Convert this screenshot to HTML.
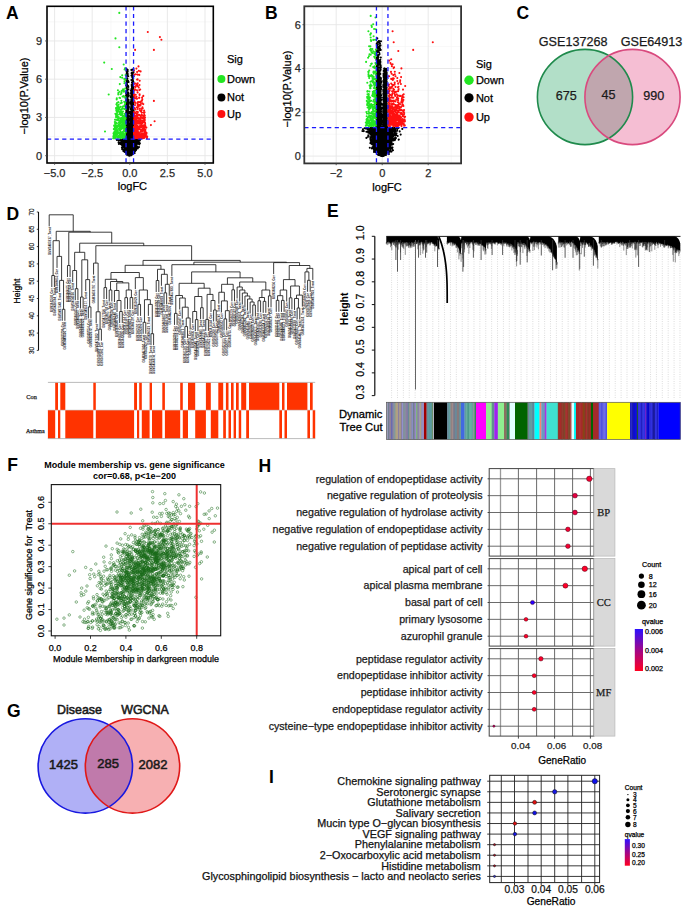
<!DOCTYPE html>
<html><head><meta charset="utf-8"><title>Figure</title>
<style>html,body{margin:0;padding:0;background:#fff;width:685px;height:908px;overflow:hidden}
svg{display:block;font-family:"Liberation Sans",sans-serif}</style></head>
<body><svg width="685" height="908" viewBox="0 0 685 908"><line x1="73.4" y1="6.3" x2="73.4" y2="163" stroke="#f3f3f3" stroke-width="0.6"/><line x1="111" y1="6.3" x2="111" y2="163" stroke="#f3f3f3" stroke-width="0.6"/><line x1="148.6" y1="6.3" x2="148.6" y2="163" stroke="#f3f3f3" stroke-width="0.6"/><line x1="186.2" y1="6.3" x2="186.2" y2="163" stroke="#f3f3f3" stroke-width="0.6"/><line x1="47" y1="136.57" x2="213.3" y2="136.57" stroke="#f3f3f3" stroke-width="0.6"/><line x1="47" y1="98.32" x2="213.3" y2="98.32" stroke="#f3f3f3" stroke-width="0.6"/><line x1="47" y1="60.07" x2="213.3" y2="60.07" stroke="#f3f3f3" stroke-width="0.6"/><line x1="47" y1="21.82" x2="213.3" y2="21.82" stroke="#f3f3f3" stroke-width="0.6"/><line x1="54.6" y1="6.3" x2="54.6" y2="163" stroke="#e6e6e6" stroke-width="0.9"/><line x1="92.2" y1="6.3" x2="92.2" y2="163" stroke="#e6e6e6" stroke-width="0.9"/><line x1="129.8" y1="6.3" x2="129.8" y2="163" stroke="#e6e6e6" stroke-width="0.9"/><line x1="167.4" y1="6.3" x2="167.4" y2="163" stroke="#e6e6e6" stroke-width="0.9"/><line x1="205" y1="6.3" x2="205" y2="163" stroke="#e6e6e6" stroke-width="0.9"/><line x1="47" y1="155.7" x2="213.3" y2="155.7" stroke="#e6e6e6" stroke-width="0.9"/><line x1="47" y1="117.45" x2="213.3" y2="117.45" stroke="#e6e6e6" stroke-width="0.9"/><line x1="47" y1="79.2" x2="213.3" y2="79.2" stroke="#e6e6e6" stroke-width="0.9"/><line x1="47" y1="40.95" x2="213.3" y2="40.95" stroke="#e6e6e6" stroke-width="0.9"/><path d="M129.7 151.5h0M128.4 142.9h0M128.9 147.4h0M129.8 146.4h0M131.7 139.9h0M130.9 152.9h0M129 140.5h0M130.5 144.2h0M129.5 155h0M128.4 151.9h0M127.9 142.4h0M132.5 149.1h0M130.2 152.8h0M128.2 144.7h0M126.8 154.1h0M127.8 141.2h0M133.9 143h0M138.8 139.8h0M124.8 139.3h0M127 141.9h0M129 153.9h0M129.3 149h0M131.1 153.7h0M127 140.4h0M137.6 141.9h0M132.7 148.4h0M133 151.7h0M129.2 153.9h0M129.2 155h0M133.5 143.2h0M129.2 142.7h0M131.6 148.4h0M132.5 141.7h0M134.5 141.7h0M129.4 144.1h0M130.9 142.7h0M134.3 139.8h0M125.5 148.3h0M128.9 146.8h0M135.2 144.3h0M123 142.7h0M127.6 151.7h0M131.8 141.9h0M132.8 140.8h0M126.5 144h0M132.1 142.3h0M125 148.8h0M127.7 145.1h0M123.5 143.8h0M131.4 150.8h0M127.6 141.2h0M127.1 153.3h0M129.2 149.4h0M127.4 143.1h0M123.9 139.5h0M132.5 143.9h0M130.3 144.3h0M135.1 140.3h0M130.3 147.5h0M122.3 140.1h0M124 142.9h0M118.9 144h0M131.2 147h0M130 140h0M130.4 141.3h0M127 148.3h0M131.7 140.3h0M129.4 150.4h0M130.1 147.4h0M131.8 140h0M132.2 145.6h0M126.8 145.8h0M129.5 146.1h0M130.1 154.3h0M132.4 145.4h0M131.3 154.1h0M129.2 150.5h0M130.3 141.2h0M124.3 139.3h0M118.6 140.2h0M130.2 148.4h0M128.4 149.2h0M129.3 143.5h0M130.9 150.3h0M129.9 154.1h0M130.4 140.3h0M127.9 141.6h0M127.9 139.6h0M128.5 149.5h0M131 149.4h0M132.7 143.6h0M126.5 140.7h0M128 149h0M129.4 145.1h0M136.9 143.4h0M134.2 144.7h0M134.4 140.4h0M130.1 148.5h0M131 152.2h0M128.4 150.6h0M130.2 142.2h0M131.4 152.2h0M132.4 144.3h0M129.3 150.7h0M127 150.5h0M123.5 151.3h0M128.8 148.1h0M132.4 154h0M125.9 147.5h0M127.9 154.9h0M131.4 149.8h0M129.5 149.4h0M125.1 144.8h0M134.5 150.2h0M126.3 148.9h0M132.2 148.6h0M132.4 148.5h0M128.1 145.5h0M129.8 155h0M136.3 142.1h0M132.5 146.3h0M128.8 151.6h0M132.5 149.7h0M129.7 152.8h0M135 148.7h0M130.4 153h0M133 142.4h0M137.5 148h0M128.5 149.1h0M127.8 143.7h0M127.7 142.3h0M131.7 151h0M131.2 153.7h0M121.7 140.8h0M130.1 154.6h0M127.4 143.6h0M127.6 152.6h0M131.8 150.4h0M130.2 143.7h0M128.3 153.3h0M131.2 153.8h0M131.7 146.8h0M128.5 147.7h0M130.3 149.7h0M136.2 140.4h0M128.8 144h0M132.1 147h0M131 155.1h0M130.6 146.7h0M131.1 143.9h0M127.8 144.4h0M132.3 147.8h0M127.9 144.2h0M131.7 151.7h0M127.7 149.8h0M129.3 144.3h0M131.2 140.5h0M129.4 147.4h0M135.1 145.6h0M129.9 146.6h0M132 142.9h0M137.2 146.8h0M130.2 152.7h0M129.3 139.6h0M131 143.2h0M132.3 149.4h0M130.4 144.7h0M128.9 144.1h0M128.7 152.9h0M126.9 146.6h0M130.8 150.6h0M126.5 152.1h0M121.5 142.5h0M125.9 145.1h0M130.8 151.9h0M129.9 152.3h0M134.2 143.2h0M123.6 139.9h0M131.1 144.3h0M130.6 154.5h0M129.6 148.6h0M132.6 147.2h0M131 149.3h0M127.2 147.8h0M136.5 140.7h0M128.9 146.9h0M130.1 151.9h0M130.8 150.9h0M128.3 144.7h0M125.3 144.7h0M129.5 144.5h0M129.5 146.8h0M130.5 145.9h0M134 141.7h0M128.2 148.2h0M129 154.8h0M132.6 148.3h0M130.7 150.5h0M132.8 143.1h0M134.3 139.6h0M134.9 145h0M128.6 155.5h0M128.5 155.4h0M129.6 152.4h0M130.7 148.5h0M136 147.8h0M126.8 142.2h0M136.2 143.3h0M135.2 139.9h0M134.1 143.2h0M128.5 140.2h0M130.3 154.9h0M126.7 149.7h0M127.7 146.8h0M127.9 139.9h0M125.1 141.4h0M131 152.4h0M122.1 142.3h0M125.6 141h0M129.4 151.9h0M131.7 147.1h0M127.5 141.5h0M130.1 151.1h0M128 141.9h0M128.5 154.2h0M130 144.7h0M130 152.8h0M125.3 139.8h0M129.8 154.7h0M129.6 141.6h0M128.7 150.4h0M123.3 141h0M124.7 149.7h0M122.3 146.2h0M128.2 147h0M131.6 146.1h0M129.4 152.4h0M134.2 139.1h0M133.1 143.8h0M124.6 142.3h0M129.3 153h0M126.4 148.4h0M127.7 149.1h0M124.1 139.4h0M124.9 146.8h0M129.2 151.3h0M129 150.1h0M125.9 145h0M128.6 145.4h0M130.6 147.8h0M126.7 142.3h0M136.3 141.8h0M134.1 139.2h0M129.6 145.9h0M130.1 147.9h0M126.8 148.1h0M127.4 146.2h0M133.8 144.7h0M132 150.4h0M129.3 142.7h0M131.7 148.3h0M125.1 146.6h0M131.8 139.3h0M129.3 150.5h0M128.8 141.8h0M130.7 147h0M126.5 143.1h0M129 142.3h0M124.1 146.4h0M130.5 141.6h0M131.9 151.9h0M129 145.1h0M126.4 140.7h0M127.4 139.7h0M131.1 143.3h0M131 139.9h0M124.7 144.5h0M129.3 143.7h0M128.6 154.1h0M124 141.8h0M128.8 154.9h0M126 143.8h0M134.7 140.8h0M129.6 147.4h0M126.6 146.1h0M127.4 140.6h0M130.8 144.6h0M124.9 147.7h0M130.6 154.5h0M131.2 144.5h0M127.3 152.1h0M129.1 151.7h0M129.3 149.5h0M129.5 154.4h0M129.2 155.5h0M135.6 145.2h0M125.9 140.9h0M126.6 141.5h0M129.6 154.8h0M130.4 154.6h0M127.1 150.8h0M131.1 148.8h0M136 142h0M128.5 149.7h0M129.9 152.4h0M125.4 143.4h0M129.6 146.3h0M138.7 142.6h0M128.1 144.6h0M125.5 139.2h0M127 147h0M131.6 143.6h0M123.9 143.3h0M125.8 143.5h0M130.7 140.2h0M131.3 154.1h0M133.2 146.4h0M130.6 151.1h0M134 146.7h0M131 154.3h0M131 140.8h0M133 145.6h0M131.7 148.5h0M129.1 143.8h0M129.2 146.7h0M132.2 141.4h0M130.6 143.4h0M131.3 141.4h0M136.4 141.8h0M130.7 153.6h0M132.9 148h0M125.4 146.9h0M130.5 153.7h0M126.6 145.4h0M132 144.8h0M128.7 145.8h0M129.1 144.1h0M126.2 139.8h0M123.6 139.9h0M127.7 139.6h0M124.9 146.1h0M130.1 155.5h0M129.6 146.4h0M131.2 150.9h0M131 143.2h0M130.9 150.2h0M129 142.1h0M135.4 142.5h0M129.3 154.5h0M124.6 140.1h0M133.4 143.3h0M131.7 142.9h0M130.1 153.9h0M130.7 150.8h0M128.2 144.8h0M129.6 141.8h0M132.8 148.6h0M131.7 140h0M129 145.8h0M129.8 152.8h0M130.2 142.9h0M127.2 151.8h0M132.3 141.9h0M127.7 147h0M131 142.5h0M129.5 146.1h0M125 147.6h0M127.2 143.6h0M131 151.6h0M129 153.4h0M128.9 144.8h0M127.7 148.8h0M132.5 144.5h0M132.8 142h0M128.5 145h0M133.7 149.1h0M125.9 141.7h0M128.6 139.7h0M128.6 152.5h0M132.4 141h0M130.3 144.3h0M132.1 141.2h0M129.1 146.2h0M133.6 140.1h0M132.5 144h0M129.2 149.9h0M129.3 145.5h0M129.8 154.4h0M132.5 146.3h0M129.1 148.9h0M129.4 151.9h0M125.7 139.3h0M136 140.5h0M139.3 144.4h0M129.5 142.6h0M132.6 148.7h0M123.4 145.7h0M129.9 152.6h0M130.9 142.9h0M131.7 149.5h0M127.6 147.1h0M125.3 144h0M125.7 142.7h0M129.4 147.6h0M127.2 141.6h0M126 149.8h0M129.1 148.2h0M121.6 141.4h0M127.8 141.6h0M128.1 148.6h0M133 143.5h0M131.7 150.8h0M129.9 150.7h0M130.5 142.4h0M126.7 151h0M132.4 146.4h0M128.7 147h0M133.3 142.7h0M132.4 149.2h0M130.5 150.5h0M130.5 147.4h0M132.3 148.2h0M127.8 152.2h0M136 141.4h0M126.1 145h0M129.9 152.7h0M131.3 143.6h0M127.6 147.2h0M132.2 152.5h0M131.1 139.2h0M129 150.3h0M122.3 146.4h0M128.4 150.5h0M128.9 145.1h0M131.4 139.2h0M127.8 145.8h0M130.3 148.9h0M126.9 145.6h0M128.4 139.9h0M131.9 147.6h0M128.6 152.7h0M127.2 143.5h0M129.1 152.4h0M126.3 147.7h0M130.6 154.2h0M132.6 147.8h0M131.6 143.7h0M132.9 140.7h0M131.4 142.1h0M130.7 141.9h0M127.4 148.8h0M129.8 147.4h0M131.1 144.1h0M126.1 148.8h0M132.4 150.5h0M124.6 146.7h0M131.7 147h0M133.9 144.9h0M129.7 152.8h0M129.5 152.6h0M131.3 143.9h0M131.7 147h0M130.5 141.3h0M136 144.6h0M129.8 151.5h0M131.5 145h0M130.9 142h0M127.8 141.9h0M132.8 150.4h0M131 139.8h0M131.1 147.5h0M127.3 144.5h0M128.7 146.3h0M129.5 140.2h0M128.5 148h0M130.1 142.3h0M125.7 142.6h0M125.8 141h0M130.5 153.7h0M129.7 153.4h0M126.9 144.6h0M127.8 148.7h0M135.8 143.1h0M127.2 140.2h0M123 140.3h0M130.6 144.2h0M127.9 153.2h0M125.5 139.7h0M124.8 145.3h0M127.4 145.7h0M129.8 145.7h0M134.7 139.4h0M128.2 154.2h0M134.5 149.3h0M130 146.4h0M131.8 147.9h0M129.2 153.7h0M127.9 148.2h0M129 153.7h0M127.8 147.3h0M128.6 152.3h0M138.2 143.3h0M129.3 151.1h0M125.3 147.7h0M129.8 149h0M126.7 148.2h0M128.4 148.1h0M129.4 150.6h0M130.1 153.6h0M135 140.4h0M131.9 147.9h0M120.9 144.2h0M131 145.9h0M123.2 139.8h0M127.3 145.3h0M129.3 139.3h0M129.6 154.9h0M132.3 140.3h0M133 140.9h0M124.4 148.1h0M134.2 140.9h0M133.6 144.5h0M132.3 144.3h0M130.8 149.5h0M131.9 151.8h0M127.2 141h0M133.8 147.6h0M130.7 142.3h0M137.8 142.2h0M130.4 152.4h0M129.7 145.8h0M129.3 153h0M131.1 140.7h0M134.5 140.1h0M128.5 152.5h0M136 143.1h0M133 142.2h0M130 147.3h0M133.9 142.9h0M130 152h0M131.6 142.4h0M131.2 151.8h0M128.4 144h0M131.5 139.4h0M130.9 149.2h0M128.9 154.9h0M131.8 144.7h0M129.6 149.5h0M129.6 146.4h0M128.5 144.1h0M132.2 151.6h0M127.4 147.4h0M129.3 150.3h0M133.5 149.5h0M130.8 153.3h0M130.8 148.9h0M125.8 147.3h0M123.9 144.7h0M128.6 148h0M128.9 140.5h0M135 142.5h0M127.4 151.5h0M130.9 148.6h0M135.9 144.4h0M127.2 145.4h0M120.5 143.4h0M130.7 139.3h0M125 149.4h0M125.2 139.6h0M134.4 141.5h0M122.6 144.8h0M134.8 147.2h0M128.1 142.2h0M128.5 143.8h0M128 148.9h0M128.9 153.4h0M132.7 147.6h0M131.2 149.1h0M129.3 154h0M128.9 147.7h0M130.2 154.7h0M135.8 142.2h0M128.4 140.3h0M130.9 152.7h0M125.6 148.2h0M134 144.9h0M125.4 150.3h0M134.8 141.6h0M131.2 145h0M127.5 147.1h0M128.8 144.4h0M127.1 141.8h0M133.2 149.2h0M132.5 142.5h0M133.7 139.9h0M128.4 146.9h0M125.8 146.4h0M131.9 153.7h0M132.8 150.1h0M124.4 141.7h0M129.2 148.2h0M129.4 140.9h0M131.1 150.8h0M132.2 148.6h0M129.2 150.7h0M128.6 142.2h0M124.6 139.5h0M132.7 142.1h0M130.2 144.5h0M134.4 143.1h0M129.9 151.4h0M131.7 152.5h0M124.5 140.4h0M129.7 153.8h0M126.9 153.4h0M133.4 141.3h0M122 142.2h0M132.8 142.5h0M137.7 141.7h0M128.8 141.6h0M125.8 148h0M130.5 147.1h0M130.3 149.8h0M128.9 144.3h0M124.2 144.2h0M127.6 145.7h0M135.6 140.8h0M126.6 152.6h0M128.1 147h0M130.6 152.4h0M128.7 148.8h0M129.2 153.3h0M131.4 148h0M128.3 141h0M130.7 149.9h0M129.2 147.7h0M131.3 146.5h0M127.8 140.2h0M127.6 141.4h0M131.7 153.6h0M131 154.9h0M130.2 151.7h0M134.9 147.9h0M128.6 153.6h0M130 154.2h0M126 147.3h0M134 139.5h0M129.9 151.4h0M129.7 154.9h0M131.6 153.1h0M124.4 145.1h0M131.8 140.7h0M123.7 141.4h0M129.2 149.5h0M136.1 140.4h0M126.5 151.9h0M124.9 144.7h0M127.7 145h0M129.1 145.2h0M130.3 143.1h0M128.5 139.3h0M126.1 146.4h0M133 140.8h0M129 150.4h0M129.2 151.8h0M135.4 147.1h0M128.7 141.6h0M124.1 149.9h0M132.2 141.5h0M130.6 154.2h0M139 147.1h0M125.3 139.5h0M132.3 151.7h0M131.7 147.9h0M130 150h0M129.5 148.9h0M126.8 147.3h0M124.6 139.7h0M129.2 143.8h0M133.7 141.9h0M130.5 141.1h0M127.2 147.8h0M133.4 143h0M124.7 143.3h0M130.9 153.7h0M136.3 148.3h0M130.4 152.1h0M128.2 146.8h0M133.3 140.6h0M128.6 151.8h0M129.4 149.8h0M132.5 148.7h0M124.7 141.4h0M129.2 145.2h0M132.5 145.4h0M133.5 139.1h0M129.6 150.6h0M130.7 142.9h0M128 146.3h0M129.7 149.6h0M128.8 145h0M127.2 149.1h0M131.8 145.8h0M127.3 148.4h0M130.6 154.1h0M130.7 152.1h0M128.6 152.2h0M131.6 139.7h0M130.7 146.5h0M133.6 145.5h0M127.2 147.9h0M136.7 141.5h0M130.1 149.9h0M128.2 151.8h0M128.1 151.4h0M124.3 146h0M127.4 149.7h0M128.2 150.8h0M130.5 151.6h0M132.1 139.3h0M129.8 144.3h0M124.5 140.4h0M127.9 144.5h0M131.1 152.2h0M134.1 139.6h0M129.7 145.2h0M129 149.1h0M133.2 152h0M134 142.1h0M132.4 141.9h0M129.9 155.6h0M128.7 152.2h0M128.3 142.4h0M127.2 142h0M123.7 144.6h0M129.6 151.8h0M126.1 148.9h0M126.2 142h0M130 151.2h0M124.7 147h0M129.7 147h0M127.5 141.7h0M127.3 140.4h0M133.9 144.1h0M131.5 148.2h0M129.6 146h0M137.6 143.7h0M127.8 145.2h0M130.6 154.7h0M126.7 145.9h0M133.4 141.9h0M135.6 144.4h0M127 141.9h0M133.2 141.1h0M126.8 139.8h0M131.1 151.9h0M130 145.5h0M132.8 145.8h0M129.3 143.1h0M127.1 148.7h0M131.4 149.9h0M127.4 139.5h0M129.9 142.4h0M131.5 148.6h0M128 139.7h0M129 145h0M120.3 140.5h0M127.3 144.3h0M124.8 147.6h0M131.3 152.3h0M132.9 144.8h0M132.9 144.9h0M128.4 153.5h0M130.6 154.6h0M128.1 146.8h0M133.4 147.6h0M139.9 143.2h0M137.5 140h0M127 148.6h0M131.2 142.2h0M131.7 148.3h0M136.1 140.3h0M132.1 152.9h0M129.9 146.6h0M129 154.2h0M133.6 146.4h0M134.1 144.3h0M132 144.7h0M128.6 150.9h0M131.2 140.9h0M128.7 139.4h0M133.6 148h0M126.5 140.6h0M126.3 149.4h0M125.9 147.8h0M128.6 149.5h0M133.4 144.7h0M133.7 144.7h0M133 143.2h0M131 143.9h0M135.2 139.3h0M130.7 154h0M128.4 141.8h0M132.6 151.9h0M131.5 152.6h0M126.8 146.3h0M130.3 145.6h0M130.5 145.2h0M129.9 155.3h0M128.5 151.4h0M135.6 144.9h0M132.4 141.5h0M124.4 147.2h0M125.9 145.9h0M129 143.4h0M128.7 153.1h0M123.5 142.8h0M135.9 141.2h0M128 149.1h0M128.9 153.8h0M129.5 152.2h0M130.8 154.5h0M132.4 147.9h0M129.5 152.2h0M130.1 148.5h0M132.5 140.4h0M136.8 140.9h0M132.7 139.8h0M130.4 150.3h0M130.1 153.8h0M134.1 148.8h0M129.9 147.3h0M128.5 146.3h0M120.5 139.5h0M133.3 149.3h0M130.4 148.8h0M129.8 150.6h0M124.5 144.7h0M133.8 140.1h0M127.1 152.2h0M131.4 148.1h0M127.9 147.9h0M122.6 143.5h0M135.3 143.2h0M130.7 150.7h0M131.2 148.5h0M131.6 145.8h0M131.9 141h0M132 141.2h0M131.8 151.1h0M128.8 139.2h0M128.9 148.6h0M129.9 155.4h0M129.6 149.7h0M133.9 143.7h0M133.6 140.2h0M131.3 153h0M136.2 143.4h0M125.1 145.2h0M126.3 150.9h0M125.7 140.4h0M128.8 153.8h0M137.4 142h0M125.5 147.6h0M134.4 140.8h0M131 148.7h0M130.4 142h0M128.2 150.2h0M128.4 149.4h0M129.8 148.6h0M131.1 150.1h0M131.4 145.5h0M125.7 143.9h0M128.8 141.2h0M130.8 147.9h0M129.5 139.3h0M130.9 148.8h0M131.1 149h0M129.4 145.1h0M131.7 147.2h0M130.6 146.5h0M125.1 139.2h0M135 143.3h0M129.6 152.2h0M126.3 145.6h0M130.9 149.6h0M131.1 148.8h0M129.9 155.4h0M132.6 143.3h0M130.3 146.9h0M126.2 141.8h0M129.9 143.7h0M126.2 143.4h0M128 153.5h0M127.6 148.8h0M126 145.2h0M130 152.2h0M125.4 139.3h0M124.5 142.4h0M127.6 141.7h0M133.9 140.6h0M135.1 150.5h0M128.6 140.3h0M124 144.1h0M130.8 140.2h0M129.1 141.7h0M131.3 151.6h0M129.2 143.9h0M129.8 150.1h0M130.4 147h0M129.6 153.5h0M126.4 145.8h0M130.4 141.4h0M128 150.3h0M135.2 141.2h0M130.2 147.1h0M128 144.8h0M128.9 151.3h0M127.5 146.9h0M124.2 142.5h0M130.4 155h0M128.8 152.6h0M128.6 144.4h0M126.2 140.1h0M127 145h0M129.4 151.4h0M130.5 140.9h0M127 139.3h0M129.8 154h0M124.6 150.4h0M131.6 139.2h0M128.7 145.1h0M130.3 147.4h0M136.9 142.6h0M129.1 154.9h0M132.1 143.3h0M125.2 141.8h0M132.4 143.8h0M131.1 154.6h0M132 140.8h0M131.6 152.6h0M133.8 141.8h0M132.3 142.1h0M128 154h0M126.2 151.5h0M134.2 144.8h0M131.5 144.3h0M133 150.7h0M133.2 152.2h0M126.6 143.7h0M124.3 143.2h0M131 140.4h0M132.2 147.9h0M133.2 143.7h0M130 142.3h0M130.2 140.8h0M128.5 139.4h0M123.1 146.2h0M126.1 151h0M124 141.2h0M124.5 140.9h0M134.2 142.5h0M125.1 145.6h0M131.7 142.4h0M127.3 145.5h0M138.4 141.4h0M136 145.3h0M132.4 146.1h0M133.4 142.8h0M126.9 142.5h0M130.5 149h0M127.9 143.5h0M130.9 155h0M131.4 147.5h0M128.1 154.6h0M124.3 147.3h0M125.8 148h0M129.3 152.6h0M128.7 140.3h0M128.4 152h0M123 149.8h0M128.2 145.9h0M129 147.2h0M130 145.6h0M129.3 152.5h0M130 152.5h0M125.5 149.9h0M133.7 140.5h0M132.1 141.2h0M130.1 152h0M129.9 148.4h0M129.7 152.6h0M126 147.1h0M131.4 140.6h0M134.1 141.6h0M134.9 145.4h0M129.1 143.9h0M128.2 150.2h0M134.2 142.2h0M130.8 151.5h0M126.6 139.6h0M130.3 143.3h0M123.8 146.8h0M124.5 139.5h0M128.8 146.1h0M131.7 143.6h0M131.6 145.5h0M127.6 139.9h0M131.9 145.3h0M130.6 150.8h0M130.9 154.1h0M126.5 141.2h0M126 152.6h0M130.1 151.3h0M134.7 151.5h0M126.5 142.9h0M130.1 141.4h0M123.8 144.6h0M129.9 140.1h0M129.9 145h0M128.6 147.9h0M123.5 139.1h0M130.9 142.3h0M126.1 150h0M130.4 149.9h0M128.6 147.6h0M128.1 150h0M128.7 143h0M128.8 146.9h0M134 147h0M132 139.7h0M127.6 140.2h0M126.2 147.2h0M131.3 144.1h0M128.9 152.4h0M122 142h0M132.3 147.9h0M128.8 144.2h0M124.5 145.5h0M135.2 151.1h0M128.1 145.1h0M126.5 145.1h0M129.5 142.7h0M130 149h0M131.1 146.5h0M133.3 152.4h0M130.6 154.7h0M134 142.1h0M134.8 147.2h0M128.6 154.2h0M133.6 151.7h0M131.5 141.2h0M126.8 147.9h0M127.6 146.5h0M134.7 139.2h0M130.3 150.5h0M126.9 147.2h0M132.1 141.5h0M126.6 144.4h0M131.3 139.6h0M126.7 154.6h0M129.7 140.1h0M132.3 148.8h0M125.7 146.3h0M134.7 143.5h0M133.1 144.1h0M129 155.4h0M124.7 143.7h0M132.3 141.9h0M132.3 141.2h0M129.9 148.4h0M134.2 147.7h0M133 144h0M127.2 139.3h0M129.1 149.6h0M127.8 146.2h0M126 151.6h0M127.9 141.5h0M126.8 143.5h0M128.7 147.9h0M127.3 139.2h0M128.5 144.9h0M130.8 144.6h0M134.3 142.9h0M133.6 143h0M128.5 154.3h0M135.7 146.7h0M126.6 143.5h0M127.4 145.5h0M127.9 139.8h0M122.9 141.6h0M132.8 147.6h0M128.3 153h0M131.2 149.5h0M127.5 148.7h0M133 139.6h0M131.9 143.3h0M131.3 149.2h0M134.7 144.8h0M128.4 151.8h0M132.8 148h0M134.6 149h0M127.6 149h0M130.7 145.3h0M129.2 140.9h0M130.8 154.5h0M128.3 150.3h0M136.5 139.7h0M129 153.9h0M134.5 142.6h0M126.2 143.2h0M134.3 141.3h0M128.6 143.7h0M132 152.1h0M131.6 144.8h0M125.5 143.2h0M127.7 149.7h0M128.8 152.9h0M127.9 148.6h0M134.9 141.7h0M132.1 149.1h0M131.9 154.5h0M128.4 143.1h0M131.4 148.6h0M130.2 154.6h0M131.7 155.1h0M127.4 144.4h0M126.2 142.6h0M124.9 142.7h0M125.6 142.3h0M133.1 152h0M126.9 140.2h0M123.9 144.2h0M129.8 153.8h0M127.3 149.8h0M139.1 141h0M124.9 144.2h0M129.9 148.4h0M131.6 153.7h0M131.4 153.3h0M126 149.4h0M133.1 146.4h0M132.2 149.8h0M133.6 145.2h0M130.7 144.8h0M134.1 147h0M128.1 153.3h0M128.3 153.5h0M129.7 155.4h0M126.6 144.8h0M129 147.4h0M125.9 145.7h0M130.7 147.7h0M134 145.9h0M134.7 141.7h0M132.9 139.7h0M128.6 147.1h0M131.2 141.3h0M128.9 152.7h0M130.8 150.7h0M132.5 150.1h0M131.4 145.8h0M126 147.9h0M128.2 142.6h0M125.7 142.4h0M130.8 153.6h0M125.3 149.8h0M127.7 154.3h0M129.6 141.7h0M135.3 142.8h0M130.1 154.9h0M134.4 140.9h0M131.4 144.4h0M130.7 139.9h0M129.1 144.3h0M128.7 152.7h0M134.5 140.2h0M134.8 140.8h0M127.3 142.6h0M130.4 143.7h0M127.8 146.1h0M126.4 140.8h0M128.4 148.1h0M131.3 154.9h0M129.3 152.9h0M129.5 151.3h0M131 150.3h0M129.5 152.8h0M125.5 145h0M125.4 143.3h0M129 154.9h0M125.9 150.5h0M128.5 154.4h0M129.3 139.3h0M130.7 151.6h0M137.7 143.6h0M131 148.5h0M132.9 144.7h0M130.5 145.2h0M127.4 141.2h0M131.6 142.7h0M126.7 140.6h0M129.8 143.4h0M127.2 148.4h0M133.2 142.9h0M131.2 153.3h0M129 142.1h0M130.9 148.1h0M132.8 141.6h0M123.9 147.7h0M130.9 147.8h0M129.1 140.4h0M125 148.5h0M127.9 146h0M132.5 147.8h0M130.7 140.9h0M128.4 148.3h0M128.8 152.8h0M127.9 142.6h0M136.2 144.8h0M130.1 153.7h0M127.7 142.2h0M132.2 151.5h0M128.8 139.1h0M136.2 145.7h0M134 147.6h0M128.6 142.8h0M132.3 141.4h0M133.3 140.7h0M129.6 141.4h0M132.5 149.1h0M125.5 149.2h0M126.7 147.9h0M132.6 139.1h0M130.7 153.9h0M131.3 141.2h0M127.7 144.9h0M131.7 141.6h0M126 150.8h0M131.6 140.2h0M125.9 140h0M129.6 152.7h0M126.3 143.8h0M131.2 146.2h0M136.8 141.1h0M131.2 154.2h0M130.2 139.8h0M132.8 146.9h0M134.2 140.7h0M130.9 140h0M134.2 149h0M131.3 141.1h0M129 150.8h0M132.5 142.7h0M124.5 143.2h0M132.8 139.6h0M129.8 144.7h0M127.4 149.7h0M127.6 147.6h0M129.7 155.4h0M122.6 141h0M132.5 140.1h0M129.8 142.5h0M130.6 153.7h0M123.3 145.6h0M131.9 150.1h0M129.9 151.1h0M130.5 150.3h0M128.2 150.4h0M129.6 148.7h0M127.9 141h0M127.3 142.9h0M132.9 150.7h0M128.8 147.5h0M131.4 151.6h0M131.8 148.3h0M129.6 155.2h0M129.5 148h0M129.3 152h0M133.2 141.5h0M128.8 142.9h0M127.6 151.2h0M130.7 144.6h0M131.5 146.3h0M129.3 145.4h0M132.7 140h0M134.1 140.6h0M132.6 144.8h0M128.8 150.8h0M131.1 144.4h0M131.5 146.9h0M130 146.7h0M128.4 143h0M127.1 143.5h0M130.8 147.2h0M132.2 146.5h0M132.1 143.4h0M126.9 146.3h0M131.3 153.2h0M130.8 151.2h0M129 149.2h0M125.5 146.8h0M130.3 146.3h0M133.5 143.5h0M132.6 152h0M131 150.3h0M127.2 144.4h0M132.5 145.5h0M124 146h0M131 149.4h0M128.9 151.4h0M129.1 145.1h0M131.3 153.3h0M129.2 142h0M130.7 149.6h0M129.2 153.4h0M122.9 139.1h0M131.3 145.9h0M129.1 142.6h0M124.9 141.7h0M126.2 151.6h0M131.9 152.1h0M131.7 139.9h0M128 145.1h0M131.8 149.1h0M128.3 141.1h0M133.1 143.2h0M131.9 154.2h0M130 147.2h0M132.4 149.4h0M129 141.6h0M131.4 143.7h0M130.2 147.2h0M133.2 149.7h0M130.2 151.7h0M132 148.1h0M133.6 143.3h0M136.1 150.1h0M127.8 144.3h0M130 154.1h0M131 142.9h0M131.3 143.5h0M128.8 147.2h0M129.9 152.2h0M129.1 153.2h0M131.6 151.3h0M125.9 140.2h0M134.2 139.4h0M134.5 147.5h0M131 143.8h0M130.4 148.2h0M127.1 146.1h0M130.6 152.9h0M128.4 152.9h0M128.7 154.8h0M139.9 140.5h0M133.6 145.2h0M131.7 149h0M127.5 141.7h0M128.9 147.5h0M133.5 148.3h0M128.1 141.8h0M131.6 151.4h0M127.4 154.2h0M130.1 148.7h0M133.7 149.8h0M130.7 151.9h0M124.6 148.9h0M127.5 148.6h0M134 149.5h0M129.7 153.1h0M129.6 153.2h0M127.9 141.7h0M127.3 146.2h0M131.1 140.8h0M131.4 153.8h0M129.2 147.5h0M126.1 150.6h0M131.6 148.3h0M130 147.8h0M130 153.4h0M129.1 145.9h0M132 143.6h0M129.7 142h0M127.8 151.3h0M129.7 148.3h0M133 143.7h0M130.2 153.8h0M126.5 144.8h0M130.9 154.3h0M131.7 153.4h0M126.7 150.8h0M126.7 147.4h0M133.9 148.3h0M126.9 144h0M126.8 149.4h0M133.4 141.4h0M130.6 153.7h0M126.9 146.3h0M134 145.1h0M126.2 141.6h0M134.3 141.4h0M133.7 139.8h0M130 154.8h0M124.8 141.8h0M129.3 152.1h0M132.6 151.6h0M129.7 139.3h0M131.4 147.1h0M128.5 149.2h0M128 152.5h0M124.1 149.5h0M125.9 148.3h0M122.9 145.4h0M128 145.9h0M129.8 144.6h0M130.8 150.9h0M130.6 144.6h0M131.1 144.1h0M129.5 144.2h0M128.8 154.6h0M125 144.2h0M127.9 145h0M126.6 140.3h0M128.5 154.3h0M127.1 148.6h0M125.5 145h0M131.7 140.2h0M131.9 145.5h0M130 140.1h0M128.1 139.7h0M129 144.6h0M130.7 154.8h0M129.3 152.2h0M133.7 143.2h0M129.7 148h0M126.8 144.3h0M130 140.6h0M127.8 141.3h0M131.8 152.9h0M128.2 145.9h0M129.8 143.8h0M123.9 139.4h0M130.1 154.4h0M128.8 153.5h0M133.1 145.2h0M131.5 145.8h0M132.4 146.2h0M130.3 152.9h0M129.9 155h0M131.2 142.6h0M133.2 151.6h0M131.4 144h0M123.7 141.7h0M124.2 140.9h0M123.3 144.9h0M129.9 154.3h0M127.8 140.8h0M122 141.9h0M129.2 141.1h0M126.4 146.8h0M131.2 146.1h0M129.4 150.1h0M129.8 147.4h0M129.7 145h0M128.3 141.5h0M122.8 143.2h0M125.6 146.6h0M128.2 147.1h0M127.2 149h0M129.1 139.4h0M129.2 153.9h0M129.8 146.3h0M129 146.1h0M131.2 143.9h0M131.7 153.9h0M128.8 146.2h0M129.4 154.8h0M131.6 143.3h0M123.5 144.5h0M124.2 146.5h0M131.8 139.5h0M131.7 146.8h0M126.4 139.8h0M127.4 152.4h0M130 155.2h0M130.9 154.4h0M127.9 148.7h0M127.7 151.1h0M130.9 150.4h0M129.7 143.6h0M122.8 140.6h0M128.8 145.1h0M129.1 155.1h0M130.5 153.5h0M131 147.3h0M132.1 148.5h0M135.5 139.6h0M129.1 153.7h0M127.1 150.8h0M123.1 141.5h0M130.9 152.7h0M133.7 139.7h0M126.3 149.6h0M128.2 153.6h0M125.8 140.9h0M128.5 149.4h0M128.7 149.5h0M127.3 150.9h0M129.4 150.4h0M132.3 141.9h0M135.5 144.4h0M134.3 145.8h0M130.7 153.9h0M128.3 143.3h0M128.3 152.2h0M133.4 144.9h0M129.7 145.2h0M131.3 143.9h0M128.9 147.5h0M131.9 152h0M121.1 140.3h0M131.4 146.3h0M128.2 150.5h0M135.1 139.8h0M132.4 148.2h0M130.3 142.2h0M129.5 152.3h0M128.7 145.5h0M128.4 144.4h0M127.9 149.2h0M130.9 150.8h0M129.7 152.8h0M130.8 141.8h0M131.6 141.2h0M128.4 145.3h0M128.4 152.6h0M128.2 150.6h0M128.2 142.8h0M130.8 154.8h0M124.8 145.4h0M126.1 145.6h0M130 146.6h0M128 142.3h0M124.9 144.3h0M131.9 142.7h0M131.4 147.1h0M126.3 141.3h0M127.1 143.8h0M127.7 152.7h0M127.9 145.2h0M130.3 146.9h0M127 141.5h0M130.3 153.7h0M127.2 140.7h0M128.2 153.9h0M129.6 139.5h0M130.2 143.5h0M119.7 142.9h0M129.1 142.6h0M132.3 149h0M128.2 141.6h0M129.2 145.6h0M126.7 151h0M129.9 143.9h0M128.9 144.6h0M127.1 145.9h0M133.3 140.6h0M126.8 146.6h0M133.6 151.1h0M129.1 151.4h0M125.9 141.6h0M123.8 139.9h0M130.7 148.2h0M129.5 154.4h0M127.7 152.4h0M124.9 143.8h0M130.7 143.6h0M127.7 149h0M129 146.7h0M130.9 152.2h0M129.7 153.4h0M127.7 146.8h0M135.2 140.4h0M134.5 146.8h0M131.3 144.7h0M134.7 141.7h0M130 145.9h0M138.2 143.2h0M130.3 149.4h0M130.1 151.5h0M129.5 155.7h0M130.5 149.8h0M130.5 150h0M129.6 146.8h0M129 142.3h0M132.6 148.4h0M133.6 140.2h0M132.8 143.9h0M126 148h0M127 147.3h0M133.5 140h0M126.2 148.2h0M136.7 141.9h0M127.6 141.2h0M122.9 140.4h0M128.5 152.8h0M133.4 146.3h0M130.8 144.8h0M129.4 141.5h0M132.1 151.3h0M125.2 145.6h0M132 142.8h0M132.9 146h0M131.4 145.6h0M130.7 140.7h0M129.9 140.6h0M123.6 139.9h0M129.5 152.3h0M126.8 151.4h0M132.7 151.3h0M131.2 149.2h0M129.2 153.2h0M126.9 147.3h0M128.5 141h0M137.1 139.3h0M131.6 147h0M131.8 153h0M131.3 144.5h0M132.9 144.5h0M132.6 147.2h0M125.7 149h0M128.5 145h0M129.1 150.6h0M126.8 150.9h0M132.9 140.7h0M126.1 144.1h0M129.1 155h0M127.6 144.2h0M128.7 151.8h0M130.4 140.1h0M126.4 141.8h0M135.3 141.8h0M127.9 147.3h0M130.3 154.5h0M131.1 151.7h0M127.9 141.7h0M129.2 152.5h0M129.5 154.9h0M130.7 140.2h0M129.5 139.3h0M128.8 153.2h0M131.5 150.3h0M130.4 150.2h0M130.5 150.5h0M128.4 142.7h0M129.7 147.8h0M124 147.5h0M131.6 150.3h0M133.4 151.3h0M122.2 143.7h0M125.9 145.1h0M128.3 141.9h0M135.1 139.9h0M132.1 146.2h0M127 147.4h0M132 141.7h0M130.1 151.9h0M128.9 146.7h0M128.3 139.4h0M127.4 152.7h0M127.4 147.3h0M130.3 152.6h0M129.8 147.4h0M131.8 152.1h0M127.3 141.9h0M133 142h0M127.1 139.7h0M129.8 155.1h0M135.1 147.2h0M129.7 150.9h0M132.2 149.6h0M129.7 145.1h0M131.5 150.9h0M126.8 144.5h0M130.4 152.9h0M129.6 152.2h0M134.3 141.7h0M132.5 147.4h0M129.4 146.5h0M126.3 149.4h0M129.9 144.1h0M130.9 152h0M130.1 154.1h0M128 146.9h0M133.2 144.3h0M129.5 143.8h0M128.8 150.1h0M136.7 145.8h0M129.8 141.8h0M128.6 149.1h0M124 146.5h0M135.1 141h0M131.1 141.8h0M127.8 139.9h0M124.5 144.8h0M131.5 140.1h0M132.8 145.3h0M126.3 143.3h0M129.7 149.7h0M133.6 145.3h0M126.2 141.7h0M124.4 140.5h0M132 146.5h0M129.5 140.7h0M135.8 145.1h0M130.6 150h0M129.9 139.8h0M131.1 147.6h0M121.6 142.1h0M130 154.4h0M129.9 151.9h0M132.2 140.7h0M130.5 139.2h0M131.6 146.7h0M133.4 140.9h0M134.2 151.2h0M125.5 139.3h0M131.4 154.6h0M127.7 149.4h0M125.3 147h0M127.3 144.8h0M128.8 154.7h0M129.3 146.4h0M125.3 141.5h0M132.5 141.6h0M127.1 144.8h0M129.3 140.9h0M132.4 147.2h0M128.9 142.5h0M131.2 144.6h0M127 150h0M130 147.2h0M130.9 141h0M132.9 145.7h0M128.9 144.6h0M133.6 140.3h0M129.1 150.7h0M130.4 149.2h0M131.3 154.2h0M126 143.5h0M131 144h0M132.3 151.9h0M134.6 144h0M125.4 148.6h0M133.6 143.3h0M130.8 155h0M130.4 153.9h0M130.4 144.7h0M130 145.8h0M132 151.3h0M127.4 142.6h0M118.6 142.4h0M133.4 143.2h0M132.5 139.6h0M128.5 142.9h0M134.8 144.9h0M124.9 141.5h0M128.7 154.7h0M136.5 142.4h0M130.1 145.7h0M131 144.6h0M130.2 142.4h0M130.6 139.9h0M125.7 139.6h0M127.2 149.8h0M128.1 141.3h0M130.9 145.6h0M132.5 147h0M129.7 141.6h0M121.9 147.7h0M129.2 148.2h0M132.9 149.8h0M133.1 145.3h0M129.1 150.4h0M132.1 150.9h0M130.1 139.9h0M128.1 149.4h0M131.5 141.8h0M130 148.9h0M130.9 144.5h0M126 141.3h0M130.1 146.1h0M132.6 139.5h0M129.5 154.8h0M127.5 153.1h0M127.3 143.6h0M129 147.2h0M126.4 148.2h0M125.2 141.8h0M127.8 141h0M129.3 152.3h0M126 142.7h0M129.3 139.1h0M130.3 145.7h0M130.7 139.6h0M127 143.4h0M127.5 145.7h0M129 147.6h0M129.3 154.2h0M134.6 148.7h0M130.3 154.3h0M126.2 146h0M132.3 140.4h0M132.6 140.3h0M130.6 150.7h0M132.8 146.8h0M133.4 145.3h0M131.8 146.8h0M124.5 141.2h0M130.5 153.6h0M128.6 145.5h0M125.6 142.2h0M139 143.5h0M125 144.7h0M134.1 146.2h0M131.3 143.2h0M125.8 147.9h0M126.4 144.7h0M131.5 152.1h0M128 151.7h0M130.1 149.5h0M130.2 155.3h0M136 145.1h0M133.3 148.6h0M128.3 153.2h0M131.1 140.1h0M128.4 142.1h0M127.8 147.1h0M131 141.1h0M129.3 152.2h0M123.1 144.4h0M127 143.8h0M132.3 148.4h0M133.1 141.8h0M128.5 148h0M131.3 150.9h0M126.5 145.8h0M134.2 143.6h0M130.6 148.2h0M134.3 144.7h0M130 152.2h0M127.9 150.5h0M129.3 154.4h0M132.1 142.8h0M131.8 149.3h0M132.7 152.2h0M136.7 144.2h0M125.2 144.3h0M138.4 139.6h0M127.1 145.1h0M130 153.3h0M129.4 150.5h0M128.6 150.7h0M129.7 151.2h0M135.7 142.1h0M139.9 139.5h0M130.9 140.6h0M131.3 150.9h0M131 141.1h0M129.5 153.2h0M128.4 139.2h0M131.2 152.7h0M132.2 145.6h0M130.2 144.5h0M127.9 145.2h0M130.1 149.5h0M134.3 142.7h0M127.4 142.2h0M128.6 151.7h0M129.4 149.3h0M127.4 145.8h0M128.3 141.6h0M136.9 139.9h0M131.2 146.5h0M127.9 144.3h0M129.4 152.9h0M128.6 139.4h0M125.6 149.1h0M129.9 148.9h0M132 139.7h0M133.2 140.4h0M125.8 152.4h0M134.7 149.1h0M127.1 149.9h0M133.1 148h0M129.9 144.5h0M128 149.1h0M136.1 144.6h0M128.9 153.7h0M131.3 141h0M125.9 148.7h0M133.4 142.1h0M129.4 141.5h0M131.5 147h0M131.6 147.8h0M127.6 141.8h0M128 148.8h0M132.2 145.3h0M133.2 142.7h0M127 139.4h0M130 140.5h0M127.9 144.5h0M126.3 145.8h0M127.9 152.6h0M129.4 146.6h0M132.2 144.1h0M131.4 151.2h0M134.5 147.1h0M127.9 145.1h0M132.1 153.3h0M128.8 145.7h0M132.3 149.9h0M126.4 153.6h0M126.6 139.1h0M133.8 144.4h0M127.8 152.4h0M130.3 150.4h0M128 143.7h0M136.2 148.3h0M132.1 152.6h0M130.5 154.1h0M129.3 142.5h0M129 142.5h0M133.8 148h0M130 153.1h0M135.7 145.7h0M133.3 139.8h0M125.4 142.3h0M127.1 150.6h0M130.6 149.5h0M130.2 153.8h0M122.1 145.3h0M129.1 152.3h0M130 142.1h0M128.7 151.5h0M127.8 145.2h0M129.9 150.9h0M131.8 144.4h0M131.2 146h0M138.8 141.8h0M129.6 150.4h0M128.7 147.2h0M126.5 148.4h0M132.5 145.3h0M132.3 148.6h0M133.1 146.2h0M126.8 150.7h0M131.8 147.9h0M123.5 141h0M135.1 145.7h0M131.4 150.6h0M123.8 141h0M128 141.4h0M135.9 141.3h0M127.1 142.9h0M130.6 144.1h0M127.2 146.6h0M126.2 149.5h0M127.7 141.3h0M127.9 140h0M130.3 143.5h0M130.5 139.6h0M134.3 140.1h0M133.5 147.6h0M124.8 151.9h0M128.4 148.4h0M131 145.8h0M129.2 143.4h0M133.9 153.1h0M129.6 146.8h0M132.9 153.4h0M133.5 151h0M129.4 149.1h0M132.2 139.3h0M131.2 149.4h0M128.6 145.7h0M130.9 148.2h0M129.7 144.4h0M125.8 150h0M133.5 141.2h0M127.8 148.1h0M134.3 143.6h0M129.7 153.6h0M132.2 141.8h0M127.5 149h0M133.2 141.3h0M128.3 140.8h0M133.7 150.8h0M126 143.7h0M130.5 154.9h0M124.8 148.7h0M131.1 142h0M129.1 153.6h0M130.7 153.4h0M129.2 150.9h0M129 144.8h0M130.9 153.7h0M129.7 155.2h0M129.9 141.5h0M130 151.2h0M130.3 146.8h0M131.3 145.5h0M127.6 151.3h0M132.4 146.1h0M124.7 142h0M129.7 143.6h0M133.1 146.7h0M129 153.1h0M134.4 147.1h0M128.3 143.1h0M129.5 142.5h0M133.9 142.9h0M128 150.5h0M127.5 152h0M131.4 150.7h0M128.8 153.8h0M126.9 145h0M127.3 153.8h0M125.1 144.2h0M130.2 139.5h0M128.9 139.9h0M130.2 152.1h0M127.6 143.2h0M130.5 141.6h0M127.5 147.6h0M130.4 141.5h0M125.8 147.1h0M131.9 140.5h0M131.2 148.1h0M123.4 146.2h0M127.3 152.6h0M128.6 139.8h0M132.7 143.4h0M125.6 151.2h0M125.3 140.1h0M127 144h0M137.1 146.7h0M130.4 146h0M128.9 151.5h0M127.5 150.9h0M129.6 146.8h0M129.7 154.4h0M128.3 151.1h0M127.7 143.4h0M125.4 147.5h0M128.7 150.1h0M126.1 148.1h0M131.2 140h0M134.6 139.3h0M127.6 140.5h0M121.9 141.9h0M127.7 141.8h0M130.3 150.4h0M132.8 143.5h0M123.3 139.5h0M132.7 142h0M125.7 149.6h0M129.5 141.1h0M132.8 140.9h0M127.8 149.4h0M123.1 140.3h0M131.4 150.7h0M130.6 154.2h0M135.8 145.5h0M129.4 150.6h0M129.9 146.1h0M135.5 143h0M123.9 143.4h0M130.9 149.3h0M127.1 147.7h0M132.8 140h0M132.3 153.4h0M135.4 146.2h0M129.9 145.8h0M134.4 145.2h0M128.3 140.2h0M133.2 141.9h0M127.3 144h0M129.5 147.5h0M127.1 141.6h0M129.1 148.3h0M128.1 146.6h0M129.3 142.3h0M130.5 150.9h0M132.7 146.6h0M128.6 148.7h0M131.8 142.5h0M130.4 154.2h0M132.9 145h0M125.1 142h0M129.7 147.4h0M130.1 149.1h0M127.9 140.9h0M129.4 153.7h0M130.6 153.1h0M122.5 139.8h0M131.1 151.5h0M128 153.4h0M129.8 152.6h0M127.7 145.7h0M127.6 150.5h0M128.2 148h0M130.6 154.4h0M127.4 142.9h0M125.8 144.5h0M138.8 142.9h0M135.2 144.7h0M127.1 150.6h0M133.7 141.1h0M124.5 140.5h0M128.2 152.6h0M126.5 145.2h0M134 149.5h0M130.2 154.1h0M132.2 151.8h0M132.2 146.8h0M130.2 142.5h0M131.1 153.4h0M129.7 141.7h0M129.9 141.6h0M131.5 140.4h0M131.7 150.2h0M128.8 145.5h0M127.3 151.6h0M130.4 148.4h0M126.7 140.8h0M128.4 141.5h0M128.7 150.6h0M127 146.1h0M129 148.7h0M129.7 139.6h0M127.4 151.4h0M133.4 144.8h0M130.5 140.4h0M126.9 142.9h0M128.7 154.3h0M130.7 151.4h0M128 143.2h0M133 141.4h0M131.2 148.3h0M122.2 149.2h0M127.3 145.9h0M126.1 146.4h0M130.2 143.5h0M126.7 148.2h0M124.4 141.5h0M133.3 141.3h0M130.3 140.1h0M128.5 150.6h0M130.5 149.8h0M128 153.5h0M130.3 140.6h0M130.6 149h0M129.3 151.1h0M122.9 141.7h0M131.5 146.2h0M127.3 144.1h0M129.8 146.9h0M132.8 144.5h0M131.3 145h0M133.5 143h0M127.5 145.6h0M130.1 151h0M131.1 139.4h0M129.8 151.6h0M128.2 143h0M128.5 150.1h0M129.8 155.4h0M125.9 151h0M129 150.5h0M132.9 148.8h0M128.4 153.5h0M127.9 148.3h0M131.5 146.1h0M135.6 139.4h0M130.1 151.7h0M130.7 148.8h0M128.7 155h0M131.4 153.3h0M128.1 150.4h0M129 146.1h0M124.9 139.5h0M124.3 144.4h0M131.2 140.1h0M133.3 144.6h0M129.3 143.9h0M128.5 143.1h0M132.9 147.8h0M138.4 139.6h0M127.6 149.9h0M129.3 150.3h0M133.5 144.3h0M131.4 145h0M124.6 139.5h0M131.6 148.2h0M130.5 148.3h0M128.1 149.3h0M130.6 145.6h0M128.6 153.7h0M135 142.5h0M132.6 149.6h0M128.3 154.6h0M126.4 150.2h0M133.8 141.1h0M129.5 146h0M127.7 140.6h0M130.3 149.8h0M128.8 153.5h0M131 151.8h0M124.9 147.2h0M128.5 151.3h0M136.1 144.5h0M127.1 152.1h0M127.8 150.5h0M134.6 140h0M131.1 143.2h0M125 145.8h0M128.4 149.3h0M133.5 144.6h0M130 147.8h0M116.9 139.9h0M132.7 144.9h0M130.7 150.6h0M130 150.5h0M131.9 154h0M129.4 139.3h0M132.8 146.8h0M131.2 155h0M133.5 146.7h0M121.1 140h0M136.4 139.3h0M130.3 150.3h0M129.7 149.6h0M128.3 154.6h0M129.4 142.4h0M129.3 145.9h0M128 149.2h0M130.4 154.9h0M129.1 140.5h0M130.1 144.4h0M128.6 146h0M132.6 153.5h0M126.2 141.2h0M138.8 142.2h0M125.6 149.8h0M130.6 141.7h0M129 141.4h0M131.1 150.5h0M131.1 149.1h0M129.5 155.1h0M134.7 153h0M131.1 143.8h0M129.4 142h0M129.1 145.9h0M129.9 149.9h0M133.4 142.1h0M126.1 150h0M136.9 140.6h0M129.4 153.2h0M129.4 146.9h0M134.1 142.1h0M138.1 142.3h0M129.7 154.6h0M131 151.5h0M123.9 142h0M134.2 148.6h0M130.5 141.3h0M127.7 144.5h0M129.6 149.9h0M132 144h0M128.2 147.3h0M129.6 139.2h0M129.9 148.2h0M134.5 140.2h0M132.8 142.3h0M127.3 148.4h0M130.4 141.6h0M124.3 139.8h0M134.2 141.5h0M125.8 148.5h0M127.3 147.9h0M128.5 152.2h0M129.7 151.8h0M128 149.3h0M128.1 148.8h0M127.2 149.4h0M134.5 140.9h0M131.8 147.5h0M125.1 139.4h0M133.5 141h0M129.6 155.1h0M128.7 142.9h0M125.6 146.2h0M130.6 142.8h0M133.2 146.1h0M126.7 146h0M125.5 145.4h0M130.6 149.5h0M132.1 148.1h0M131.1 151h0M130.3 151.1h0M133 151.1h0M129.4 139.1h0M133.7 146.8h0M130.9 140.2h0M130.6 154.2h0M137.3 142.1h0M132.5 140.7h0M130.6 146.9h0M131.9 145.3h0M137.7 148.4h0M129.9 144h0M134.2 141.7h0M127.3 149.4h0M133.5 147.8h0M130.9 139.6h0M128.2 141.4h0M127.6 145.5h0M132.1 141.9h0M132.1 145.1h0M132.9 145.7h0M131.6 144.7h0M129.9 155.2h0M130.5 153.6h0M128.3 143.2h0M130 146.1h0M127.6 153.4h0M132.5 144.6h0M127.1 145.3h0M126.3 147.6h0M128.9 153h0M133.7 147.4h0M128.7 151.7h0M130.4 141.3h0M131.8 144.1h0M130.3 144h0M132.9 140.3h0M125.8 147.6h0M130.8 153.7h0M129.2 153.2h0M134.8 149.7h0M131.9 147.5h0M132 142.3h0M131.9 151.2h0M132 146.4h0M130.9 143h0M127 143.9h0M131.3 141.3h0M133.5 144.5h0M127.8 151.1h0M123.4 147.5h0M128.8 152.6h0M129.1 148.6h0M129.4 155.6h0M120.7 140.7h0M127.3 150.5h0M126.3 141.2h0M130.4 152.3h0M131.8 140.7h0M128.8 145.2h0M131.4 141.2h0M130.1 146.6h0M129.4 154.6h0M134.8 144.1h0M123.7 150.7h0M132.5 150.4h0M128.3 145.3h0M130.6 142.1h0M124.8 150.9h0M126.4 149.1h0M128 149.9h0M136.5 142.3h0M130.8 144.6h0M131.7 153.4h0M124.8 144.3h0M129.8 147.1h0M126.2 139.8h0M128.9 144.1h0M128.9 140.3h0M124.7 145.4h0M129 139.8h0M132.6 151.5h0M133.5 144h0M128.2 145.4h0M132.2 150h0M126.8 146.6h0M131.8 152.2h0M128.9 147.2h0M129.2 144.1h0M127 128.5h0M126.6 104.6h0M130.4 127.8h0M132.4 138.3h0M126.2 137.4h0M132.7 101.1h0M126.4 132h0M131.9 115.8h0M127.6 121.7h0M131.8 133.5h0M128.1 111.8h0M128.2 119.9h0M127.7 132.1h0M133.2 126.2h0M133.1 134.4h0M127.1 133.5h0M132.3 121.8h0M131.9 136.4h0M132.2 116.9h0M127.8 137.5h0M132.2 136h0M127.3 128.5h0M126.7 136.6h0M133.1 136.9h0M128.4 113h0M128.2 76.3h0M127.1 134.2h0M127.8 136.8h0M127.3 134h0M127.1 94.6h0M131.6 132.1h0M127.7 106.3h0M132.2 89.9h0M133.1 125.8h0M130.9 119.1h0M131.1 123.2h0M127.9 101.9h0M132.9 117.5h0M127.8 108.3h0M126.8 134.9h0M128.1 110.5h0M130.9 122.7h0M131.9 107.2h0M132.6 124.7h0M127.7 128.9h0M133.4 123.3h0M126.1 136.4h0M133 113.5h0M128.6 116.5h0M131.9 95.5h0M131 126.3h0M130.7 120.8h0M126.6 135.3h0M126.6 83.1h0M126.9 132.3h0M126.1 118.7h0M126.3 133.7h0M131 125.7h0M133 89.6h0M128.3 113.5h0M130.6 133.4h0M127.2 95.3h0M127.9 128.6h0M126.4 126.5h0M130.4 135.5h0M130.8 128.5h0M130.5 128.8h0M127.3 85.3h0M127.7 127.7h0M133.5 72.6h0M132.5 103.2h0M130.7 134.4h0M132.1 126.3h0M133.1 121.8h0M133.1 96.7h0M126.8 88.8h0M131 97.3h0M129.2 119.5h0M132.2 130.5h0M128.8 136.6h0M126.1 132.7h0M131.8 130.8h0M127.8 136.3h0M132.7 119h0M132.5 135.1h0M126.5 122.1h0M128.1 129h0M132.9 92h0M127.2 102.6h0M126.8 109.2h0M128.7 132.1h0M126.2 129.5h0M126.5 115h0M131.7 137.6h0M126.9 128.3h0M132.8 135.5h0M126.9 129.7h0M127.2 118.7h0M133.4 120.6h0M127 135.6h0M128.4 116.2h0M130.6 130.4h0M133.4 92.1h0M128.2 134.6h0M133.3 125.7h0M130.7 127.4h0M127.7 137h0M133.4 102.9h0M128 96.5h0M126.4 92.3h0M126.6 115.2h0M130.7 126.6h0M132.5 110.2h0M127.5 99.7h0M133.1 139h0M132.3 76.9h0M126.7 129.4h0M126.8 138h0M132.3 110.8h0M126.7 135h0M131.8 131h0M128.1 119.3h0M132.3 137.7h0M131.2 135.3h0M133.5 130.7h0M132.8 129h0M133.4 111.3h0M128.8 128.4h0M133.3 133.3h0M132.7 100.5h0M128.7 119.9h0M132 135.4h0M133 104.4h0M131.1 135.1h0M126.2 100.2h0M129.3 139h0M133 134.7h0M132.9 113.9h0M131.7 90.1h0M133.3 133.1h0M133.2 134.5h0M132.9 77.8h0M126.1 137.5h0M128.9 134.4h0M132.9 135h0M132.3 113.6h0M127.8 136.5h0M128.5 107.7h0M133.4 137h0M131.7 84.9h0M127 126h0M132.1 128.6h0M131.8 85.3h0M132.6 129h0M127.7 115.8h0M126.4 93.8h0M126.7 133.6h0M132.2 129.4h0M132.3 122.1h0M133.1 130.5h0M127.4 138.8h0M133.4 131h0M131.9 86.7h0M133.3 135.4h0M133 117.5h0M133.5 116.3h0M128.5 129.7h0M130.3 138.5h0M127.2 134.2h0M126.3 125h0M133.2 131.2h0M127.2 113.4h0M132.6 120.9h0M133.3 130.1h0M127.8 136.7h0M131.9 138.8h0M126.7 132.7h0M128.9 106.9h0M126.9 137.2h0M126.5 119.6h0M127.6 138.5h0M132.4 130.1h0M127.1 114.1h0M132.2 134.8h0M126.9 135.5h0M133 124.3h0M126.6 133.1h0M130.9 121.3h0M132.1 115h0M127.9 74h0M127.8 111.4h0M126.8 97.6h0M126.8 129.6h0M126.1 123.8h0M130.4 126.4h0M128.6 94.8h0M133.4 92.6h0M133.5 130.2h0M127.5 129.4h0M133.4 88.1h0M128.2 121.6h0M129.4 136.2h0M126.6 95.3h0M130.4 120.8h0M126.4 121.8h0M132.6 122.6h0M133.4 94.7h0M132.8 124.3h0M132.2 132.4h0M132.1 125.3h0M130.9 128.2h0M127.9 132.1h0M127.2 126.2h0M127 128.5h0M132.4 138.9h0M133.6 76.2h0M128.4 120.1h0M132.9 82h0M128.3 136.4h0M128 126.7h0M132.5 137.2h0M131.5 131h0M126.7 128.6h0M127.9 123h0M132 130.8h0M130.7 111.3h0M130.2 128.6h0M133.4 111.8h0M130.9 122.7h0M132.2 138.7h0M133.4 123.8h0M126.9 117h0M131.4 137.9h0M128.5 128.5h0M127.6 136.7h0M126.4 136.1h0M128.9 133.7h0M126.6 123.9h0M126.3 96.9h0M127.9 137h0M132.4 109.6h0M132 72.5h0M126.9 134.3h0M133 131.7h0M127.3 132h0M129.2 138.7h0M128.3 112.5h0M127.5 128.7h0M126.4 75.7h0M131.6 115.6h0M130.1 138.2h0M131.1 102.3h0M132.4 130.3h0M132.1 104.8h0M129.1 131.8h0M133.5 69.1h0M126.8 134.1h0M126.8 131.3h0M128 80.9h0M131.4 115.2h0M127.5 123.9h0M127.3 139h0M128.6 93.2h0M133.5 137.7h0M128 115.3h0M127.3 122.8h0M126.7 135.3h0M133.1 116.9h0M126.3 108h0M128.2 125.8h0M126.7 132.6h0M128.9 126.1h0M133.1 115.9h0M127.9 89.8h0M131.6 126.6h0M126.4 127.6h0M128.5 118.3h0M131.6 107.1h0M132.8 116.5h0M126.1 108.2h0M132.4 104h0M132.9 130.2h0M133 131.1h0M132.8 138h0M130.9 103.3h0M130.7 138.4h0M126.8 136.4h0M127 123h0M131.8 124.6h0M126.1 123.7h0M132.8 126.4h0M128.2 126.3h0M132 132.4h0M128.5 96.4h0M132 136.9h0M133.4 108.9h0M128.6 133.2h0M128.5 125.1h0M133.1 131.2h0M126.2 116.8h0M133.2 129.3h0M132.3 119.1h0M132.6 106.1h0M133.3 136.7h0M131.2 114h0M131.8 108.5h0M127.9 131.6h0M126.8 119.7h0M128.1 104h0M127.2 135.4h0M126.9 139.1h0M126.5 120.5h0M132.2 134.5h0M131.1 134.6h0M132.6 76h0M128 111.2h0M127 137.8h0M126.3 133h0M132.2 138.1h0M131.5 134.7h0M126.6 135.9h0M130.7 115h0M132 108.4h0M126.2 139h0M128.6 82h0M133.5 131.9h0M132.9 134.9h0M133.4 133.7h0M133.3 119.6h0M133.5 133.2h0M127.2 130.7h0M126.2 123.9h0M133 109.6h0M132.4 129.8h0M128.3 125.1h0M128 109.6h0M129.4 131.2h0M126.6 130h0M127.9 124.8h0M132.7 137.1h0M128.3 128.8h0M127.5 130h0M127.1 106.6h0M127.9 132.3h0M129.1 113.3h0M128.7 115.6h0M131.7 124.4h0M127.2 132.5h0M132.9 105.6h0M129 130.4h0M126.4 101.7h0M133.4 118.5h0M133 95.1h0M133.4 117.8h0M126.2 135.6h0M126.3 130.2h0M132.8 91.9h0M133.4 133.1h0M131.3 136.2h0M127.5 108.4h0M127.6 125.5h0M127 124h0M133.2 129.2h0M127.5 122.6h0M126.6 122.3h0M126.1 117.3h0M127.6 135.3h0M127.8 127.8h0M128 133h0M133.5 114.5h0M126.2 112.1h0M130.7 138.9h0M131.5 128.3h0M132.7 112.9h0M126.3 128.8h0M131.3 127.9h0M132.3 135.9h0M127.4 81.5h0M131.8 112.8h0M133.5 102.4h0M127.2 129.3h0M126.7 133.7h0M131.1 113.7h0M130.8 133.5h0M126.5 129h0M126.6 136.8h0M127 133.2h0M128.3 124.5h0M131.9 114.6h0M127.5 132.5h0M133.4 138h0M127.3 135.6h0M131.4 135.8h0M126.1 125.9h0M126.1 130.5h0M132.1 119.5h0M128.6 116h0M132.1 130.9h0M128.3 118.8h0M128.3 127.7h0M127.8 129h0M126.1 98.4h0M127.9 105.6h0M127.1 84.2h0M128.5 106h0M132.4 109.8h0M126.2 100.3h0M131.2 112.2h0M128.3 137.3h0M128 132.8h0M132.6 119.8h0M127.5 122.7h0M131.3 129.3h0M131 133h0M130.5 125h0M127 124.8h0M133.3 136.6h0M132.6 138.4h0M127.6 114.6h0M131.7 122.8h0M133.1 102.6h0M126.1 136.4h0M129 126.2h0M129.2 136.3h0M129.3 131.5h0M127.2 133.1h0M132.7 125.4h0M126.8 130.7h0M131.5 75.6h0M132.8 92.6h0M127.4 120h0M131.4 138.7h0M127.3 127.1h0M127 137.9h0M132.5 115.5h0M133.2 121.8h0M133.3 133.8h0M132 106.6h0M132.1 135.7h0M128.4 131.8h0M126.8 120.2h0M126.1 97.9h0M127.4 136.8h0M128.1 137.6h0M131.1 104.9h0M128.1 130h0M128.8 129.3h0M132.1 119.6h0M131.4 135.6h0M128.5 121.1h0M130.8 90.5h0M131.1 131.1h0M127.3 123.5h0M126.5 99.4h0M133.6 125h0M128.6 130.1h0M132.8 133.7h0M130.9 139h0M132.5 137h0M131.1 138.8h0M126.2 114.8h0M127.3 133.2h0M132 127.3h0M127 126.2h0M132.7 138h0M132 137.3h0M133.2 128h0M127.1 135.5h0M131.4 118.9h0M128 137h0M132.2 126.2h0M126.7 117.2h0M126.9 133.8h0M133.1 135.3h0M130.8 131.2h0M126.2 127.2h0M128.5 131h0M128.3 131.6h0M132.5 115.8h0M127.2 125h0M130.9 124.5h0M130.2 135.2h0M128.7 133.9h0M133 114.3h0M131.2 118.3h0M132.8 127.4h0M126.9 79.6h0M129 134.4h0M126.4 133.1h0M132.5 138.2h0M131.6 99.6h0M131.9 119.9h0M130.6 122.7h0M132.5 138.8h0M127.6 133.2h0M126.7 131.7h0M132.8 109.6h0M127.1 136.8h0M126.2 137.2h0M128.9 118.7h0M132.6 132.5h0M130.4 133.4h0M132.4 121.5h0M129 120.8h0M132.1 111.1h0M132.6 112h0M132.7 116h0M133.3 129.5h0M131.2 109.5h0M133.4 126.6h0M127.4 131.5h0M131.8 128.4h0M132.8 138.2h0M132.2 90.8h0M133.4 82.6h0M130.7 137.8h0M132.4 108.8h0M128.9 128.1h0M128.1 120.6h0M126.5 135.6h0M127.3 126.5h0M130.5 124.4h0M132.3 136.4h0M131.6 123.1h0M127 94.3h0M133.1 96.9h0M126.4 128.5h0M133.2 98.9h0M128 85.8h0M127.5 135.8h0M131.6 126.8h0M131.7 116.3h0M132.2 122h0M132.6 126.1h0M128 133.2h0M127.7 103.4h0M127.3 130.6h0M126.2 138.6h0M126.7 128.9h0M133.5 127.8h0M127.9 134.1h0M126.2 134.3h0M126.8 138.2h0M127.7 115.1h0M128.1 106.1h0M127.6 112.7h0M132.2 110.6h0M126.7 95.2h0M126.1 123.9h0M128.3 116.5h0M127.2 138h0M126.2 137.8h0M126.9 137.6h0M132.7 131.6h0M128.2 111.4h0M126.8 136.5h0M131 135.4h0M130.3 129.3h0M126.7 132.4h0M130.3 130.5h0M127.8 133.8h0M126.7 132.2h0M132.2 135h0M127.8 126.5h0M132.1 86.3h0M131.7 108.1h0M128.5 116.9h0M133.2 86.4h0M127.8 125.9h0M133.1 81.1h0M126.3 137h0M127.7 123.1h0M128.6 134h0M131.4 119.4h0M133.2 96.4h0M132.1 132.8h0M131.1 120.5h0M132.6 138.3h0M129.4 136.8h0M132 126.8h0M127.1 137.1h0M131.3 117.5h0M133.1 99.6h0M129 128.5h0M131.4 115.7h0M128.3 135.4h0M127.8 120h0M133.4 127h0M133.4 95.9h0M128.1 108.6h0M132.6 132.4h0M132.1 129.9h0M132.2 84.2h0M132 126.3h0M126.5 101.9h0M126.1 138.6h0M132.9 111.3h0M126.4 130.1h0M130.6 127.3h0M127.1 126.1h0M128.8 136.4h0M133.5 82.6h0M131.4 112.9h0M133.2 132.4h0M126.9 134.8h0M126.5 124.1h0M132.1 114.1h0M133.3 129.6h0M131.5 114.8h0M127.8 107.5h0M131.1 126.6h0M131.8 135.5h0M133.4 138h0M127 122.3h0M127 126.9h0M126.3 125.5h0M131.1 137.6h0M128 92.4h0M132.7 134.9h0M132.7 128.9h0M131.8 126.8h0M126.1 138.1h0M133.1 129.5h0M129 120.7h0M127.3 113.9h0M132.6 118.2h0M131.7 130.1h0M131 128.4h0M133.3 119h0M130.6 130.9h0M131.4 137.3h0M128.7 137.6h0M132 114.4h0M126.4 111.7h0M132.2 105.4h0M127.3 134.5h0M130.8 125.2h0M126.7 119.6h0M132.7 108h0M133.5 137.5h0M128.9 131.8h0M127.2 126.3h0M132.1 91.7h0M133 97.6h0M131 126.6h0M130.7 129.7h0M131.7 103h0M128 117.1h0M130.8 97.4h0M131.4 135h0M126.5 104.7h0M126.3 133.4h0M127.1 90.2h0M127 130.1h0M128.5 126.3h0M131.2 138h0M132.7 132.5h0M133.3 132.7h0M132.6 137.6h0M132.1 95.9h0M133.4 137.8h0M126.3 128.8h0M128.6 116.5h0M133.2 137h0M131.3 129h0M126.8 127.3h0M130.5 123.9h0M132.5 137.4h0M127.6 124.8h0M127.1 137h0M132.7 137.4h0M128 99.4h0M133 122.7h0M126.6 114.3h0M127.1 128.9h0M129.2 136.5h0M126.1 113.2h0M128.9 138.7h0M126.3 129.2h0M127.3 108.8h0M131.8 137.9h0M133 108.2h0M127.9 127.4h0M128.3 137.7h0M132.6 127.1h0M131.5 122.9h0M126 128.6h0M132.7 84.5h0M127.7 135.8h0M126.1 95.4h0M131.6 114.8h0M126.9 80.4h0M127.6 124.1h0M128.1 127h0M133.1 129h0M131.5 134.1h0M132 133.1h0M129.3 132.1h0M128.7 131.8h0M132.2 98.2h0M126.4 135.5h0M127.8 123.6h0M133.5 135.6h0M132.5 113.2h0M127.5 134.4h0M131.3 138.6h0M131.6 114.3h0M133.6 110.8h0M127 134.6h0M133.2 137.4h0M132.9 131h0M133.5 138.5h0M131.3 106.2h0M128.3 131.8h0M126.2 136.7h0M128.6 102.1h0M131.8 132.5h0M128.5 133.2h0M126.7 119.9h0M126.8 134.4h0M132.2 115.2h0M130.9 129.6h0M128.5 101.1h0M132.3 128.5h0M131.9 121.9h0M127.9 125.1h0M131.6 127h0M133.2 122.5h0M132.9 100.5h0M127.4 104.5h0M132.2 125.8h0M127.7 138.4h0M130.6 136.6h0M127.5 97.3h0M131.7 130.5h0M131.7 108.5h0M131.1 128.6h0M126.1 132.2h0M131.5 134.6h0M126.9 132.2h0M128.4 89.2h0M127.2 78.4h0M130.7 134.5h0M126.2 128.3h0M128.4 131.4h0M132.4 100.8h0M130.9 133.6h0M129 131.7h0M129.2 136.2h0M126.7 135.7h0M128.1 130.6h0M130.8 123h0M132.3 136.6h0M130.5 117.2h0M126.6 108.8h0M127.5 132.7h0M126.2 136.6h0M126 136.2h0M131.6 95.8h0M127 131.9h0M127.7 71.8h0M131.7 130.8h0M130.7 138.4h0M132.6 138h0M127 103.6h0M130.7 120.4h0M131.8 117.5h0M132.6 137.1h0M131.5 133.4h0M127 125.9h0M133.4 125.5h0M127.5 123.7h0M127.2 133.1h0M132.9 129.6h0M132.7 95.4h0M126.4 109.4h0M132.7 99h0M133 121.1h0M132.2 129.9h0M132.1 135.1h0M127.2 115.3h0M126.8 94.2h0M133.5 133.9h0M132 103h0M130.8 134.4h0M128.8 126h0M127 134.8h0M132.7 134h0M126.8 72.8h0M132.2 98.1h0M126.5 128.5h0M126.9 86.3h0M126.5 124.8h0M133.3 132.1h0M132.4 103.6h0M131.6 116.3h0M131.4 124.6h0M127 138.2h0M127.5 136.7h0M127.8 113.4h0M132.5 135.7h0M132.8 91.4h0M128.1 137h0M127.5 131.7h0M130.8 137.4h0M131.6 109.5h0M127.2 134h0M131.2 122.4h0M128.4 134.9h0M132.6 137.8h0M127.1 128.9h0M127.1 121.2h0M127.5 121h0M132.7 127h0M131.4 108.1h0M129.1 138.7h0M127.3 115.4h0M133.1 114.5h0M126.3 115.2h0M127 124.8h0M126.5 133.7h0M127.2 136.2h0M133.2 69.4h0M127.7 139.1h0M132.7 132.8h0M126.3 124.1h0M127.6 119.1h0M127.6 124.1h0M126.9 136.8h0M126.7 136.4h0M126.7 135.5h0M128.4 134.5h0M126.7 120.9h0M129 119.4h0M133 116.3h0M128.9 95.7h0M128.3 112.1h0M127.2 138.9h0M131.3 139.1h0M128.2 122.7h0M132.5 127.4h0M127.3 133h0M126.3 134.1h0M128 128.1h0M130.7 137.9h0M132.9 131.1h0M126.2 137.6h0M132.6 98.8h0M126.5 133.1h0M132.7 122.5h0M128.3 123.3h0M128 133.4h0M127.1 136h0M128.1 134.9h0M133.5 138.5h0M131.9 132h0M127.8 119h0M132.7 123.7h0M132.7 132.4h0M132.9 125.6h0M133.1 121.1h0M126.4 133.3h0M126.7 109.1h0M126.3 104.6h0M127.3 126.3h0M132.1 122.9h0M126.3 124.3h0M128.3 116.6h0M131.7 135.3h0M127.8 130.5h0M126.2 136.9h0M133.1 120.3h0M131.8 132.7h0M130.6 118.4h0M126.5 131.4h0M130.6 113.7h0M133.4 115.2h0M133.1 128h0M127.8 134.7h0M130.8 114.5h0M133.2 111h0M132.4 77.5h0M127.5 123.8h0M133.2 134.8h0M126.5 99.3h0M132.7 138.8h0M132.4 136.5h0M132.8 87.4h0M126.9 107.5h0M131.6 132h0M126.3 92.2h0M126.7 90.8h0M127.9 107.1h0M128.2 128.3h0M126.1 118h0M130.6 139.1h0M127.3 132.7h0M131 137.2h0M127.4 115.5h0M132.1 113.1h0M127.6 138.6h0M131.4 112.7h0M126.3 110.2h0M128.8 111.8h0M132.7 124.3h0M132.1 112.6h0M132.5 120h0M132.5 98.8h0M129.2 129h0M128 108.7h0M127.9 135.1h0M126.7 134.7h0M129.2 134.3h0M130.5 124.9h0M126.7 138.2h0M127.5 121.3h0M128.7 137.7h0M133.6 118.5h0M126.4 139h0M126.7 115.7h0M127.7 108.9h0M131.6 124.3h0M132.8 136.7h0M126.3 103.3h0M132.6 108h0M132.1 131.5h0M127.6 130.2h0M131.7 126.1h0M133.3 138.6h0M127.1 137.5h0M133.4 128.9h0M132.4 115.6h0M126.8 126.4h0M133.1 129.5h0M128.8 134h0M132.5 128.7h0M133 129.7h0M129.2 135.1h0M126.7 132.2h0M132.7 120.3h0M132.5 99.1h0M127.9 120.8h0M131.1 119.2h0M132.5 114.3h0M128.3 106.3h0M131.9 134.5h0M128.3 102.1h0M132.9 136.2h0M130.6 118.2h0M129.2 130.3h0M131 124.2h0M132.7 108.2h0M132.9 110.1h0M127.5 136.1h0M127.3 105.5h0M131.8 135.3h0M131.4 89.1h0M126.6 126.8h0M128.1 123.6h0M133.4 127.9h0M132.1 121.5h0M133.1 126.3h0M126.6 137.2h0M126.1 117.5h0M132.7 98h0M126.9 88.9h0M126.4 103.5h0M133 101.6h0M129 131.3h0M131.6 126.7h0M131.5 89.9h0M131.1 133.2h0M133.4 136h0M132.3 133.5h0M131.6 131.7h0M126.3 80h0M129.4 136.7h0M130.2 138.3h0M131.7 129.9h0M127.4 130.8h0M126.1 134.3h0M131.1 128.7h0M128.5 109.3h0M126.8 93.5h0M127 112.1h0M133.4 115.2h0M127.8 122.3h0M130.7 119.9h0M127.3 138.2h0M133.1 130.1h0M128 86.4h0M126.6 98h0M127 136.7h0M128.9 130.2h0M130.7 134.3h0M132 135.8h0M132.8 112.8h0M126.2 131.9h0M132.8 136h0M128.3 126.1h0M126.2 105.7h0M127.6 132.9h0M131.3 126.6h0M127.8 70h0M132 113.5h0M128.6 104.8h0M131.8 119.7h0M127.1 133h0M132.1 138.5h0M132.4 118.5h0M133.4 133.1h0M126.7 69.1h0M126.2 135.1h0M132 131h0M131.5 134.8h0M128.3 134.7h0M132.7 114.1h0M128 118.1h0M126.8 127.5h0M128.6 136.4h0M132.4 119.3h0M126.5 134.4h0M132.9 131.4h0M131.7 102.3h0M132.3 98.9h0M126.2 137.5h0M132.8 138.3h0M130.6 112.7h0M131.3 132.9h0M127.2 99.1h0M127.1 94.1h0M126.7 106.7h0M127.4 123.7h0M130.8 130.9h0M133.2 100.1h0M127.3 119.3h0M127.8 102.8h0M126.6 134h0M130.9 112.4h0M126.6 110.3h0M126.8 135.8h0M129.4 131.6h0M130.5 133h0M132.4 123.3h0M127.9 139h0M131.7 95.5h0M132.7 132.6h0M128.2 115.8h0M128.2 100.9h0M131.2 136.5h0M133.2 111h0M127.2 101.6h0M133.5 132h0M128.3 136.9h0M128.6 128h0M128.7 139.1h0M131 129.3h0M127.3 136.8h0M131 137.4h0M127.3 127.1h0M132.1 128.6h0M127.4 118.7h0M128.4 128.8h0M131.2 137h0M132.4 100.5h0M132.2 137.4h0M128.8 134.5h0M130.4 136.4h0M133.1 123.5h0M127.4 136.2h0M131.6 75.6h0M131.6 122.3h0M128.5 133.5h0M132.5 134.1h0M126.8 129h0M127.1 106.4h0M126.7 138.8h0M126.5 138.3h0M127.6 137.1h0M131.9 133.5h0M126.2 132.6h0M132.1 82.4h0M133.1 133h0M130.5 137.8h0M132.6 132.4h0M131.1 101.6h0M132.9 105.3h0M133.4 125.9h0M127 85.7h0M128.9 116.1h0M131.9 131.4h0M132.9 119.2h0M132.4 84.8h0M126.5 121.3h0M126.1 106.6h0M133.5 72.5h0M132.8 125.8h0M126.6 122.4h0M127.2 125h0M131.1 138.4h0M126.7 96.5h0M126.8 134.3h0M132.3 95.8h0M133.5 98.8h0M132.2 132h0M132 131.2h0M127.9 135.8h0M128.1 134h0M127.5 93.4h0M131.6 119.7h0M131.4 133.4h0M130.2 129.7h0M128 137.9h0M133 120.6h0M127 72.7h0M130.5 114.1h0M132.8 137.7h0M128.9 112.9h0M130.8 108.4h0M133.4 112.3h0M126.9 132.5h0M133.4 135.7h0M126.6 121.7h0M131.1 129.2h0M128 119.5h0M132.7 107.8h0M132.3 124.6h0M133.3 119.6h0M127.6 132.3h0M127.5 133.8h0M126.9 136.8h0M132.1 82.4h0M133.5 134.4h0M132.2 90.9h0M133.1 131.4h0M131.4 125.6h0M132.8 119.9h0M126.8 132.1h0M132 137.5h0M133.2 122h0M133.3 127.3h0M126.9 112.5h0M126.2 131.2h0M127.7 130.5h0M132.6 137.4h0M127.3 115.7h0M127.7 75.8h0M126.4 120.9h0M128.8 129.7h0M126.5 119.2h0M127.8 131.7h0M127.5 109.4h0M133.1 126h0M133.4 137.4h0M133.5 130h0M132.8 139h0M126.2 129.1h0M126.5 86.6h0M131.8 103.4h0M131.4 130.9h0M132.6 121.8h0M133 129.4h0M127.5 138h0M127.8 137.8h0M126.2 85.5h0M133.3 82.9h0M126.9 108.9h0M129 138.4h0M128.4 105.7h0M126.2 122.3h0M128.7 133.2h0M127.4 108.1h0M133.4 135.8h0M126.4 131.1h0M127.1 135.4h0M128.8 134.5h0M126.6 137.8h0M131.7 128.5h0M132 82.4h0M130.7 116.6h0M132.8 69.6h0M133.4 111.8h0M127.2 81.9h0M132 105.6h0M127.2 127.8h0M132 137h0M126.1 85.2h0M131.5 120.9h0M127.1 131.8h0M133.2 137.8h0M131.8 123.8h0M130.9 119.6h0M126.7 125.7h0M131.6 114.8h0M133.2 111h0M126.4 133.1h0M131.4 133.3h0M127.9 111.1h0M128.5 138.3h0M126.2 133h0M127.3 121.5h0M131.4 134.2h0M126.3 121.6h0M127.4 133h0M132.8 130.9h0M131.4 132.9h0M132 113.7h0M133.4 131.7h0M128.2 134.3h0M127 108.6h0M126.2 104.9h0M132.3 137.9h0M132.3 110.3h0M128.7 131.7h0M127.8 120.9h0M133.1 107.1h0M131.9 135.8h0M128.5 121.9h0M133.3 81.5h0M131.5 136.1h0M128 132.2h0M127.1 124.5h0M133 137.8h0M132.7 117.8h0M133 124.1h0M133 128.7h0M132.7 105.4h0M132.6 136.4h0M132.2 134.5h0M129.1 129h0M132.5 133.1h0M132.2 122.1h0M127.2 115.5h0M131.6 127.1h0M127.8 119.7h0M132.4 129.5h0M133 137.5h0M127.4 125.7h0M133.1 133.2h0M132.9 138.1h0M133.4 126.2h0M131.7 97.7h0M132.3 93.9h0M128.1 132.8h0M128.2 137.7h0M126.8 135.5h0M132.5 85.4h0M126.8 111.1h0M126.8 121.5h0M127.3 127.6h0M127.6 137.4h0M131.8 126.9h0M127.4 133.5h0M133 124.6h0M132.1 115.5h0M132.4 133.5h0M130.9 109.2h0M133.4 137h0M127.6 81.8h0M126.2 136h0M126.7 118.8h0M130.7 131.7h0M130.3 139h0M130.8 134h0M127.1 132.1h0M132.8 98.8h0M130.9 118.5h0M132.8 79.9h0M127.6 134.1h0M131.9 91.8h0M130.3 129.3h0M126.2 110.2h0M131.8 120.7h0M133 116.3h0M133.4 84.2h0M126.5 71h0M128 136.2h0M127.7 136.8h0M132.5 127.6h0M126.1 124.2h0M127 112.6h0M130.8 139h0M128 121.8h0M133.5 111h0M132.1 135.4h0M132.9 124.6h0M127.7 133.4h0M128.4 137h0M131.7 138.6h0M131.6 137.8h0M132.3 138.1h0M131.2 95.1h0M127.4 125.4h0M133.3 110.8h0M131.5 117.6h0M128 133.3h0M127.8 96.7h0M128.8 120h0M130.7 137.7h0M126.3 123.7h0M133.3 126.3h0M133.2 126.6h0M131.8 122.1h0M131.1 100.1h0M131.1 118.4h0M126.6 73.9h0M131.1 129.1h0M132.4 111.6h0M127.1 133.4h0M126.8 119.9h0M127.4 138.5h0M126.2 134.1h0M127.8 110h0M126.7 114.9h0M127.1 123.3h0M131.6 132.5h0M127.4 78.9h0M132.8 137.1h0M126.7 81.8h0M128.8 102.8h0M127.1 136.8h0M127.4 137.6h0M133.3 135h0M127.7 122.1h0M130.7 113.2h0M126.3 135.4h0M131.1 130.6h0M129.2 124.4h0M126.7 119h0M132.7 136.8h0M131.3 134.5h0M132.7 107.9h0M126.9 118.3h0M126.3 103.6h0M126.9 138h0M131 125.9h0M127.9 138.3h0M131.9 136.8h0M132.9 131.3h0M132.7 126.8h0M132.1 94.1h0M132.8 128.3h0M126.5 111.5h0M127.4 112.7h0M127.8 116.9h0M132.6 118.5h0M132.7 136.1h0M127.6 136.7h0M131.3 133h0M131 93.3h0M130.5 123.5h0M131.8 128.4h0M126.4 131.8h0M127 101.5h0M126.2 98h0M132.7 135.8h0M132.9 137.7h0M132.2 122.1h0M128.7 116h0M126.8 71.1h0M127 104.9h0M128.5 128.9h0M132.8 118.2h0M131.8 135.8h0M132.1 134.5h0M132.4 123.6h0M131.8 130.3h0M127.9 131.8h0M126.1 138.7h0M132.5 128.1h0M132.7 138.2h0M126.7 129.4h0M130.5 131.8h0M131.5 130.7h0M128 123.3h0M133.2 137.7h0M128.7 119.6h0M131.9 95.1h0M131.9 124.2h0M133.3 83.9h0M132.6 102.1h0M133.5 134.9h0M126.6 120.1h0M131.3 128.4h0M132.7 127h0M127 128.6h0M132.3 111.7h0M133 124.4h0M127.7 128.2h0M130.8 132.2h0M132.5 120.7h0M127.2 94.5h0M126.4 132.2h0M132.8 135.9h0M126.3 107.1h0M131.6 136.3h0M126.4 136.3h0M126.7 111.4h0M126.6 86.1h0M128 89.7h0M126.8 127.7h0M133.5 113.7h0M126.4 135.6h0M131.4 117.2h0M133.5 70.7h0M132.5 132.1h0M128 120.7h0M126.3 105.8h0M132.2 121.7h0M131.9 127h0M131.3 91.2h0M131.4 80h0M131.2 133.7h0M126 108.9h0M128.3 129.3h0M130.9 119.6h0M126.3 116.8h0M126.8 137.3h0M126.1 129.1h0M126.9 129.6h0M132.3 107.1h0M131.2 106.8h0M128.4 95.6h0M131.7 72.9h0M132.4 73.9h0M126.7 125.2h0M132.3 77.6h0M132.8 123.8h0M131.7 111.7h0M128.5 135h0M131.8 85.8h0M129.4 134.7h0M127.7 129.7h0M133.2 101.7h0M126.5 129.3h0M131.9 134.7h0M129.1 125h0M132.8 105.6h0M131.9 134.9h0M126.1 113.1h0M132.9 136.4h0M133.1 120.1h0M133 75.5h0M127.2 138.9h0M127.3 119.7h0M130.7 102.1h0M133.1 114.5h0M127.5 105h0M127.7 135.4h0M126.5 124.9h0M130.4 136.6h0M126.3 125.6h0M133.4 127.3h0M133.1 128.2h0M133 104.9h0M126.4 114.8h0M127.2 114.3h0M126.2 131.2h0M126.6 107.2h0M128.2 127.6h0M130.5 136.2h0M131.2 92.3h0M132.8 130.9h0M126.2 139.1h0M128 138.9h0M131.4 119.4h0M131.7 125.9h0M126.5 82.8h0M131 137.6h0M131.6 134.1h0M131.3 123.6h0M127.3 127.1h0M128.6 138.4h0M132.5 137.9h0M128.7 100h0M126.1 131.6h0M128.5 137.5h0M128.9 126.4h0M127.6 101h0M131.9 132.7h0M127 116.7h0M131.6 112.8h0M128.7 139h0M130.9 118.9h0M128.2 102.9h0M127.3 136.3h0M133 87.9h0M128.4 130.3h0M128.7 136.1h0M132.1 117.7h0M127.4 138.1h0M133.1 123.2h0M131.3 129.6h0M127.8 123.4h0M132.9 78.6h0M127.8 113.4h0M131 125.1h0M128.7 111.5h0M131.7 134.7h0M128.3 126.5h0M127.4 128.2h0M126.7 133.4h0M127 127h0M127.1 113.5h0M126.1 137.7h0M126.8 117.9h0M128.2 119.6h0M130.3 133.6h0M127.1 125.4h0M126.6 135h0M132.8 127.1h0M126.3 110h0M126.4 116.1h0M131.4 69.9h0M132.6 116.9h0M126.2 122.6h0M131 96.4h0M126.3 102h0M127.5 138.9h0M132.4 131.9h0M127.4 111.1h0M132.5 135.3h0M132.1 138.4h0M127.3 120.7h0M132.8 75.8h0M131.8 133.5h0M132.8 131.3h0M126.1 98.8h0M132.3 135.8h0M131.7 138.4h0M126.1 139h0M133.3 110.2h0M133.3 126.6h0M126.1 136.1h0M130.9 125.5h0M132.8 136.3h0M130.9 126.5h0M133.3 138.9h0M127.1 128.6h0M133.1 113.7h0M127.8 124.9h0M133.4 126.5h0M131.2 127.6h0M128.8 136.9h0M127 108.6h0M126.9 133.2h0M131.3 136.1h0M127.4 112.8h0M130.5 133.9h0M131.5 100.2h0M132.9 128.1h0M131.5 138.7h0M126.3 116.3h0M128.8 107.6h0M131.8 94.4h0M132.4 104.6h0M127.8 114.6h0M132 138.9h0M131.2 124.2h0M128.7 126.6h0M132.1 121.8h0M130.3 134.8h0M133.4 121.8h0M132.6 139.1h0M126.5 126.2h0M127.7 82.2h0M129.1 119.1h0M131.6 73.2h0M126.5 88.2h0M130.7 119.8h0M126.6 106.7h0M131 137.3h0M127 130.1h0M126.8 132.6h0M132.7 119.9h0M126.6 111.3h0M132.6 95.2h0M126.2 80h0M127.6 128.7h0M127.1 117h0M132.3 103.2h0M132.4 127.2h0M129 123.2h0M128.1 127.1h0M128.5 124.2h0M126.8 136.9h0M127.9 137.4h0M127.5 134.6h0M126.5 133.3h0M127 137.8h0M127.4 99.3h0M132.2 134.4h0M131.7 101.1h0M131.6 106h0M133.5 116.7h0M128.2 128.4h0M127.7 133.3h0M126.8 136.9h0M133 94.4h0M126.1 131.7h0M132.7 136.6h0M127.4 138.1h0M132.2 128.9h0M133.2 121.1h0M128.1 136.2h0M128.6 125.7h0M132.8 103h0M129 135.1h0M128.2 132.5h0M131.4 134.3h0M131.3 134.4h0M130.3 126.7h0M131.6 101.4h0M127.9 125.4h0M131.5 104.6h0M128 135.8h0M132.7 112.7h0M133.3 138.5h0M127.1 116.9h0M127.2 130.6h0M128.1 137.5h0M126.4 130.2h0M131.2 134.1h0M127.6 112.6h0M128.3 86.9h0M131.6 138.7h0M127.2 113.4h0M126.3 132.6h0M126.4 122.8h0M131.6 131.1h0M127.4 138.4h0M131.3 118.2h0M126.3 138.8h0M131.1 135.7h0M126.1 93.5h0M126.1 130.5h0M132.2 136.1h0M131.8 129.3h0M132.9 97.7h0M132.9 109.9h0M126.7 103.6h0M128.8 136.6h0M130.6 103.5h0M131.9 89.2h0M131.6 136h0M128.3 126.1h0M126.2 137.3h0M129.1 124.5h0M131.7 97.5h0M132 87.7h0M129.2 135.5h0" stroke="#000" stroke-width="2.1" stroke-linecap="round" fill="none"/><path d="M125.1 136.3h0M123.7 64.5h0M125.6 97.3h0M121.7 114.6h0M118.3 109.8h0M122.2 126.7h0M116.8 98.3h0M116.3 132.2h0M123.8 117.7h0M118 110.2h0M114 132.9h0M125.2 102.8h0M119.8 113.8h0M124.1 126.4h0M123 111.6h0M119.7 135.8h0M116.9 123.2h0M117.7 131.9h0M117.8 107.6h0M116.6 104.7h0M124 131.6h0M123.1 126.9h0M124.7 123.7h0M116.3 110.5h0M117.8 137.8h0M116.8 114.5h0M115.2 131.8h0M114.8 134.4h0M125.3 138.2h0M113.8 138.2h0M121.9 119.9h0M122.3 132.7h0M125.6 118.8h0M124.4 136.2h0M120.7 132.4h0M117.2 105.3h0M121.9 136.2h0M117.8 126h0M124.9 129.1h0M125.2 130.2h0M123.7 137.7h0M116.5 104.4h0M120 112.8h0M120.8 134.9h0M117.2 106.9h0M113.5 133.3h0M117.6 136.6h0M116 136.8h0M116.9 120h0M118.1 125.2h0M124.4 108.6h0M124 120.1h0M121.2 135.3h0M117.9 126.1h0M113.4 136.5h0M124.5 127.4h0M119.3 127h0M116.4 115.1h0M116.7 108.6h0M118.8 117.7h0M125 130.4h0M117.7 133.6h0M124.5 137h0M122.3 114.5h0M116.8 127.6h0M120.4 137h0M116.1 108.8h0M116.2 129.8h0M123.8 135.8h0M125.5 109.2h0M116.8 135.8h0M122.8 132.2h0M124.7 135.9h0M120.2 134.4h0M122.7 127.6h0M124.1 135.5h0M124.7 102.2h0M125.4 115.6h0M124.8 131.2h0M117.1 127.4h0M115.2 124.1h0M118.4 102.3h0M113.6 138h0M125 68.2h0M116.4 104.3h0M124 128h0M118 107h0M121.5 120.7h0M117.6 126.2h0M123.2 128.2h0M114.7 138h0M115.5 128.3h0M122.6 113.8h0M115.7 122.7h0M123.8 115.9h0M121.4 136.2h0M125.1 103.2h0M118 111.3h0M118.6 120.6h0M114 137.1h0M113.8 134.2h0M119.6 109.3h0M124.3 137.6h0M117 103.1h0M122.1 113.8h0M117.9 90.2h0M115.1 123.8h0M121.8 132.3h0M123.9 130.4h0M125.6 132.3h0M120.7 94.2h0M114.8 134.7h0M122.6 96.5h0M124.9 122.9h0M122.2 108.5h0M124.2 101.8h0M119.8 84.1h0M119.9 123.2h0M123.7 90.1h0M119.4 114.3h0M116.6 127.5h0M118.4 118.9h0M115.9 127.2h0M120.8 128.4h0M117.8 136.9h0M116.8 132.3h0M118.7 104.8h0M116 125.3h0M123.9 137.2h0M119.2 111.8h0M121.7 118h0M121.9 135.2h0M118.8 133.2h0M123.9 96.7h0M121.9 118.4h0M124.6 69.5h0M121.4 100.8h0M123.2 106.3h0M123.1 115.8h0M123.2 137.3h0M125.6 131h0M124.4 137.9h0M123.5 90.9h0M121.5 118h0M114.7 138.2h0M122.1 125.7h0M124.3 136.5h0M119.7 134.7h0M119.5 97.8h0M124.3 136.7h0M121.5 137.7h0M114.7 133.2h0M115.9 114.8h0M118.4 110.6h0M121.7 90.9h0M123.5 126.7h0M125.6 123.9h0M125.3 117.2h0M121.5 133.3h0M116.7 99.4h0M121.5 114.1h0M124.4 83.2h0M121.4 137.3h0M124.6 124.2h0M117.4 131.8h0M117.1 113.1h0M122.5 126.8h0M125.1 131.1h0M117.1 116.4h0M114.4 126.6h0M118.2 109.2h0M121.4 136.4h0M125 134h0M123.8 96h0M123.8 137.7h0M124 127h0M123.4 134.3h0M115.6 127.4h0M123.9 135.3h0M123.3 116.2h0M119.9 123h0M122.5 126.8h0M125.2 79.3h0M115.1 119.7h0M123.4 123.5h0M115 129.8h0M116.7 111.5h0M120.2 120.3h0M119.2 125h0M122.7 108.5h0M116.3 136.4h0M118.2 102.2h0M125 136.7h0M125.4 124.2h0M121.5 129h0M119.2 107.6h0M123.1 89.4h0M120.1 121.3h0M124.4 106h0M125.4 118h0M120.5 106.8h0M122.7 134.5h0M115 132.1h0M118.6 124.9h0M116.4 135.3h0M124.8 136.9h0M124.2 126.2h0M117.6 106.9h0M117.4 134.1h0M116.2 119.8h0M117.3 120h0M121 135.4h0M120.5 118.4h0M119.1 136.3h0M115.9 130.9h0M115.5 136.8h0M124.5 135.7h0M125.1 135h0M122.8 115.8h0M113.2 138.3h0M116 133.8h0M123.7 135.8h0M118.2 117.2h0M123.4 90.5h0M125.6 114.8h0M122 111.5h0M117.8 120.2h0M119.8 125.8h0M124.8 137.4h0M125.7 132.5h0M114.3 137.9h0M124.6 135.8h0M118.9 120.7h0M125.6 75h0M123.4 135.9h0M117.4 130.4h0M119.9 132.6h0M124.1 122.7h0M122.4 132.1h0M120.6 136.1h0M124.6 129.3h0M123.1 131.6h0M113.8 138.1h0M116.1 117.3h0M124.8 125.6h0M122.6 117.9h0M123.1 122.4h0M124.8 136.6h0M114.8 122h0M115 137.8h0M121.8 102.7h0M120.3 77.1h0M114.5 131.6h0M122.6 136.1h0M117.4 132.1h0M124.4 124.4h0M123 125.1h0M118.6 117.1h0M116.1 116.2h0M115 127.6h0M121.5 137.6h0M120 128.7h0M120.1 98h0M115.7 122.3h0M115.1 133.8h0M119.5 123.1h0M125.5 117.7h0M123.9 123h0M117.8 117.9h0M119.5 91.8h0M118.2 137.8h0M123.5 119.4h0M120.5 103.2h0M118.7 135.8h0M125.1 122.3h0M124.3 123.4h0M119.7 121.9h0M118.9 128.8h0M121.5 92.9h0M123.2 124.8h0M116.8 133.4h0M123.8 133.9h0M124.1 127.1h0M119.8 112.5h0M116 108h0M120.8 126.3h0M123.6 135.2h0M122 133.9h0M125.3 138.1h0M121.7 113.2h0M124.8 114.7h0M120.7 110h0M125.3 131.7h0M125.4 101.7h0M125 135.7h0M117.6 115h0M120.4 121.1h0M119 111.6h0M122.9 126.4h0M116.3 116h0M118.9 111.7h0M117.2 131.9h0M116.1 127h0M125.3 127.3h0M125.2 88.5h0M125.5 98.4h0M124.7 134.6h0M118.9 122.9h0M118.3 93h0M124.8 113.8h0M116.7 134.1h0M116.9 129.1h0M121.4 124.5h0M120.7 138.2h0M116.9 131.2h0M123.1 136.7h0M118.3 94.4h0M124.3 78.9h0M120.9 111.9h0M120.4 130.9h0M122.6 123.9h0M117.1 131.8h0M121 115.3h0M121 133.4h0M121 122h0M125.2 127.9h0M119.7 107.5h0M124.5 81.2h0M114.3 132.4h0M117.9 131.8h0M123.3 132h0M122 136.7h0M124.6 134.6h0M122.2 77.7h0M125 117.7h0M121.9 120.9h0M120.9 126.5h0M116 135.5h0M123.6 136.7h0M114.9 136.7h0M124.8 114.6h0M124.5 91.4h0M125.2 121.1h0M115 128.3h0M123.7 91.6h0M125.3 130.8h0M123.7 121h0M122.9 116.8h0M125.4 137.1h0M113.9 133.9h0M122.3 126.9h0M119.5 130.3h0M125.6 121.8h0M120.4 132.2h0M123.3 138.1h0M121 124.1h0M118.1 125.6h0M121.7 109.2h0M120 137.7h0M114.7 137h0M122.6 106.7h0M122.1 121.9h0M125.5 126.7h0M113.8 129.1h0M121.7 132.2h0M115.7 137.7h0M115.4 113.8h0M125.6 79.4h0M114.3 135.9h0M113.5 136.3h0M122.5 108.1h0M122.2 75.3h0M118.5 137.3h0M122.6 117.1h0M117.2 133.7h0M117.9 106.2h0M114.1 125.6h0M116.2 117.1h0M124.4 108.9h0M113.7 135.3h0M124 137.2h0M125.6 131.2h0M116.7 135.3h0M119 126.3h0M123.5 117.4h0M115 119.7h0M124.8 104.7h0M125 134.3h0M125.1 114h0M121.7 134h0M115.1 135.9h0M122.1 133.9h0M118.4 110h0M119.3 12.9h0M115.5 38.4h0M119.3 47.3h0M104.2 62.6h0M111.8 69h0M108.7 94.5h0M105 131.5h0" stroke="#22e622" stroke-width="2.1" stroke-linecap="round" fill="none"/><path d="M138.5 136.4h0M142.6 128.7h0M144.4 136.1h0M134.2 112.7h0M134.1 134.7h0M137.8 127h0M137.6 79.4h0M145.3 131.4h0M144 130.3h0M134.9 115.7h0M137 98.8h0M140.7 117.8h0M145.4 130.1h0M140 136.6h0M140.8 101.6h0M144.4 134.2h0M134.7 97.3h0M139 102h0M144.9 120h0M146.5 133.8h0M135.3 135.3h0M138.3 120.5h0M142.7 108.2h0M139.1 97.9h0M135.1 115.9h0M137.2 84.3h0M137.5 74.6h0M142.4 138.1h0M145 125.8h0M134.3 74.8h0M144.6 112.2h0M137.4 130.6h0M135.1 128h0M136.5 127.3h0M137.1 72h0M138.9 129.1h0M135.9 131.5h0M142.4 136.4h0M137.2 128.7h0M135.5 125.1h0M136.2 123.8h0M135.8 122.6h0M145 129.7h0M136.7 126.7h0M135.7 132.4h0M134 126.9h0M136.8 114.9h0M138.6 123h0M141.7 112.6h0M146 136h0M137.7 111.8h0M137.7 83.3h0M137.9 134.7h0M141 115.5h0M135.3 109.3h0M136.5 120.5h0M140.6 104.9h0M140 126.6h0M144.1 110.5h0M139.3 136.6h0M137.6 92.4h0M141.4 124.9h0M135.9 126.3h0M134 133.3h0M140.7 131.5h0M137 128.2h0M140 115.4h0M136.5 96.7h0M137.7 117.9h0M135.5 135.3h0M138.5 66.4h0M135.5 137.8h0M141.6 138.1h0M136.4 68.6h0M134.4 126.9h0M134.9 131.9h0M134.6 127.8h0M143.6 121.3h0M133.9 94.1h0M140.1 122.9h0M147.2 136.6h0M136.2 119.6h0M134.1 134.8h0M136.9 120h0M141.8 123h0M142.8 134.4h0M142.1 115.5h0M139.6 94.9h0M143.5 122.2h0M141.9 136h0M142 131.6h0M138.9 105.7h0M136.7 135.1h0M136.9 138h0M137 129.6h0M141.4 130.7h0M136.7 137h0M134 131.1h0M137 116.2h0M137.2 116.6h0M142.7 122.3h0M135.4 102.6h0M138 102.1h0M142.2 135.2h0M135 105.1h0M139.3 74.9h0M137.5 107h0M134.4 90.5h0M134.5 128.9h0M134.9 98.4h0M137.1 121.8h0M135.2 132.5h0M142.7 135.1h0M138.3 128.4h0M145.6 135.2h0M140.8 116.9h0M135.8 130.2h0M135.6 123h0M144.2 113h0M142.7 122h0M134 83.8h0M135.8 124.5h0M134.4 124.1h0M142.9 138h0M134.1 134.8h0M139.4 133.3h0M140 127.4h0M144.7 127.8h0M142.4 107.2h0M139.2 122h0M139.9 129.2h0M139.9 108.5h0M142.8 120.5h0M144.5 126.6h0M141.6 117.7h0M137.5 135h0M142.8 135.6h0M139.3 90.1h0M143.4 117h0M135 86.7h0M144.2 126.8h0M139 123.8h0M138 137.8h0M143.9 128.5h0M135.1 132.7h0M134 123.6h0M144.3 119.3h0M134.9 123.6h0M139.3 97.5h0M139.6 133.1h0M136.2 85.6h0M141 135.3h0M134.1 134.5h0M137.8 115.5h0M134.2 129.8h0M134.6 121.9h0M138.9 104.9h0M139.3 138.3h0M137.4 103.4h0M141.4 134h0M136.5 122.9h0M134.3 113.8h0M139.4 118.8h0M143.6 127.7h0M137.1 130h0M143.5 112.6h0M145.9 135.2h0M144.8 127.1h0M142.3 136.4h0M134.9 133.1h0M141.9 123h0M134.8 135.4h0M134.2 114h0M139.4 129h0M144.5 135h0M140.3 120h0M143.8 125.2h0M134.5 120.6h0M144.4 136.1h0M141 126.5h0M138 104.5h0M139.6 134.2h0M142.8 126h0M137.2 137.9h0M137.3 134.1h0M139.5 121.3h0M144.4 129h0M145.1 129.9h0M135.7 94.8h0M137.8 109h0M135.3 113h0M137.6 131.3h0M142.4 103.4h0M134.2 108.4h0M134 133.7h0M143 129.6h0M135.5 87.1h0M140.7 102.8h0M135.2 102.9h0M141.2 131.6h0M142 108.5h0M140.9 137.7h0M142.1 122.1h0M144.9 135h0M135.3 89.6h0M140.6 134.1h0M137 129.2h0M134.3 135.4h0M138.4 136.7h0M134.5 90.5h0M139.9 135.4h0M142.3 123.2h0M137.3 138.3h0M139 127.7h0M140.6 118.6h0M134.5 108.1h0M140.1 126.7h0M135.4 132.6h0M146.9 138.2h0M134 95.5h0M144.2 137.9h0M139.7 80.8h0M142.1 130.8h0M137.7 135.2h0M135.7 138.1h0M144.4 137.6h0M140.8 125.7h0M134.2 127h0M135.4 137.2h0M138.7 132.2h0M145.3 125.9h0M137.6 132.9h0M135.4 134.1h0M134.4 101h0M134.8 136.8h0M138.9 122.1h0M142.1 97.6h0M143.3 133.6h0M136.4 129.4h0M147 137.2h0M136.9 135.1h0M139.6 118.7h0M136.9 120.1h0M137.1 79.6h0M136.9 126.6h0M134.7 133.6h0M137.6 134.2h0M140.6 136.7h0M137.7 105.3h0M141.8 125.1h0M139.9 105.8h0M134.8 127.9h0M139.6 94.4h0M139.9 121.5h0M136.2 136.4h0M137.6 125.9h0M134 127.1h0M135.4 127.2h0M140.9 120.4h0M134.3 112.9h0M137 122.4h0M136.9 129.9h0M135.6 118.8h0M134.4 116h0M134 129.8h0M141.6 123.7h0M135.2 125.5h0M135.6 74.2h0M134.3 133.6h0M135.3 133.3h0M135.6 122.1h0M134 127.5h0M137.1 117.7h0M136.2 130.5h0M137.1 123.4h0M144.1 130.8h0M140.6 71.4h0M138.7 87.4h0M134 129.9h0M134.3 136.3h0M134 132.5h0M136.4 111.8h0M144.6 132.6h0M135.5 124.4h0M143.8 133.4h0M134.4 97h0M144.5 121.9h0M137.1 137.8h0M138.6 138.3h0M146.1 134.2h0M142 123.7h0M138.9 114.7h0M134.6 138.1h0M134.3 130.1h0M134.1 135.4h0M142.9 118.3h0M140.2 89.5h0M136.4 124.9h0M136.8 98.7h0M143.5 118.2h0M139.5 85h0M136.9 128.7h0M145.4 132.2h0M146 136.7h0M144.8 115.8h0M140.8 120.1h0M146.4 136.6h0M134.2 116.2h0M143.5 136.6h0M138.2 120.4h0M134.8 120.9h0M137.3 133.7h0M144.2 130.6h0M139.9 126h0M141.6 127.3h0M134.1 119.5h0M141.7 129.7h0M134.4 130.4h0M146.3 136.1h0M142.3 99.4h0M134.3 123.1h0M145 117.7h0M137.6 135.7h0M138.3 135.7h0M142 100.7h0M144.5 129.3h0M134.7 138.3h0M138.6 138h0M142.5 125.8h0M137.9 133.8h0M139.8 129h0M134 137.5h0M133.9 131.6h0M134.5 89.6h0M133.9 70.6h0M134.1 112h0M143.7 115.8h0M134.4 126.3h0M134.6 102.1h0M144.2 120.7h0M141 131.7h0M145 136.5h0M135.6 133.8h0M134.2 129h0M139.8 123.8h0M144.7 134h0M137.8 112.6h0M142.9 130.9h0M144.7 132.9h0M135.5 132.2h0M145 122.7h0M136.1 117.6h0M137.9 136.8h0M137.5 85.9h0M143.3 95.9h0M137.1 131.9h0M135.1 135.7h0M143.3 128.4h0M144.5 130.9h0M135.5 138.1h0M144.7 134.3h0M136.8 107.2h0M146.4 127.6h0M134.3 118.8h0M145.2 124h0M134.7 118.8h0M134.5 127.5h0M144.2 128h0M133.9 116.8h0M138 126.8h0M137.9 137.9h0M138.3 120.6h0M144.3 127.6h0M146 135.7h0M141.7 138.2h0M135.1 116.7h0M136.5 128.1h0M134.5 118.2h0M145.1 126.9h0M141.3 122h0M136.5 133.5h0M142.3 133.9h0M134.3 101.4h0M134.6 113.1h0M135.5 83.5h0M145.8 133.8h0M138.8 132.8h0M145.6 132.1h0M135.2 126.2h0M146.6 136.9h0M136.7 114.1h0M138 127.3h0M137.8 138.3h0M143.2 138.1h0M143.3 104.1h0M145.8 132.4h0M142.7 135.3h0M137 90.2h0M142.8 121.6h0M138 106.9h0M134.4 133h0M144.3 114.8h0M134.8 134.7h0M145.4 129.7h0M136.6 137.8h0M144.2 118.9h0M141 131.1h0M138.3 117.9h0M141.7 110.1h0M137.2 131.9h0M137.6 128.9h0M135.5 130.9h0M137.9 131h0M141.1 125.7h0M139.2 127h0M136.9 84.3h0M140.7 117.8h0M138.5 136.2h0M141.8 114.7h0M139.9 110.4h0M146.5 132.7h0M139.4 136.6h0M135.5 109.4h0M136.9 137.3h0M137.3 138h0M144.5 126.3h0M137 126.9h0M143.8 121.6h0M140.3 123.2h0M135.7 124.4h0M141 111.6h0M142.8 135.6h0M135.5 132.3h0M138.8 70.8h0M147.8 32h0M159.9 37.1h0M161.4 39.7h0M153.9 49.9h0M135.1 49.9h0M153.9 100.9h0M154.6 121.3h0M150.9 125.1h0" stroke="#ff1010" stroke-width="2.1" stroke-linecap="round" fill="none"/><line x1="126.04" y1="6.3" x2="126.04" y2="163" stroke="#1a1aff" stroke-width="1.3" stroke-dasharray="4.2 3.4"/><line x1="133.56" y1="6.3" x2="133.56" y2="163" stroke="#1a1aff" stroke-width="1.3" stroke-dasharray="4.2 3.4"/><line x1="47" y1="139.11" x2="213.3" y2="139.11" stroke="#1a1aff" stroke-width="1.3" stroke-dasharray="4.2 3.4"/><rect x="47" y="6.3" width="166.3" height="156.7" fill="none" stroke="#000" stroke-width="1.6"/><line x1="54.6" y1="163" x2="54.6" y2="164.8" stroke="#444" stroke-width="0.9"/><text x="54.6" y="176.6" font-family="Liberation Sans" font-size="11" text-anchor="middle" font-weight="normal" fill="#2a2a2a" stroke="#2a2a2a" stroke-width="0.25">−5.0</text><line x1="92.2" y1="163" x2="92.2" y2="164.8" stroke="#444" stroke-width="0.9"/><text x="92.2" y="176.6" font-family="Liberation Sans" font-size="11" text-anchor="middle" font-weight="normal" fill="#2a2a2a" stroke="#2a2a2a" stroke-width="0.25">−2.5</text><line x1="129.8" y1="163" x2="129.8" y2="164.8" stroke="#444" stroke-width="0.9"/><text x="129.8" y="176.6" font-family="Liberation Sans" font-size="11" text-anchor="middle" font-weight="normal" fill="#2a2a2a" stroke="#2a2a2a" stroke-width="0.25">0.0</text><line x1="167.4" y1="163" x2="167.4" y2="164.8" stroke="#444" stroke-width="0.9"/><text x="167.4" y="176.6" font-family="Liberation Sans" font-size="11" text-anchor="middle" font-weight="normal" fill="#2a2a2a" stroke="#2a2a2a" stroke-width="0.25">2.5</text><line x1="205" y1="163" x2="205" y2="164.8" stroke="#444" stroke-width="0.9"/><text x="205" y="176.6" font-family="Liberation Sans" font-size="11" text-anchor="middle" font-weight="normal" fill="#2a2a2a" stroke="#2a2a2a" stroke-width="0.25">5.0</text><line x1="45.2" y1="155.7" x2="47" y2="155.7" stroke="#444" stroke-width="0.9"/><text x="42" y="159.6" font-family="Liberation Sans" font-size="11" text-anchor="end" font-weight="normal" fill="#2a2a2a" stroke="#2a2a2a" stroke-width="0.25">0</text><line x1="45.2" y1="117.45" x2="47" y2="117.45" stroke="#444" stroke-width="0.9"/><text x="42" y="121.35" font-family="Liberation Sans" font-size="11" text-anchor="end" font-weight="normal" fill="#2a2a2a" stroke="#2a2a2a" stroke-width="0.25">3</text><line x1="45.2" y1="79.2" x2="47" y2="79.2" stroke="#444" stroke-width="0.9"/><text x="42" y="83.1" font-family="Liberation Sans" font-size="11" text-anchor="end" font-weight="normal" fill="#2a2a2a" stroke="#2a2a2a" stroke-width="0.25">6</text><line x1="45.2" y1="40.95" x2="47" y2="40.95" stroke="#444" stroke-width="0.9"/><text x="42" y="44.85" font-family="Liberation Sans" font-size="11" text-anchor="end" font-weight="normal" fill="#2a2a2a" stroke="#2a2a2a" stroke-width="0.25">9</text><text x="132.4" y="190" font-family="Liberation Sans" font-size="11" text-anchor="middle" font-weight="normal" fill="#000" stroke="#000" stroke-width="0.25">logFC</text><text x="27.8" y="96" font-family="Liberation Sans" font-size="11" text-anchor="middle" font-weight="normal" fill="#000" transform="rotate(-90 27.8 96)" stroke="#000" stroke-width="0.25">−log10(P.Value)</text><text x="227" y="63.2" font-family="Liberation Sans" font-size="11" text-anchor="start" font-weight="normal" fill="#000" stroke="#000" stroke-width="0.25">Sig</text><circle cx="221.4" cy="78.9" r="4" fill="#22e622" stroke="none" stroke-width="0"/><text x="227" y="82.8" font-family="Liberation Sans" font-size="11" text-anchor="start" font-weight="normal" fill="#000" stroke="#000" stroke-width="0.25">Down</text><circle cx="221.4" cy="97.5" r="4" fill="#000" stroke="none" stroke-width="0"/><text x="227" y="101.3" font-family="Liberation Sans" font-size="11" text-anchor="start" font-weight="normal" fill="#000" stroke="#000" stroke-width="0.25">Not</text><circle cx="221.4" cy="114" r="4" fill="#ff1010" stroke="none" stroke-width="0"/><text x="227" y="117.8" font-family="Liberation Sans" font-size="11" text-anchor="start" font-weight="normal" fill="#000" stroke="#000" stroke-width="0.25">Up</text><text x="6" y="19.2" font-family="Liberation Sans" font-size="17.5" text-anchor="start" font-weight="bold" fill="#000">A</text><line x1="313.2" y1="6.3" x2="313.2" y2="163.4" stroke="#f3f3f3" stroke-width="0.6"/><line x1="359.2" y1="6.3" x2="359.2" y2="163.4" stroke="#f3f3f3" stroke-width="0.6"/><line x1="405.2" y1="6.3" x2="405.2" y2="163.4" stroke="#f3f3f3" stroke-width="0.6"/><line x1="451.2" y1="6.3" x2="451.2" y2="163.4" stroke="#f3f3f3" stroke-width="0.6"/><line x1="304.3" y1="134.2" x2="461.1" y2="134.2" stroke="#f3f3f3" stroke-width="0.6"/><line x1="304.3" y1="90.4" x2="461.1" y2="90.4" stroke="#f3f3f3" stroke-width="0.6"/><line x1="304.3" y1="46.6" x2="461.1" y2="46.6" stroke="#f3f3f3" stroke-width="0.6"/><line x1="336.2" y1="6.3" x2="336.2" y2="163.4" stroke="#e6e6e6" stroke-width="0.9"/><line x1="382.2" y1="6.3" x2="382.2" y2="163.4" stroke="#e6e6e6" stroke-width="0.9"/><line x1="428.2" y1="6.3" x2="428.2" y2="163.4" stroke="#e6e6e6" stroke-width="0.9"/><line x1="304.3" y1="156.1" x2="461.1" y2="156.1" stroke="#e6e6e6" stroke-width="0.9"/><line x1="304.3" y1="112.3" x2="461.1" y2="112.3" stroke="#e6e6e6" stroke-width="0.9"/><line x1="304.3" y1="68.5" x2="461.1" y2="68.5" stroke="#e6e6e6" stroke-width="0.9"/><line x1="304.3" y1="24.7" x2="461.1" y2="24.7" stroke="#e6e6e6" stroke-width="0.9"/><path d="M381.3 151.4h0M390.5 133.4h0M382.8 128h0M391.5 151.6h0M390.8 144.8h0M382.2 131.6h0M381.4 141.6h0M380.2 129.4h0M385.2 146.4h0M382 154h0M386.9 136.2h0M382.6 149.2h0M386.3 138h0M388.1 139.4h0M373.1 146.7h0M381.4 139.1h0M384.4 142h0M384.9 143.4h0M380.3 136.8h0M374.2 142.4h0M378.4 134.9h0M369.8 133.5h0M379.8 140.8h0M389.8 140.4h0M368.3 135.4h0M382.9 155.8h0M382.9 150.7h0M392.6 134h0M380.1 128.5h0M382.8 143.6h0M388.8 136.3h0M381.9 149.2h0M389.6 143.6h0M380.9 138.9h0M377.7 149h0M377.1 143.8h0M377.3 148h0M369.6 132.3h0M366.4 131.8h0M391.1 132.2h0M388.5 129.9h0M385.9 128.8h0M381.3 153.1h0M385.4 139.2h0M377.9 131.8h0M384.7 134.8h0M385.4 151.7h0M379.7 140.4h0M386.5 136.2h0M385.5 132.6h0M380.5 155.2h0M375.7 152.3h0M388.2 137.6h0M384.5 128.8h0M384.6 149.3h0M378.1 149.2h0M377.3 146.1h0M383.8 132.1h0M382.4 130.5h0M379.2 131.8h0M377.4 128.1h0M379 130.1h0M380.6 129.4h0M374.4 133.5h0M385.1 130.8h0M376.4 131.6h0M386.7 137.4h0M380.6 152.9h0M381.3 155.1h0M381.6 148.6h0M386.2 154.1h0M383.4 140.4h0M385.4 149.1h0M371.5 128.8h0M391.8 127.8h0M380.8 130.3h0M377.1 136h0M379 149.6h0M381 129.4h0M379.2 140.6h0M392.5 147.5h0M389.5 143.4h0M379.9 133.1h0M380.2 142.3h0M376.1 141.7h0M379.1 139.8h0M385.7 144.5h0M382.2 141.6h0M390.3 135h0M383.8 152h0M383 132.9h0M384.7 144.2h0M387.5 134.5h0M386.8 148.7h0M381.6 128.1h0M385.2 136.3h0M385.4 153.1h0M384.8 147.3h0M384.6 143.6h0M377.6 150.7h0M368 129.7h0M377 150.2h0M384.8 134.2h0M386.9 145.5h0M383.7 132h0M380.7 136.6h0M392.2 144.1h0M383.2 145h0M387.7 130.7h0M381.1 131h0M377.9 150.4h0M388.3 132.7h0M387.2 137.5h0M381.9 152.3h0M381.3 137.2h0M381.8 132.7h0M383.4 137.1h0M386.2 142.8h0M377.4 127.9h0M388.6 142.1h0M386.6 130.1h0M380.4 135.2h0M381.8 143h0M383.7 148.2h0M380.2 143.9h0M384.4 128.4h0M389.1 137.8h0M378 138h0M382.3 150.7h0M379.2 149.7h0M381.4 146.4h0M382.1 127.6h0M384.3 152.7h0M368.4 129.8h0M373.3 131.2h0M391.8 131h0M384.5 130.3h0M384.3 150.5h0M387.7 143.9h0M362.4 131h0M377.5 145.7h0M390.9 132.3h0M378.5 147h0M382 146.5h0M386.4 128.9h0M380.5 138h0M379.9 153.2h0M384.4 142.6h0M395.4 128.6h0M381.1 133h0M382.7 150h0M377 144.3h0M382.3 133h0M379.4 131.9h0M386.2 133.1h0M379.2 138.6h0M385.2 148.2h0M385.7 133.9h0M377 128.3h0M379.4 148.6h0M373.4 137.6h0M376.3 139.5h0M382.2 144.6h0M381.5 144.5h0M389.1 139.8h0M387.9 144.4h0M381.9 139.3h0M383.2 133.6h0M382.3 130.9h0M395.5 133.6h0M377.3 140.5h0M388 129.1h0M380.2 137.5h0M372.8 129.7h0M369.3 131.6h0M381.1 141.7h0M379.8 128h0M384.5 142.5h0M381.9 136.9h0M374.9 137.2h0M383.8 134.9h0M377.4 129.2h0M380.9 129.3h0M384 143.2h0M382.8 139.6h0M384.5 142.4h0M380.3 141.8h0M379.5 141.8h0M376.3 146.3h0M384 136.8h0M379.7 128.9h0M374.8 135.1h0M378.5 141.5h0M377.3 146.7h0M377.7 130.4h0M391.6 133.9h0M370.6 138.1h0M384.5 138.9h0M385.8 127.9h0M383.9 149.5h0M378.5 138.5h0M381.1 141.2h0M384.3 151.5h0M378.7 134.2h0M381.4 133.9h0M383 145.2h0M370.1 128.4h0M387.4 139.4h0M389 144.6h0M385.3 138.2h0M383.6 131.3h0M376.5 127.8h0M390.5 148.6h0M381.8 142.8h0M364.6 128.3h0M370.4 129.6h0M381.8 154.5h0M370.3 139.1h0M379.6 153.1h0M373.7 128.5h0M386.4 129.3h0M383 130.4h0M383.4 141.7h0M378.1 143.2h0M386 155h0M386.1 134.6h0M397.2 129.1h0M378.3 146h0M375.8 145.5h0M382.5 153.6h0M378.3 141.9h0M387.9 130.4h0M386.6 133.8h0M383.1 151.5h0M381 147.6h0M379.2 141.4h0M375.9 129.4h0M381.5 144.6h0M382.1 155.3h0M380 138.3h0M378.8 145.3h0M380.8 134.8h0M382.2 141.3h0M377.3 146.6h0M383.5 144.1h0M380.5 144.4h0M375.3 128.5h0M380.5 133.8h0M384.7 133.2h0M383.8 143.7h0M375.4 139.7h0M386.1 130.2h0M381.3 133.9h0M388.1 138.1h0M386.6 147.1h0M376.5 128.4h0M387.2 148.5h0M381 146.1h0M388.5 139.1h0M382.4 148.1h0M378 154.6h0M382.6 144.1h0M378.9 132.3h0M383.5 137.4h0M387.4 131.8h0M392.4 128.6h0M383.3 135.4h0M380 145.2h0M376.8 131.1h0M384.7 135.1h0M385.6 134h0M384 140.8h0M379.8 148.8h0M378.3 152.4h0M377.7 133.7h0M374.9 131.2h0M380.2 135.7h0M372.2 130.6h0M382.2 155.9h0M382.8 147.5h0M381.3 131.7h0M378.3 136.8h0M383.6 145.4h0M384.7 148.1h0M382.6 148.5h0M379.6 147.3h0M382.9 137.5h0M382.6 149.8h0M373.9 142.9h0M375.9 140.6h0M378.2 139.6h0M387 142.6h0M384 141.4h0M377.3 141.1h0M378.9 129.3h0M384.8 145.5h0M380.9 132.1h0M382.4 135.5h0M385.5 141.2h0M387.1 129.2h0M380.8 133.9h0M384.3 142.7h0M383.7 152.2h0M399.7 131.4h0M380.6 141.4h0M379.6 152.7h0M379.8 143.8h0M383.2 127.8h0M386.7 137.7h0M380.4 149h0M380.6 143.2h0M383.2 137.8h0M378.7 134.8h0M376.5 137.3h0M380.6 136.4h0M375.1 127.6h0M379.4 143.2h0M385.2 139.5h0M390.3 138.1h0M386.3 131.8h0M383.2 133.9h0M382.9 143.1h0M372.1 131.1h0M382.7 147.8h0M378.6 132.5h0M383.2 136.5h0M385.4 152.9h0M371.5 135h0M382.5 148.3h0M378.9 131.3h0M388.2 131.8h0M371.6 133.5h0M388.6 130.2h0M382.1 143.3h0M386.3 146.3h0M376.6 129.9h0M378.3 139.3h0M384.4 138.4h0M375.8 140.2h0M380.6 135.6h0M389.6 134.5h0M385.9 139.6h0M388.1 130.6h0M383.1 140.8h0M381.2 133.9h0M383.8 152.8h0M373.8 135.7h0M381.5 151.9h0M385.3 144.6h0M382.5 155.8h0M386.7 131.4h0M385.8 149.3h0M384.3 152.4h0M388.4 141.9h0M381.4 142.6h0M390.1 130.8h0M377.8 146.9h0M385.8 141.3h0M387.8 130.2h0M381.3 136.2h0M387.4 144h0M383.2 146.1h0M382 139.1h0M383.3 128.8h0M395.7 131.2h0M381.9 151.9h0M378.2 138.2h0M384.2 152.5h0M381.1 153.7h0M378.6 131.6h0M372.6 139.6h0M383.8 143.9h0M378.3 137.3h0M385 140.2h0M389.2 135.2h0M375.3 148.8h0M376.6 135.9h0M381.9 138.1h0M373.1 128.2h0M383.2 143.5h0M381.4 135.6h0M388 138.8h0M370.3 131.5h0M379.7 132.2h0M380.3 145.1h0M378.6 134.5h0M377.2 150.4h0M380.7 137.5h0M378.4 149h0M374.9 136.2h0M383.2 133h0M379.7 131.4h0M389.7 131.9h0M380.9 137.4h0M384.8 147.3h0M373.8 137.3h0M376.8 131.7h0M385.5 141.2h0M373.4 132.2h0M380.8 128.9h0M382.8 139.8h0M373.6 143.8h0M386.9 144.7h0M385.1 140.9h0M373.2 148.2h0M379.2 140.2h0M379.3 145.6h0M383.7 153.2h0M377.4 133.9h0M385.2 147.7h0M381.3 136.6h0M383.7 137.6h0M381.2 144.9h0M390.1 141.7h0M374.3 134.9h0M382.9 140.7h0M382.6 128.5h0M390.1 134.8h0M385.4 148.8h0M381.4 147.3h0M385.1 128h0M386.2 141.8h0M385.4 150.7h0M377.9 140.5h0M385.6 131.7h0M379.1 130.5h0M378.6 133.4h0M380.3 151.9h0M382 152.5h0M392.1 132.6h0M385.5 144.3h0M380.3 127.7h0M383.1 150.3h0M384.2 155.4h0M377.4 135.8h0M374 128.2h0M383.1 133h0M381.5 154.7h0M392.5 129.9h0M384.6 154.5h0M375.1 151.1h0M385.2 131.3h0M378.1 144.3h0M380.9 138.5h0M387.4 128.5h0M379.7 148.1h0M375.7 129.9h0M382.4 132.1h0M382.8 129.9h0M371.9 128.6h0M381.1 130.5h0M381.8 136.3h0M385.2 136.8h0M373.3 128h0M385.3 148.7h0M380.5 148.2h0M384 149.3h0M380.1 149.4h0M386.3 150.8h0M385.8 132.7h0M372.2 140.2h0M377.4 137.4h0M382.2 147.1h0M370.4 129.3h0M386.4 143.8h0M376.5 151.8h0M379.2 154h0M386.5 151.3h0M386.8 144.2h0M386.2 138.4h0M380.5 146.2h0M385.1 132.7h0M371.9 148.4h0M382.5 136.8h0M392.3 134.8h0M383.8 150.9h0M380.4 140.6h0M392 128.2h0M385.7 137.7h0M380.6 140.5h0M387.2 137.4h0M383.7 146.6h0M370.7 130.2h0M387 142.8h0M382.6 128h0M385.2 142.5h0M398.4 128.1h0M381.6 155.3h0M381.5 147.3h0M381 147.4h0M381.1 149.5h0M379 149.3h0M376.7 132.3h0M380.9 135h0M389.5 132h0M386.7 129.9h0M372.6 133.6h0M386.5 145.5h0M382.9 151.9h0M387.8 144.2h0M385.5 149.5h0M379 146.4h0M378.1 152.5h0M375.9 134h0M384.5 137.2h0M382.1 130.8h0M380.5 149.3h0M377.8 151.6h0M377.8 132.6h0M388.2 129.5h0M385.2 137.3h0M374.9 134.5h0M373.6 133.5h0M378.1 154h0M381.8 140.6h0M381.8 131.4h0M383 154.1h0M377.8 136.9h0M379.3 140.3h0M385 146.7h0M383.8 138.2h0M378.1 128.9h0M387.4 131.5h0M381.2 130.9h0M375.4 136.3h0M385.7 144.8h0M381.4 151.8h0M385.6 127.8h0M382.4 155.2h0M385.8 153h0M388.1 134.7h0M388.2 134h0M378.9 134.4h0M390.5 128.5h0M379.9 139h0M372.6 134h0M381.9 131.8h0M382.1 136.7h0M377.2 136.4h0M387.5 131.3h0M384.5 132.3h0M385.4 134.5h0M380.1 137.3h0M385.1 134.7h0M379.5 131.9h0M383.7 143.4h0M378.8 129h0M384.4 139h0M382.6 131.5h0M385.9 150.4h0M382.8 146.2h0M380.2 133.9h0M384.4 140h0M375.8 137.9h0M383 149.6h0M386.4 136h0M379 141.8h0M382.9 143.8h0M385.7 135.4h0M388.7 152.5h0M380.1 143.2h0M384.3 146.1h0M383.1 145h0M392.6 130.5h0M383.2 151.4h0M379 136.1h0M385.7 146.6h0M380.4 154.1h0M377 128.5h0M384.1 127.7h0M387.5 140.2h0M382.7 145.1h0M391.3 141.1h0M387.2 133.4h0M386.3 143.1h0M380.3 129.5h0M390.9 140.6h0M383.9 152.1h0M386.7 130.8h0M391.6 136.6h0M382.6 148.2h0M388.7 136h0M377.3 147.9h0M385.9 132.5h0M381.6 153.8h0M380.4 141.1h0M382.3 130.2h0M381.8 153.3h0M378.2 141.6h0M379.6 139.1h0M385.3 142.7h0M376.2 145.5h0M384 128.2h0M379.9 145.8h0M372.4 144.5h0M385.6 148.2h0M373.8 129.4h0M377 134h0M379.5 130.6h0M380.1 128.4h0M371 140.4h0M393.3 131.1h0M382.9 140.3h0M387 151.3h0M382.7 138.3h0M387.7 141.3h0M380.4 153.9h0M389.2 143.2h0M373.8 141.9h0M378.3 144.1h0M387.1 139.5h0M381.4 140.4h0M382.6 137.2h0M382.7 133.6h0M375.4 135.7h0M383.6 149.1h0M382.8 152.3h0M377.9 136h0M381.7 153.3h0M388.5 137.6h0M381.7 151.5h0M374.8 138.6h0M378.4 137.8h0M393 131.5h0M383.9 134.6h0M383.8 132.1h0M387.5 149.2h0M383.4 132.3h0M381.5 129.1h0M382.1 133.3h0M380.4 144.5h0M382.9 142.3h0M380.1 135.4h0M379.5 148.7h0M386 129.8h0M388.6 138.1h0M387.7 128.1h0M379.1 151h0M380.8 135.7h0M385.2 127.8h0M389 134.4h0M389.7 127.8h0M382 146.1h0M376.7 131h0M385.9 144.5h0M389.8 134.1h0M385.2 148.5h0M383.9 148.9h0M381.4 128.4h0M384.1 128.5h0M384.2 128.8h0M379 128.4h0M380.7 131.2h0M376.8 137h0M378.4 141.9h0M381.8 155.2h0M390 143.7h0M371.6 128.5h0M384.9 150.8h0M380.1 131.2h0M380.2 149.9h0M383.8 128.7h0M379.4 145h0M394.4 138.3h0M376.8 146.4h0M377.4 135.8h0M386.8 140.5h0M395.3 134.7h0M397.1 128.1h0M391.5 135.8h0M374.4 137.4h0M379.5 137.7h0M385.4 145.4h0M384.1 131.7h0M384.1 132h0M377.5 149.5h0M382.3 150.4h0M378 134h0M382.4 139.5h0M379 151.7h0M389.2 133.2h0M383.6 135.2h0M381.9 148.6h0M380.3 152.7h0M370.3 130.9h0M383.2 132.4h0M388.3 146.4h0M393 150.3h0M376.6 131.7h0M385.3 140.3h0M383 143.6h0M385.1 128.7h0M378.4 132.4h0M388.2 130.7h0M384.7 142.9h0M386.5 138.3h0M388.4 147.8h0M389.7 134.2h0M383.3 151.8h0M372.7 130.6h0M383.2 145.8h0M380.1 141.2h0M380 149h0M379.8 154.4h0M370.7 134h0M378.5 130.3h0M370.4 128.3h0M379.9 136.1h0M380.6 141h0M384.3 149.3h0M382.7 154.6h0M385.4 136.6h0M391.4 128.7h0M385.3 148.3h0M387 144.2h0M383.9 144.4h0M377.3 139.7h0M376.8 136.8h0M382.5 129.2h0M383 154h0M384.7 144.5h0M383 148.7h0M383.4 131.1h0M387.2 130.8h0M386.5 134.5h0M384.3 132.5h0M383.9 140.9h0M381.8 144.9h0M380.3 141.7h0M377.4 136.5h0M389.6 147.1h0M376 141.5h0M370.4 132.7h0M383.2 133.4h0M375.8 137.3h0M381.1 127.9h0M387.2 147.7h0M371.2 129h0M383.7 143.8h0M378.2 128.6h0M385.8 139.8h0M383.7 144.4h0M372.3 130.7h0M384.5 152.9h0M386.4 134.8h0M373.7 146.9h0M382.7 154.3h0M379.6 149.4h0M375.3 143.9h0M385.4 139.2h0M379.9 140.8h0M388.1 144.3h0M385.1 127.9h0M376.4 135.6h0M386.1 142.4h0M386.3 139.1h0M387.2 143.2h0M374.3 132.2h0M386.6 130.8h0M388.2 135.7h0M385.7 154.6h0M381.8 143.8h0M387 145.4h0M378.2 154.9h0M376.6 132.8h0M385.3 145.3h0M384.1 147.7h0M381.7 141.3h0M378.8 129.1h0M378.7 138.4h0M383.4 148.5h0M378.8 142.6h0M378 133.9h0M376.1 129.8h0M381.1 136.6h0M379 150.4h0M379.5 151.8h0M382.8 146.4h0M381.8 151.6h0M378.6 148h0M376.2 143.4h0M381.2 149.1h0M381.6 148.6h0M384.7 139.7h0M386.1 132.7h0M388.2 129.8h0M384.2 137.8h0M376.6 139.7h0M386.8 131.1h0M380.3 155h0M378.9 141.5h0M380.6 131.3h0M387.2 131.2h0M376.2 129.6h0M389.9 136.6h0M377.2 141.2h0M375.5 136.8h0M387.7 134.7h0M373.9 138.4h0M386.3 132.9h0M392.1 148.6h0M379.5 155.1h0M377.5 131.8h0M382.8 130.7h0M383.6 133.7h0M385.1 138.5h0M377 131.9h0M373.1 142.3h0M382.2 143.1h0M385.8 138.4h0M376.9 141.7h0M377.7 128.6h0M396.5 133.2h0M379.3 130.9h0M381.3 141.9h0M373.2 139.6h0M383.8 131.1h0M389.4 147.7h0M382.7 129h0M388.9 132.7h0M386.2 129.7h0M371.4 128.4h0M389.6 146.1h0M387.9 133.5h0M393.3 135.8h0M388.7 135.7h0M380.5 150.7h0M377.1 129.1h0M384.1 139.4h0M382.5 150.4h0M383.8 147.1h0M381 133.5h0M381.7 149.2h0M387 130.3h0M382.5 130.7h0M384.4 144.6h0M380.6 138.2h0M367.6 131.8h0M378.4 141.2h0M377.4 139.1h0M385.2 145.7h0M389.3 129h0M374.6 132.9h0M381.4 145.8h0M377.3 129.9h0M383.6 138.6h0M384.8 132.5h0M384.7 129.4h0M379.4 139h0M383.4 134.8h0M378.7 138.2h0M377.7 133.7h0M377.4 146h0M373.5 132.6h0M381.7 147.1h0M382.5 137.2h0M374.6 138.5h0M375.8 137.6h0M379.9 152.1h0M376 148.8h0M380 138h0M381.6 149.3h0M387.1 143h0M385.2 138.9h0M384.3 152.8h0M382.8 152.5h0M382.4 142.5h0M381.3 150.2h0M392.9 128.8h0M376.2 143h0M378.1 142.8h0M378.3 142.2h0M377.9 147.4h0M376.2 128.1h0M386.9 130.1h0M381 153.2h0M380.3 136.9h0M383.9 148.2h0M382.8 131.9h0M382.3 148.2h0M381.6 148.6h0M381.2 152.7h0M381.7 135.9h0M377.8 138.2h0M383.3 151h0M370.9 141.8h0M372.5 128h0M380.3 154.5h0M382.5 151.4h0M384.9 139.9h0M386.3 148.3h0M391.9 133.2h0M385.6 132.9h0M391.6 140.2h0M379.8 131.7h0M378.2 132.1h0M379.8 129.9h0M383 131.1h0M368.1 128.2h0M378.4 142.4h0M381.2 136h0M381.2 127.8h0M372.4 138.5h0M382.6 152.9h0M382.6 151.9h0M380.4 132.2h0M384.9 128.6h0M381.1 138.9h0M373.7 140.1h0M378.4 137h0M384.6 147.4h0M383.9 133.1h0M382.3 139.2h0M380.1 137.6h0M384.1 133.1h0M385.1 150.9h0M380.1 150.8h0M381.7 150.1h0M381.6 149.9h0M386.1 139.5h0M383.4 131.3h0M373.6 136.7h0M381.2 140.7h0M378.9 149.9h0M376.6 143.3h0M379.7 127.7h0M378 134.1h0M379.4 127.8h0M386.4 138.3h0M384 142.7h0M376.9 136.4h0M380.6 153.4h0M385.6 145.7h0M377.9 138.2h0M376.8 132.3h0M378.5 136.7h0M379.5 144.7h0M388.1 144.4h0M385.7 132.7h0M378.3 141.4h0M386.3 151h0M387.3 150.4h0M391.1 139.6h0M381 147h0M377.4 137.1h0M388.8 138.9h0M380.7 144.4h0M362.9 129.2h0M390.3 130.2h0M379.2 129.8h0M384 149.8h0M388.5 146.9h0M388.1 135.4h0M384.2 155.3h0M389.1 129.1h0M380.2 148.4h0M382.7 136.1h0M378.5 135.1h0M381.2 141.4h0M387.1 152.3h0M381.8 153.2h0M379.7 129h0M384.5 143h0M388.4 133.8h0M384.1 134.9h0M380.9 140.6h0M384.7 128.9h0M380.1 150.1h0M394.8 140.3h0M393.2 144h0M374.4 130h0M381.2 137.2h0M379 149.9h0M385.3 129.8h0M379.2 151.3h0M378.6 136.9h0M372.3 141h0M372 135.9h0M377.3 144.9h0M379.2 148.7h0M380.1 135.6h0M383.4 131.4h0M384.1 130.8h0M382.1 139.5h0M387.6 137.6h0M379.4 137h0M390 138.5h0M380.9 151.6h0M382.3 135.4h0M379 128.7h0M382.5 146.4h0M380.1 154.2h0M378.6 142.4h0M381.6 129.9h0M377.8 141.5h0M383.5 128.2h0M378.9 147.5h0M381.9 148.3h0M379.5 149.1h0M381.1 139.4h0M385.3 137h0M380.2 151.4h0M384.6 136.8h0M383.9 155.5h0M383.9 151.5h0M382.4 141.9h0M375.1 132h0M380.4 147.1h0M379.8 149.9h0M384.6 136.1h0M384.3 139.5h0M375.3 142.2h0M386.2 138.9h0M377.2 139.4h0M376 145.7h0M384.2 131.5h0M384.5 144h0M377.1 130.3h0M390.5 133.3h0M377.6 149.7h0M390.2 127.8h0M388.3 136.6h0M381.8 138.4h0M382 145.2h0M379.6 153.8h0M384.9 129.2h0M384.9 150h0M379.9 135.7h0M379.1 140.7h0M387.7 148.3h0M384.6 128h0M384.7 144.4h0M381.6 138.4h0M384.7 146.3h0M394.4 132h0M383.3 150.1h0M374.2 139.9h0M379.5 147.6h0M384.7 130.2h0M389.1 144.6h0M390.5 135.4h0M389.1 128.4h0M380.8 131.2h0M380.9 152.9h0M378.1 151.8h0M381.7 152.1h0M381.6 135.5h0M381.6 153.2h0M382 140.6h0M391.3 138.1h0M375.6 131h0M375.3 133.1h0M381.5 148.9h0M377.9 141.3h0M384.5 143.8h0M380.6 140.8h0M384.4 143.6h0M384.6 133.9h0M381.3 128.3h0M376.1 131.5h0M386.1 128.1h0M379.1 146.5h0M386.1 141.2h0M384.2 152.2h0M382.5 145.1h0M384.9 136.7h0M375.1 145.1h0M380.9 149h0M386.9 144.3h0M396 138h0M386.9 142.6h0M381.1 129.2h0M386.2 129.7h0M374.7 132.4h0M387.4 143.1h0M381.8 133.8h0M386.1 133.3h0M388.8 147.8h0M383 155.5h0M376 142.1h0M384.5 135h0M379 150h0M378.5 129.7h0M387.1 140.9h0M380.6 148.7h0M376.6 144.1h0M379.9 138.4h0M378.5 153.7h0M386.6 138.5h0M383.4 133.6h0M386.1 151.3h0M378.3 133.5h0M382.2 152.4h0M379.8 139.9h0M379.3 149h0M374.7 132h0M384.1 145h0M383.9 145.4h0M381 130.6h0M379.9 150.4h0M386.5 143.2h0M377.5 131h0M383.3 142.9h0M381.9 148.1h0M390.9 139.2h0M385.8 148.4h0M384.2 143.3h0M378.8 133.3h0M380.2 131.3h0M381.9 129.6h0M387.4 150.2h0M376.9 129h0M381.9 137.4h0M381.9 146.2h0M389.1 129.9h0M380.6 137.2h0M379 139.1h0M384.9 144.7h0M372.3 129.4h0M389.9 135.5h0M382.5 132.8h0M392.3 135.6h0M386.4 145.7h0M381.9 129.3h0M380.4 154.1h0M378.2 143.1h0M381.2 143.7h0M374.8 145.6h0M386.4 133.2h0M383.9 140.2h0M376.6 143.2h0M384.4 140.6h0M383.4 137.5h0M380.7 139.6h0M385.7 137.8h0M383.3 149h0M388.7 147.1h0M380.2 148h0M384.5 129.1h0M380.5 153.8h0M391.6 130.4h0M374.8 136.2h0M382 146.8h0M382.2 132.1h0M378.6 139.7h0M374.9 140.9h0M387.5 148.2h0M376.4 137.1h0M386.6 127.8h0M384.1 148.7h0M378.1 138.1h0M378.7 143h0M372.8 136.9h0M375.3 142h0M387.1 127.9h0M381.3 127.7h0M385.4 135.7h0M385.6 146.2h0M372.4 147.4h0M388.9 132.7h0M375.6 143.8h0M387.5 146.2h0M383.2 132.2h0M374.4 145.3h0M381.6 135.1h0M395.1 135h0M380.4 151.3h0M387.7 135.1h0M388 127.8h0M385.1 153.6h0M380.8 153.3h0M393.5 138.8h0M384.8 147.1h0M380.7 142h0M382.9 128.2h0M375.3 135.3h0M385.6 134.2h0M386.5 131.3h0M383.9 152.2h0M377.6 137.6h0M389.3 133.7h0M390.1 147.3h0M386.6 130.5h0M387 129h0M377.8 141.2h0M370.7 142.4h0M388.6 138.3h0M388.9 147.6h0M388.9 133.3h0M380.7 145.2h0M392.3 131.1h0M385.2 143.9h0M378.2 128.2h0M383.5 131.6h0M384.8 139.4h0M387.5 128.3h0M389.3 129.4h0M384.2 152.1h0M385.9 131.8h0M390.2 132.2h0M384.4 136.1h0M382.1 138.7h0M381.8 150.4h0M379.9 139.6h0M382.7 137.2h0M377.5 128.4h0M383 132.8h0M393.6 130h0M384.5 150.8h0M386.7 141.7h0M375.9 138.8h0M375.7 138.1h0M383 142.5h0M387.4 146.2h0M376.8 130.1h0M382.9 130.3h0M389.9 144.6h0M386.4 132.9h0M385 133.5h0M384.5 147.2h0M376.3 137.2h0M382.1 140.2h0M369.9 132.2h0M376.7 139.1h0M385.2 137h0M384 144.1h0M385.6 144.9h0M379.7 129.6h0M383 142.7h0M389.9 128.5h0M382.8 136.9h0M386.3 142.5h0M388.9 130.7h0M378.9 137.8h0M386.3 143.2h0M382 143.9h0M381.8 151h0M373.1 132.2h0M378.6 128.1h0M378 127.7h0M380.3 137h0M386.3 144.1h0M378.2 130.2h0M378.3 141.9h0M379.8 142.8h0M379.1 147.7h0M383 137.8h0M387.8 151.6h0M377.7 136.4h0M385 138.9h0M381.1 128.2h0M387.6 145h0M380.4 148.2h0M369.8 147.8h0M388.8 139.7h0M380.6 129.2h0M389.6 128.5h0M382 135.7h0M382.7 150.3h0M378.3 134.3h0M396.3 135h0M379.7 134.7h0M381.8 133.8h0M377 143h0M378.7 139h0M381.2 131.9h0M382.3 138h0M388.5 132.8h0M381.4 151.4h0M383.1 129.4h0M382.8 138.3h0M384.4 136.1h0M387.1 148h0M385.9 135.9h0M384.2 134.1h0M386 135.2h0M391.5 137.9h0M380 131.1h0M380.7 133.3h0M379.8 135.9h0M383.4 136.9h0M387.1 133.5h0M379.6 130.7h0M380.4 153.9h0M380.8 135.6h0M380.3 132.2h0M379.8 141.9h0M377.2 145.1h0M390 145.3h0M385.2 145.3h0M382.9 137.4h0M376.4 127.7h0M386.7 143.2h0M377.7 139.4h0M387.4 144.8h0M383.7 134.6h0M384.4 145.6h0M383 147h0M393.9 135h0M382.2 149h0M386.2 145.8h0M380.1 141.5h0M379.4 142.8h0M384.1 143.3h0M387.9 137.3h0M373.1 136.1h0M383.4 148.9h0M380.1 140.6h0M381.7 148.6h0M377.7 130.8h0M388.6 146.7h0M386.2 137.8h0M384.5 145h0M370.8 129.7h0M377 140.6h0M371.6 127.6h0M384.1 144.8h0M382.7 143.3h0M382.3 130.6h0M382.1 143.1h0M384.9 139.5h0M388.1 139.6h0M381.3 144h0M388.9 145.5h0M387.7 141.3h0M377.2 135.9h0M390.2 140.1h0M378.5 144.8h0M377.2 129.6h0M394.8 132.7h0M381 143.8h0M383.4 155.4h0M388 128h0M382.2 150.1h0M386 146.9h0M382.1 150.7h0M379.1 137.6h0M389.1 139.9h0M394 128.9h0M384.3 134.5h0M385.8 129.7h0M374.2 146.4h0M387.4 142.9h0M378.3 137.6h0M374.2 134.1h0M377.1 146.7h0M385.7 138.5h0M375.5 138.4h0M379.6 142.5h0M383.9 139.5h0M383.8 135h0M378.7 131.4h0M379.2 128.6h0M382.2 146.6h0M384.3 131.6h0M376.5 135h0M380.3 139.9h0M383.8 135.7h0M380.8 141.6h0M386.2 147.2h0M378.4 142.6h0M382.5 130.4h0M387.3 135h0M372.3 127.9h0M391.3 136.1h0M377.2 132.7h0M378.5 134.2h0M371.3 131.1h0M379.6 150.9h0M372 129h0M371.7 128.6h0M379.8 128.5h0M387.4 135.9h0M372.9 134.5h0M381 130.5h0M387.7 132.6h0M392.9 128.1h0M383.5 138.8h0M376.9 141.6h0M375 136.9h0M387.6 134.6h0M386.2 136.8h0M390.1 138.3h0M387.3 130.8h0M380.8 145.2h0M383 154.4h0M385.7 131.8h0M380 142.3h0M383.9 142.4h0M383.6 152.2h0M386.1 128.7h0M375.4 128.8h0M386.2 130.8h0M382.1 134.2h0M382.5 145.3h0M384.4 143.2h0M383.8 140.2h0M375.2 137h0M376.5 148.2h0M378.7 129.7h0M388.4 147h0M388.9 136.1h0M384.8 141.8h0M379.9 144.5h0M380.3 137.7h0M381.4 140.5h0M371.7 127.8h0M376.9 136.8h0M379.4 142.2h0M374 129.6h0M383.5 148.8h0M380.1 147.3h0M383.8 149.2h0M380.2 128.8h0M386 129h0M381.4 152h0M372.4 139h0M394.6 128h0M392.2 132.7h0M381.2 132.5h0M378.3 149.9h0M374.8 128.7h0M380.9 130.6h0M380.1 146.8h0M382.7 138.1h0M382.5 153.3h0M379.2 145.4h0M387.6 131.3h0M388.1 135.7h0M387.5 136.7h0M383.2 147.4h0M389.7 133.4h0M382.8 153.9h0M374.6 131.7h0M382.6 142.1h0M380.8 127.9h0M376.7 143.4h0M375.5 136.6h0M388.3 141.2h0M381.5 155.7h0M384.7 130.2h0M384.3 144h0M372.3 132.1h0M388.7 131.5h0M386.8 138.8h0M383.3 136.2h0M387.7 138.3h0M390.6 133.3h0M372.5 128.1h0M380.1 137.3h0M384.7 129.9h0M386.3 141h0M381.9 144.6h0M380.3 138.5h0M394.1 128h0M390.4 139.4h0M384 154.6h0M374.9 133.7h0M394.3 128.6h0M381.1 131.8h0M386.7 132.6h0M386.3 148.8h0M376 128.7h0M385.3 136.5h0M382.6 148.6h0M381 133.1h0M379.9 138.2h0M379.3 150.2h0M383 146h0M379.2 132.2h0M377.4 138.1h0M384.8 129.5h0M382.7 136.3h0M376.9 139.6h0M379.8 130.3h0M383.5 135.1h0M385.6 152.4h0M382.1 147.2h0M377 135.1h0M380.8 129.9h0M377.5 133.5h0M379.2 142.2h0M382.4 133.6h0M383.3 155.6h0M383.6 154.7h0M379.6 147.9h0M389 136.7h0M384.4 154.4h0M379.4 147.7h0M378.3 142.2h0M380.9 132h0M380.5 138.9h0M380.1 132.2h0M383.5 137.7h0M388.5 135h0M381.5 150h0M388.7 137.1h0M378.1 137.9h0M389.4 132.2h0M380.2 144h0M386.7 149.1h0M375.1 129.2h0M384.8 138.6h0M381.1 133h0M376 139.8h0M386.2 138.6h0M380.7 141.1h0M381.4 146h0M380 131.7h0M391.5 130h0M385.4 148.3h0M384.4 151.8h0M381 130.3h0M390 138.7h0M378.6 136.5h0M382 140.3h0M372.5 130.4h0M383.5 129.5h0M384 140.4h0M377.6 147.7h0M376.7 135.6h0M384.8 143.4h0M385.4 136.5h0M379.2 133.2h0M387.9 147.7h0M391 141.8h0M373.2 134.9h0M372.4 141.3h0M380.6 136.8h0M379.7 131.4h0M376.6 146h0M386.5 127.7h0M386.2 128h0M380.6 129.4h0M377.6 146.7h0M380.3 146h0M366.4 137.9h0M382.7 146.9h0M381.4 137.7h0M385 134.2h0M384.1 145.9h0M391.6 129.3h0M379.5 151.3h0M390.7 141.9h0M381.1 142.9h0M384.4 135.4h0M382.6 153.9h0M391.3 142.2h0M382.8 140.2h0M395.2 129.8h0M380.3 143.1h0M384.9 148.7h0M383.5 149.4h0M381 131.7h0M376.4 133.1h0M379 142.1h0M382.8 134.6h0M376.4 141.9h0M376.6 132.6h0M384 143.6h0M382.4 131.6h0M388.2 131.2h0M389 146.5h0M379.7 153.8h0M380.2 137.8h0M383 154.8h0M375.6 135.1h0M385.6 143.1h0M383.1 142.6h0M380.9 146.4h0M377.8 132.3h0M383.9 132.8h0M380.1 148.8h0M383.4 136.6h0M390.4 140h0M383.1 133.1h0M385.5 152.8h0M380.9 137.3h0M382.2 132.3h0M377.7 132.8h0M386.1 140.7h0M385.3 131.4h0M382.9 146.7h0M385.4 147.4h0M377.4 131.9h0M376.4 140.7h0M383.7 138.4h0M380.5 131.3h0M383.6 143.7h0M380.3 145.5h0M383 146.6h0M381.2 155.3h0M383 140.1h0M386.6 143h0M374.7 150.1h0M382.2 132.4h0M381.2 136.4h0M391.4 137.7h0M387.7 129.2h0M387.4 128.8h0M384.6 141.8h0M385.4 141.5h0M370.7 132.7h0M377.3 146h0M387.1 128.9h0M374.5 131.4h0M381.6 139.7h0M384.6 132.2h0M389.8 146.4h0M381.4 145.2h0M381.4 131h0M383.6 138.7h0M385.4 154.5h0M376.4 148.1h0M382.3 128.1h0M380 155h0M380.5 143.9h0M389.9 130.5h0M375.3 131.3h0M380.9 131.5h0M381.3 129.2h0M381.7 130.8h0M378.2 136h0M379.5 138.6h0M385.4 129.1h0M378.9 145.2h0M393.2 136.4h0M376.3 149.1h0M382.2 130.4h0M383.9 141h0M384.4 131.9h0M391.9 135.4h0M383.1 153.7h0M385 149.9h0M382 134.8h0M388.3 139.9h0M379.9 142.1h0M384.3 137.8h0M395.3 137.4h0M379.7 133.8h0M378.1 137.5h0M379.6 137h0M378 140.1h0M379 153h0M380.3 137.2h0M383.6 133.9h0M384.3 138.8h0M374.3 138h0M382 129.4h0M384.7 142h0M382.6 136.5h0M379 150.4h0M385.5 144.6h0M386 139.1h0M379.4 128.3h0M377.6 136.3h0M378.8 139.9h0M383.6 133.5h0M379.3 148.1h0M379 133.5h0M382.1 153.1h0M383.1 145.8h0M375.1 143.1h0M382.1 132.5h0M386.6 132.7h0M383.6 133.4h0M381.6 148.2h0M374.6 143.6h0M389.3 141.2h0M381.5 137.5h0M380.7 130.9h0M381.9 138h0M384.3 134.4h0M381.5 148.6h0M379.1 128.6h0M383.5 150.3h0M377.8 151.8h0M385.2 128.2h0M380.6 149.8h0M384.4 154.6h0M374 133.1h0M384.3 142.3h0M382.9 148.5h0M376.6 137.6h0M381.5 146.8h0M374.2 148.2h0M379.2 154h0M385.7 133h0M388.1 145.9h0M375 134.1h0M384.3 142.6h0M392.1 131.4h0M379 132.6h0M384.5 151.2h0M381.1 155.6h0M374.8 144.8h0M375.8 148.2h0M380.7 153.5h0M374.4 130.9h0M382.6 143h0M382.4 136.7h0M376.9 133.1h0M385.7 148.1h0M382.3 133.8h0M384.4 139.9h0M373.7 131.6h0M382.6 137.8h0M382.8 155.3h0M384.9 143.9h0M378.8 153.4h0M392.8 129.8h0M381.8 135.9h0M381.1 142.1h0M384.1 138.3h0M387 140.6h0M387.3 139.8h0M383.4 143h0M381.8 135h0M378.7 140.7h0M388.4 129.9h0M379.6 131.9h0M391.3 144.7h0M386.2 143.9h0M398.7 139.7h0M379.1 131.8h0M380.9 147.8h0M381.3 135.7h0M385.4 129.6h0M375.4 139h0M378.2 132.8h0M376.7 145.5h0M382.9 151.8h0M386.4 129.8h0M386.2 127.7h0M381.2 130.7h0M380.5 140.7h0M380.1 128.6h0M372.6 129.5h0M369.5 130.5h0M380.7 130.3h0M381.4 153.9h0M385.8 131.9h0M384.5 154.5h0M384 131.7h0M392.5 130.6h0M385.6 139.2h0M387 127.9h0M377.9 147.6h0M378.5 142.6h0M391.6 134.7h0M384.1 135.1h0M379.3 144.5h0M370.7 140.5h0M383.3 144.9h0M387.1 148.1h0M384.8 147.2h0M384.1 136.1h0M378.3 143.9h0M380.2 142.2h0M392.1 139.8h0M379.6 143.7h0M387.3 135.1h0M381.5 152.1h0M378 150.1h0M383.4 140.7h0M385.8 149h0M377.4 128.2h0M382.7 142h0M381.3 148.7h0M386.9 138.6h0M378.6 130.9h0M382.5 151.5h0M386.1 147.7h0M389.3 142.2h0M387.5 143.5h0M385 138.5h0M378.5 134.2h0M382.1 155.7h0M388.6 131.7h0M377 133h0M385.8 134.7h0M378.1 140.7h0M383.5 131.1h0M382.6 149.7h0M387.3 150.7h0M378.6 131.6h0M384.5 130.9h0M378.1 137.3h0M387.9 148h0M381.7 148h0M389.7 129.7h0M378.7 132.3h0M379 130.4h0M379.9 146.7h0M377.7 146.6h0M390.1 128.4h0M375 137.1h0M383.2 144.7h0M385.4 141.8h0M382.7 150.9h0M371.2 129.2h0M379.3 144.2h0M373.7 142.3h0M373.8 130.7h0M391.6 142.7h0M385.5 148.6h0M378.6 142.9h0M382.3 139.5h0M387.6 139.1h0M382.8 153.8h0M379.2 147.6h0M389.2 147.5h0M386.8 147.2h0M372.1 136.8h0M368.4 132.7h0M380.1 133.6h0M381.9 143.1h0M386.4 133.4h0M375.3 131.4h0M380.6 148.2h0M382 130.1h0M383.7 128h0M373.7 139.2h0M380.4 136.9h0M379.8 141.3h0M390.2 142h0M388.7 128.2h0M383.5 155.9h0M382.4 127.9h0M374.4 148h0M380.6 128.3h0M387.7 131.8h0M380.8 127.7h0M379 138.8h0M380.3 145.8h0M378.5 128.5h0M380.8 131.5h0M375.3 130.8h0M374.3 144.6h0M383.3 129h0M387.8 138.3h0M378.6 145.7h0M381.4 145.1h0M388 132.4h0M389.8 142.5h0M380.8 129.4h0M389.6 143.5h0M378.7 134.1h0M383.3 132.1h0M391.8 132.7h0M381.2 139.9h0M387.1 150h0M383.1 131.5h0M375.3 133.2h0M384.4 135.5h0M382.4 144.9h0M384.9 138.5h0M387.7 139.9h0M381.9 129.4h0M383.2 140.5h0M376.8 137.1h0M373.6 145.7h0M387.5 131h0M381.5 131.3h0M386.5 138.6h0M379 137.3h0M383.6 132.4h0M379.8 127.9h0M378.8 153.9h0M376.1 130.7h0M376.9 130h0M383.1 138.5h0M383.1 130.9h0M370.6 134.7h0M379.6 151.6h0M373.6 129.3h0M374.6 134h0M386 130.6h0M379.1 146h0M387.8 128.7h0M383 152.4h0M376.8 142.2h0M379.4 136.7h0M394.2 138.6h0M385.5 133.1h0M380.1 153.6h0M392 132h0M379.1 148.6h0M385.8 128.4h0M383.7 154.2h0M381.8 139.3h0M383.6 145.9h0M383.5 136.1h0M380.5 129.7h0M381.1 135.9h0M383.8 130.1h0M385.9 143.3h0M382.3 138.5h0M382.1 131.7h0M388.3 145.9h0M384 153.1h0M376 138.4h0M392.6 138.8h0M374 151.9h0M380.1 146.1h0M375.5 141.5h0M383.5 128h0M384.3 141.9h0M370.2 137h0M380 130.6h0M377.2 132.3h0M389 141h0M387.3 142.1h0M387.4 131.5h0M387.2 137h0M378.8 135.7h0M375.5 128.3h0M379.8 130.9h0M382.6 155.8h0M376 134.1h0M382.4 145.2h0M379.3 132.2h0M375.2 127.8h0M376 133.7h0M378.7 132h0M380.8 145.3h0M376.4 145.3h0M382.4 151.5h0M380.9 128.3h0M382.5 133.6h0M386.1 147.5h0M369.7 133.2h0M378.5 128.3h0M378 146.3h0M385.2 140.5h0M381.6 128.6h0M386.4 140.1h0M380.5 133.9h0M380.1 129.9h0M382 143.9h0M387.3 146.8h0M388 150h0M377.4 131.7h0M390.7 140.1h0M381.5 139.4h0M394.3 129.6h0M389 135.5h0M378.9 136.6h0M385 147.2h0M383.7 139.5h0M380.5 136.7h0M378.4 134.8h0M382.9 129.8h0M383.2 152.9h0M380.7 140.1h0M383.1 155.3h0M384.2 129.1h0M384.2 148h0M380.2 133.5h0M381.1 154h0M383.5 146.4h0M385 134.4h0M385.5 136.1h0M380 138.2h0M381.1 151.7h0M375.6 147.7h0M385.7 150.1h0M382.1 145.9h0M383.7 140.2h0M389.7 135.5h0M377.5 133.6h0M382.7 148.2h0M382.6 152.5h0M381.7 147.9h0M383.9 154.2h0M378.3 137.8h0M375.5 137.5h0M388.6 132h0M376.6 138.7h0M376.7 128h0M386.2 132h0M397.7 136h0M382.7 154h0M378.5 134.5h0M390.8 129.9h0M385.8 137h0M385.1 141.1h0M381.8 129h0M373.7 130h0M383.3 151.3h0M380.5 129.4h0M377.6 131.4h0M379.7 146.7h0M386.4 132.1h0M376.8 133.6h0M376.4 142.1h0M382.7 136.7h0M386.5 140.7h0M384.7 141.3h0M377.2 138.7h0M385.9 129.7h0M382.3 140.1h0M384.9 138.2h0M380.9 153.7h0M385.6 147.6h0M379.6 135.9h0M385.5 143.6h0M384.5 133h0M377.9 130h0M381.7 134.8h0M392.6 129.3h0M374 141.4h0M383.5 148.1h0M378.4 129.5h0M383 142h0M381.4 144.9h0M374.5 132.4h0M387.7 138.3h0M380.7 141.9h0M379.9 136.8h0M380.7 132.2h0M379.9 152.3h0M384.3 138.5h0M394.8 134.4h0M382.7 146.4h0M382.9 147.2h0M382.5 139.7h0M386.6 142.2h0M379.7 131.7h0M381.4 134.7h0M382.2 140.9h0M382.7 149.8h0M381.2 132.1h0M370.8 133.7h0M387.7 133.8h0M384.1 133.1h0M384.5 154.1h0M386.2 131.2h0M379.7 152.6h0M383.7 145.1h0M371.3 131.3h0M383.9 147.1h0M380.9 139.1h0M377.1 130.5h0M385.3 141.9h0M382.3 142.1h0M374.4 144.5h0M373.8 128.4h0M383 154.7h0M381.6 155.6h0M380.6 140.1h0M382.8 143.3h0M392.3 144.4h0M383.5 132.6h0M384.7 150.5h0M377.4 130.2h0M380.4 143.2h0M383.4 146.4h0M389.1 147.2h0M378.4 149h0M382.2 139.3h0M386.2 138.9h0M371.2 133.2h0M393.4 130.8h0M381.1 148.9h0M381.5 148.1h0M383 128.7h0M374.5 133.2h0M384.3 153.9h0M378.3 144.6h0M388.5 142.3h0M383.4 143.4h0M384.5 148.1h0M383.5 138.5h0M379.4 148.7h0M383 149.3h0M382.9 148.9h0M383.3 155.1h0M375.3 129h0M380.1 134.4h0M377.3 138.2h0M390.4 146.2h0M381.9 155.4h0M392.5 140.4h0M386.8 135.7h0M382.2 133.2h0M385.9 129.1h0M374.1 129.5h0M390.6 132.4h0M378.6 136.5h0M380.2 143.9h0M383.1 150.5h0M389.4 147h0M375.6 135.4h0M377.8 149.9h0M382.7 145.5h0M384.9 145.4h0M379.9 131.6h0M378.3 148.4h0M383.6 154.5h0M384.5 151.9h0M388.1 137.8h0M382.4 149.3h0M389.8 136.7h0M375.9 131.3h0M378.6 150.3h0M384.3 142.9h0M387.1 144.9h0M386.3 144.6h0M384.2 140.9h0M381.8 155.9h0M382.8 139.8h0M381.4 144h0M378.2 138.4h0M377.3 138.4h0M377.3 131.4h0M390.5 150h0M387.2 147.6h0M388.9 154.1h0M383 148.3h0M381.7 155.5h0M382.3 140.7h0M383.8 132.4h0M388.4 136.1h0M376.5 148.9h0M382.4 131.2h0M388.5 141.5h0M385.4 140.1h0M371.4 129h0M383.5 130.5h0M386.4 134.6h0M388.2 139.1h0M390.1 128.6h0M377.5 142.4h0M381.6 144.7h0M381.5 143.9h0M381 128.5h0M377.6 147.1h0M383.3 140.5h0M379.3 154.9h0M389.8 138.7h0M379.7 131h0M383.1 143.4h0M390.3 131.4h0M384.8 131.7h0M377.5 140.9h0M380.6 153.7h0M378.7 137.3h0M384.5 142.3h0M380.1 148.1h0M377.4 132.9h0M385.3 134h0M383.4 134.1h0M382.7 129h0M378.7 139.9h0M380.7 143.1h0M380.9 135h0M383.4 138.1h0M381.4 148.3h0M387.8 142.1h0M380.9 127.9h0M383.6 145h0M381.6 129.1h0M385.8 140.6h0M379.9 132.1h0M379.9 151.3h0M380.7 148.3h0M377.3 132.7h0M379.1 129h0M379.7 137.4h0M383.5 134.6h0M391.5 129.7h0M378.1 148h0M381.6 128h0M389.6 127.9h0M384.7 136.9h0M382.9 128.5h0M390 139.4h0M380.7 133.9h0M378.8 151.1h0M382.2 141h0M387.2 133.2h0M380.3 150.8h0M384.5 148.7h0M375.4 133.1h0M383.5 138.4h0M384.2 145.8h0M367.7 128.2h0M384.3 141.6h0M376.8 130.7h0M384.8 131.3h0M381.3 149.1h0M385 149.1h0M387.2 138h0M383.5 133.9h0M381.6 141h0M382.4 132.3h0M383.5 155.6h0M384.6 132.3h0M383.6 128.5h0M382.5 153.3h0M383.7 130.6h0M385.8 136.5h0M375.4 133.3h0M388.1 144.5h0M382.9 132.2h0M385.4 142h0M384.4 130.6h0M378.9 151.3h0M377.9 139.5h0M384.1 147.1h0M379 140.1h0M380.5 145.3h0M376.7 131.6h0M385 135.8h0M385.6 127.8h0M380 153.3h0M384.8 145.8h0M378.3 151.3h0M383.7 132.5h0M380.1 143.2h0M376.7 147.5h0M379.8 146.6h0M382.1 155h0M384.6 136.4h0M381.4 128.4h0M379.9 155.2h0M384.2 151.5h0M373.3 133.2h0M378.8 139.3h0M377.6 148.2h0M389.8 128.7h0M379.4 135.9h0M368.1 136.7h0M380.2 135.8h0M384.4 135.9h0M377.2 133.9h0M380.2 129.6h0M385.6 152.5h0M391.8 135.4h0M387.9 128.8h0M385.5 138.6h0M381.9 133.9h0M380.3 140.6h0M384.7 132.5h0M381 133.8h0M382.3 133.1h0M386 138.4h0M384.8 154.8h0M385.2 140.2h0M379.8 148.2h0M384.1 144.2h0M386 147.7h0M374.8 140.6h0M385.3 131h0M384.7 134.9h0M379 145.9h0M383.2 138h0M382.8 139.9h0M381 129.1h0M384.9 149.3h0M384.8 138.3h0M382.7 131.5h0M386.1 136.2h0M388.3 129.2h0M376.7 133.6h0M375.5 134.7h0M386.9 129.7h0M376.5 135.7h0M378.9 133.3h0M379.3 154.3h0M383.1 129.3h0M394.3 133.5h0M377 139h0M387.6 151.8h0M375.8 138.4h0M385.7 128.7h0M371.7 141.8h0M381.9 130h0M385.5 147.2h0M379.7 140h0M389.4 129.3h0M382.8 131.6h0M375.6 130.2h0M402.3 128.9h0M376.1 145.1h0M386.6 129.6h0M376.4 132.7h0M382.5 153.6h0M380.5 150h0M381.7 147.7h0M387.6 141.4h0M373.5 129h0M380.8 140.2h0M384.4 138.9h0M383.9 146.8h0M380.4 140.1h0M374.1 129.2h0M375.5 143.3h0M383.1 148.7h0M389.5 143.1h0M380.8 140.5h0M376.1 131.9h0M386.4 141.8h0M385.5 150.7h0M383.5 143.2h0M380.5 133.9h0M387.8 144.2h0M381.5 149.2h0M385 134.6h0M379.9 139h0M387.7 130.8h0M379.3 129.4h0M386.2 143.8h0M385.2 140.4h0M387.1 145.2h0M385.7 139.4h0M378.7 130.3h0M382.3 142.6h0M385.2 141.2h0M384.4 153.3h0M379.8 133.5h0M386.4 129h0M382.5 132.7h0M383.8 138.1h0M382.5 151h0M375.6 146.7h0M378.3 137.2h0M380.8 136.1h0M383.2 150.9h0M377.9 131.5h0M378.2 143.3h0M378.4 146.1h0M385.5 130.2h0M383.3 137.4h0M383 129.4h0M376.7 135.9h0M386.1 142.8h0M381.1 138.6h0M371.6 139.9h0M375.6 139.2h0M379.8 133.7h0M380.1 146.1h0M379 137.6h0M379.3 153.7h0M386.8 144h0M379.6 134.8h0M384.1 135h0M379.6 154.6h0M373 143.7h0M380.3 130.7h0M380.1 141.9h0M383 156h0M374.9 147.3h0M375.4 144.6h0M371.3 137.1h0M388.6 149.2h0M385.2 127.6h0M381.8 138.6h0M385.7 129.8h0M379.2 133.3h0M381.5 143.9h0M386.6 150.6h0M378.9 137.5h0M385.2 137.4h0M385.3 132.5h0M373.6 133.1h0M377.6 138.1h0M384.3 147.4h0M383.5 134.8h0M381 133.5h0M378.8 135.5h0M384.4 139h0M381.4 145.7h0M385 134.4h0M382.2 155.7h0M384.6 134.6h0M383.5 153.6h0M370.4 143.2h0M380.1 146.3h0M383.5 153h0M382.7 138.1h0M384.6 144.3h0M386.1 143.6h0M375.5 137.7h0M374.9 137.5h0M377.8 131.5h0M380 129.7h0M384.5 143.7h0M380 139.6h0M377.7 130.9h0M389.4 141.2h0M390.1 142h0M382.5 148.3h0M380.2 141h0M381.2 151.8h0M381.4 129.2h0M373.5 146.6h0M382.3 139.4h0M381.7 144.7h0M383.9 140.9h0M380.7 153h0M383.1 152.4h0M386.4 140.6h0M371.4 134.4h0M382 149.3h0M380.4 141.1h0M383 152h0M375.8 130.6h0M383.7 144.2h0M388.5 130.3h0M379.8 136.4h0M380 149.4h0M376.5 147.2h0M384.6 129.6h0M385.1 128.8h0M379.7 142h0M385.9 145.4h0M377 130.5h0M380.4 144.7h0M376.2 133.4h0M384.2 148.4h0M379.5 140.2h0M381.9 150.7h0M384.6 131.1h0M390.3 134.1h0M381.6 132.8h0M377.6 145.8h0M383.8 139.2h0M388.4 137.1h0M377.2 128.5h0M390.1 143.4h0M387.4 135.3h0M385.6 128.3h0M381.3 134.3h0M388 132.6h0M383 150.7h0M376.5 138.8h0M384.2 135.4h0M379.8 140.9h0M384.5 132.3h0M380.8 144.1h0M379 142.8h0M381.4 143.9h0M383.8 147.5h0M385.7 151.4h0M373.6 130.3h0M387 138.6h0M387.3 129.1h0M380 141.9h0M373.4 131.7h0M372.6 139.4h0M373.3 137.3h0M381.8 151h0M384.4 152h0M384 129.9h0M382.4 136.3h0M383.6 135.7h0M375 129h0M385 135.3h0M383.2 143.5h0M391.4 128.9h0M376.7 133.3h0M384.6 127.9h0M383.8 147.4h0M383.6 146.1h0M381.3 151.3h0M380.5 129h0M379.7 151.8h0M379.2 131.9h0M390.1 151.5h0M384.6 143.3h0M384.3 143.8h0M389 129.5h0M382.4 156.1h0M385.9 143.4h0M376.6 138.8h0M378.4 134.9h0M379.8 141h0M392 130.9h0M380.9 128.4h0M388.8 128.7h0M379.3 138.1h0M383.1 129.6h0M386.1 133.9h0M384.6 135.3h0M380.2 134h0M373.9 149.9h0M377.9 139.8h0M381 149.1h0M389.9 146.8h0M380.6 144.5h0M390.2 131.4h0M389.6 132.2h0M380.9 143h0M386.7 135.7h0M392.2 130.2h0M368.4 129.4h0M376.5 130h0M380.4 139.8h0M379.7 141.1h0M385.7 137.8h0M382.2 132.4h0M382.8 140.9h0M388.5 139.9h0M382.8 146.3h0M380.2 128.1h0M383.1 152.7h0M383.8 153.8h0M375.4 128.4h0M388.5 150.4h0M381.9 133.5h0M387.3 141.9h0M382.6 127.6h0M386.5 138.7h0M388.3 137.4h0M384.9 139h0M388.1 131.9h0M381.5 135.7h0M379.2 141h0M384.6 153.3h0M385.7 137.5h0M389.2 133.6h0M377.2 138.1h0M383.3 152.9h0M391.1 138.7h0M381.4 143.4h0M384.1 137.7h0M381.1 150.6h0M379.5 130.2h0M382.1 144.5h0M387 138.8h0M376.8 146h0M377.7 133.9h0M382.2 142.4h0M381 132.4h0M385.7 149.5h0M383.4 133.7h0M370.4 129h0M376.5 149.3h0M383.5 146.2h0M387.3 132.3h0M380.9 147.1h0M381.4 138.6h0M387.3 147.9h0M371.8 129.3h0M380.7 129.9h0M382.6 132.3h0M385.8 138.5h0M381.1 142.2h0M379.5 131.4h0M388.8 136.7h0M376.1 134h0M373.6 133.5h0M378.2 134.3h0M388.1 145.7h0M382.5 140.8h0M384.4 134.1h0M380.8 144.2h0M385.8 146.3h0M375.6 136.2h0M382.7 154.6h0M380.5 129.5h0M386 151.1h0M392.2 137.8h0M379 144.5h0M388.2 142.5h0M385.5 146.2h0M384.9 141.2h0M387 148.6h0M381.1 142.7h0M382.8 129h0M378.6 132.8h0M380.7 131.1h0M386.3 150.6h0M383.4 152.4h0M397.2 130.8h0M382.8 130.5h0M380.1 127.9h0M384.9 138.6h0M383.3 131.7h0M390.5 127.8h0M384.2 128.7h0M381 137.3h0M375.8 147.5h0M375.7 130.4h0M378.1 129.9h0M379.3 153.8h0M380.6 153.6h0M380 130.3h0M379.8 127.8h0M381.6 146.1h0M389.2 134.3h0M375.9 142.4h0M385 142.3h0M380.3 143.1h0M385.5 151.8h0M387.7 144h0M377.7 130h0M382.4 142.9h0M382.9 134.4h0M387.6 130.6h0M380.7 135.6h0M395.1 139.4h0M384.3 151.9h0M383.3 134.5h0M386.8 150.4h0M381.9 130.6h0M391.5 143.7h0M380.7 145.1h0M380.8 152.4h0M386.2 139.4h0M385.6 136.5h0M377.4 130.5h0M379.5 149.5h0M390 144h0M388.8 141.9h0M386.2 128.9h0M384 143.8h0M391.2 147.6h0M382.6 141.8h0M378.7 148.6h0M379.1 144.2h0M382.7 152.7h0M380.6 132.7h0M387.1 137.7h0M379.2 144.9h0M383.5 144.9h0M384.1 143.8h0M380.6 129.4h0M381 136.8h0M379.2 129.9h0M381.1 137h0M384.9 135.1h0M385.3 147.6h0M394.7 129.1h0M388.3 145.7h0M376.8 132.3h0M384.5 141.7h0M388.6 138.8h0M381 143.3h0M382.8 148.4h0M378.1 128.4h0M378.1 128.2h0M379.8 134.5h0M379.3 147.5h0M378.3 145.1h0M380.2 142.8h0M379.4 131.9h0M383.2 144.4h0M382 141.7h0M385.9 138.1h0M382 146.3h0M379.3 140.5h0M380.9 130.5h0M386.5 153.5h0M381 130.2h0M374.4 137.8h0M387.4 137.4h0M383.4 146.2h0M389.2 128.2h0M381.1 133.6h0M384 134.5h0M381.4 150.6h0M380.7 143.4h0M378.6 130.7h0M380 130.6h0M384 138.1h0M381.8 135h0M385.8 136.2h0M383.1 142.2h0M380.4 139.7h0M376.8 129.3h0M381.3 137.3h0M381.6 151.1h0M382.2 143h0M389.1 144.3h0M395.3 134h0M391.2 134h0M386.1 149.7h0M385.1 152.3h0M379 153.3h0M385.9 134.6h0M385 136.7h0M388.1 138.5h0M379.3 130.6h0M381.3 137.7h0M390.6 131.6h0M383.2 131.7h0M387.7 128.9h0M376.4 129.2h0M379 133.7h0M380.7 141.1h0M381.4 151.7h0M382 153.8h0M380 138.5h0M378.2 143.9h0M382.2 128h0M379 144.8h0M388.5 128h0M382.3 146.4h0M386.3 147.6h0M384.7 139.9h0M378 135h0M385.4 139.6h0M386.2 147.9h0M380.9 141.3h0M393.4 131.5h0M382.2 128.3h0M384.2 140.8h0M388.4 137h0M385.8 128.2h0M381.2 135.5h0M388.4 139.5h0M380 141.7h0M378.4 128.3h0M385.7 144h0M377 135.8h0M377.4 141.1h0M380.8 151.3h0M382.5 152.5h0M372.8 138.8h0M382.7 134h0M386.8 143.6h0M385 128.5h0M377.9 147h0M379 136.7h0M389.2 138.3h0M382.2 141.2h0M386.7 136.2h0M374.3 137.6h0M380.7 143.1h0M363.8 131.1h0M377.2 134.3h0M385.7 128.9h0M379.6 130.9h0M381.3 145.6h0M381.8 148.8h0M381.7 143.5h0M380 136.9h0M381.4 132.1h0M386.3 132h0M378.7 135.5h0M379.6 146.3h0M379.3 143.2h0M379.2 145.9h0M378.5 135.1h0M379.9 129.4h0M380.4 141.1h0M380.4 130.5h0M382.9 144.1h0M381.3 154.3h0M379.8 151.5h0M387.8 132.6h0M388.7 136.5h0M376.8 135.2h0M384.5 141.5h0M381.3 146.9h0M379.9 140.4h0M385.1 143.8h0M382.8 146h0M390.7 140.4h0M377.2 129.9h0M384.5 128.2h0M383.6 134.6h0M390 128.1h0M390.1 141.9h0M371.6 143.3h0M382.8 138.1h0M383 146.8h0M391.9 132.2h0M377.7 148.5h0M385.7 136.5h0M382.7 142.9h0M386.8 128.7h0M379.7 134.7h0M377.2 135.3h0M381.2 139.7h0M379.1 139.5h0M382.9 138.9h0M381.2 129.9h0M387.9 138h0M394.5 129.9h0M390.8 137.3h0M384.3 144.8h0M389.7 137.4h0M380.4 149.7h0M389.1 135.3h0M376.9 140.3h0M382.9 139.7h0M381.9 146.9h0M385.7 147h0M375.1 131h0M386.3 135.7h0M380.8 147.1h0M390.8 131.5h0M381.1 150.8h0M371 129.9h0M382.5 150.4h0M374.9 137.4h0M384.4 138.7h0M377.6 132.7h0M381 134.5h0M385.9 141.5h0M381.4 144.6h0M383.2 129.1h0M366.2 128.7h0M387.8 140.1h0M385.1 131.3h0M384.3 141h0M393 140.6h0M392.2 133.5h0M374.2 131.7h0M378.7 146.6h0M384.4 140.1h0M379 150.5h0M384.1 134.7h0M389.1 128.2h0M375.6 142.3h0M380.6 136.8h0M382.5 140.3h0M382.7 155.2h0M385.5 147.3h0M384.6 136.1h0M384.9 128.3h0M385.6 134.3h0M382.4 142.1h0M379.5 134.2h0M374.3 130.2h0M388.6 150.7h0M382.5 140.1h0M384.6 132.6h0M377.3 128.9h0M377.1 132.7h0M384.6 153.6h0M378.6 131.3h0M392.1 147.5h0M400.7 134.6h0M385.3 132.3h0M369.8 132.1h0M373.1 141.8h0M386.8 128.8h0M382.5 152.7h0M391.8 135.1h0M382.1 146.3h0M385.6 133.7h0M383.9 150.8h0M381.7 154.5h0M379.4 142.3h0M376.4 135.6h0M387.6 130.4h0M382.6 133.7h0M384.9 128.9h0M374.8 140.8h0M380.2 149.1h0M384.8 127.9h0M377 143.6h0M384.7 154.9h0M376.5 142.8h0M377.3 133h0M380.6 149h0M382.4 139.5h0M378.1 132.3h0M380.7 137.2h0M380.5 128h0M391.8 136.4h0M387.6 142.5h0M379.9 130h0M385.8 137.7h0M385 136h0M388.5 129.2h0M395.5 133.2h0M383.2 135.8h0M383.5 137.7h0M381.2 133.8h0M386.4 142.8h0M382.5 130.9h0M379.9 152.7h0M387.9 133.7h0M380.2 135h0M382.7 146.1h0M379.4 142.5h0M382.9 130.1h0M386.1 135.9h0M385.8 149.2h0M379.3 138.6h0M383.5 143.4h0M398.8 139.5h0M385.5 139.4h0M382.7 130.2h0M377.6 137.6h0M384.2 130.1h0M385.8 138h0M379.6 144.7h0M373 131.1h0M386.9 143.5h0M380.3 144.7h0M379.4 142.3h0M374.5 144.5h0M377.1 131.1h0M383.3 137.6h0M376.9 145.2h0M386 133.3h0M382 151h0M378.7 148h0M384.2 152.5h0M381.7 137.4h0M386.7 138.4h0M382.7 155.7h0M379.7 128h0M378.2 128.8h0M375.9 134.2h0M381.3 145.4h0M385.4 145.5h0M380 147.6h0M388.1 129.2h0M381.2 129h0M383.1 152h0M373.7 128h0M384.5 139.1h0M383.4 129.4h0M380.7 154.4h0M377.8 141.4h0M392.1 133h0M371.9 140.4h0M387.2 139h0M379.4 140.7h0M379.9 134.2h0M375.6 147.1h0M391.3 133.3h0M392.1 137h0M385.1 148.1h0M391.2 132.4h0M378.6 137.7h0M380.5 150.3h0M381.1 156h0M382.4 137.6h0M376.9 127.9h0M378.8 129.4h0M383.1 140.6h0M384.1 143.1h0M380.6 142.2h0M379.4 144.9h0M385.3 134.2h0M375 143.7h0M392.3 129.9h0M385 146.4h0M374 149.3h0M391.3 128.8h0M381.8 135.2h0M377.1 147h0M386 134.9h0M381.2 138h0M380.5 148.8h0M384.5 143.6h0M380.7 149.1h0M387.9 144.3h0M375 128.1h0M385.1 138.8h0M382.7 133.7h0M379.6 142.8h0M386.1 148.8h0M382.4 144.4h0M371.8 143.9h0M385.7 132.1h0M381.5 129h0M380.1 131.3h0M377.3 136.2h0M384.7 145.9h0M387.7 147.9h0M385.9 148.8h0M382.5 150.7h0M385.8 132.3h0M382.5 132.7h0M382.3 150.8h0M383.4 129.2h0M378.1 140.7h0M376.3 129.3h0M385.7 128.4h0M384.7 134.8h0M378.5 137.9h0M377 129.7h0M376.1 133.1h0M381.1 148.6h0M380.9 144.5h0M380.4 152.9h0M381.4 128.6h0M384.8 141.1h0M383 144.2h0M381.3 145.8h0M368.8 128.8h0M379.4 138.3h0M374.1 132.3h0M384.9 129.4h0M384.7 137h0M380.8 153.9h0M381.2 142.4h0M382 143.6h0M373.5 129.5h0M383.9 150.7h0M384 92.8h0M380.8 79.6h0M377.9 116.4h0M385.2 124.1h0M385.7 125.9h0M378.3 126.5h0M378.4 81.5h0M384.3 126.8h0M379.8 100.4h0M376.9 126h0M379.8 77.4h0M378 124.2h0M376.7 119.6h0M376.7 124.3h0M379.6 116.3h0M384.4 119.5h0M386.6 109.1h0M385.2 118.5h0M385.9 107.9h0M377.3 104.8h0M384.3 104.5h0M379.8 114.9h0M377.1 125.3h0M377 97.9h0M384.5 68.9h0M385.9 112.3h0M384.8 110h0M386.5 93.5h0M379.7 122.7h0M383.2 127h0M385.2 80.3h0M386.6 119.8h0M383.4 93.8h0M384.5 124.7h0M380 98.8h0M380.8 108.9h0M386.3 116h0M377.5 110h0M386.2 77.6h0M385.3 90h0M376.8 97.6h0M377.9 120h0M379.1 108.4h0M384.9 97h0M376.9 120.5h0M380.6 121.7h0M386.4 110.3h0M386.3 124.2h0M386.3 120.9h0M376.5 100.2h0M383.1 120.9h0M377.3 66.9h0M378.4 121.1h0M383.2 110.2h0M386 122.8h0M384 81.4h0M380.6 117.6h0M380.7 122.3h0M377.9 74.9h0M377.5 117.3h0M385 123.4h0M377 104.6h0M378.9 96.7h0M379 64.3h0M384.8 101.6h0M378 47.2h0M380.2 61.6h0M380 124.7h0M379.5 116.6h0M376.9 109.7h0M376.5 113h0M377.3 87.1h0M377.8 126.7h0M385.6 125.8h0M385.9 119.8h0M379.6 109.9h0M377.7 77.9h0M386.6 111.3h0M381 115.9h0M380.2 113.7h0M386 125.8h0M377.6 113.3h0M384.9 125.3h0M379.4 121.1h0M377.3 100.3h0M379 79.4h0M385.9 126.8h0M383.8 126.6h0M385.3 123.8h0M381.2 114.5h0M379.4 77.1h0M381.1 82.7h0M384.9 125.9h0M385.7 123.8h0M386.4 74.6h0M384.5 94.6h0M386.2 81.9h0M380.8 89.9h0M385.5 125.2h0M383.4 89.8h0M378.6 112.9h0M377.9 125h0M376.7 109.5h0M377.9 126.9h0M386.3 93.7h0M385.8 100.4h0M378.2 64.1h0M385.6 121.7h0M386.6 124.6h0M384.2 105.9h0M384 91.4h0M383.9 102.6h0M380.2 62.2h0M380.1 82.6h0M385.1 106.9h0M380.1 99.4h0M377.4 113.8h0M378 100.6h0M386 103.6h0M380.7 118h0M386.5 87.2h0M379.5 120.8h0M384.7 90.6h0M379.9 105.1h0M385 95.2h0M377.2 124.8h0M376.5 123.3h0M386.1 108.3h0M384.3 102h0M376.8 103.9h0M386.6 117.2h0M384.7 104.5h0M385.2 78.5h0M380.6 124.5h0M384.9 103.8h0M378.8 91.9h0M379.2 106.1h0M378.5 62.6h0M377 100.2h0M385.8 116.1h0M378.2 114.8h0M377.8 114.3h0M384.6 68.6h0M386.4 98h0M377.6 111.7h0M385.5 124.1h0M386.5 116.9h0M378.2 108.7h0M379.7 114.3h0M380.6 69.5h0M386.4 93.8h0M380.7 115.8h0M386.5 103.3h0M377.3 118.3h0M386.7 118.8h0M386.4 109.7h0M380 92.5h0M386 108.3h0M379.7 121h0M386.6 100.1h0M385.1 94h0M379.2 117.8h0M386.1 86.7h0M379.3 72.8h0M379.7 86.7h0M377.6 56.4h0M385.1 120.2h0M386.2 76.4h0M376.9 126.8h0M378.4 126.9h0M385 75.5h0M385 119.9h0M377.7 107.4h0M386.4 83.1h0M380.1 124.7h0M384.9 114.5h0M378.8 125.6h0M378.2 95.8h0M386.7 123.6h0M386.2 105.8h0M379.5 101.8h0M384.3 123.9h0M378.1 100.6h0M376.8 90.9h0M383.8 123.6h0M378.9 100.7h0M377.4 120.7h0M379.5 108.3h0M385.1 93h0M385.7 125.8h0M386.6 75.2h0M385.9 110h0M377.1 91.8h0M379.3 119h0M385.4 106.6h0M386.1 114.8h0M378.4 86.9h0M385.3 110h0M385.5 104.3h0M379.9 96.7h0M381.3 116.9h0M385.6 88.6h0M378.5 111.8h0M384.4 81.3h0M378.2 70h0M385.3 107.5h0M378.2 48.8h0M386.2 119.5h0M385.3 102.4h0M383.5 90.2h0M379.7 78.4h0M383.3 86.9h0M377.7 77.4h0M385.3 122.8h0M378.9 102.6h0M378 113.1h0M377 124.4h0M386.2 123.2h0M385.9 79.4h0M378.1 116.7h0M386.6 103.9h0M383.6 110.4h0M385.7 120.2h0M377.3 84.6h0M384.5 126.8h0M384.2 102.8h0M379.3 105.4h0M377.2 114.6h0M378.2 114.9h0M377.2 92.5h0M386.5 124h0M385.3 126.7h0M376.5 97.6h0M379.5 116.6h0M383.1 122.6h0M379 94.7h0M377.3 125.7h0M377.1 89.5h0M379.7 113.4h0M379.3 112.7h0M384.7 122.5h0M385.3 102.9h0M376.7 95.5h0M384.6 119.1h0M386 101.2h0M384.8 125.7h0M380 88.2h0M376.9 90.3h0M378 119.9h0M384.7 122.8h0M386.2 97.7h0M378.4 123.9h0M385.9 72.5h0M380.8 78.5h0M377.9 120.7h0M378.2 106.8h0M378.7 88.5h0M377.9 126.7h0M383.9 117.5h0M378.2 123.4h0M385.5 97.4h0M378.6 47.1h0M380.8 105.5h0M386.4 121.8h0M384.9 111.8h0M384.1 115.1h0M377.9 125.2h0M386.5 124.1h0M383.9 113.3h0M380.6 124h0M384.3 92.5h0M377.7 106.2h0M383.9 125.8h0M383.7 118.8h0M379.1 74.3h0M386.6 116.9h0M377.6 117.6h0M378.2 93.2h0M383.7 101.2h0M379.4 112.8h0M381.5 121.1h0M384.5 103.6h0M386.5 74.1h0M383.6 91.5h0M384.7 125.8h0M384.2 108.7h0M386.4 127.2h0M376.9 118.9h0M385.7 93.4h0M384.7 112.6h0M383.8 119.7h0M377.5 119.8h0M385.2 95.5h0M381.1 111.6h0M385.8 88.2h0M379.5 114.8h0M377.4 76h0M378.2 120.4h0M377.3 120.7h0M386.3 102.2h0M384.3 119.1h0M385.1 72.8h0M384 108.2h0M385 119.1h0M385.3 74h0M380.6 92.5h0M378.1 118.2h0M384 122.6h0M376.5 80.7h0M384.1 95.3h0M377.1 121.8h0M384.3 116.6h0M385.7 117h0M386 95.9h0M384.7 125.4h0M377.6 125.8h0M386.5 119.8h0M384.9 93.3h0M386 123.4h0M380.7 117.1h0M377.3 101.8h0M379.5 124.3h0M378.4 105.5h0M386.5 116h0M379.9 117.7h0M386.7 116.9h0M383.2 122.3h0M378.3 123.2h0M377.3 126h0M379.6 121.8h0M376.7 114.1h0M377.4 118.2h0M376.8 65.9h0M386.3 122.5h0M379.1 95.2h0M377.6 118.3h0M377.6 101.3h0M377.5 110.6h0M381 124.9h0M385 74h0M383.5 119.1h0M379.4 104.8h0M384.7 126.1h0M378.5 118.9h0M386.3 122.5h0M386.8 98.7h0M385 123.3h0M378.1 82.4h0M379 118.1h0M376.5 121.9h0M378.2 126.5h0M378 109.3h0M379.2 127.5h0M385.8 101.7h0M384 100.5h0M378.4 117.8h0M379.2 52.6h0M386.2 124h0M376.9 110.7h0M384.6 113.5h0M384.8 110.4h0M377.3 67.6h0M386 94.8h0M385 79.7h0M379.4 108.1h0M377.7 125.3h0M385 126.9h0M380 122.7h0M384.6 126.4h0M386 125.1h0M386.7 123.9h0M377.5 117.5h0M386.5 120.6h0M380.3 95.8h0M379.4 115.7h0M377.5 78.5h0M378.7 126.7h0M385.5 94.5h0M379.6 115.7h0M384.2 116.6h0M384.1 117.3h0M386.2 122.2h0M385.9 116.3h0M386.1 121.6h0M381.3 99.9h0M385.8 122.8h0M378.9 93.6h0M383.7 126.9h0M377.9 55.6h0M378.4 57.3h0M386.7 87.9h0M377.4 108.1h0M379.5 95.1h0M385.1 115.1h0M378.3 118.3h0M386.6 119.9h0M385.3 104h0M384.3 111.1h0M386.7 126.6h0M378.4 115h0M385.1 82.3h0M379.4 62.2h0M378.8 94.4h0M379.2 110.7h0M377.1 117.3h0M386 105.5h0M385.7 118.3h0M378.9 127.5h0M385.8 106.1h0M385.5 76.3h0M385.5 106.4h0M384.4 118.7h0M384.8 127.1h0M381 114.7h0M384.1 120.4h0M385.6 90.3h0M384.4 86h0M384.4 108.3h0M379 61.2h0M385.6 127.2h0M377.3 57.7h0M380.8 109.8h0M386.4 101.7h0M386.5 127.3h0M376.6 122.3h0M385.1 100.9h0M386.6 74.1h0M377.5 98.4h0M377.2 111.1h0M386.3 127.5h0M376.8 89.2h0M377.3 124.3h0M380.3 62.9h0M385.8 110.2h0M386.8 101.5h0M379.3 125h0M384.9 88h0M385.1 105.7h0M386.6 108.5h0M384.5 117.5h0M379.7 83.4h0M380.9 113.6h0M385.2 121.5h0M376.7 102.6h0M386.2 105.5h0M377.6 75.3h0M386.7 112h0M386.8 124.4h0M376.6 123.4h0M383.1 117h0M378.6 126.8h0M386.1 119.4h0M379.5 85.2h0M383.6 114h0M386.8 120.5h0M378.5 109.6h0M385.5 127h0M377.7 94.6h0M385 122.3h0M380.1 104.6h0M386.2 91.1h0M378.5 120.2h0M386.7 99.9h0M379 119.1h0M385 85.9h0M384.7 79.4h0M378.6 55.4h0M383 126h0M379.3 102.7h0M376.7 125.1h0M380.4 116.7h0M377.9 75.2h0M383.4 105.8h0M383.2 122.9h0M379.4 101.6h0M379.5 127.5h0M378.1 97.3h0M377.9 108.6h0M377.4 115.1h0M385.8 100.3h0M376.9 127.2h0M376.7 121.8h0M380.1 101.8h0M378.2 127h0M380.9 78.4h0M384.7 125.4h0M376.5 54h0M384.3 96.9h0M385.2 112h0M377.2 64.2h0M385.5 125.9h0M385.4 119.5h0M378.8 122h0M377.9 71.6h0M379 125.5h0M381 120.8h0M386.6 125.4h0M378.2 125.4h0M379.7 101.9h0M379.8 120.6h0M380.3 124h0M383.8 113.1h0M377.6 117.5h0M377.3 104.3h0M385.2 127h0M384.4 113.4h0M379.2 101.3h0M385.8 89.7h0M378.7 117.4h0M383.8 126.8h0M377 101.6h0M384 127.4h0M376.6 126.8h0M379.4 97.8h0M379.7 119.6h0M380.6 95.6h0M376.7 116.4h0M386.7 127.5h0M377.7 69h0M377.6 125h0M386 102.8h0M376.9 106.9h0M386.3 83.8h0M385.1 106.1h0M386 109.1h0M380 117h0M379.4 77h0M386.2 120.2h0M380.4 120.1h0M376.9 57.9h0M383.7 95.5h0M385.5 124.9h0M385.9 107.4h0M380.1 111.9h0M384.7 124.4h0M383.5 124.5h0M385 77.4h0M376.7 123h0M386.7 121.7h0M377 122.8h0M383.8 127.2h0M381 126.6h0M377.3 115.8h0M377.1 102.7h0M386.3 121.3h0M378.9 76.5h0M377.2 110.3h0M380.8 115.1h0M380.9 126.3h0M379 121.2h0M386.2 102.7h0M386.6 119.5h0M384.2 117.9h0M377 76h0M386.3 85.3h0M378.9 113h0M377.6 101.2h0M385.8 105.7h0M385.3 111.2h0M384.5 109.5h0M378.4 55.2h0M380.9 100.4h0M385.9 122.9h0M386.4 125.2h0M386.8 112.2h0M386.5 106.3h0M378.1 120.2h0M379.4 106h0M386.4 98.8h0M379.1 127.3h0M385 80.8h0M385.3 125.5h0M384 93.1h0M385.5 97.9h0M385.6 78h0M378.6 109h0M377.6 98.3h0M377.9 111.4h0M385.4 78.2h0M378.6 108h0M376.7 125.9h0M386.4 84.8h0M377.7 107.2h0M386.7 91.1h0M383.7 123.7h0M380.1 123.4h0M385.4 83.1h0M377.2 98.2h0M385.1 109.6h0M385.5 122h0M376.8 92.8h0M384.2 119.2h0M380.5 125.4h0M386 111.8h0M383.9 111.3h0M385.2 88.5h0M376.5 125.3h0M376.5 123.3h0M384.2 127.2h0M377.5 79.5h0M384.1 73.2h0M379.5 106.3h0M384.4 98h0M380.6 126.2h0M380.2 96.1h0M386.5 122.8h0M386.7 81.8h0M379.9 78.5h0M383.6 124h0M384.8 109.3h0M379.6 99.3h0M386.2 126.8h0M377.5 93.2h0M384.2 108.3h0M384.3 100h0M378.9 93.3h0M381 121h0M377.4 110.9h0M386 118.1h0M384.6 69.6h0M377.2 70.7h0M379.5 113.4h0M377.8 113h0M380.6 90.2h0M378.7 113.3h0M384.4 109.3h0M378.8 85.6h0M378.1 97.9h0M377.8 107.8h0M386 83h0M377.4 123.4h0M386.5 110.5h0M380.1 126.3h0M386.8 93.2h0M377.8 123.9h0M383.2 124.5h0M377 75.4h0M377.9 106.2h0M383.3 115.8h0M383.3 85.2h0M376.9 115.7h0M378 58.9h0M381.2 119.7h0M385.6 75.3h0M384.6 125.2h0M386.3 113.3h0M379.5 74.6h0M386 99.8h0M380.2 127h0M376.8 121.1h0M378.1 106.9h0M379.5 100.1h0M386.2 93.2h0M383.4 91.2h0M385.4 121.6h0M384.3 89.1h0M377.7 63.1h0M378.4 119.6h0M379 122.9h0M386.1 122.2h0M377.2 83.4h0M385.4 80.3h0M384.8 95.7h0M379.5 114.6h0M386.3 124.5h0M386 125.5h0M386.8 117.5h0M383.4 119.3h0M386.1 116.1h0M377 124.9h0M378.3 92.5h0M385.6 115.6h0M383.2 81h0M386.6 97.9h0M377.3 118.5h0M376.9 65.9h0M378.3 126.4h0M383.5 111.2h0M380.3 127.6h0M385.5 91.8h0M386.5 93.4h0M383.8 119.3h0M386.7 121.5h0M381.1 95.3h0M384.1 99.4h0M376.5 124.3h0M383.1 123.6h0M377.8 118h0M386.5 117.4h0M378.1 88.9h0M383.4 110.5h0M385.1 119.4h0M380.9 127.4h0M377.2 119.8h0M384.5 72h0M384.4 114.1h0M386 125.4h0M384.6 118.3h0M378.1 50.7h0M384.6 88.4h0M376.9 118.3h0M378.9 93.6h0M383.1 114.9h0M379.2 118h0M378.1 119.9h0M385.9 83.5h0M378.3 118h0M385.6 116.2h0M385.1 113.1h0M386.2 74.2h0M376.9 119.8h0M385.1 111h0M377.5 113.4h0M384.8 118.8h0M386 123.4h0M386.3 115.3h0M384 125.9h0M384.8 94.8h0M386.1 110.9h0M384.2 100.8h0M379.7 97.2h0M385.4 74.1h0M384.5 116.8h0M379.2 111.9h0M377.6 97.5h0M377.5 89.7h0M386.5 122h0M384.7 85.9h0M385.4 125.5h0M379 99.3h0M383.7 114.2h0M383.9 77.7h0M376.5 59.9h0M378.4 112.2h0M385.3 125.2h0M380.8 122.7h0M380.2 122.4h0M385.4 123.4h0M383.6 121.2h0M383.8 115.4h0M384.6 98.1h0M385.8 70h0M376.7 121.1h0M379.3 119.5h0M386.2 104.8h0M378.3 81.1h0M378.1 89.7h0M378.6 125.9h0M380.1 70h0M377.6 95.8h0M380.3 126.7h0M380.5 68.8h0M378.2 108.5h0M385.3 108.3h0M384.3 105.2h0M379.1 90.6h0M386.1 125.6h0M379.6 117.6h0M386.7 122.4h0M384.3 122.9h0M377.4 95.9h0M377.6 92.1h0M385.8 103.5h0M377 123.7h0M384.5 119.8h0M379.2 125h0M384.1 98.9h0M376.9 73.4h0M386.7 82.1h0M384.4 113.8h0M379.1 99.4h0M383.9 117h0M376.6 67.8h0M385.4 114.7h0M386.3 80.5h0M386.6 106h0M386.3 117.1h0M386.1 74.6h0M378.7 110.6h0M386.3 114.6h0M386.6 84.4h0M386.4 120h0M377.7 121.4h0M386.6 117.4h0M379.1 99.4h0M384.4 124.6h0M379.2 126.1h0M384.9 100.6h0M377.9 126.1h0M377.3 112.9h0M378.5 80.5h0M379 108.6h0M385.8 106.8h0M377.5 66.7h0M386.2 94.9h0M381.2 114.2h0M377 107.8h0M383.7 103.1h0M380.6 108.8h0M385.4 121h0M379.5 88.6h0M376.6 118.9h0M384.8 113.7h0M383.6 127.4h0M383.1 108.6h0M385.4 99.6h0M379.4 82.5h0M386.4 87.3h0M385.1 117h0M376.9 120.7h0M378.1 117.8h0M378.6 114.4h0M377.4 121h0M384.5 93.2h0M379 125.7h0M383.6 101.1h0M378 85.1h0M380.6 101.7h0M386.6 120.8h0M381.1 124.4h0M386 126.9h0M384.6 116.5h0M377 88.2h0M380.2 109.2h0M376.7 116.1h0M376.6 103h0M383.1 116.5h0M384.5 107.6h0M385.9 104.3h0M378.1 114.4h0M380.2 124.2h0M384.1 89h0M385.3 119.1h0M379.2 67.2h0M383.7 77.2h0M379.4 108.3h0M378.9 118.3h0M377.5 123.5h0M384.6 114.8h0M376.8 90h0M384.5 115.7h0M379.6 97.7h0M386.6 111h0M384.5 108.9h0M380.4 70.6h0M377.9 125.3h0M384.5 82.8h0M378.5 109.7h0M385.3 114.4h0M379.8 83.9h0M384.5 117.7h0M385.2 111.7h0M378.2 92.6h0M384.7 78h0M385.8 114.7h0M377.5 61.1h0M384.7 120.1h0M385.9 119.8h0M386.5 120h0M377.8 127.1h0M385.1 85.5h0M385.8 85.7h0M385.1 111.8h0M385.9 86.7h0M386.2 124.2h0M386 74.2h0M385.6 98.7h0M386.6 127.3h0M378 99.6h0M378.6 112.7h0M385.9 113.5h0M384.1 118.7h0M386.6 113h0M379.6 117.4h0M379.1 106.3h0M386.6 109h0M377.2 114.2h0M379.7 60.4h0M376.7 124h0M386.2 112.5h0M386.7 112.1h0M383.2 105.8h0M386.5 127.1h0M385.7 108h0M380 67.4h0M379.4 119.7h0M376.9 79.6h0M385.5 104.7h0M386 120.9h0M386.3 92h0M384.9 91.7h0M376.6 112.7h0M376.9 127.6h0M383.7 104.7h0M378.7 86h0M384.7 97.3h0M376.6 96.2h0M376.7 43.7h0M381.4 124.4h0M377.9 87.6h0M380.2 96.6h0M386.3 95.4h0M385 104.5h0M379.7 126.6h0M379.9 123.1h0M377.6 61.4h0M384.3 112.7h0M386 124.4h0M385.6 122.4h0M385.3 109h0M380.4 125.1h0M386.5 104.9h0M381.1 114.2h0M384 73.7h0M384.6 119.7h0M377.3 38.4h0M380.2 104.9h0M378.8 103.5h0M385.7 71.3h0M377.2 126.7h0M378.6 85.1h0M376.5 82.2h0M379.3 108.4h0M377.4 113.7h0M377.7 99.1h0M383.2 123.5h0M376.7 59.1h0M379 124.4h0M383.7 123.2h0M385.1 118.9h0M383.8 118h0M380.4 79.7h0M386.7 125.1h0M379.1 116.4h0M379.4 114.6h0M385.3 118.7h0M386.5 97h0M377.9 119.6h0M386.1 104.1h0M377.5 96.6h0M385.7 119h0M383.3 124.6h0M384.6 123.1h0M383.6 121.8h0M384.1 97.1h0M386.7 72.9h0M385.3 91h0M377.1 105.8h0M380.7 125.1h0M380.1 87.1h0M378.2 60.5h0M385.7 98h0M378.4 106.9h0M377.6 122.8h0M384 116.6h0M385.8 127h0M377.9 97.9h0M378.6 94.8h0M376.8 103.9h0M385.1 124.8h0M380.4 122.2h0M379.2 123.6h0M376.9 124.9h0M379.7 119.2h0M378.7 122.2h0M383.2 124.5h0M386.4 96.8h0M385.5 107.5h0M386.6 97.5h0M385.7 122.3h0M385.5 92h0M386.2 112.4h0M378.8 41.1h0M378.2 86.1h0M380.8 57.5h0M380.7 112.8h0M383.4 126h0M380 43.5h0M384 89.9h0M377.3 73.9h0M377.3 120.9h0M377.6 92.3h0M386 126.9h0M378.1 101.3h0M380.4 98.5h0M377.4 125.6h0M377.7 116.4h0M380.7 126.6h0M386.1 120.3h0M379.3 103.8h0M376.6 124.6h0M385.3 78.6h0M379.2 126.4h0M380.1 117.1h0M383.8 89.2h0M385.6 119.2h0M384 102.5h0M378.6 103h0M386.3 97.4h0M386 107.8h0M378.7 120.3h0M385.7 115.3h0M385.4 98.2h0M380.1 103.9h0M380.1 122.1h0M386.2 121h0M380.2 117.8h0M377.6 125.5h0M379.2 88.4h0M383 114.5h0M385.5 103.5h0M378.6 89.6h0M376.5 114h0M376.8 121.2h0M377.6 89.3h0M381 113.7h0M383.6 125.7h0M379.7 89.1h0M384.5 88.8h0M379.4 81.7h0M376.6 126.6h0M385 110.4h0M386.5 125.6h0M381.5 121.5h0M383.6 118.5h0M379.8 115.6h0M384 123.1h0M386.6 91h0M376.5 74h0M380 96.1h0M377.2 113.8h0M386.5 105.6h0M377.5 125.7h0M386.6 83.2h0M377.7 113h0M376.5 108.6h0M376.7 64.5h0M379.8 45.2h0M385.2 127.4h0M384.6 102.5h0M385.2 109.6h0M383.7 110.8h0M384.4 126.4h0M377.7 100.7h0M386.4 108.2h0M386.7 106.6h0M380 94.9h0M380.6 122.5h0M386.7 123.3h0M380.9 99.3h0M377.2 86.7h0M380.8 99.2h0M386.2 111.3h0M377.4 115.4h0M385.8 124.4h0M379.7 111.8h0M384.2 92.1h0M378 75.9h0M377.4 94.2h0M386.4 97h0M386.5 92.4h0M384.1 98.9h0M384 97.9h0M377.1 126.1h0M384.7 123.7h0M386.7 105.9h0M376.5 126.2h0M378.5 102.4h0M377.3 93.2h0M378 92.1h0M384 120.3h0M377.4 95.3h0M381 119.4h0M380.5 89.5h0M386.4 125.6h0M385.3 125.6h0M383.5 117.3h0M386.6 87.7h0M384.2 83.5h0M385.7 106.6h0M377.2 123.7h0M385.5 124.5h0M386.5 120.1h0M384.7 82.1h0M378.1 73.2h0M380.8 104.2h0M385.8 120.5h0M384.2 100.2h0M380.3 125.4h0M376.6 119.3h0M379.2 121.1h0M384.7 125.1h0M377.1 126.9h0M386.5 80.9h0M385.6 105.7h0M383.4 114.4h0M377.1 77h0M385.9 123.5h0M386.4 81.4h0M378.7 104.5h0M380.7 112.6h0M380.4 121.6h0M378.6 122h0M378.1 82.1h0M386.1 108.4h0M379.4 122.2h0M385 126.2h0M385.4 100h0M384.9 112.1h0M384 79h0M386.6 108.6h0M385.9 117.9h0M377 125.2h0M383.6 82.3h0M386 117.5h0M384.9 86.1h0M377.6 102.8h0M378.8 117.9h0M385.5 125.6h0M386.5 118.6h0M386.6 124h0M384.4 120.5h0M386.1 124.9h0M385.9 114h0M385 122.3h0M376.7 111.9h0M386.1 95.4h0M380.8 105.9h0M380.6 93.8h0M386.7 126.8h0M385.9 107.9h0M385.6 81.6h0M384 100.4h0M386.4 71.8h0M378.8 108.8h0M384.3 114.3h0M384.2 115.3h0M385 125h0M378.5 110h0M377 102.2h0M384 120.8h0M380.6 69.3h0M384.5 84.1h0M386.1 121.1h0M377.3 93.9h0M385.7 116.6h0M376.9 123.9h0M377.3 111.2h0M376.6 101h0M385.1 101.7h0M377.7 126h0M384.8 127h0M376.5 64h0M386.2 114.2h0M379.9 114.4h0M376.5 102.3h0M384.3 76.6h0M386.5 119.1h0M385.9 124.9h0M386.5 121.2h0M377 120.9h0M377.2 111.7h0M377.9 89.9h0M385.6 94.7h0M378.9 61.8h0M385.6 95.9h0M380.4 107h0M384.6 81.9h0M377.1 103.2h0M378.9 123.9h0M377.9 121.1h0M384.9 124.7h0M377.8 108.1h0M385.1 124.4h0M383.9 114.1h0M377.1 94.9h0M383.7 119.8h0M377.6 60.2h0M386.6 111.5h0M379.5 105.7h0M385.4 82.5h0M384.6 111.1h0M379.6 72.5h0M379.9 123.7h0M377.8 114.5h0M384.9 77.3h0M378.8 71.9h0M377.6 111.5h0M377 121.9h0M386.5 112.1h0M380 111.5h0M386.1 122.6h0M386 81.6h0M380 94.9h0M386.3 80.7h0M379.7 91h0M380.2 117.3h0M383.3 99.6h0M386.5 115.8h0M385.5 111.3h0M386.6 125.3h0M381.2 86.7h0M377.9 58.7h0M381 41.3h0M379.3 106.2h0M377.9 89h0M383.2 104.4h0M380.7 120.6h0M385.8 126.6h0M377.2 119.4h0M379.1 114.5h0M377.4 111.5h0M378.7 84.1h0M378.9 125.6h0M378.3 67.7h0M377 111.8h0M376.5 84h0M384 99.4h0M386.1 113.1h0M385.8 79.1h0M385.5 119.5h0M381.1 100h0M376.7 50.4h0M380.2 123.1h0M378 100.2h0M376.7 124.5h0M380.3 73.9h0M383.6 121.3h0M381.3 118.2h0M385.9 122.8h0M376.8 81.7h0M377.1 124.2h0M384.6 123.3h0M379.8 117.6h0M385.7 116.9h0M377.2 105.3h0M380 118.5h0M377.4 121.7h0M386.6 123.5h0M377.2 51.2h0M380.4 115h0M385.8 106.7h0M383.8 125.2h0M376.5 126.8h0M386.5 70.4h0M383.7 110h0M379.4 107.2h0M386.7 127.3h0M378.9 119.3h0M380.1 116.9h0M386.7 107.3h0M380.5 101.6h0M383.2 114.7h0M377.2 85.6h0M384.7 93.7h0M384 125.7h0M385.3 104.6h0M381.5 127.3h0M384.4 93.9h0M386.4 123.9h0M386.5 95.9h0M384.8 124h0M384.1 124.9h0M386.6 79.4h0M383.8 103.5h0M376.6 79.6h0M384.1 119.2h0M386.7 98.4h0M378.9 123.3h0M384.2 98.1h0M385.5 127.5h0M377.6 94.6h0M378.5 120.1h0M385.5 101.2h0M386.7 125.9h0M380.7 110h0M383.9 104.4h0M377.5 121.7h0M379.3 125.3h0M385.7 113h0M380.2 122.3h0M383.1 117.7h0M377.7 101.1h0M385.9 110.8h0M380.3 99.7h0M377.7 120.9h0M386.4 108.9h0M380.7 121.9h0M377.7 126.5h0M379.6 110.6h0M377 120h0M384.6 125.3h0M379.9 119.9h0M379.8 101.2h0M378.1 119.3h0M384.6 123.9h0M385.4 103.8h0M376.8 110.7h0M380.5 100.9h0M383.2 115.7h0M376.6 122.1h0M377.3 98.9h0M385.4 119h0M380.1 125.1h0M378.5 110.4h0M377.4 127.1h0M377.2 123.3h0M384.5 122.9h0M381.4 107.8h0M385.7 106.8h0M377.9 126.4h0M377.2 120.8h0M378.1 122.5h0M383.4 115.8h0M386.6 126.9h0M377.5 117h0M377.2 119.7h0M377.7 89.5h0M386.7 114.8h0M379.6 126h0M379.8 98.3h0M383.4 94.2h0M385.1 122.1h0M386.6 116.8h0M380.3 111.8h0M385.2 120.6h0M379.5 114.2h0M377.7 42.3h0M377.5 73.3h0M380.2 118.2h0M386.7 103.5h0M383.5 74h0M379.4 114.1h0M384 126.2h0M385.7 127.3h0M384.7 126h0M377.9 126.4h0M384.3 113h0M385.8 108.5h0M385.5 122.4h0M378.8 110.1h0M385.2 98.7h0M385.1 109.2h0M380.1 122.4h0M385.5 120.5h0M377.1 122.6h0M384.7 97.6h0M380.1 126.9h0M386.6 118.6h0M384.8 99.3h0M379.5 80.7h0M379.1 102h0M377 63h0M378.6 51.6h0M377.3 42.4h0M385.4 100.3h0M379.3 124.1h0M384.3 126.6h0M384.1 123.4h0M386 103.4h0M378.6 124.6h0M376.9 120.8h0M384.2 122.4h0M377 80.9h0M386.3 89h0M378.3 122.3h0M386.6 123.1h0M378.2 107.9h0M384.3 122.4h0M378.6 108.9h0M380 124.9h0M385.3 115.4h0M378.2 89.4h0M379 81.3h0M384.8 118.2h0M377.6 120.7h0M380.1 122.3h0M385.3 113.9h0M386.1 99.6h0M386.8 118.2h0M386.6 94.9h0M379.1 117.9h0M378.5 77.7h0M380.3 59.8h0M385.6 118.5h0M377.6 97.3h0M377 101.7h0M378.4 123.6h0M378.1 98.9h0M378.5 123.9h0M386.2 82.2h0M377.1 113.4h0M377.6 99.9h0M385 109.7h0M385.9 84.3h0M377.3 125.7h0M377 83.6h0M383.5 105.9h0M379.6 89.9h0M377 51.7h0M377.7 98.2h0M384 79.6h0M376.6 96.5h0M384.4 118.1h0M384.6 112.8h0M377.9 74.5h0M385.4 126.8h0M377.3 120.3h0M379.6 97.5h0M378.1 87.2h0M384.9 105.9h0M380 48.3h0M378.4 78.5h0M378.3 80.4h0M378.1 111.6h0M386.6 124.3h0M386.2 117.1h0M380.5 45.4h0M377.7 123.7h0M378 125.9h0M384.9 122.1h0M384.2 117.4h0M386.6 116h0M379.9 127h0M377.4 112h0M385.2 107.1h0M380.4 111.7h0M385.7 121.9h0M377.2 124.2h0M378.4 89.8h0M386.4 121.3h0M383.4 125.5h0M384.6 92.2h0M385 121.4h0M377.3 123.6h0M379.5 113.6h0M377.6 117.1h0M383.5 76h0M380.9 125.5h0M377.2 85h0M377.5 112h0M379 81.2h0M384.9 112h0M385.3 125.4h0M383 122.5h0M377.5 108.1h0M376.5 125.1h0M386.7 119.2h0M378 107.6h0M385.9 116.1h0M379.9 110.3h0M384.2 68.5h0M386.6 107.3h0M378.5 103.4h0M376.7 106h0M378.4 118.2h0M384.9 80.5h0M385.3 127.5h0M386.2 93.9h0M385.7 108.6h0M385.5 107.9h0M381.1 115.2h0M383.7 119.9h0M386.4 114.1h0M384.4 118h0M386.3 124.3h0M386.7 124.9h0M386.7 122.3h0M386.1 68.8h0M378.8 107h0M383.7 98.2h0M377.8 114.5h0M386.1 87.5h0M385.4 97.1h0M377.3 106.8h0M378.1 126.6h0M384.8 118.4h0M381.4 104h0M384.2 91.2h0M379 103h0M385.3 115.5h0M379.2 121.8h0M384.7 126.6h0M378.7 123h0M376.6 112.4h0M385.7 98.6h0M385.8 102.2h0M384.1 85h0M377.4 59.6h0M380.2 90.9h0M380.3 85.3h0M380.3 124.5h0M383.6 112.5h0M383.9 126.1h0M376.7 57.5h0M377.6 97.2h0M381.1 122.7h0M383.5 103.3h0M386.3 112.6h0M385.3 99.8h0M380.6 82.9h0M385.8 109.9h0M377.7 113.6h0M386.4 126.9h0M378.4 123.7h0M384.6 123.7h0M386.5 111.4h0M378.1 114.2h0M379.7 90.8h0M384.9 116h0M378.3 104.7h0M376.6 81.8h0M384.8 119h0M377.2 97h0M379.3 109.3h0M386.6 88h0M377.9 88.2h0M378.1 42.1h0M385.5 84.4h0M377.7 102.9h0M386 125.4h0M376.9 105.2h0M385.6 92.5h0M380.8 114.9h0M384.7 104.7h0M383.7 105.4h0M379.4 124.7h0M384.5 115.7h0M378.4 65.2h0M384.9 80.1h0M376.7 117.4h0M383.8 91.2h0M383.2 112.4h0M382.9 126.5h0M385.5 95.8h0M377.2 47.7h0M384.8 118.9h0M377.6 115.8h0M377 114.4h0M384.7 108.6h0M380 110.6h0M384 122.3h0M378.9 75.1h0M386 77.5h0M377.8 89.3h0M383.4 81h0M386 120.5h0M376.9 117.3h0M384.3 116.3h0M378 103.4h0M384 103.3h0M377.9 81.6h0M377.6 123.3h0M385.5 127.2h0M385.8 108.1h0M376.8 45.1h0M385.4 123.6h0M380.2 86.9h0M383.1 118h0M384.6 104.7h0M384.7 120.6h0M376.7 105.9h0M386.7 110.4h0M378.7 48.4h0M385 127h0M381.1 81.7h0M384.2 81.1h0M385.7 127.3h0M386.6 121.9h0M379.5 77.3h0M379.3 127.1h0M376.9 96.1h0M385.9 100.7h0M377.8 115.9h0M385.4 124.6h0M377.5 111.1h0M376.7 76.8h0M377 95.8h0M377.3 112.2h0M380.5 62.1h0M384.1 122.5h0M386.2 105h0M380.5 95h0M377.7 119h0M378.5 119h0M386.3 124.3h0M384.7 126.2h0M379.3 93.5h0M384.4 116.7h0M383.6 116.6h0M385.8 118.4h0M386 69.5h0M386.4 79.8h0M377.3 115.6h0M384.1 118.5h0M386.4 123.5h0M380.6 78.8h0M384.7 80.3h0M386.6 118.6h0M384.7 103.9h0M383.1 97.5h0M385.5 94.4h0M378.3 105.2h0M377.6 126.8h0M385.7 71.9h0M385.2 107.1h0M381.3 108.6h0M376.8 96.8h0M384 78.8h0M384.5 121.2h0M383.6 94.2h0M379.2 109.7h0M385.1 99.4h0M385.5 111.7h0M380.7 65.8h0M383.9 124.2h0M383.9 123.6h0M381.2 121.9h0M380.6 83.7h0M377.5 106.6h0M385.9 89.1h0M377.7 110.7h0M377.9 58.2h0M379.9 119.3h0M385.6 98.2h0M377.3 118.8h0M384.3 124.6h0M385 114.8h0M384.6 88.4h0M386.5 72.9h0M379 118.3h0M380.2 115.4h0M377.3 79.6h0M378.9 122.9h0M385.1 126.9h0M380.2 63.3h0M381 97.3h0M386.1 122.8h0M383.3 121.8h0M384.7 121.8h0M385.4 81.3h0M377.3 112.4h0M378.4 87.4h0M385.6 113.6h0M377.9 116.1h0M377.8 93.8h0M385.8 121.5h0M377.8 110.3h0M377.1 82.1h0M384.4 123.4h0M377.4 90h0M378.8 106.9h0M385.9 117.7h0M385.3 97.5h0M378.2 117.2h0M378.5 99.4h0M379.6 119.5h0M384.4 98.7h0M376.7 78.5h0M378.1 100.5h0M379.6 54h0M384.9 86.8h0M383.4 105h0M386.7 125.8h0M386.6 110.7h0M378 99.5h0M379.1 116.1h0M383.6 75.6h0M386 125.7h0M383.3 122.2h0M377 115h0M386 121.9h0M379.4 124.8h0M377.1 95.3h0M385.4 78.2h0M376.8 93.2h0M379.2 97.1h0M381.2 125.1h0M378.9 89.3h0M377.1 105.4h0M384.9 83h0M378.4 102.7h0M383.7 118.3h0M376.9 106.2h0M376.6 125.5h0M386.4 124h0M384.9 112.9h0M378 120.9h0M378.3 110.7h0M377.7 125.2h0M379.4 71.9h0M385.2 106.5h0M376.9 120h0M376.5 118.3h0M380.9 88.4h0M384.6 108.3h0M384.9 117.1h0M383.7 106.4h0M377.7 68h0M379.7 100.9h0M383.7 71h0M377.5 125.8h0M379 126.4h0M376.8 102.8h0M378.3 120.7h0M379.4 113.4h0M378.8 123.2h0M384.9 112.6h0M385.8 119.7h0M380.7 94.4h0M376.8 76h0M378.8 120.2h0M376.8 89.1h0M377.5 94.9h0M384.6 101.9h0M377.3 123.9h0M385.6 127.4h0M379 84h0M386 74.7h0M379 103.1h0M386.3 125.7h0M385.2 105.7h0M376.9 84.3h0M379.9 112.4h0M378.1 96.4h0M384.7 127.2h0M379.3 81.1h0M385.2 122.7h0M385.4 123.7h0M386 119.8h0M377.4 73.1h0M381.3 116.2h0M378.4 107.3h0M385.3 112.1h0M378.6 92.9h0M376.9 101.9h0M377.7 126.9h0M380.9 67.3h0M380.4 81.5h0M377.7 106.1h0M378.2 106.9h0M377.2 116.5h0M378.5 73.6h0M379.2 100.4h0M383.9 124.7h0M379.6 99.9h0M377.2 124.6h0M386.2 119.5h0M383.7 115h0M380.8 114.7h0M385.8 88.9h0M384.3 88.8h0M386.7 91.7h0M384.5 116.4h0M378.1 107.5h0M380.1 120.8h0M384.8 73h0M385.5 110h0M383.9 118.9h0M376.9 105.2h0M383.7 81.3h0M385.9 88.1h0M379.7 64.6h0M379.6 127.5h0M378.4 117.2h0M377.4 112.1h0M386.2 125.3h0M385.6 100.3h0M384.6 125.7h0M386.3 116.4h0M385.8 93.1h0M380.2 118.8h0M386.2 116.6h0M379 123.2h0M379 87.5h0M376.9 127.5h0M384.6 96.4h0M384.5 110.9h0M379.7 91h0M386 104.9h0M377.1 121.6h0M377.1 115.8h0M384.8 106.5h0M386.2 112.1h0M383.5 104.7h0M378 122.8h0M377.1 121.6h0M386.5 118.2h0M378.8 114.7h0M383.4 98.6h0M378.8 90.7h0M383.5 117.3h0M385.6 119.8h0M378.3 93.2h0M385.5 120.3h0M384.2 116.8h0M383.1 105.1h0M378.2 112.1h0M378.1 114.6h0M386.1 99.5h0M379 67.8h0M386.1 101.7h0M377 123h0M386.7 125.5h0M379.9 95.4h0M378 55.8h0M378.1 70.4h0M377.8 85.2h0M385.5 127.4h0M377.9 119.2h0M384.5 108.4h0M386.5 120.9h0M386.3 119.9h0M386.3 72.7h0M378.4 120.6h0M383.3 117.3h0M378.9 121.7h0M378.6 109.2h0M378.5 119.8h0M377.8 124h0M386.6 118h0M383.8 100.4h0M378.8 90.3h0M383.5 107.7h0M383.5 110.8h0M384.7 106.6h0M376.6 119h0M379.7 74.6h0M386 71.6h0M386.7 112.5h0M383.6 121h0M385.4 84.9h0M384.3 97.3h0M383.3 90.2h0M379 122.4h0M384.4 118h0M386.8 108.1h0M378.3 100.7h0M384.5 113.6h0M385.8 90.3h0M381.1 111.4h0M376.6 99.3h0M380.4 64.7h0M385.9 96.3h0M376.5 111.8h0M379.9 126.8h0M384.7 122.6h0M385.2 121.9h0M384.5 75h0M378.4 94.3h0M386.5 93.2h0M386 82.5h0M386.7 109h0M385.7 114.8h0M378.6 123.9h0M378.1 121.5h0M379 98.8h0M384.2 110.1h0M386.6 99.7h0M380.2 115.9h0M384 104.7h0M386.2 122.6h0M383.7 73.6h0M379.3 86.6h0M385.7 113.7h0M385.4 102.7h0M379.4 122.3h0M377.3 113.9h0M386.5 109.5h0M385.7 87.4h0M377.1 108h0M380.8 98.5h0M385.5 113.6h0M384.3 109.2h0M385.1 103.9h0M379.9 100.4h0M376.7 124.4h0M385.1 93.1h0M378.4 124.2h0M377.4 103.7h0M385.7 119.6h0M380.3 125.4h0M378.3 106.7h0M379.3 111.5h0M380.1 113.2h0M386.6 89.5h0M381.1 127h0M376.7 93.7h0M379.1 81.6h0M378.7 123.3h0M383.8 110.5h0M386.5 113.3h0M377.9 117.6h0M376.8 107.5h0M377.3 118.5h0M377.7 74.6h0M379.4 82.7h0M384.9 82h0M376.9 127h0M385.5 123.9h0M384.6 125.2h0M378.4 127.1h0M384.9 82.6h0M379.5 97.4h0M386.2 117.1h0M379 124.3h0M385.1 126.6h0M386.6 106.3h0M386.2 114.5h0M384.9 106.5h0M385.7 81.2h0M384.5 124.3h0M377.3 79.3h0M386.8 99.3h0M383.6 108.4h0M379.8 90.6h0M376.9 121.6h0M379.7 125.7h0M380.3 117.6h0M377.8 119.2h0M378 75.9h0M377.2 123.2h0M383.8 98.2h0M383.8 123.6h0M379.7 118.8h0M380.8 117.3h0M377.6 118h0M377.5 80.9h0M380.7 84.7h0M379.8 82h0M377.5 115.7h0M377.1 109.1h0M380.1 127h0M376.6 113.5h0M385.7 126.3h0M378.6 115.9h0M384.4 118.8h0M383.6 118.8h0M385.2 90.7h0M377 113.7h0M376.7 127.2h0M386.7 105h0M376.9 116h0M379.9 121.2h0M386.3 100.5h0M383.2 111.5h0M386.4 127.1h0M376.8 124.4h0M385.5 92.3h0M376.8 114.6h0M381.4 119.7h0M384.7 91.4h0M378.8 83.6h0M380.1 97h0M385.3 121.5h0M378.9 42.4h0M385.2 121.7h0M379.3 127.4h0M378.7 63.3h0M380.8 127.2h0M384.6 86.2h0M380.5 115.9h0M379.8 114.3h0M380.7 49.9h0M384.4 100.1h0M379.4 88.5h0M376.8 87.4h0M377.6 113.8h0M381.2 89.1h0M376.6 122.5h0M376.9 79.1h0M381.2 95.3h0M384 99.1h0M386.1 97.1h0M380.5 97.8h0M380 98.3h0M386.5 83.7h0M378.9 117h0M385.8 97.8h0M384.9 94.8h0M377.4 115.4h0M378.9 120h0M384.6 123.7h0M379.6 123.4h0M379.6 116.9h0M385.5 120.6h0M376.9 123h0M378.2 107.4h0M386.8 118.9h0M383.5 112.4h0M377.9 96.8h0M380 83h0M384.8 86.7h0M377.2 52.3h0M380.6 82.1h0M386.6 111.7h0M378.3 122.7h0M377.9 124.7h0M385.1 106.5h0M386.8 117.6h0M376.5 101.4h0M386.2 125.6h0M379.4 107.2h0M378.1 98.5h0M386.1 92.6h0M377.8 98h0M385.7 109.6h0M384.9 126.6h0M376.8 85.3h0M379 108.9h0M380.8 120.4h0M380.1 115.1h0M377.2 82.3h0M385.1 109.9h0M376.7 122.3h0M383.2 111.8h0M385.3 116.9h0M377.2 92.7h0M377.6 105.6h0M385.1 83.9h0M384.2 98.9h0M377.4 107.6h0M383 121.9h0M384 114.2h0M383.7 86.7h0M379.5 98.6h0M385.9 97.4h0M376.9 59.9h0M379.3 100.3h0M378.3 46.9h0M377.6 59.5h0M384.6 112.1h0M384.1 108.7h0M385.6 92.4h0M377.9 44.2h0M384.5 97.9h0M380.2 123.9h0M386 110.7h0M386.1 117.1h0M384.8 121.8h0M379.9 115.9h0M378.6 119.4h0M377.2 124.9h0M386 113.5h0M376.9 94.9h0M379.6 41.4h0M383.4 123.9h0M379.9 49.9h0M386.4 98.1h0M385.9 103.5h0M378.3 123.7h0M386.4 116.5h0M384.9 91.5h0M376.9 77.4h0M376.5 117h0M379.1 124.5h0M377.8 120.7h0M376.8 110h0M380.9 78.1h0M384.7 125h0M377.7 124.1h0M376.9 55.1h0M383.9 90.8h0M379.7 106.4h0M386.2 100.8h0M385.3 104.2h0M385.8 109.5h0M378.9 116.8h0M385.6 114h0M379.8 124.5h0M380.2 97h0M383.4 111.9h0M384 79.3h0M378.4 108.2h0M379.9 108h0M385.1 102.4h0M381.2 113.4h0M378.8 119h0M377.4 116.7h0M379 79.4h0M378.9 89.9h0M378.4 104.2h0M376.5 115.6h0M386.2 88.6h0M378 123.8h0M377.6 105.5h0M381.3 118h0M377.6 121.4h0M377.5 123.8h0M376.8 118.8h0M379.9 121.9h0M386.4 118.4h0M376.7 112.6h0M385.5 121.9h0M378.3 120.3h0M383.4 93.2h0M376.8 85.1h0M386.7 77.2h0M385 92.1h0M377.7 117.1h0M379.6 104.6h0M384.4 103.2h0M386.6 104.8h0M384.2 123.6h0M378.1 105.2h0M383.5 118h0M376.6 100h0M380 115h0M386.3 127.6h0M377.7 117.3h0M385.3 84.7h0M384 118.1h0M384.8 112.8h0M378.5 90.4h0M380.9 81.1h0M383.9 111.8h0M386.3 112.7h0M380.6 126.5h0M385.5 82.3h0M379.4 76.3h0M384.4 116.6h0M386.4 121.7h0M376.6 106.8h0M384.8 99.8h0M378 86.9h0M377.1 107.6h0M384.5 126.8h0M384 127.2h0M384.3 81.9h0M386.6 102.4h0M383.6 120.7h0M379 93h0M384.7 120h0M376.5 102h0M386.1 125.6h0M386.2 123.5h0M386.2 108.2h0M380 111h0M386.1 105.2h0M384.7 124.8h0M380.4 101.5h0M379.3 108.2h0M380 125.9h0M379 127h0M378.1 125h0M384.8 88.3h0M377.6 124.4h0M380.3 111.2h0M380.3 105.3h0M379.2 91.4h0M381.4 117.2h0M377.4 64h0M377.3 89.9h0M377.8 83.1h0M385.7 111.9h0M377.5 125.1h0M379.8 106.4h0M377.3 122.7h0M385.9 108.9h0M376.7 81.1h0M378.4 126.1h0M384.6 122h0M379 73.1h0M385.5 103h0M379.7 91.2h0M376.9 125.9h0M376.8 116.1h0M384.2 110.4h0M380.6 120.9h0M380.6 112.5h0M377.9 101h0M386.2 106.4h0M377.1 127.6h0M379.4 76.8h0M384 117.1h0M381 103.2h0M376.6 100.5h0M378.8 48.2h0M380.7 91.2h0M381.4 115.6h0M377.9 122.6h0M386.3 78.4h0M378.4 125.9h0M383.4 110.7h0M379.8 61.5h0M384.1 104.8h0M377.9 124.6h0M383.7 127.3h0M383.5 107.1h0M381.1 109.7h0M380.4 99.8h0M384.2 125.4h0M384.1 78.4h0M377.4 86.8h0M377.4 45.5h0M377.5 122.3h0M380 116.2h0M386.7 115.7h0M378.4 121.6h0M376.7 119.5h0M377.1 125.3h0M379 125.7h0M384.9 120h0M378.2 100.7h0M384 82.9h0M379.3 121.8h0M385.7 81.4h0M378.2 125h0M378.5 119.3h0M376.6 66.8h0M384.7 119.2h0M384.9 101.4h0M386.3 124.9h0M385.6 126.4h0M379.6 46.4h0M384.1 69h0M380.7 122.6h0M378.2 118.8h0M383 107.5h0M380.7 115.7h0M384.3 116h0M377.8 114.7h0M386.8 126h0M380.5 95.2h0M378.8 95.2h0M386.4 118.7h0M385.5 118.9h0M385.2 125.7h0M379.8 124.2h0M385.4 93.8h0M376.7 69.2h0M377.4 111.8h0M377.8 122.9h0M384.5 115.4h0M378.9 106.7h0M378.2 83.6h0M386.8 111.3h0M383.5 120.2h0M385.7 76.5h0M386.1 93.4h0M377 82.8h0M383.3 108.7h0M384.2 95.6h0M385.7 125.4h0M377.1 104.9h0M378.1 116.8h0M376.5 116.3h0M376.9 69.4h0M380.4 105.7h0M386.4 122.2h0M380.1 109h0M383.5 123.4h0M376.9 120.1h0M386.5 110.5h0M383.8 113.8h0M383.9 115.1h0M384.6 125.9h0M377.5 105.4h0M385.1 100.4h0M376.7 68.8h0M383.7 106.2h0M383.8 125.4h0M377.5 124.2h0M385.6 82h0M386.6 103.6h0M378.1 77.9h0M378.2 124h0M384.3 118.7h0M385.5 103.2h0M383.2 104h0M386.6 122.2h0M378.5 64.9h0M378 99h0M386.3 107.5h0M384.6 107.5h0M383.3 108.6h0M384.7 115.5h0M386.4 116.5h0M377.7 122.1h0M380 121.4h0M378.7 126.4h0M385.8 118.1h0M386 116h0M377.9 121.1h0M385 102.4h0M379 115.8h0M379.7 96.5h0M385.3 122.3h0M380.6 113.6h0M377 110.4h0M381.1 122.4h0M378.1 97.2h0M376.9 118h0M379.4 88.8h0M379.5 127.2h0M380.4 113.3h0M385 90h0M386.4 106.4h0M380.7 127.3h0M384.3 105.9h0M377.3 120.3h0M380.2 84.4h0M376.9 104.7h0M380.5 116.8h0M386.8 115.1h0M380 115.4h0M378.8 82.6h0M385.1 112.9h0M378.1 120.6h0M385.5 124.8h0M385.2 126.9h0M379 125.6h0M379.5 123.8h0M378.1 126.4h0M380.5 101.7h0M385.2 81.9h0M385.9 124.8h0M383.9 117.7h0M386.8 77.1h0M386.2 126.7h0M378.7 123h0M377 89.1h0M383.6 91.7h0M376.6 99.2h0M378.9 114.4h0M384 100.4h0M384 93.9h0M378.7 117.9h0M385.1 109.3h0M378.4 70.4h0M379.8 126.5h0M380.8 95.4h0M377.6 114.5h0M385.1 125.1h0M379.1 126.5h0M386.3 114.4h0M378 94.6h0M383.8 122.6h0M379.2 88.1h0M385.4 112h0M386.4 121.2h0M377.7 88.5h0M385.4 92.6h0M386.7 103.6h0M379 79.3h0M386.3 98.2h0M379.7 127h0M385.7 105h0M377.1 114h0M378.1 100.6h0M384.6 117.5h0M386.8 126.4h0M385 120.4h0M386.6 120.8h0M385.7 127.3h0M386.3 82.2h0M386.4 105.3h0M386 122.5h0M379.8 111.1h0M385.3 117h0M376.5 59.6h0M386.5 118.3h0M385.9 121.5h0M377.2 67.2h0M379.4 104.2h0M384.8 116.9h0M377.3 97.8h0M386 113.7h0M379.4 124.2h0M386.4 121.7h0M384.1 92.9h0M385.4 100.5h0M384.9 89h0M384.2 122.3h0M377.1 115.4h0M376.8 123h0M377.8 79.4h0M378 114.4h0M377 81.1h0M377.5 124.7h0M386.7 74.9h0M383.5 84.4h0M377 115.2h0M385.1 112.2h0M380.4 114.8h0M377.7 122h0M386.1 125.8h0M386.7 118.7h0M386.5 116.9h0" stroke="#000" stroke-width="2.1" stroke-linecap="round" fill="none"/><path d="M367.6 102.1h0M371.5 120.2h0M369.5 105.6h0M369.4 91.5h0M366.6 123.6h0M374.1 122.5h0M368.5 117.2h0M374.5 117h0M375.8 74.8h0M374.7 116.4h0M368.9 56.3h0M368.8 102.9h0M368.7 94.1h0M373.8 124.3h0M375.3 97.3h0M371.3 126.2h0M374.1 29h0M373.3 118.1h0M372.8 114.1h0M372.3 77h0M374.2 67.2h0M370.1 105.2h0M370.4 65.7h0M369.5 99.3h0M374.9 117.1h0M375.4 108.6h0M369.4 76.2h0M375 72.3h0M375.8 54.9h0M374.4 104.4h0M375.1 39.7h0M368.4 105.6h0M373.6 71.5h0M370.1 49.8h0M368.6 102.7h0M368.1 57.7h0M373.7 100h0M370.4 108.2h0M375.2 123.1h0M371.1 106h0M375.4 63h0M370.2 87.1h0M368.9 116.7h0M368.7 125.9h0M370.6 115.7h0M367.5 120.2h0M371.7 121.6h0M372.9 114h0M369.9 101.4h0M375.5 88.7h0M372.6 78.8h0M375.8 29.3h0M373.8 73.6h0M374.9 104.9h0M375.9 125.6h0M367 113.6h0M368 98.5h0M375.1 118.1h0M368.6 103.3h0M372.6 117.3h0M374.1 111.4h0M371.1 75.8h0M372.8 91.9h0M368.5 74.6h0M370.5 122.9h0M370.7 37.5h0M366.8 122.2h0M368.1 98.6h0M375 123.1h0M371.1 115.5h0M374.4 92.4h0M369.5 54.2h0M375.8 85h0M369 105.9h0M369.1 46.3h0M375.9 108.1h0M373.4 120h0M373.8 88h0M374.5 68h0M374.5 96.3h0M368.5 107.7h0M368.5 95.1h0M371.1 104h0M372.7 122.2h0M373.3 39.9h0M373.6 81.5h0M375.5 83.6h0M375.6 123h0M369.1 109.4h0M365.8 125.8h0M367.6 120h0M367.2 120.2h0M375 78.8h0M373.4 107h0M373.6 116.5h0M370 97.5h0M367.5 94.2h0M368.8 96.1h0M375.1 102.6h0M370.9 113.2h0M375.7 96.9h0M371.5 124.9h0M370.7 48.8h0M370.4 107.7h0M372 122.2h0M368.8 94.5h0M369.2 78.1h0M369.9 105.7h0M371.1 51h0M373.3 113.4h0M367.7 98.5h0M367.4 103.5h0M375.1 121.3h0M368.5 122h0M373.4 72.3h0M368 103.1h0M375.6 124.4h0M369.6 107.5h0M370.6 84.4h0M372.8 82.2h0M375.4 103.2h0M373.3 79.6h0M369.5 121.7h0M372.6 124.4h0M369 113.3h0M367.4 123.3h0M375.3 84.8h0M375.5 79.8h0M370.1 124.3h0M372.8 108.7h0M369.3 124h0M367.6 91.1h0M372.8 125.7h0M372.1 105.9h0M374.4 99.2h0M372.7 123.6h0M374.5 66.4h0M367.3 91.6h0M373.9 96.6h0M375 79.3h0M371.4 115.9h0M375.7 125.5h0M373.3 111.3h0M374.9 88h0M368.4 98.3h0M373.2 123.5h0M369 103.8h0M366.8 119.1h0M375.6 103.1h0M367.9 117.9h0M372.9 117.1h0M369.4 120.6h0M367.2 97.7h0M370.7 123.9h0M370.7 119.9h0M372.4 75.9h0M375.9 72.8h0M375.7 55.8h0M371.1 106.6h0M365.8 122.5h0M366.8 100.9h0M374.2 56.7h0M374.8 94.2h0M373.8 84.4h0M372.2 95.4h0M368.5 99.6h0M372.6 107.8h0M368.8 122.8h0M369.2 115.4h0M371.4 124.3h0M369.2 70.6h0M374.9 103.4h0M368.6 94.3h0M374.9 124.6h0M369.4 112.5h0M374 108.8h0M373.4 91.9h0M372.4 49h0M369.3 100.6h0M372.6 105.8h0M370.2 75.9h0M375.1 93h0M367.2 96.7h0M367.2 119.5h0M374 91h0M375.1 90.8h0M374.1 111.1h0M369.8 117.2h0M374.6 105h0M372.7 121h0M370.7 54.7h0M367.3 82.8h0M372.3 80.6h0M373.7 76.8h0M375.5 17.5h0M375.9 64.2h0M372.4 119.2h0M373.2 111.1h0M374 101.8h0M374.3 106.7h0M371.4 125.8h0M370.3 116.5h0M374.4 84.7h0M367.6 107.5h0M366.7 116.3h0M374.5 114.1h0M371.7 85.7h0M366.9 119.4h0M375.5 111.8h0M374.4 86h0M374.1 78.6h0M367.5 125.3h0M367.7 122.9h0M366.7 121.6h0M371.2 63.9h0M374 122.1h0M368.5 76.1h0M366.4 124.4h0M370.5 88.2h0M372.9 109.9h0M368.5 111.2h0M370.3 34.8h0M370.9 33.4h0M374.8 68.1h0M366.4 112h0M368.1 120h0M373.6 124.2h0M370 123.5h0M369.2 98h0M373.3 51.3h0M375.8 71.6h0M371.6 52.6h0M370.8 118.1h0M370.1 88.2h0M372.5 95.9h0M374.2 90.8h0M375.8 110.5h0M366.8 123.3h0M370.4 81.8h0M368.5 72.8h0M375.9 49.6h0M370.6 116h0M375.6 54h0M368.8 113.4h0M375.1 58.1h0M374 92.1h0M372.7 121.4h0M373.4 117.9h0M375.1 95.8h0M375.9 118.4h0M371.5 75h0M370.6 34h0M371.2 100.8h0M373.3 101.5h0M371.4 50.5h0M367.9 97h0M369.6 85.5h0M370.7 106h0M375.4 107.8h0M371.9 105h0M369.4 126h0M372.7 121.3h0M373.9 84.3h0M370.4 105.8h0M369.3 116.3h0M374.7 87.1h0M369.9 117.3h0M371.5 81.3h0M373 116.5h0M371.8 63.6h0M373.2 24.3h0M375.5 84.6h0M375.4 71.2h0M367.1 104.9h0M372.3 118.1h0M374 107h0M370.4 46.2h0M372.3 125.6h0M371.7 125.9h0M374.4 121h0M373.6 36.3h0M372.6 116.7h0M374.3 116.6h0M372.6 52.9h0M372.9 104.7h0M372.8 93.8h0M375.2 82.7h0M369.3 108.7h0M375.8 113.9h0M375.9 79.3h0M371 123.1h0M371 124.7h0M373.6 83.3h0M374.1 94.5h0M375.8 114h0M375.7 98.1h0M375.2 52h0M370.2 119.1h0M371.8 112h0M366.5 119.7h0M375.8 124.1h0M368.3 71.8h0M373.5 115.4h0M374.5 53.2h0M375.5 94.5h0M373.2 67.1h0M372.9 107.5h0M372.4 113.3h0M370.8 40h0M374.4 115.2h0M371.1 40.9h0M371.5 25.5h0M374.7 54.2h0M375.6 96.5h0M370.1 85.9h0M374.4 114.7h0M373.6 126h0M375.5 99.2h0M371.1 119.2h0M375.1 101.6h0M370.7 15.9h0M366.1 61.9h0M371.8 26.9h0M368.4 31.3h0" stroke="#22e622" stroke-width="2.1" stroke-linecap="round" fill="none"/><path d="M393.2 112.2h0M394 124.3h0M402.9 115.1h0M403 89.6h0M393.9 107.7h0M388.5 109.8h0M403.3 121.3h0M388.6 124.9h0M400.8 122.7h0M403 110.6h0M394.7 84.1h0M389.7 113.9h0M398 95.6h0M398.4 125.8h0M392.1 124.5h0M396.3 118.8h0M389.8 124.7h0M396.4 118.2h0M391 104h0M396 126.3h0M394.3 124.3h0M401.2 110.2h0M390 97.8h0M402.7 121.9h0M401.2 102.3h0M390.3 111.8h0M404.4 119.7h0M398.2 83.3h0M391.1 101.7h0M390.9 116.3h0M388.6 111.7h0M389.2 96.8h0M395.4 105h0M390.9 88.5h0M388.6 117.4h0M389.8 119.9h0M401.2 114.2h0M396.4 122.8h0M389.1 123.5h0M400.2 95.8h0M396.3 91.7h0M395.4 125.5h0M400.6 96h0M399 115.2h0M394.9 95h0M394.5 107.4h0M397.5 113.1h0M398.2 98.4h0M391.2 122.6h0M398.5 105.9h0M402.4 97.2h0M391.3 124h0M392.6 118.8h0M401.5 106.3h0M394.5 122.4h0M389.1 109.9h0M389.8 112.6h0M388.9 125.1h0M394.5 116.6h0M399.4 123h0M392.2 114.2h0M391.3 108.5h0M388.9 118.9h0M396.5 118.5h0M394.7 82.6h0M397.9 122.8h0M395.4 101.4h0M388.9 99.5h0M390.1 119.5h0M404 114.3h0M403.7 121.4h0M394 101.2h0M404.8 125.4h0M391 97.6h0M394.5 114.8h0M393.3 75.1h0M393.4 101.8h0M394.1 67.3h0M396.8 123.5h0M401.4 68.4h0M397.1 106.3h0M397.6 107h0M398.7 106.6h0M400.8 110.1h0M389.8 101.2h0M400.3 119.9h0M394.1 89.6h0M394.5 109.7h0M396.7 99.5h0M397.8 102.2h0M400.2 80.2h0M397.9 124.6h0M392.8 118.1h0M400.1 81.9h0M393.7 118.7h0M393.1 123.7h0M391.1 122.1h0M400.8 121h0M393 103.9h0M393.4 97.7h0M388.9 119.4h0M395.9 122.1h0M396.2 109.2h0M392.4 93.6h0M399.5 124.5h0M398 116.9h0M393.9 84.9h0M401.1 125h0M391.2 78.9h0M390 115.2h0M388.9 124.6h0M395.5 122.9h0M390.3 120.4h0M389.3 97h0M394 120.8h0M394.5 93.6h0M395.3 125.9h0M393.6 68.1h0M404.6 121.6h0M388.7 125.8h0M392.9 108h0M394.1 104.2h0M405 121.1h0M391.7 121.8h0M389.1 124.7h0M395.5 86.9h0M403 105h0M401.9 98.3h0M402 113.9h0M401.4 121h0M393.5 124.9h0M391.5 124.5h0M391.7 108h0M388.5 122h0M398.7 89.1h0M389.8 125.6h0M395.4 114.5h0M403.4 106h0M388.5 106.9h0M400.8 118.3h0M392.5 122.8h0M395.7 105.8h0M389 109.2h0M398.5 124.5h0M392.4 110.7h0M392.2 109.1h0M388.9 123.6h0M391.4 106.4h0M400.5 117h0M389.6 115.1h0M394.9 123.4h0M392.3 86.7h0M397 97.4h0M391.5 117.4h0M390.3 124.2h0M397.9 126.2h0M397.8 120.5h0M397.7 108.4h0M402.7 119h0M392.8 117.1h0M402.8 116.2h0M398.8 112.1h0M391.9 107.1h0M388.6 107.1h0M397 120.8h0M392.4 106h0M392.2 117.8h0M390.2 124.9h0M392.3 118.2h0M401.1 77.1h0M390.5 122.9h0M390.4 118.6h0M395.2 118.2h0M389.1 120.2h0M392.5 110h0M398.9 125.3h0M388.9 99.1h0M402.4 102.5h0M389.9 122.9h0M390 110h0M395.7 123.6h0M396.2 99.8h0M393.1 108.3h0M389.2 124.3h0M398.5 105h0M390.3 124.6h0M388.7 121.4h0M394 100.9h0M391.2 83.6h0M392.9 121.6h0M396.5 99.3h0M390 114h0M391.7 121.8h0M392.1 91.3h0M399.9 109.9h0M394.8 74.3h0M389.2 110.2h0M389 104.8h0M403.7 94.3h0M391.3 111h0M389.1 98.6h0M395.2 96h0M394 121.1h0M399.1 103.7h0M391.9 95.2h0M398.2 119.6h0M392.2 120.2h0M396.2 116.4h0M389.2 88h0M389.6 108.1h0M398.1 104.7h0M398 87.2h0M400.9 107.5h0M389.7 90.6h0M399.5 95.9h0M396.9 124.4h0M394.8 71.8h0M390.7 119.2h0M398.4 90h0M389.8 123.3h0M396.7 125.7h0M393.9 119.8h0M393.9 100.5h0M390.2 121.3h0M398.1 91.3h0M404.6 119.6h0M397.2 114.4h0M389 84.5h0M397.9 122.7h0M403.4 99.9h0M390.4 120.6h0M392.6 64.3h0M397.3 124.2h0M395 123.5h0M392.5 121.9h0M390.2 87.4h0M397.3 115h0M402.6 104.5h0M391.9 124.3h0M389.6 111.6h0M388.8 114.8h0M396.9 119.5h0M399.4 117.3h0M401.6 101.4h0M391.6 73.8h0M388.8 100.1h0M401.1 112.9h0M395.9 107.7h0M396.1 124.7h0M389.7 94.5h0M396.2 118.2h0M392.8 125h0M398.1 116.6h0M403.8 111h0M396.2 105.3h0M393.8 122.5h0M399.7 117.6h0M395.5 76.2h0M391 116.6h0M397.9 124.8h0M397 116.3h0M401.2 120.3h0M395.8 125.1h0M396.7 94.4h0M404.2 116.5h0M392.5 112.9h0M392.6 110.8h0M393.5 117.9h0M404.1 125.7h0M390.7 113.4h0M389 112.5h0M390.8 107.3h0M400.4 113.1h0M392.4 119.4h0M391.4 100.6h0M389 95.9h0M393.3 120h0M395.6 112.3h0M399.4 117.3h0M399 121.5h0M402.4 96.1h0M388.6 93.3h0M390.2 94.9h0M389.7 114.1h0M391.2 107.4h0M388.7 109.4h0M401.5 126.1h0M389.3 123.1h0M396.4 124.3h0M391.3 122h0M393.1 113.2h0M398.1 100.3h0M393 78.2h0M389.5 117.4h0M392.3 115.3h0M396.1 120.9h0M388.7 102.3h0M394.5 107.7h0M388.6 106.7h0M403.1 112h0M399.4 106.9h0M394.5 111.2h0M398.6 102.6h0M390 126h0M399.6 119.5h0M392.8 79.9h0M388.6 111.3h0M390.2 122.5h0M400.9 84h0M389.3 126.3h0M402.8 95h0M401.1 117.2h0M399.4 108.6h0M391.5 117.2h0M392.5 100.9h0M392.4 84.9h0M400.9 110.3h0M389 110.4h0M393.4 126.2h0M403.2 114.8h0M400.6 121.1h0M390.5 116.8h0M395.7 121.4h0M398 124.8h0M390.6 111.5h0M397.2 117.7h0M396.8 113.3h0M401.6 125.3h0M404.9 121.2h0M389.3 108h0M391.5 112.8h0M394.9 117h0M393.2 115.4h0M388.9 107h0M392.6 122.9h0M401.8 99.9h0M393.2 125.1h0M390.2 116.1h0M400.1 110.1h0M396.9 119.1h0M395.5 122.4h0M402.3 101.2h0M395.7 91.9h0M392.2 94.5h0M395.5 125.1h0M391.2 87.4h0M390.3 97.8h0M388.8 122.1h0M396.9 124.8h0M393.3 113.5h0M401.1 120.3h0M398.9 121.7h0M389.8 124.3h0M396.6 106.2h0M389.2 124.2h0M397.3 78h0M392.6 107.6h0M390.1 100.1h0M397.8 112.2h0M398.2 83.8h0M390.4 121.9h0M399.9 118.6h0M393.6 122h0M388.6 122.9h0M396.2 123.8h0M390.5 124.2h0M394.2 125h0M392.8 91.7h0M399.4 73h0M400.4 104h0M396.2 120.3h0M390 87.5h0M397.3 81h0M388.6 89.4h0M389.3 60.6h0M402.2 123.7h0M390.2 109.4h0M389.1 103.6h0M398.8 110.5h0M394.6 124.6h0M396.1 117.9h0M388.6 85.9h0M394.3 116.5h0M393.3 126.3h0M393.2 124.4h0M392.2 122.3h0M390.4 63h0M397.6 110.9h0M400.4 121.6h0M403.5 114.5h0M393.9 121h0M397.7 126.2h0M394.9 116.4h0M403.7 123.7h0M394.2 116.9h0M388.5 121.7h0M398.5 86.7h0M397.2 120.2h0M395.9 107.5h0M391.8 122.4h0M390.5 121.7h0M400.8 120.6h0M404.5 117.2h0M389.3 113.7h0M391.3 64.3h0M400 124.4h0M395.7 120h0M392.3 97.6h0M400.4 124.1h0M390.5 120.6h0M394.5 119.6h0M389.3 121h0M394 114.8h0M391.6 124.8h0M395.8 110.7h0M394.1 113.8h0M401.5 110h0M389.1 76.3h0M397.7 106.9h0M391.2 59.3h0M393.2 88.7h0M394.4 122.7h0M394.7 92.1h0M402.1 119.6h0M397.3 107.4h0M396.1 117h0M390.4 120.2h0M394.1 117.7h0M391.8 97h0M388.8 122.7h0M393.7 108.8h0M403.4 124h0M405.1 116.8h0M389.7 108.6h0M393.8 122.7h0M402.8 101.2h0M393.6 90.2h0M396.7 119.9h0M399 118.6h0M392.2 110.9h0M399.3 119.5h0M395 125h0M401.2 121.9h0M395.9 122.6h0M404.2 113.1h0M395.8 112.2h0M392.8 121.4h0M399.2 121.9h0M397.9 98.2h0M388.5 92.8h0M396.8 108.2h0M401.7 113.9h0M390.2 124.1h0M391 71.9h0M388.6 122.3h0M399.6 115.6h0M404 121.5h0M403.6 97.2h0M393.8 78.6h0M390.2 116.9h0M389 91.7h0M395.1 125.8h0M389.4 101.5h0M389.9 105.7h0M394 120.8h0M394 114.1h0M403.1 121.1h0M388.8 116.5h0M401.6 123.1h0M392 104.3h0M391.9 66.2h0M388.9 110.9h0M432.8 42.2h0M413.2 49.9h0M398.3 51h0M392.6 31.3h0M393.7 42.2h0M405.2 86h0M404.1 110.1h0" stroke="#ff1010" stroke-width="2.1" stroke-linecap="round" fill="none"/><line x1="376.45" y1="6.3" x2="376.45" y2="163.4" stroke="#1a1aff" stroke-width="1.3" stroke-dasharray="4.2 3.4"/><line x1="387.95" y1="6.3" x2="387.95" y2="163.4" stroke="#1a1aff" stroke-width="1.3" stroke-dasharray="4.2 3.4"/><line x1="304.3" y1="127.61" x2="461.1" y2="127.61" stroke="#1a1aff" stroke-width="1.3" stroke-dasharray="4.2 3.4"/><rect x="304.3" y="6.3" width="156.8" height="157.1" fill="none" stroke="#333" stroke-width="1.8"/><line x1="336.2" y1="163.4" x2="336.2" y2="165.2" stroke="#444" stroke-width="0.9"/><text x="336.2" y="177.2" font-family="Liberation Sans" font-size="11" text-anchor="middle" font-weight="normal" fill="#2a2a2a" stroke="#2a2a2a" stroke-width="0.25">−2</text><line x1="382.2" y1="163.4" x2="382.2" y2="165.2" stroke="#444" stroke-width="0.9"/><text x="382.2" y="177.2" font-family="Liberation Sans" font-size="11" text-anchor="middle" font-weight="normal" fill="#2a2a2a" stroke="#2a2a2a" stroke-width="0.25">0</text><line x1="428.2" y1="163.4" x2="428.2" y2="165.2" stroke="#444" stroke-width="0.9"/><text x="428.2" y="177.2" font-family="Liberation Sans" font-size="11" text-anchor="middle" font-weight="normal" fill="#2a2a2a" stroke="#2a2a2a" stroke-width="0.25">2</text><line x1="302.5" y1="156.1" x2="304.3" y2="156.1" stroke="#444" stroke-width="0.9"/><text x="300.8" y="160" font-family="Liberation Sans" font-size="11" text-anchor="end" font-weight="normal" fill="#2a2a2a" stroke="#2a2a2a" stroke-width="0.25">0</text><line x1="302.5" y1="112.3" x2="304.3" y2="112.3" stroke="#444" stroke-width="0.9"/><text x="300.8" y="116.2" font-family="Liberation Sans" font-size="11" text-anchor="end" font-weight="normal" fill="#2a2a2a" stroke="#2a2a2a" stroke-width="0.25">2</text><line x1="302.5" y1="68.5" x2="304.3" y2="68.5" stroke="#444" stroke-width="0.9"/><text x="300.8" y="72.4" font-family="Liberation Sans" font-size="11" text-anchor="end" font-weight="normal" fill="#2a2a2a" stroke="#2a2a2a" stroke-width="0.25">4</text><line x1="302.5" y1="24.7" x2="304.3" y2="24.7" stroke="#444" stroke-width="0.9"/><text x="300.8" y="28.6" font-family="Liberation Sans" font-size="11" text-anchor="end" font-weight="normal" fill="#2a2a2a" stroke="#2a2a2a" stroke-width="0.25">6</text><text x="387" y="190.5" font-family="Liberation Sans" font-size="11" text-anchor="middle" font-weight="normal" fill="#000" stroke="#000" stroke-width="0.25">logFC</text><text x="290.6" y="89" font-family="Liberation Sans" font-size="11" text-anchor="middle" font-weight="normal" fill="#000" transform="rotate(-90 290.6 89)" stroke="#000" stroke-width="0.25">−log10(P.Value)</text><text x="475.9" y="67.8" font-family="Liberation Sans" font-size="11" text-anchor="start" font-weight="normal" fill="#000" stroke="#000" stroke-width="0.25">Sig</text><circle cx="469" cy="80.2" r="4.7" fill="#22e622" stroke="none" stroke-width="0"/><text x="475.9" y="84" font-family="Liberation Sans" font-size="11" text-anchor="start" font-weight="normal" fill="#000" stroke="#000" stroke-width="0.25">Down</text><circle cx="469" cy="97.8" r="4.6" fill="#000" stroke="none" stroke-width="0"/><text x="475.9" y="102" font-family="Liberation Sans" font-size="11" text-anchor="start" font-weight="normal" fill="#000" stroke="#000" stroke-width="0.25">Not</text><circle cx="469" cy="117.1" r="4.7" fill="#ff1010" stroke="none" stroke-width="0"/><text x="475.9" y="121" font-family="Liberation Sans" font-size="11" text-anchor="start" font-weight="normal" fill="#000" stroke="#000" stroke-width="0.25">Up</text><text x="265" y="19.2" font-family="Liberation Sans" font-size="17.5" text-anchor="start" font-weight="bold" fill="#000">B</text><defs><clipPath id="cp585"><circle cx="585" cy="97" r="47.6"/></clipPath></defs><circle cx="585" cy="97" r="47.6" fill="#b2dfc8" stroke="none" stroke-width="0"/><circle cx="632.5" cy="97" r="47.6" fill="#f5bed3" stroke="none" stroke-width="0"/><circle cx="632.5" cy="97" r="47.6" fill="#c0a6ae" clip-path="url(#cp585)"/><circle cx="585" cy="97" r="47.6" fill="none" stroke="#1f8a4c" stroke-width="1.6"/><circle cx="632.5" cy="97" r="47.6" fill="none" stroke="#d94a7e" stroke-width="1.6"/><text x="573.1" y="45.5" font-family="Liberation Sans" font-size="12.6" text-anchor="middle" font-weight="normal" fill="#1a1a1a" stroke="#1a1a1a" stroke-width="0.25">GSE137268</text><text x="651.5" y="45.5" font-family="Liberation Sans" font-size="12.6" text-anchor="middle" font-weight="normal" fill="#1a1a1a" stroke="#1a1a1a" stroke-width="0.25">GSE64913</text><text x="566.2" y="99.5" font-family="Liberation Sans" font-size="12.6" text-anchor="middle" font-weight="normal" fill="#1a1a1a" stroke="#1a1a1a" stroke-width="0.25">675</text><text x="608.4" y="99" font-family="Liberation Sans" font-size="12.6" text-anchor="middle" font-weight="normal" fill="#1a1a1a" stroke="#1a1a1a" stroke-width="0.25">45</text><text x="653.8" y="99.5" font-family="Liberation Sans" font-size="12.6" text-anchor="middle" font-weight="normal" fill="#1a1a1a" stroke="#1a1a1a" stroke-width="0.25">990</text><text x="516.4" y="19.2" font-family="Liberation Sans" font-size="17.5" text-anchor="start" font-weight="bold" fill="#000">C</text><defs><clipPath id="cp85"><circle cx="85.3" cy="765.9" r="47.2"/></clipPath></defs><circle cx="85.3" cy="765.9" r="47.2" fill="#b0b0f6" stroke="none" stroke-width="0"/><circle cx="132.5" cy="765.9" r="47.2" fill="#f7b0b2" stroke="none" stroke-width="0"/><circle cx="132.5" cy="765.9" r="47.2" fill="#c07aab" clip-path="url(#cp85)"/><circle cx="85.3" cy="765.9" r="47.2" fill="none" stroke="#1818e0" stroke-width="1.6"/><circle cx="132.5" cy="765.9" r="47.2" fill="none" stroke="#e01818" stroke-width="1.6"/><text x="79.5" y="713.6" font-family="Liberation Sans" font-size="12.4" text-anchor="middle" font-weight="normal" fill="#1a1a1a" stroke="#1a1a1a" stroke-width="0.55">Disease</text><text x="145" y="713.6" font-family="Liberation Sans" font-size="12.4" text-anchor="middle" font-weight="normal" fill="#1a1a1a" stroke="#1a1a1a" stroke-width="0.55">WGCNA</text><text x="63.5" y="769.2" font-family="Liberation Sans" font-size="13" text-anchor="middle" font-weight="normal" fill="#1a1a1a" stroke="#1a1a1a" stroke-width="0.55">1425</text><text x="108.2" y="768.3" font-family="Liberation Sans" font-size="13" text-anchor="middle" font-weight="normal" fill="#1a1a1a" stroke="#1a1a1a" stroke-width="0.55">285</text><text x="153" y="769.2" font-family="Liberation Sans" font-size="13" text-anchor="middle" font-weight="normal" fill="#1a1a1a" stroke="#1a1a1a" stroke-width="0.55">2082</text><text x="7" y="716.9" font-family="Liberation Sans" font-size="17.5" text-anchor="start" font-weight="bold" fill="#000">G</text><text x="7.3" y="471.4" font-family="Liberation Sans" font-size="17.5" text-anchor="start" font-weight="bold" fill="#000">F</text><text x="134.5" y="467.6" font-family="Liberation Sans" font-size="9" text-anchor="middle" font-weight="bold" fill="#000">Module membership vs. gene significance</text><text x="134.5" y="479.2" font-family="Liberation Sans" font-size="9" text-anchor="middle" font-weight="bold" fill="#000">cor=0.68, p&lt;1e−200</text><defs><marker id="rk1" markerUnits="userSpaceOnUse" markerWidth="8" markerHeight="8" refX="4" refY="4" overflow="visible"><circle cx="4" cy="4" r="1.25" fill="none" stroke="#1a6a1a" stroke-width="0.5"/></marker></defs><path d="M154.5 548M135.4 616.2M203.8 529.2M137.4 587.7M146.3 571.7M182.8 562.1M121.1 592.8M128.9 556.4M148.2 568.3M135.4 604.9M114 592.6M138.5 564M134.7 613.8M158.6 573.9M102.3 614.1M126.2 570.4M172.1 559.9M189.6 544.3M106.2 591.1M159.6 548.4M119.3 598.9M122.4 545.2M122 577.5M133.1 561.4M168.3 559.8M161.3 567.1M145.1 596.1M134.6 625.9M143.7 547.1M141 576.2M163.3 580.9M127.9 590.5M143.4 556.7M141.1 572.3M142.3 550.1M149.8 600.9M148.5 570M176.7 554.2M141.4 545.2M182.3 534.1M136 564.2M131.8 554.2M146.1 557.7M152.4 598.9M150.3 538.2M175.6 536M171.8 555M155.9 554.9M135.3 543.9M141.1 557.5M178.6 549.1M149.1 556.4M111.1 613.1M126.5 575M129.3 583.7M172.2 543.7M140.9 613.3M199.6 563.5M159.9 503.6M146.7 575.8M132.8 583.5M167.7 544M137.6 582.4M123.2 580.3M157.7 599.9M143.9 572.7M173.1 551.8M141.8 612.5M163.2 540.1M97.1 624.7M181.7 561.3M188.7 531.5M133 588.4M114.7 621.8M109 606.7M165.2 564.3M138.6 584.5M128.8 559M137.6 569.1M195.4 552M152.2 512.2M162.1 561M162.9 591.3M168.8 566.1M169.9 580.7M126 604.7M138.3 578.4M124.7 608.7M126 563.4M171.9 547.7M131.2 592.2M141.6 583.3M126.4 587.6M128.9 584.9M163.1 575.7M132.6 565.9M131.7 619.2M155.8 560.4M156 557.2M163.2 553M147.8 549.9M100.1 622.3M159.2 547.3M155.9 605.7M168.8 575.5M122.6 616.1M206.1 514M113.1 617.7M161.6 542.1M144.7 572.8M131.5 595.2M163.8 588.4M136.6 585.7M85.7 567.4M114.7 619.5M154.9 578.6M199.1 524.2M106.9 593.7M143.2 568.3M179.5 558.7M158.6 565.3M134.3 605.5M108.4 580.1M99.5 621.6M125.1 601.3M134.5 565.8M87.9 621.4M101.6 585.5M151.1 581.2M133.5 598.8M124.9 596.6M133.5 591.2M123.5 599.5M166.6 551.3M184.2 540.3M195 539.8M161.2 549.1M162.1 552.3M179.9 530.3M186.7 548.1M179.9 555.7M173.6 553.2M127.9 547.8M104 571.2M165.3 553M141.3 592.7M142.2 560.3M121.6 559.6M111.4 558.6M178.3 534.1M155.1 589.7M117.2 614.9M153.3 579M151.2 543.8M156.5 573.8M198.9 521.9M142.7 605.6M111.9 579.6M144.5 562.6M127.6 600.6M157.2 568.9M148.8 580.1M152.2 563M129.5 592.8M153.9 583.8M131 588.8M156.4 578.9M136.1 572M115.9 602.4M156 582.1M126.1 603.6M179.4 558.8M154.6 568.1M155.2 569.1M146.1 594.8M142.1 585.3M84.5 619.2M173.9 536.8M123.4 562.9M167.3 554M127.8 558.8M140.1 542.3M138 566.6M117.9 552.1M139.3 608M155.4 559.3M133.3 586.1M112.3 605.3M129.4 602.6M149.8 588.4M172 548.2M164.3 575.3M150.7 569.6M118.9 610.5M166.1 509.5M144.2 569.5M137.7 599.1M166.2 592.4M158.9 615.8M156 585.6M115.1 578.8M128.5 599.1M101.4 616.8M148.4 550.4M144.3 580.7M166.7 554.6M148.9 576M134.5 569M195.9 536.6M118.1 609.5M110.5 610.1M128.5 563.4M156.6 550.7M134.9 567.6M132.7 546.8M115.8 606.5M180.1 529.4M128.2 623M116.8 587.5M140.6 586.8M123.6 589.4M137.8 589.1M176.7 511.3M132.5 580.7M142.4 551.5M134.5 590.7M138.8 571.9M163.9 563.9M156.8 579.4M135.1 583.3M120.5 577.1M140.3 542.7M164.2 555.4M143.2 599M140.4 550.4M98.8 614.2M168.2 540.3M106.6 622M111.8 593.7M134.3 570.9M144.5 570.7M144.7 551.1M124.7 604.1M135.8 551.3M128.6 611M98.8 571.3M137.3 552.7M126.4 572M154 596.6M140 562.4M167.5 567M160.9 571.4M165.9 554.9M173.5 514.8M160.8 566.3M139.5 609.4M177.1 571.4M120.6 579.7M142.7 588.6M164.9 565.8M136.5 541.6M161.3 564.2M123.7 593.7M130.2 610.9M157.1 593.1M161.2 583.5M173.3 548.5M141.9 540.6M151 584M159.1 560.2M155.2 554M111.3 626.6M129.5 591.3M179.4 568.8M112.8 594.4M159.2 580.2M133.1 597.6M168.5 599M124.3 590.5M144.8 570.1M93.4 596.8M142.6 578.7M170.2 521.3M106.4 628.8M173 565.7M125.9 617.2M142.3 562M170.3 549.5M121.9 564.9M130.3 561.6M111.9 621.9M119 604.9M171.9 560.2M131 595.3M165.8 589.3M139.2 604.6M152.2 523.3M131.1 547.6M154.2 568.3M207.7 525.3M159.8 616.3M156.1 597.9M131.8 614.1M168.7 566.3M177.3 546.3M101.4 579.3M109.4 619.6M195.7 543.1M154.2 598.7M146.8 580.6M157.6 599.4M170.8 534.2M163.4 553.4M138.1 583M194.7 550.6M143.9 571.4M121.9 592.9M129.8 606.7M140.3 593.7M134.2 568.3M138.9 590.6M151.4 603.7M124.3 552.3M167.1 550.9M157.6 585.9M126.7 598.1M128.1 572.6M171.9 539.6M137.5 572.4M130.5 580M189.6 528.5M134.4 571.6M160.6 581.6M142.5 621.5M144.9 572.5M120.1 582.3M123.1 560.2M174.8 566.3M115.4 605.8M150.5 597.4M114 617M137.6 558.3M142.7 520.8M103.2 600M171.7 541.3M139 554M173.7 566.9M120.4 582.8M166.2 527.9M201.4 561.8M149 544.9M127.6 550.9M155.5 534.6M147.1 547.7M138.4 590.1M140.6 556.9M129.3 630.1M154.1 591M134 570.8M122.4 585.4M163.8 553.5M139.5 574.2M209.2 518.6M137.4 602.5M125.8 556.5M130 583.3M152.8 577.4M126.3 582.3M112.3 603.8M184.2 536M112.9 615.4M181.1 564.8M147.1 611.7M117.3 619.5M184.9 557.7M138.6 592.5M118.6 553M145.2 565.9M175.5 556.6M160.5 544M164.1 530.9M187.1 530.2M148.9 593.5M152.9 581.4M138 560.5M107.6 627.8M140 595.3M183.7 576.7M100.7 618.4M176.9 575.3M150.1 582.1M121 583.7M145.2 608.4M129.4 574.8M163.2 568.4M171.6 528.3M121.4 580M159.3 555.7M156.9 560.9M131.9 581.9M160.6 569.4M134.6 581.5M129.3 573.2M113 591.7M153.2 552.4M133 581.4M129.7 568.7M115.1 577.2M109.8 605.3M124 603.7M161.7 534.4M123.4 593.4M179.4 538M153.7 568.4M147.5 593M113.8 618.4M192 537.5M107.9 613.4M156.8 577.6M185.6 550.7M138.7 541.1M126.7 567.4M143.1 554.1M166.3 553M177.3 587.2M158.6 546.8M117.1 543.1M126.9 572.4M148.6 542.4M112 623.6M137.6 570.6M199.1 524.7M117.4 571.4M172.4 555.5M120.5 578.6M135.2 610.6M141.9 591M106.3 608.7M141 567.3M175.7 538.9M161.4 589.3M160.9 552.5M123.7 548.9M140 572M148.6 537.7M160.4 534.5M176.9 524.6M118.8 584.4M185.7 564.9M136.5 589.5M137.4 557.6M113.7 562.8M141.9 574.6M137.9 550M113 624.1M136.4 584.9M146.6 558.1M133.4 570.7M162.9 566M118.2 609.4M165.7 568.8M139 576.1M152.8 544.1M97.9 614.7M146.8 588.2M142.1 568.5M166.8 513.4M114.4 604.2M177.4 575.4M116.8 589.7M176.2 537.9M157.9 563.5M124.9 570.5M197.4 526.7M114 588.8M139.3 543.9M148.7 535.8M156.5 535.7M149.2 550.7M163.4 557.8M155 557.9M144.4 566.5M120.6 596M135 567.7M166 567.6M114.7 577.2M146.4 567.6M92.8 605.8M126.4 587.1M103.4 625.6M174.4 553.6M98.4 628.8M137.7 563.5M161.7 558.2M158.7 549.3M162.8 537.1M169.9 513.4M155.3 589.4M164.3 554.1M142.3 572.6M143 560.8M100 573.9M147.8 571.7M175 514.5M125.1 564.5M114.6 628.2M145.9 603.7M171.7 560.7M173.5 546.3M106.4 584.2M154.8 536.4M127.3 553.7M150.5 542.8M87.7 621.9M166.4 539.5M133.8 576.9M148.7 568M139.1 565M118 604.3M156.6 546.3M131.7 580.2M126.5 605.7M159.9 560.1M141.5 586.7M126.3 587.6M166.9 522.3M129 572.9M142.8 545.2M161.8 546.9M167 594.2M173.3 512.6M184.7 540.3M144.7 578.2M123.8 610.6M184.4 535.3M178.1 587.1M136.2 551.7M161 575.9M134.2 574.7M105 607M169.3 565.6M152.2 568.2M146.6 533.2M185.5 560.4M179.1 554.1M127.7 555M116.1 613.4M96.6 619.1M143.8 589.9M134 599M152.6 550.5M143.9 556.4M127.3 586.1M133.6 584.3M105 629.2M174 585.5M130.4 601.5M158.8 558.9M127.3 560.3M145.4 550.6M159.2 605.7M136.8 580.3M123.4 576.2M201.2 551.9M138.7 563.6M157.7 599.5M141.6 590.3M124.4 606.4M176.2 538.9M153.3 551.8M152 594.7M87.2 607.8M150.7 553.2M164.4 558.1M150.6 577.8M139.9 607.7M173.2 557.7M149.7 580.3M158 529.5M169.3 564.4M168.4 560.3M111 618.1M151.9 549.7M124.7 606.4M93.8 574.1M150.7 576.1M100.5 583.3M132 556.3M81.4 595.5M118.3 597.3M132 572.5M143.4 569.5M130.2 598.1M120.7 623.3M121.3 617.6M181.6 562.1M131.9 571.8M141.2 591.7M190.3 534.4M100.4 598.8M92.3 621M118.3 583.3M133.8 582.9M115.2 602.8M142.5 574.8M141.4 574.3M105.2 628.9M147.6 547.8M108 620.2M160.9 553.2M149 552.7M197.8 503.7M163.9 543.9M138.4 549.3M152 551M147.1 592.7M125.1 533.7M107.4 583.9M170.7 595.7M181.1 556.2M131.9 557.6M137 592.1M131.4 580M168.5 588.1M173.4 544.4M121.8 551.5M135 535.9M130.2 527.4M148.8 568.5M162.5 544.7M170 577.6M136.6 574.3M119.1 570.4M156.8 568.2M158.2 562.9M134.8 606.2M147.7 558.2M152.4 553.5M165.3 587.9M145.3 549.4M155.6 561.9M148 582.3M119.6 560M161 555.1M146 525M169.7 568.3M114.2 598.5M126.2 587M151.7 616.9M101.1 578.3M140.3 578.7M132.5 591.3M133.3 572.8M137.3 572.5M88.4 617.3M144.6 593.7M145.4 562.7M169.6 551.8M179.4 537.4M152.4 568.1M166.5 601.7M84.3 622.3M157.2 584.2M171 600M165.2 573.6M149.5 551.1M134.8 613.4M134.6 605.7M144.2 566.3M154.2 619.3M157.8 552.8M141.3 565.8M112.5 625.7M188.8 529.8M122.2 600.5M178.9 494.8M168.7 577.7M148.3 598.6M167.7 548.4M154.6 541.8M123 601.3M146.5 567.2M113 565.8M127.5 576.9M122.1 568.9M147.5 603.8M169.9 560.8M127.6 567.4M155 588.3M90.8 622.5M117 601.5M156.9 517.4M167.3 557.2M167 558.4M170.1 538.7M103 627.3M130.7 608.5M139.7 540.8M149.4 557.3M135.2 567.8M120.6 580.2M154.2 568.1M156.8 574.1M146.9 552.4M128.6 575M144.7 571.3M145.7 579M150.2 571.1M159 538.1M142.9 569.8M107.8 612M136.8 544.2M152.8 602M132.7 557.1M149 595.5M126.6 556.2M176.9 523.3M153.6 579.3M147.1 560M162.4 534.6M162.5 587M145.8 607.5M168.4 527.4M159.8 580.5M148.9 576.7M143.7 550.1M116.1 618.9M148.4 570.1M148 550.7M122.9 611.2M177.3 544.4M143.5 569M117 593.7M133.2 592M142.6 570.8M142.7 579.2M124.3 570.4M144.5 589.2M107.5 569.7M133 585.9M154.4 531.4M126.9 551.7M159.6 572.8M163.4 540M128.9 574.8M84.1 610.2M165.4 539.3M177 544.6M104.2 625.8M148.8 582M151.7 564.9M103.6 576.2M130.3 601.2M174.7 531.7M149.3 538.6M144.3 600.4M172.6 576M129.4 562.3M99.4 600.1M177.5 592M124.7 549.4M144 563.6M173 589.4M151.2 586.2M148.5 569.3M129.3 588.5M158.8 550.1M198.9 536.9M130.2 586.4M116.9 603.6M152.1 575.9M126.5 580.8M147.7 585.2M145.2 555.3M156.9 562.8M149.6 613M152.5 556.4M176.2 534.8M120.7 538.9M146 562M152.8 576.5M114.6 624.9M121.4 598.1M136.6 566.8M131.5 561.6M172.5 572.6M148.1 597.7M217.5 508.1M135.6 610.3M137.1 606M200.8 523.2M131 577.8M199.3 530.8M128.5 627.3M179.7 553.5M184.4 552.7M156.3 557.8M128.9 607.6M141.6 578.2M164.4 563.6M152.9 617.2M168.7 605.9M127.2 571M165.8 547.1M177 535.1M163.2 564.9M162.8 545.6M124.4 596.8M112.1 597M88.5 628.1M156.8 605.5M195.5 567.3M142.9 574.1M83.7 594.6M150.1 577.7M140.2 571.8M136.1 592M189 576.2M176.1 555.3M182.5 542.4M125.8 591.4M154.5 575.5M118.2 586.4M173.9 548.2M117.8 580.9M176.8 542.7M151.8 565.4M151.3 568.1M109.8 606.6M163.1 584.4M100.3 588.5M114.6 605.5M122.2 570.6M196.8 529M148.1 568.5M128.5 603.3M158.4 599.5M204.4 493M141.5 601.1M119.1 597.8M117.7 597.6M144 582.5M187 555.2M141.8 595.1M139.3 567.4M120.7 585.4M116.9 594.8M171.1 551.2M153.8 580M155.5 558.7M111 610.3M159.1 535.9M153.2 538.5M182.8 536.3M171.5 573.2M139.2 597.8M153.3 561.3M153 535.8M142.6 585.3M123.3 584.5M167.3 531.1M201.1 553.2M142.6 552.9M185.8 510.2M136.9 580.1M136.4 597.7M144.2 597.4M137.5 563.9M169.1 560.8M173.8 523.6M81.1 592.8M165.2 540.7M154.7 558.1M188.3 535.8M122.7 576.9M148.1 529.1M175.2 570.1M167.2 530.9M183 551.6M125.5 571.7M128.2 613.3M159.6 533M110.8 613.9M156 569.4M168.2 585.1M153.5 569.5M111.4 612.2M130.5 582.4M136.9 544.4M155.2 558.9M150.9 604.6M133.9 625.8M102.8 606.2M99.2 626.7M119.3 575.4M118.6 598.3M128.5 576M117.3 560.8M140.2 554.9M128.8 587.2M148.7 584.5M143.7 542.1M158.5 557.9M119.8 576.9M121.6 585.5M116.1 566.4M145.9 568.2M161.8 564.3M172.3 526.7M147.8 567.4M140.2 553.1M162.1 535.4M142.5 582M118.9 565.8M162.1 541M133.2 549.3M107 599M139 566.5M123.1 579.3M142.6 546.4M125.8 614.8M135.6 588.7M128.5 580.7M140.6 564.8M157.8 542.1M149.6 549.3M143.6 601.3M168.9 556.2M109.9 562.8M147.7 612.7M172.6 533.9M157.5 576.3M171.5 556.6M120.6 578.4M172 519.7M126.2 575.5M171.6 514.9M149.9 548.5M164.9 548M124.3 553.3M138.3 541.3M98 597.7M152.6 610.4M162.2 532.8M153.1 614.5M172.1 587.5M159.4 579.2M147.7 587.2M158.3 529.7M131.1 552M167.6 535.7M151.6 553.4M153.1 601.6M141.5 604.7M130.6 573.2M121.4 572.6M138.1 577.2M162.7 575.8M101.3 598.9M148.1 565.6M150.9 581.4M142 574.3M155.6 546M142.7 552.6M148.9 618.1M150.4 571.9M122.1 577.6M176.3 528.4M152 591.2M174.3 582.3M151 596.1M173.2 569.7M148.4 591.9M175.6 552.4M180 528.7M145.9 585.1M109.5 619.9M139.7 540.1M160.2 580.8M150.9 583.4M133.5 580.9M129.1 582.2M117.1 580.9M136.1 610.2M162.6 563.4M163.4 575.6M162.8 590.7M142.2 534.3M151.5 567.4M146.4 559.7M157 560.5M153.5 578.4M161.4 566.7M143.1 527M144.2 569.7M180.2 542.7M177.4 537.6M93.9 613.8M154 569.6M153.8 594.5M165.5 526M92.4 614.1M103 594.2M133.5 563.9M146.3 581.2M115.7 613.5M171 551.8M168.4 555.8M159.2 544.2M163.6 589.3M114.8 627.2M139.5 579.7M86 622.5M166.9 557.9M171 581.7M152.7 580.9M118.5 550.4M143.8 573.5M166.4 574.2M112.9 589.3M148.5 560.6M160.5 593.2M124.4 587.9M129.4 568.5M172.2 585.5M161.8 606.2M178 548.7M150 550.3M119.8 544.3M142.3 547.9M128.4 536.4M137.4 589.2M155.5 555.2M180.5 575.2M147.7 570.2M189.6 506.3M112 596.4M139.5 581.4M144.9 552.7M92.5 620.8M104.7 595.9M136.1 563.8M147.1 598.3M154.9 534.1M146.3 543.7M137 569.2M111 589.1M145.5 570.5M183.6 545.4M155.3 562.2M127.6 545M147.8 546.3M154.9 547.1M175.1 577.3M131.2 559.4M156.8 553M158.2 604.1M137.2 618.2M142.2 575.4M134.3 585.7M146.2 590.1M151.1 531.9M115 595.1M141.1 557.1M181.8 568.3M144.4 557.6M99.1 582.5M180.1 565.8M139 544.6M148.8 572.7M157.7 551.1M135 563.7M119.8 613.7M126.9 553.4M151.2 615.5M144.4 555.7M137.7 585.2M196.9 543.9M150.9 595.4M168.3 557.3M148.2 529.1M135.2 573.1M138.7 618.9M148 588.8M188.9 563.9M171.2 592.1M140.1 576.6M131.3 598.5M163.6 562.8M189.5 517.7M131 559.5M184.3 580M153.3 582.9M145.8 562.2M139.5 537.6M129.1 560.2M134.2 557.7M175.9 525.2M111.3 554.9M135 573.7M144.5 557.7M117.6 597.6M133.6 605.2M110.8 611.9M160.6 548.7M161 586.7M111.5 597.4M179.5 569.8M120.4 595.3M98.3 574.6M101.5 611.5M155.8 598M87 586M141.9 573.3M150.1 560.1M168.3 580.8M136 549.4M172.6 579M134.1 603.3M166.5 532.5M120.1 613.5M151.4 590.3M136.3 565.2M148.4 597.6M198.1 521.2M144 537.1M145.3 562.6M147.3 549.6M152.3 570.8M90.1 578.6M162.3 554.7M110.9 624.2M94.7 576.7M146.6 557.2M113.7 565.1M149.7 611.8M171.1 566.7M144.4 547.6M119.2 613.9M146.4 597.7M194.1 556.4M145.5 558.1M187.4 540.5M179.9 545.1M114.7 608.8M166 561.7M111.4 584.9M157.8 568.7M157.8 555.4M139.4 570.5M105 610.6M134.9 594.7M135.7 589.3M155.5 534.6M142.1 556.4M156.4 551.8M136 603.6M104 621M142.8 574.4M178.2 563.3M122.5 621.3M118.3 614.8M96 620.9M189.4 537.9M117.4 588.5M169.8 577.8M147.6 559.4M140.4 615.7M145.5 565.2M189.6 536.8M185.8 545.8M156.4 581.5M133.1 588.9M179.8 547.1M160.9 556.3M146.6 578.9M156.5 576.7M125.1 622.4M162.1 558.2M137.2 552.4M138.1 552M115.3 580.5M146.3 556.7M154.3 554.1M107.5 578.2M151.7 556.7M154.8 580.5M176.1 540.7M171.9 526.7M129.3 614.7M174.1 557.1M156.5 553.5M138.6 565.6M124.9 576.8M166.1 558.5M164.3 566M132.5 558.1M151.9 558.4M133.8 568.9M124.8 606.7M121.3 569.9M159.3 544.8M151.6 593.7M153.1 584.5M149.6 578.7M145.4 579.8M166.6 542.6M103.7 557.2M163.8 535.5M115.8 613.9M138.9 584.3M146.7 586.3M144.3 585M154.9 579.7M122 596.5M184.9 554.6M170.5 554.2M156.6 566M161.4 516.4M134.1 578.5M100.8 576.6M106 546.1M155.4 588.3M181.8 546.2M154.2 545.5M120.5 627.6M130.2 598.2M104.4 600.4M140.7 610.8M152.9 553.2M173.2 501.6M112.2 597.1M169.8 527.6M149 585.9M141.5 561.7M144.3 547.3M152.6 551.3M188.7 529.6M180 551.2M163.8 546.5M125.4 625.4M138 589.2M165.6 548.8M152.8 560.3M124.3 559.6M188.7 550.9M156.8 538.5M135.1 567.6M143.9 588.7M118.9 610.1M114.8 579.7M152.1 596M138.1 579.1M166.5 555.6M215.3 515.8M155.6 569.4M144.2 547M148.3 591.8M155.2 523.5M180.5 513.6M149.1 540M165.8 576.5M119.4 583.7M121.7 566.5M140.2 565.2M167.7 554.5M122.5 594.6M176.8 570.2M122.5 598.4M149.8 543.3M144.3 554.9M184.2 551M122.1 621.2M124.1 604M138.7 589.8M163.4 576M115.3 566.5M126 577.5M114.2 596M187.6 536.9M156 557.3M161.4 548.2M92.6 627.1M151.1 528.7M139.7 612.6M169.3 561.4M105.9 582.9M180.5 567.3M162.9 599M161.6 585.9M117 602.5M195.3 536M153.7 517.1M155.2 546.6M148.3 545.5M140.5 562.7M151.8 578.3M151.9 550M174.7 529.3M161.3 565.1M130.1 566.8M152.6 542.6M171.8 605.5M132.1 600.3M145.7 575M175.5 604.1M158.7 559.9M135.4 551.1M162.5 569.7M171.5 584.9M165 566M152.3 531.5M194.1 545.6M113.8 603.9M156 561M163.4 541.5M125.2 601.9M128.6 587.9M129.8 565.6M150.5 558.4M144.5 542.1M159.9 576.5M177.3 517.4M131.7 534.9M149.1 531.8M156.6 564.6M97.4 585.8M140.5 528.3M103.4 624.8M125.3 589M121.3 600.4M171.2 538.3M129.2 578.1M128 577.8M162.2 549.1M140.2 558.7M110 589.4M170.7 565.4M167.8 530.5M135.5 540.3M102.8 601.9M126.1 590.4M120.4 556.5M182.4 551.8M125.3 561.6M162 567.8M173.6 557.2M150.6 569.2M151.1 570.6M174.6 563.5M162.7 604.1M105.2 566.3M168.6 512.9M88.6 601.7M126.2 614.8M162.6 528.7M97 594.6M168.3 516.3M196.6 535.1M137.3 571.3M97.4 600.9M182.9 566.9M118.5 597.8M110.7 614.2M113.7 600.1M128.1 602.9M124.6 596.4M188.6 516.2M117.8 585.7M99.2 616.8M101.5 589M129.5 557.1M182 556.5M106.2 621.3M135.6 615.8M158.6 552.5M133 574.2M134 625.6M131 558.7M149.3 530.1M122.2 570.7M176.4 504.2M96.6 610.3M164.2 589.4M167.2 544.1M141.9 583M133.3 577.8M171.6 557.5M117.2 615.4M135.4 600.1M119.5 603.2M147.8 568.8M118.7 574M125.3 558.8M157.9 553.6M140.8 568.9M147.5 575.1M181.3 566.5M92.6 612.4M127.5 583M142.2 588.4M176.6 567.1M115.1 583.4M138.8 577.4M155.1 531.4M115.1 602.3M130.8 602M142 587.7M128.8 546.6M156.3 559.4M164.1 581M132.1 569.4M158.7 583.7M153.5 578.5M142.4 579.8M124.2 577.4M182.6 570.7M115.3 570.1M148.7 577.7M163.4 575.6M80 617M126.1 567.8M95.8 564M137.5 607.4M158.1 563.3M125.3 597.7M144.1 555.1M160.3 535.6M124.5 587.2M135.5 550.7M116.8 588.3M155.3 530.1M135.9 591.1M178.8 510.8M173.2 608.5M110 629M147.6 557M148.3 546M147 599.4M152.2 578.1M137.6 571.3M166.8 571M159.4 537.7M153.4 588.7M129.4 555.1M171.6 519.5M108.7 591.6M168.4 575.2M158.4 567.6M122.5 607.6M154.4 586.2M201.6 578.9M144.4 534.6M128.6 596M148.2 582.8M158.1 585.4M187.2 546.1M139 578.9M167.7 613.3M148.8 543.8M174.1 549.6M154.1 564.2M119.1 622.8M162 564.6M171.6 563.4M138.9 544.5M92.2 628.3M121 586M144.5 583.1M160.9 572.2M131 589.8M168.6 589.6M130.9 578M109.9 583M154.5 554.7M126.9 575.3M176.1 556.7M170.6 543M133.7 583.2M128.2 580.9M149 548.4M171.7 542.1M146.9 563.8M140.4 605.4M170.2 605.4M160.1 564.1M127.1 582.1M127.5 584.5M89.5 609.3M137.5 596.6M134.1 617.6M155.1 552.9M126.5 574.6M132.8 568.3M133.6 549.2M130.3 546.2M135.7 564.5M128.6 555.2M172.1 538.7M139.2 593.7M152.6 573.9M151.7 591.6M117.1 605.2M93.4 606.5M114.2 598.1M133.7 578.8M142.4 605.4M108.4 621.7M157.9 560.4M133.8 562.2M162.2 513.3M119.1 627.8M155.4 553.5M153.3 570.9M197.6 526M144.1 549.1M149.5 589.9M184.8 562.8M106 594.4M93.6 598.7M150 550.8M135.2 589M154.4 554.2M102.1 601.6M122.8 552M139.7 546.6M135.8 562.4M132.9 585.2M166.1 605.4M122.1 555.5M128 610.9M127.4 607.2M155.3 553.6M114.3 564.4M113.9 598.5M115.5 602.9M98.7 618.1M133.8 572.6M122.9 582.6M87.7 603.2M125 622.8M139.6 551.5M177.5 569.9M136 589.3M172 545.9M143.4 556.3M171.4 557M108.6 629.5M104.8 585.6M133 580.6M130.8 577.7M139.4 582.1M149.8 560.3M109.9 575.4M144 567.2M125 578.4M187.5 556M134.4 577.4M127.8 603M182.9 586.7M100.1 607M180.6 560.1M148.8 589.8M129.4 610.4M129.9 579.5M140.8 588.3M148 551.2M122.1 626.7M149.5 547.1M158.2 573.2M140.7 569.7M178.2 555.6M117.5 591.7M143.5 551.5M164.8 544.1M152 581.9M177.6 541.2M164.7 569.1M114.2 627.7M176.4 555.6M127.2 572.2M169.4 517.1M142.9 537.3M169.7 571.1M82.9 621.7M160.1 598.5M138.3 588.2M180.2 578.7M181.4 506.3M176.6 549.7M139.2 551.8M144.2 555.1M122.1 581M141.4 555.4M145.8 532.2M156.4 533M177.4 508.3M121.8 597.1M148 571.9M159.1 558.4M139.6 551.5M101.7 620.1M131.9 571.2M128.2 580.7M114.4 598.5M147.7 564.8M133 587.8M136.2 577.3M145.3 576.2M140.2 595.4M155.3 530.5M155.3 591.1M147.7 556.8M152.2 564.6M160.3 534.8M133.7 565M167.9 552.7M174.8 518.5M139.2 577.3M175.8 558.3M156.7 555.4M154.7 559.5M186.8 550.4M110.9 567.9M163.4 503.4M126.5 569.3M147.4 592.4M88.7 626.3M163 566.9M171.5 551.4M116.9 610.9M180.9 532.7M127.3 597.4M137.9 567.3M113.6 595.4M151.5 542.5M130.7 599M135 537.7M141.3 584.1M112.4 588.4M151.5 571.1M131.4 586.1M171.6 570.1M136.5 582.5M150.2 552.2M148.4 583.3M167.6 548.4M173 539.5M139 577.4M113.3 625.3M136.2 601.3M127.4 562.8M152.9 554M129.8 577M145.1 555.4M142 585.9M143.5 545.7M113.4 575.7M163.7 567.2M125.1 580.5M97 612M118.1 592.9M128 558.2M126.6 587.7M146.2 597.6M123.2 552.1M142.4 561.6M159.7 513.6M116.3 592.6M121.9 604M173.8 555.3M150 534.2M160.6 523.4M135.4 550M139 554.3M136.4 561.1M120.1 562.5M166.6 565.5M111.5 586.5M123.5 586.3M111.5 571.4M184.8 504.7M118.2 594.5M168.3 616.4M107.1 607.2M189.8 562.4M201.5 541.3M139.3 552.7M177.6 562.2M109.1 624.6M129.8 563.7M172 537.5M143 529.2M129.1 576.7M142.6 584.3M126.9 554.4M124 600.1M163.7 561.9M94.2 605.1M126.4 609.5M140.8 509.2M163.1 593.1M144.7 604.2M130.2 561M85.8 591.1M211.7 508.5M121.9 583.4M157.6 522M109.9 613.1M163.3 530.8M106.5 569.6M126.5 573.7M143 582.4M110.8 587M160.5 580.6M142.3 561.7M169.5 548.9M163.1 568.9M131.9 582.3M113 605.6M133.3 542.6M168.1 531.3M102.4 619.6M168.3 562.7M103.5 580.5M155.8 562.1M154.1 549M120.3 593.2M106.9 610.7M141.3 555.3M154.6 594M110.7 623.5M152.8 502.8M148.2 574M110.9 569.2M95.9 604.2M141.6 551.7M133.4 579.6M106.1 607.9M120 575.3M194.6 541.3M157.8 556M155 578.8M122.7 568.5M141.9 607.3M169.5 569.5M119.2 612.6M127.2 587.7M132.6 558.8M129.2 567.1M155.8 568.9M123.2 573.3M146.1 580.2M149 588.3M149.1 586.9M147.7 600.6M107.7 614.7M110 577.1M97.8 621.2M146.7 558M156.3 556.2M154.6 547.1M180.6 555M136.6 601.9M169.8 555.3M147.4 589.6M164.4 540.8M125.4 579.9M141 575.3M122.7 589.1M115.7 608.8M89.7 574.7M167.6 582.7M152.1 581.2M214.3 542M145.1 584.4M153.3 550.2M118.3 568.6M171.1 545.5M127.7 598.3M195.9 597.3M204.2 514.3M95.9 608.2M126.4 578.4M111.4 582.6M123.6 563.4M112.6 593.4M153.1 547.1M176.1 573.1M147 553.5M178.7 562.1M156.3 558.2M171.4 552.3M182.3 538.8M123.9 551.8M186.4 529.1M122.8 591.9M120.8 600.6M165.4 583.6M122.1 579.9M118 613.2M164 540.7M137.3 571.2M129.7 592.2M125 573.6M120.6 602.3M149.4 578.2M139.7 572.2M127.8 588.2M196 506.6M159.9 546.4M112.3 609.9M151.3 532.2M126.5 578.4M130.6 565.8M191 533.5M176 520.1M151 552.2M171.3 526M107.5 595M161.6 563.3M163.4 543M125.8 608.9M102 621.8M158.3 566.9M150.7 564M141.4 556M145.2 555.4M146.1 570.5M166.2 523.4M180.3 527.8M132.3 562.4M175.7 506.4M132.2 577.2M125.6 559.7M137 605.6M159.2 589.5M155.7 553.8M142.5 577.4M117.3 587.7M167.2 551.6M135 587M142.1 589.6M122.7 581.7M186.5 561.6M132.5 588.9M109 597.7M162.9 575.9M141.9 587.9M164.1 540.3M163.5 536.4M99.4 598.2M136.4 577.1M200.6 491.9M155.5 582.2M155.6 553M168.3 523.3M174.2 552.2M144.2 525.5M165.4 500.5M162.5 570.5M149.5 563M143.4 568.7M162.6 592.8M152.8 497.5M120.4 563M111.3 621M142.4 628.1M141.4 602.7M178.7 536.4M143 548M142.5 567.1M133.3 579.2M148.4 559.3M153 570.8M170.5 585.6M130.9 619.3M156.2 560M166 572.1M100.7 618.2M150.4 553.6M120.5 598.6M129.6 579.8M136.4 608M135.2 589.2M121.4 567.2M147.2 563.5M156.4 558M135.9 576.4M115.9 585.4M131.7 560.2M183.5 568.3M157.5 558.3M130.1 579.9M116.2 585.5M148.7 534.1M148.1 588M197.3 555.3M104.1 561.9M153.5 585M168 553.5M169.8 570.7M108.2 612.6M154.3 542.2M145.8 574.7M151.6 550.7M153.6 576.6M125.7 544.5M155.5 562.1M121.5 575.7M105.8 614.2M128.3 593.8M148.3 526.6M184 535.7M132.9 583.5M179.4 521.5M121.8 592.4M126.9 566.9M106.5 612.7M140.5 572.2M141.3 564.4M162.3 569.6M132.2 594.9M145.9 534.5M111.3 568.5M135.8 608M183.8 498.7M115.9 593.6M142.1 579.1M163.1 583.9M157.7 548.8M136.4 555.5M128.7 584.5M110.6 582.7M173 584.3M101.2 599.1M132.4 590.8M111.5 602.4M126.3 572.8M108 579.6M137.9 574.9M159.8 534.7M125 576.7M138.7 542.5M143.5 570.2M129.8 552.5M183 568.3M117 576M126.6 590.5M162.9 573M145.3 621.8M137.2 621.6M169.9 530.3M88.1 628.4M149.4 548.7M173.4 526.3M110.7 603.9M212.1 532.2M151.7 572.1M152.6 556.5M156 573.9M145.5 562.3M198.3 554.1M112.3 548.7M120.9 577M157.2 589.7M158.3 554.8M116.8 579.4M170.4 548.3M113.4 627.8M127.1 589.3M130.8 567.4M145.5 537M138.1 562.5M150.2 528M159.2 578.4M161 555.1M118.6 577M128.3 539.3M178.1 563.1M159 578.3M161.1 555.2M114.2 587.8M152.9 583M200.6 535.8M92.5 606.1M150.8 611.4M146.5 585.4M91.1 569.7M174.5 533.8M148.6 588.2M124 564.6M156.8 596.9M137 590.4M167.1 556.6M187 563.7M136.2 567.6M158.7 572.5M187.8 531.1M111 620.3M144.1 586.4M117.2 549.3M162.4 581M115.4 624.2M151.9 562.8M130.9 596.1M150.3 553.9M131.7 569.4M88.6 608.6M100.1 605.4M172.7 547M173.9 575.8M133.9 577.1M149.3 544M114.7 590.7M117.6 581.6M101.6 582.4M133.5 610.4M185.3 537.9M111.8 622.1M164.2 551.3M155 585.4M157.2 561.8M100.4 630.4M113.1 589.9M168.4 529.4M97.4 600.8M138.4 565.5M133.3 591.6M139.3 618.3M163 528M129.2 554.5M167.6 551.1M56.9 619.2M64 618.1M64 625M69.3 614.9M72.8 551.6M76.3 602M81.7 588.1M69.3 575.2M74.6 570.9M117 512M131.2 513M207.3 557M214.4 530.2M209.1 510.9M152.5 491.6M164.8 493.7" fill="none" stroke="none" marker-start="url(#rk1)" marker-mid="url(#rk1)" marker-end="url(#rk1)"/><line x1="196.7" y1="484.6" x2="196.7" y2="635.8" stroke="#ee3030" stroke-width="2"/><line x1="51.3" y1="523.75" x2="220.7" y2="523.75" stroke="#ee3030" stroke-width="2"/><rect x="51.3" y="484.6" width="169.4" height="151.2" fill="none" stroke="#111" stroke-width="1.1"/><line x1="55.1" y1="635.8" x2="55.1" y2="638.8" stroke="#111" stroke-width="0.8"/><text x="55.1" y="650.6" font-family="Liberation Sans" font-size="9" text-anchor="middle" font-weight="normal" fill="#000" stroke="#000" stroke-width="0.25">0.0</text><line x1="90.5" y1="635.8" x2="90.5" y2="638.8" stroke="#111" stroke-width="0.8"/><text x="90.5" y="650.6" font-family="Liberation Sans" font-size="9" text-anchor="middle" font-weight="normal" fill="#000" stroke="#000" stroke-width="0.25">0.2</text><line x1="125.9" y1="635.8" x2="125.9" y2="638.8" stroke="#111" stroke-width="0.8"/><text x="125.9" y="650.6" font-family="Liberation Sans" font-size="9" text-anchor="middle" font-weight="normal" fill="#000" stroke="#000" stroke-width="0.25">0.4</text><line x1="161.3" y1="635.8" x2="161.3" y2="638.8" stroke="#111" stroke-width="0.8"/><text x="161.3" y="650.6" font-family="Liberation Sans" font-size="9" text-anchor="middle" font-weight="normal" fill="#000" stroke="#000" stroke-width="0.25">0.6</text><line x1="196.7" y1="635.8" x2="196.7" y2="638.8" stroke="#111" stroke-width="0.8"/><text x="196.7" y="650.6" font-family="Liberation Sans" font-size="9" text-anchor="middle" font-weight="normal" fill="#000" stroke="#000" stroke-width="0.25">0.8</text><line x1="48.3" y1="631" x2="51.3" y2="631" stroke="#111" stroke-width="0.8"/><text x="43.6" y="631" font-family="Liberation Sans" font-size="9" text-anchor="middle" font-weight="normal" fill="#000" transform="rotate(-90 43.6 631)" stroke="#000" stroke-width="0.25">0.0</text><line x1="48.3" y1="609.55" x2="51.3" y2="609.55" stroke="#111" stroke-width="0.8"/><text x="43.6" y="609.55" font-family="Liberation Sans" font-size="9" text-anchor="middle" font-weight="normal" fill="#000" transform="rotate(-90 43.6 609.55)" stroke="#000" stroke-width="0.25">0.1</text><line x1="48.3" y1="588.1" x2="51.3" y2="588.1" stroke="#111" stroke-width="0.8"/><text x="43.6" y="588.1" font-family="Liberation Sans" font-size="9" text-anchor="middle" font-weight="normal" fill="#000" transform="rotate(-90 43.6 588.1)" stroke="#000" stroke-width="0.25">0.2</text><line x1="48.3" y1="566.65" x2="51.3" y2="566.65" stroke="#111" stroke-width="0.8"/><text x="43.6" y="566.65" font-family="Liberation Sans" font-size="9" text-anchor="middle" font-weight="normal" fill="#000" transform="rotate(-90 43.6 566.65)" stroke="#000" stroke-width="0.25">0.3</text><line x1="48.3" y1="545.2" x2="51.3" y2="545.2" stroke="#111" stroke-width="0.8"/><text x="43.6" y="545.2" font-family="Liberation Sans" font-size="9" text-anchor="middle" font-weight="normal" fill="#000" transform="rotate(-90 43.6 545.2)" stroke="#000" stroke-width="0.25">0.4</text><line x1="48.3" y1="523.75" x2="51.3" y2="523.75" stroke="#111" stroke-width="0.8"/><text x="43.6" y="523.75" font-family="Liberation Sans" font-size="9" text-anchor="middle" font-weight="normal" fill="#000" transform="rotate(-90 43.6 523.75)" stroke="#000" stroke-width="0.25">0.5</text><line x1="48.3" y1="502.3" x2="51.3" y2="502.3" stroke="#111" stroke-width="0.8"/><text x="43.6" y="502.3" font-family="Liberation Sans" font-size="9" text-anchor="middle" font-weight="normal" fill="#000" transform="rotate(-90 43.6 502.3)" stroke="#000" stroke-width="0.25">0.6</text><text x="136" y="662.2" font-family="Liberation Sans" font-size="9" text-anchor="middle" font-weight="normal" fill="#000" stroke="#000" stroke-width="0.25">Module Membership in darkgreen module</text><text x="31.5" y="565" font-family="Liberation Sans" font-size="9" text-anchor="middle" font-weight="normal" fill="#000" transform="rotate(-90 31.5 565)" stroke="#000" stroke-width="0.25">Gene significance for  Treat</text><text x="258.5" y="472.3" font-family="Liberation Sans" font-size="17.5" text-anchor="start" font-weight="bold" fill="#000">H</text><rect x="489.2" y="468.6" width="104.8" height="87.5" fill="#fff" stroke="none" stroke-width="1"/><line x1="500.5" y1="468.6" x2="500.5" y2="556.1" stroke="#9a9a9a" stroke-width="1.3"/><line x1="518.4" y1="468.6" x2="518.4" y2="556.1" stroke="#5a5a5a" stroke-width="0.9"/><line x1="536.6" y1="468.6" x2="536.6" y2="556.1" stroke="#5a5a5a" stroke-width="0.9"/><line x1="554.6" y1="468.6" x2="554.6" y2="556.1" stroke="#5a5a5a" stroke-width="0.9"/><line x1="572.6" y1="468.6" x2="572.6" y2="556.1" stroke="#5a5a5a" stroke-width="0.9"/><line x1="590.4" y1="468.6" x2="590.4" y2="556.1" stroke="#5a5a5a" stroke-width="0.9"/><line x1="489.2" y1="478.8" x2="594" y2="478.8" stroke="#5a5a5a" stroke-width="0.9"/><line x1="487.6" y1="478.8" x2="489.2" y2="478.8" stroke="#333" stroke-width="0.9"/><line x1="489.2" y1="495.65" x2="594" y2="495.65" stroke="#5a5a5a" stroke-width="0.9"/><line x1="487.6" y1="495.65" x2="489.2" y2="495.65" stroke="#333" stroke-width="0.9"/><line x1="489.2" y1="512.5" x2="594" y2="512.5" stroke="#5a5a5a" stroke-width="0.9"/><line x1="487.6" y1="512.5" x2="489.2" y2="512.5" stroke="#333" stroke-width="0.9"/><line x1="489.2" y1="529.35" x2="594" y2="529.35" stroke="#5a5a5a" stroke-width="0.9"/><line x1="487.6" y1="529.35" x2="489.2" y2="529.35" stroke="#333" stroke-width="0.9"/><line x1="489.2" y1="546.2" x2="594" y2="546.2" stroke="#5a5a5a" stroke-width="0.9"/><line x1="487.6" y1="546.2" x2="489.2" y2="546.2" stroke="#333" stroke-width="0.9"/><rect x="489.2" y="468.6" width="104.8" height="87.5" fill="none" stroke="#444" stroke-width="1"/><rect x="594" y="468.6" width="20.9" height="87.5" fill="#d9d9d9" stroke="#bdbdbd" stroke-width="0.8"/><text x="603.65" y="516.35" font-family="Liberation Serif" font-size="10.5" text-anchor="middle" font-weight="normal" fill="#1a1a1a" stroke="#1a1a1a" stroke-width="0.25">BP</text><text x="482.5" y="482.6" font-family="Liberation Sans" font-size="10.65" text-anchor="end" font-weight="normal" fill="#1a1a1a" stroke="#1a1a1a" stroke-width="0.25">regulation of endopeptidase activity</text><text x="482.5" y="499.45" font-family="Liberation Sans" font-size="10.65" text-anchor="end" font-weight="normal" fill="#1a1a1a" stroke="#1a1a1a" stroke-width="0.25">negative regulation of proteolysis</text><text x="482.5" y="516.3" font-family="Liberation Sans" font-size="10.65" text-anchor="end" font-weight="normal" fill="#1a1a1a" stroke="#1a1a1a" stroke-width="0.25">negative regulation of hydrolase activity</text><text x="482.5" y="533.15" font-family="Liberation Sans" font-size="10.65" text-anchor="end" font-weight="normal" fill="#1a1a1a" stroke="#1a1a1a" stroke-width="0.25">negative regulation of endopeptidase activity</text><text x="482.5" y="550" font-family="Liberation Sans" font-size="10.65" text-anchor="end" font-weight="normal" fill="#1a1a1a" stroke="#1a1a1a" stroke-width="0.25">negative regulation of peptidase activity</text><circle cx="589.3" cy="478.8" r="2.7" fill="#f40032" stroke="#3a0010" stroke-width="0.45"/><circle cx="575" cy="495.65" r="2.4" fill="#e50041" stroke="#3a0010" stroke-width="0.45"/><circle cx="575" cy="512.5" r="2.4" fill="#e50041" stroke="#3a0010" stroke-width="0.45"/><circle cx="567.9" cy="529.35" r="2.3" fill="#f40032" stroke="#3a0010" stroke-width="0.45"/><circle cx="567.9" cy="546.2" r="2.3" fill="#f40032" stroke="#3a0010" stroke-width="0.45"/><rect x="489.2" y="558.6" width="104.8" height="87.5" fill="#fff" stroke="none" stroke-width="1"/><line x1="500.5" y1="558.6" x2="500.5" y2="646.1" stroke="#9a9a9a" stroke-width="1.3"/><line x1="518.4" y1="558.6" x2="518.4" y2="646.1" stroke="#5a5a5a" stroke-width="0.9"/><line x1="536.6" y1="558.6" x2="536.6" y2="646.1" stroke="#5a5a5a" stroke-width="0.9"/><line x1="554.6" y1="558.6" x2="554.6" y2="646.1" stroke="#5a5a5a" stroke-width="0.9"/><line x1="572.6" y1="558.6" x2="572.6" y2="646.1" stroke="#5a5a5a" stroke-width="0.9"/><line x1="590.4" y1="558.6" x2="590.4" y2="646.1" stroke="#5a5a5a" stroke-width="0.9"/><line x1="489.2" y1="568.8" x2="594" y2="568.8" stroke="#5a5a5a" stroke-width="0.9"/><line x1="487.6" y1="568.8" x2="489.2" y2="568.8" stroke="#333" stroke-width="0.9"/><line x1="489.2" y1="585.65" x2="594" y2="585.65" stroke="#5a5a5a" stroke-width="0.9"/><line x1="487.6" y1="585.65" x2="489.2" y2="585.65" stroke="#333" stroke-width="0.9"/><line x1="489.2" y1="602.5" x2="594" y2="602.5" stroke="#5a5a5a" stroke-width="0.9"/><line x1="487.6" y1="602.5" x2="489.2" y2="602.5" stroke="#333" stroke-width="0.9"/><line x1="489.2" y1="619.35" x2="594" y2="619.35" stroke="#5a5a5a" stroke-width="0.9"/><line x1="487.6" y1="619.35" x2="489.2" y2="619.35" stroke="#333" stroke-width="0.9"/><line x1="489.2" y1="636.2" x2="594" y2="636.2" stroke="#5a5a5a" stroke-width="0.9"/><line x1="487.6" y1="636.2" x2="489.2" y2="636.2" stroke="#333" stroke-width="0.9"/><rect x="489.2" y="558.6" width="104.8" height="87.5" fill="none" stroke="#444" stroke-width="1"/><rect x="594" y="558.6" width="20.9" height="87.5" fill="#d9d9d9" stroke="#bdbdbd" stroke-width="0.8"/><text x="603.65" y="606.35" font-family="Liberation Serif" font-size="10.5" text-anchor="middle" font-weight="normal" fill="#1a1a1a" stroke="#1a1a1a" stroke-width="0.25">CC</text><text x="482.5" y="572.6" font-family="Liberation Sans" font-size="10.65" text-anchor="end" font-weight="normal" fill="#1a1a1a" stroke="#1a1a1a" stroke-width="0.25">apical part of cell</text><text x="482.5" y="589.45" font-family="Liberation Sans" font-size="10.65" text-anchor="end" font-weight="normal" fill="#1a1a1a" stroke="#1a1a1a" stroke-width="0.25">apical plasma membrane</text><text x="482.5" y="606.3" font-family="Liberation Sans" font-size="10.65" text-anchor="end" font-weight="normal" fill="#1a1a1a" stroke="#1a1a1a" stroke-width="0.25">basal part of cell</text><text x="482.5" y="623.15" font-family="Liberation Sans" font-size="10.65" text-anchor="end" font-weight="normal" fill="#1a1a1a" stroke="#1a1a1a" stroke-width="0.25">primary lysosome</text><text x="482.5" y="640" font-family="Liberation Sans" font-size="10.65" text-anchor="end" font-weight="normal" fill="#1a1a1a" stroke="#1a1a1a" stroke-width="0.25">azurophil granule</text><circle cx="584.8" cy="568.8" r="2.7" fill="#ff0028" stroke="#3a0010" stroke-width="0.45"/><circle cx="565.4" cy="585.65" r="2.5" fill="#ff0028" stroke="#3a0010" stroke-width="0.45"/><circle cx="532.5" cy="602.5" r="2.1" fill="#2800ff" stroke="#3a0010" stroke-width="0.45"/><circle cx="526" cy="619.35" r="1.9" fill="#ff0028" stroke="#3a0010" stroke-width="0.45"/><circle cx="526" cy="636.2" r="1.9" fill="#ff0028" stroke="#3a0010" stroke-width="0.45"/><rect x="489.2" y="648.6" width="104.8" height="87.5" fill="#fff" stroke="none" stroke-width="1"/><line x1="500.5" y1="648.6" x2="500.5" y2="736.1" stroke="#9a9a9a" stroke-width="1.3"/><line x1="518.4" y1="648.6" x2="518.4" y2="736.1" stroke="#5a5a5a" stroke-width="0.9"/><line x1="536.6" y1="648.6" x2="536.6" y2="736.1" stroke="#5a5a5a" stroke-width="0.9"/><line x1="554.6" y1="648.6" x2="554.6" y2="736.1" stroke="#5a5a5a" stroke-width="0.9"/><line x1="572.6" y1="648.6" x2="572.6" y2="736.1" stroke="#5a5a5a" stroke-width="0.9"/><line x1="590.4" y1="648.6" x2="590.4" y2="736.1" stroke="#5a5a5a" stroke-width="0.9"/><line x1="489.2" y1="658.8" x2="594" y2="658.8" stroke="#5a5a5a" stroke-width="0.9"/><line x1="487.6" y1="658.8" x2="489.2" y2="658.8" stroke="#333" stroke-width="0.9"/><line x1="489.2" y1="675.65" x2="594" y2="675.65" stroke="#5a5a5a" stroke-width="0.9"/><line x1="487.6" y1="675.65" x2="489.2" y2="675.65" stroke="#333" stroke-width="0.9"/><line x1="489.2" y1="692.5" x2="594" y2="692.5" stroke="#5a5a5a" stroke-width="0.9"/><line x1="487.6" y1="692.5" x2="489.2" y2="692.5" stroke="#333" stroke-width="0.9"/><line x1="489.2" y1="709.35" x2="594" y2="709.35" stroke="#5a5a5a" stroke-width="0.9"/><line x1="487.6" y1="709.35" x2="489.2" y2="709.35" stroke="#333" stroke-width="0.9"/><line x1="489.2" y1="726.2" x2="594" y2="726.2" stroke="#5a5a5a" stroke-width="0.9"/><line x1="487.6" y1="726.2" x2="489.2" y2="726.2" stroke="#333" stroke-width="0.9"/><rect x="489.2" y="648.6" width="104.8" height="87.5" fill="none" stroke="#444" stroke-width="1"/><rect x="594" y="648.6" width="20.9" height="87.5" fill="#d9d9d9" stroke="#bdbdbd" stroke-width="0.8"/><text x="603.65" y="696.35" font-family="Liberation Serif" font-size="10.5" text-anchor="middle" font-weight="normal" fill="#1a1a1a" stroke="#1a1a1a" stroke-width="0.25">MF</text><text x="482.5" y="662.6" font-family="Liberation Sans" font-size="10.65" text-anchor="end" font-weight="normal" fill="#1a1a1a" stroke="#1a1a1a" stroke-width="0.25">peptidase regulator activity</text><text x="482.5" y="679.45" font-family="Liberation Sans" font-size="10.65" text-anchor="end" font-weight="normal" fill="#1a1a1a" stroke="#1a1a1a" stroke-width="0.25">endopeptidase inhibitor activity</text><text x="482.5" y="696.3" font-family="Liberation Sans" font-size="10.65" text-anchor="end" font-weight="normal" fill="#1a1a1a" stroke="#1a1a1a" stroke-width="0.25">peptidase inhibitor activity</text><text x="482.5" y="713.15" font-family="Liberation Sans" font-size="10.65" text-anchor="end" font-weight="normal" fill="#1a1a1a" stroke="#1a1a1a" stroke-width="0.25">endopeptidase regulator activity</text><text x="482.5" y="730" font-family="Liberation Sans" font-size="10.65" text-anchor="end" font-weight="normal" fill="#1a1a1a" stroke="#1a1a1a" stroke-width="0.25">cysteine−type endopeptidase inhibitor activity</text><circle cx="540.9" cy="658.8" r="2.2" fill="#fa002c" stroke="#3a0010" stroke-width="0.45"/><circle cx="534.2" cy="675.65" r="2" fill="#ff0028" stroke="#3a0010" stroke-width="0.45"/><circle cx="534.2" cy="692.5" r="2" fill="#ff0028" stroke="#3a0010" stroke-width="0.45"/><circle cx="534.2" cy="709.35" r="2" fill="#ff0028" stroke="#3a0010" stroke-width="0.45"/><circle cx="493.9" cy="726.2" r="1.1" fill="#be0068" stroke="#3a0010" stroke-width="0.45"/><text x="520.6" y="748.8" font-family="Liberation Sans" font-size="9.8" text-anchor="middle" font-weight="normal" fill="#222" stroke="#222" stroke-width="0.25">0.04</text><text x="556.6" y="748.8" font-family="Liberation Sans" font-size="9.8" text-anchor="middle" font-weight="normal" fill="#222" stroke="#222" stroke-width="0.25">0.06</text><text x="592.6" y="748.8" font-family="Liberation Sans" font-size="9.8" text-anchor="middle" font-weight="normal" fill="#222" stroke="#222" stroke-width="0.25">0.08</text><line x1="518.4" y1="736.1" x2="518.4" y2="738.6" stroke="#333" stroke-width="0.9"/><line x1="554.6" y1="736.1" x2="554.6" y2="738.6" stroke="#333" stroke-width="0.9"/><line x1="590.4" y1="736.1" x2="590.4" y2="738.6" stroke="#333" stroke-width="0.9"/><text x="562.2" y="763.6" font-family="Liberation Sans" font-size="10" text-anchor="middle" font-weight="normal" fill="#000" stroke="#000" stroke-width="0.25">GeneRatio</text><text x="642.1" y="567.4" font-family="Liberation Sans" font-size="7.2" text-anchor="start" font-weight="normal" fill="#000" stroke="#000" stroke-width="0.25">Count</text><circle cx="641.4" cy="576.1" r="2.6" fill="#000" stroke="none" stroke-width="0"/><text x="648.7" y="578.7" font-family="Liberation Sans" font-size="7.2" text-anchor="start" font-weight="normal" fill="#000" stroke="#000" stroke-width="0.25">8</text><circle cx="641.4" cy="584.7" r="3.3" fill="#000" stroke="none" stroke-width="0"/><text x="648.7" y="587.3" font-family="Liberation Sans" font-size="7.2" text-anchor="start" font-weight="normal" fill="#000" stroke="#000" stroke-width="0.25">12</text><circle cx="641.4" cy="594.2" r="3.9" fill="#000" stroke="none" stroke-width="0"/><text x="648.7" y="596.8" font-family="Liberation Sans" font-size="7.2" text-anchor="start" font-weight="normal" fill="#000" stroke="#000" stroke-width="0.25">16</text><circle cx="641.4" cy="605.2" r="4.4" fill="#000" stroke="none" stroke-width="0"/><text x="648.7" y="607.8" font-family="Liberation Sans" font-size="7.2" text-anchor="start" font-weight="normal" fill="#000" stroke="#000" stroke-width="0.25">20</text><text x="642.1" y="624.2" font-family="Liberation Sans" font-size="7.2" text-anchor="start" font-weight="normal" fill="#000" stroke="#000" stroke-width="0.25">qvalue</text><defs><linearGradient id="gq" x1="0" y1="0" x2="0" y2="1"><stop offset="0" stop-color="#2a10ff"/><stop offset="0.5" stop-color="#a0068a"/><stop offset="1" stop-color="#ff0020"/></linearGradient></defs><rect x="634.8" y="629" width="8.2" height="42" fill="url(#gq)" stroke="none" stroke-width="1"/><text x="645.1" y="633.9" font-family="Liberation Sans" font-size="7.2" text-anchor="start" font-weight="normal" fill="#000" stroke="#000" stroke-width="0.25">0.006</text><text x="645.1" y="652.7" font-family="Liberation Sans" font-size="7.2" text-anchor="start" font-weight="normal" fill="#000" stroke="#000" stroke-width="0.25">0.004</text><text x="645.1" y="670.5" font-family="Liberation Sans" font-size="7.2" text-anchor="start" font-weight="normal" fill="#000" stroke="#000" stroke-width="0.25">0.002</text><text x="268.9" y="782.6" font-family="Liberation Sans" font-size="17.5" text-anchor="start" font-weight="bold" fill="#000">I</text><line x1="501.3" y1="775.3" x2="501.3" y2="882.6" stroke="#222" stroke-width="0.9"/><line x1="514.5" y1="775.3" x2="514.5" y2="882.6" stroke="#222" stroke-width="0.9"/><line x1="528" y1="775.3" x2="528" y2="882.6" stroke="#222" stroke-width="0.9"/><line x1="541.2" y1="775.3" x2="541.2" y2="882.6" stroke="#222" stroke-width="0.9"/><line x1="554.7" y1="775.3" x2="554.7" y2="882.6" stroke="#222" stroke-width="0.9"/><line x1="567.9" y1="775.3" x2="567.9" y2="882.6" stroke="#222" stroke-width="0.9"/><line x1="581.6" y1="775.3" x2="581.6" y2="882.6" stroke="#222" stroke-width="0.9"/><line x1="594.8" y1="775.3" x2="594.8" y2="882.6" stroke="#222" stroke-width="0.9"/><line x1="489.7" y1="781.2" x2="599.6" y2="781.2" stroke="#222" stroke-width="0.9"/><line x1="487.2" y1="781.2" x2="489.7" y2="781.2" stroke="#222" stroke-width="0.9"/><line x1="489.7" y1="791.78" x2="599.6" y2="791.78" stroke="#222" stroke-width="0.9"/><line x1="487.2" y1="791.78" x2="489.7" y2="791.78" stroke="#222" stroke-width="0.9"/><line x1="489.7" y1="802.36" x2="599.6" y2="802.36" stroke="#222" stroke-width="0.9"/><line x1="487.2" y1="802.36" x2="489.7" y2="802.36" stroke="#222" stroke-width="0.9"/><line x1="489.7" y1="812.94" x2="599.6" y2="812.94" stroke="#222" stroke-width="0.9"/><line x1="487.2" y1="812.94" x2="489.7" y2="812.94" stroke="#222" stroke-width="0.9"/><line x1="489.7" y1="823.52" x2="599.6" y2="823.52" stroke="#222" stroke-width="0.9"/><line x1="487.2" y1="823.52" x2="489.7" y2="823.52" stroke="#222" stroke-width="0.9"/><line x1="489.7" y1="834.1" x2="599.6" y2="834.1" stroke="#222" stroke-width="0.9"/><line x1="487.2" y1="834.1" x2="489.7" y2="834.1" stroke="#222" stroke-width="0.9"/><line x1="489.7" y1="844.68" x2="599.6" y2="844.68" stroke="#222" stroke-width="0.9"/><line x1="487.2" y1="844.68" x2="489.7" y2="844.68" stroke="#222" stroke-width="0.9"/><line x1="489.7" y1="855.26" x2="599.6" y2="855.26" stroke="#222" stroke-width="0.9"/><line x1="487.2" y1="855.26" x2="489.7" y2="855.26" stroke="#222" stroke-width="0.9"/><line x1="489.7" y1="865.84" x2="599.6" y2="865.84" stroke="#222" stroke-width="0.9"/><line x1="487.2" y1="865.84" x2="489.7" y2="865.84" stroke="#222" stroke-width="0.9"/><line x1="489.7" y1="876.42" x2="599.6" y2="876.42" stroke="#222" stroke-width="0.9"/><line x1="487.2" y1="876.42" x2="489.7" y2="876.42" stroke="#222" stroke-width="0.9"/><rect x="489.7" y="775.3" width="109.9" height="107.3" fill="none" stroke="#222" stroke-width="1"/><text x="480.8" y="785" font-family="Liberation Sans" font-size="10.8" text-anchor="end" font-weight="normal" fill="#111" stroke="#111" stroke-width="0.25">Chemokine signaling pathway</text><text x="480.8" y="795.58" font-family="Liberation Sans" font-size="10.8" text-anchor="end" font-weight="normal" fill="#111" stroke="#111" stroke-width="0.25">Serotonergic synapse</text><text x="480.8" y="806.16" font-family="Liberation Sans" font-size="10.8" text-anchor="end" font-weight="normal" fill="#111" stroke="#111" stroke-width="0.25">Glutathione metabolism</text><text x="480.8" y="816.74" font-family="Liberation Sans" font-size="10.8" text-anchor="end" font-weight="normal" fill="#111" stroke="#111" stroke-width="0.25">Salivary secretion</text><text x="480.8" y="827.32" font-family="Liberation Sans" font-size="10.8" text-anchor="end" font-weight="normal" fill="#111" stroke="#111" stroke-width="0.25">Mucin type O−glycan biosynthesis</text><text x="480.8" y="837.9" font-family="Liberation Sans" font-size="10.8" text-anchor="end" font-weight="normal" fill="#111" stroke="#111" stroke-width="0.25">VEGF signaling pathway</text><text x="480.8" y="848.48" font-family="Liberation Sans" font-size="10.8" text-anchor="end" font-weight="normal" fill="#111" stroke="#111" stroke-width="0.25">Phenylalanine metabolism</text><text x="480.8" y="859.06" font-family="Liberation Sans" font-size="10.8" text-anchor="end" font-weight="normal" fill="#111" stroke="#111" stroke-width="0.25">2−Oxocarboxylic acid metabolism</text><text x="480.8" y="869.64" font-family="Liberation Sans" font-size="10.8" text-anchor="end" font-weight="normal" fill="#111" stroke="#111" stroke-width="0.25">Histidine metabolism</text><text x="480.8" y="880.22" font-family="Liberation Sans" font-size="10.8" text-anchor="end" font-weight="normal" fill="#111" stroke="#111" stroke-width="0.25">Glycosphingolipid biosynthesis − lacto and neolacto series</text><circle cx="594.8" cy="781.2" r="2.6" fill="#1010ee" stroke="#111" stroke-width="0.5"/><circle cx="554.7" cy="791.78" r="2.2" fill="#1818e6" stroke="#111" stroke-width="0.5"/><circle cx="534.6" cy="802.36" r="2" fill="#e01010" stroke="#111" stroke-width="0.5"/><circle cx="534.6" cy="812.94" r="2" fill="#1010e6" stroke="#111" stroke-width="0.5"/><circle cx="514.9" cy="823.52" r="1.8" fill="#dd1010" stroke="#111" stroke-width="0.5"/><circle cx="514.9" cy="834.1" r="1.8" fill="#1414e0" stroke="#111" stroke-width="0.5"/><circle cx="494.5" cy="844.68" r="1.1" fill="#a01020" stroke="#111" stroke-width="0.5"/><circle cx="494.5" cy="855.26" r="1.1" fill="#a01020" stroke="#111" stroke-width="0.5"/><circle cx="494.5" cy="865.84" r="1.1" fill="#a01020" stroke="#111" stroke-width="0.5"/><circle cx="494.5" cy="876.42" r="1.1" fill="#3030c0" stroke="#111" stroke-width="0.5"/><line x1="514.5" y1="882.6" x2="514.5" y2="885.1" stroke="#222" stroke-width="0.9"/><text x="514.5" y="893.3" font-family="Liberation Sans" font-size="10.2" text-anchor="middle" font-weight="normal" fill="#111" stroke="#111" stroke-width="0.25">0.03</text><line x1="541.2" y1="882.6" x2="541.2" y2="885.1" stroke="#222" stroke-width="0.9"/><text x="541.2" y="893.3" font-family="Liberation Sans" font-size="10.2" text-anchor="middle" font-weight="normal" fill="#111" stroke="#111" stroke-width="0.25">0.04</text><line x1="567.9" y1="882.6" x2="567.9" y2="885.1" stroke="#222" stroke-width="0.9"/><text x="567.9" y="893.3" font-family="Liberation Sans" font-size="10.2" text-anchor="middle" font-weight="normal" fill="#111" stroke="#111" stroke-width="0.25">0.05</text><line x1="594.8" y1="882.6" x2="594.8" y2="885.1" stroke="#222" stroke-width="0.9"/><text x="594.8" y="893.3" font-family="Liberation Sans" font-size="10.2" text-anchor="middle" font-weight="normal" fill="#111" stroke="#111" stroke-width="0.25">0.06</text><text x="551" y="905.2" font-family="Liberation Sans" font-size="10.2" text-anchor="middle" font-weight="normal" fill="#000" stroke="#000" stroke-width="0.25">GeneRatio</text><text x="624.8" y="789.9" font-family="Liberation Sans" font-size="6.6" text-anchor="start" font-weight="normal" fill="#000" stroke="#000" stroke-width="0.25">Count</text><circle cx="627.9" cy="794.6" r="0.7" fill="#000" stroke="none" stroke-width="0"/><text x="633.1" y="797" font-family="Liberation Sans" font-size="6.6" text-anchor="start" font-weight="normal" fill="#000" stroke="#000" stroke-width="0.25">3</text><circle cx="627.9" cy="799.8" r="1.5" fill="#000" stroke="none" stroke-width="0"/><text x="633.1" y="802.2" font-family="Liberation Sans" font-size="6.6" text-anchor="start" font-weight="normal" fill="#000" stroke="#000" stroke-width="0.25">4</text><circle cx="627.9" cy="805.3" r="1.9" fill="#000" stroke="none" stroke-width="0"/><text x="633.1" y="807.7" font-family="Liberation Sans" font-size="6.6" text-anchor="start" font-weight="normal" fill="#000" stroke="#000" stroke-width="0.25">5</text><circle cx="627.9" cy="811.1" r="2.1" fill="#000" stroke="none" stroke-width="0"/><text x="633.1" y="813.5" font-family="Liberation Sans" font-size="6.6" text-anchor="start" font-weight="normal" fill="#000" stroke="#000" stroke-width="0.25">6</text><circle cx="627.9" cy="817.2" r="2.3" fill="#000" stroke="none" stroke-width="0"/><text x="633.1" y="819.6" font-family="Liberation Sans" font-size="6.6" text-anchor="start" font-weight="normal" fill="#000" stroke="#000" stroke-width="0.25">7</text><circle cx="627.9" cy="824.5" r="2.7" fill="#000" stroke="none" stroke-width="0"/><text x="633.1" y="826.9" font-family="Liberation Sans" font-size="6.6" text-anchor="start" font-weight="normal" fill="#000" stroke="#000" stroke-width="0.25">8</text><text x="624.8" y="837.4" font-family="Liberation Sans" font-size="6.6" text-anchor="start" font-weight="normal" fill="#000" stroke="#000" stroke-width="0.25">qvalue</text><defs><linearGradient id="gi" x1="0" y1="0" x2="0" y2="1"><stop offset="0" stop-color="#3010ff"/><stop offset="0.5" stop-color="#a0068a"/><stop offset="1" stop-color="#ff0020"/></linearGradient></defs><rect x="624.8" y="839.1" width="5.1" height="26.6" fill="url(#gi)" stroke="none" stroke-width="1"/><text x="632" y="847.7" font-family="Liberation Sans" font-size="6.6" text-anchor="start" font-weight="normal" fill="#000" stroke="#000" stroke-width="0.25">0.30</text><text x="632" y="856.6" font-family="Liberation Sans" font-size="6.6" text-anchor="start" font-weight="normal" fill="#000" stroke="#000" stroke-width="0.25">0.25</text><text x="632" y="865.2" font-family="Liberation Sans" font-size="6.6" text-anchor="start" font-weight="normal" fill="#000" stroke="#000" stroke-width="0.25">0.20</text><text x="6.4" y="220.2" font-family="Liberation Sans" font-size="17.5" text-anchor="start" font-weight="bold" fill="#000">D</text><line x1="38.5" y1="212" x2="38.5" y2="350.4" stroke="#111" stroke-width="1.1"/><line x1="36.8" y1="350.4" x2="38.5" y2="350.4" stroke="#111" stroke-width="0.8"/><text x="34.1" y="350.4" font-family="Liberation Sans" font-size="6.4" text-anchor="middle" font-weight="normal" fill="#111" transform="rotate(-90 34.1 350.4)" stroke="#111" stroke-width="0.15">30</text><line x1="36.8" y1="333.1" x2="38.5" y2="333.1" stroke="#111" stroke-width="0.8"/><text x="34.1" y="333.1" font-family="Liberation Sans" font-size="6.4" text-anchor="middle" font-weight="normal" fill="#111" transform="rotate(-90 34.1 333.1)" stroke="#111" stroke-width="0.15">35</text><line x1="36.8" y1="315.8" x2="38.5" y2="315.8" stroke="#111" stroke-width="0.8"/><text x="34.1" y="315.8" font-family="Liberation Sans" font-size="6.4" text-anchor="middle" font-weight="normal" fill="#111" transform="rotate(-90 34.1 315.8)" stroke="#111" stroke-width="0.15">40</text><line x1="36.8" y1="298.5" x2="38.5" y2="298.5" stroke="#111" stroke-width="0.8"/><text x="34.1" y="298.5" font-family="Liberation Sans" font-size="6.4" text-anchor="middle" font-weight="normal" fill="#111" transform="rotate(-90 34.1 298.5)" stroke="#111" stroke-width="0.15">45</text><line x1="36.8" y1="281.2" x2="38.5" y2="281.2" stroke="#111" stroke-width="0.8"/><text x="34.1" y="281.2" font-family="Liberation Sans" font-size="6.4" text-anchor="middle" font-weight="normal" fill="#111" transform="rotate(-90 34.1 281.2)" stroke="#111" stroke-width="0.15">50</text><line x1="36.8" y1="263.9" x2="38.5" y2="263.9" stroke="#111" stroke-width="0.8"/><text x="34.1" y="263.9" font-family="Liberation Sans" font-size="6.4" text-anchor="middle" font-weight="normal" fill="#111" transform="rotate(-90 34.1 263.9)" stroke="#111" stroke-width="0.15">55</text><line x1="36.8" y1="246.6" x2="38.5" y2="246.6" stroke="#111" stroke-width="0.8"/><text x="34.1" y="246.6" font-family="Liberation Sans" font-size="6.4" text-anchor="middle" font-weight="normal" fill="#111" transform="rotate(-90 34.1 246.6)" stroke="#111" stroke-width="0.15">60</text><line x1="36.8" y1="229.3" x2="38.5" y2="229.3" stroke="#111" stroke-width="0.8"/><text x="34.1" y="229.3" font-family="Liberation Sans" font-size="6.4" text-anchor="middle" font-weight="normal" fill="#111" transform="rotate(-90 34.1 229.3)" stroke="#111" stroke-width="0.15">65</text><line x1="36.8" y1="212" x2="38.5" y2="212" stroke="#111" stroke-width="0.8"/><text x="34.1" y="212" font-family="Liberation Sans" font-size="6.4" text-anchor="middle" font-weight="normal" fill="#111" transform="rotate(-90 34.1 212)" stroke="#111" stroke-width="0.15">70</text><text x="20.2" y="291" font-family="Liberation Sans" font-size="8.6" text-anchor="middle" font-weight="normal" fill="#000" transform="rotate(-90 20.2 291)" stroke="#000" stroke-width="0.25">Height</text><path d="M51.81 275.5L54.42 275.5M51.81 275.5L51.81 287M54.42 275.5L54.42 287M62.25 309.3L64.86 309.3M62.25 309.3L62.25 320.8M64.86 309.3L64.86 320.8M59.64 280.4L63.55 280.4M59.64 280.4L59.64 291.9M63.55 280.4L63.55 309.3M57.03 256.4L61.6 256.4M57.03 256.4L57.03 267.9M61.6 256.4L61.6 280.4M53.11 240.7L59.31 240.7M53.11 240.7L53.11 275.5M59.31 240.7L59.31 256.4M67.47 265.5L70.08 265.5M67.47 265.5L67.47 277M70.08 265.5L70.08 277M75.3 288.7L77.91 288.7M75.3 288.7L75.3 300.2M77.91 288.7L77.91 300.2M72.69 270.5L76.6 270.5M72.69 270.5L72.69 282M76.6 270.5L76.6 288.7M80.52 297L83.13 297M80.52 297L80.52 308.5M83.13 297L83.13 308.5M88.35 306.9L90.96 306.9M88.35 306.9L88.35 318.4M90.96 306.9L90.96 318.4M85.74 279.6L89.65 279.6M85.74 279.6L85.74 291.1M89.65 279.6L89.65 306.9M81.82 259.8L87.7 259.8M81.82 259.8L81.82 297M87.7 259.8L87.7 279.6M74.65 252.3L84.76 252.3M74.65 252.3L74.65 270.5M84.76 252.3L84.76 259.8M98.79 329.2L101.4 329.2M98.79 329.2L98.79 340.7M101.4 329.2L101.4 340.7M96.18 311.8L100.09 311.8M96.18 311.8L96.18 323.3M100.09 311.8L100.09 329.2M93.57 263.1L98.14 263.1M93.57 263.1L93.57 274.6M98.14 263.1L98.14 311.8M104.01 287.6L106.62 287.6M104.01 287.6L104.01 299.1M106.62 287.6L106.62 299.1M109.23 290L111.84 290M109.23 290L109.23 301.5M111.84 290L111.84 301.5M119.67 311.5L122.28 311.5M119.67 311.5L119.67 323M122.28 311.5L122.28 323M117.06 300.5L120.97 300.5M117.06 300.5L117.06 312M120.97 300.5L120.97 311.5M114.45 290.5L119.01 290.5M114.45 290.5L114.45 302M119.01 290.5L119.01 300.5M124.89 297.63L127.5 297.63M124.89 297.63L124.89 309.13M127.5 297.63L127.5 309.13M130.11 297.57L132.72 297.57M130.11 297.57L130.11 309.07M132.72 297.57L132.72 309.07M126.19 290L131.41 290M126.19 290L126.19 297.63M131.41 290L131.41 297.57M116.73 282.9L128.8 282.9M116.73 282.9L116.73 290.5M128.8 282.9L128.8 290M110.53 281.5L122.77 281.5M110.53 281.5L110.53 290M122.77 281.5L122.77 282.9M105.31 279.3L116.65 279.3M105.31 279.3L105.31 287.6M116.65 279.3L116.65 281.5M137.94 304.4L140.55 304.4M137.94 304.4L137.94 315.9M140.55 304.4L140.55 315.9M143.16 322.3L145.77 322.3M143.16 322.3L143.16 333.8M145.77 322.3L145.77 333.8M150.99 333.7L153.6 333.7M150.99 333.7L150.99 345.2M153.6 333.7L153.6 345.2M148.38 304.4L152.29 304.4M148.38 304.4L148.38 315.9M152.29 304.4L152.29 333.7M144.46 299.7L150.33 299.7M144.46 299.7L144.46 322.3M150.33 299.7L150.33 304.4M139.24 290L147.4 290M139.24 290L139.24 304.4M147.4 290L147.4 299.7M135.33 277.6L143.32 277.6M135.33 277.6L135.33 289.1M143.32 277.6L143.32 290M110.98 272.5L139.32 272.5M110.98 272.5L110.98 279.3M139.32 272.5L139.32 277.6M156.21 280.5L158.82 280.5M156.21 280.5L156.21 292M158.82 280.5L158.82 292M164.04 292.84L166.65 292.84M164.04 292.84L164.04 304.34M166.65 292.84L166.65 304.34M165.34 284.3L169.26 284.3M165.34 284.3L165.34 292.84M169.26 284.3L169.26 295.8M161.43 274.3L167.3 274.3M161.43 274.3L161.43 285.8M167.3 274.3L167.3 284.3M157.51 269.3L164.36 269.3M157.51 269.3L157.51 280.5M164.36 269.3L164.36 274.3M125.15 265.3L160.94 265.3M125.15 265.3L125.15 272.5M160.94 265.3L160.94 269.3M174.48 313.4L177.09 313.4M174.48 313.4L174.48 324.9M177.09 313.4L177.09 324.9M184.91 326.56L187.52 326.56M184.91 326.56L184.91 338.06M187.52 326.56L187.52 338.06M186.22 318L190.13 318M186.22 318L186.22 326.56M190.13 318L190.13 329.5M182.3 307.2L188.18 307.2M182.3 307.2L182.3 318.7M188.18 307.2L188.18 318M179.7 298L185.24 298M179.7 298L179.7 309.5M185.24 298L185.24 307.2M175.78 295.5L182.47 295.5M175.78 295.5L175.78 313.4M182.47 295.5L182.47 298M195.35 319.63L197.96 319.63M195.35 319.63L195.35 331.13M197.96 319.63L197.96 331.13M192.74 311.5L196.66 311.5M192.74 311.5L192.74 323M196.66 311.5L196.66 319.63M200.57 307.7L203.18 307.7M200.57 307.7L200.57 319.2M203.18 307.7L203.18 319.2M194.7 296.5L201.88 296.5M194.7 296.5L194.7 311.5M201.88 296.5L201.88 307.7M205.79 319.4L208.4 319.4M205.79 319.4L205.79 330.9M208.4 319.4L208.4 330.9M213.62 310L216.23 310M213.62 310L213.62 321.5M216.23 310L216.23 321.5M211.01 300.5L214.93 300.5M211.01 300.5L211.01 312M214.93 300.5L214.93 310M207.1 294.4L212.97 294.4M207.1 294.4L207.1 319.4M212.97 294.4L212.97 300.5M198.29 288.2L210.04 288.2M198.29 288.2L198.29 296.5M210.04 288.2L210.04 294.4M179.12 283.3L204.16 283.3M179.12 283.3L179.12 295.5M204.16 283.3L204.16 288.2M224.06 318.9L226.67 318.9M224.06 318.9L224.06 330.4M226.67 318.9L226.67 330.4M225.37 310.68L229.28 310.68M225.37 310.68L225.37 318.9M229.28 310.68L229.28 322.18M221.45 300.91L227.33 300.91M221.45 300.91L221.45 312.41M227.33 300.91L227.33 310.68M218.84 292.26L224.39 292.26M218.84 292.26L218.84 303.76M224.39 292.26L224.39 300.91M231.89 289.81L234.5 289.81M231.89 289.81L231.89 301.31M234.5 289.81L234.5 301.31M221.62 284.3L233.2 284.3M221.62 284.3L221.62 292.26M233.2 284.3L233.2 289.81M252.77 305L255.38 305M252.77 305L252.77 316.5M255.38 305L255.38 316.5M250.16 302L254.08 302M250.16 302L250.16 313.5M254.08 302L254.08 305M247.55 299L252.12 299M247.55 299L247.55 310.5M252.12 299L252.12 302M244.94 296L249.84 296M244.94 296L244.94 307.5M249.84 296L249.84 299M242.33 293L247.39 293M242.33 293L242.33 304.5M247.39 293L247.39 296M239.72 290L244.86 290M239.72 290L239.72 301.5M244.86 290L244.86 293M237.11 287L242.29 287M237.11 287L237.11 298.5M242.29 287L242.29 290M257.99 300.75L260.6 300.75M257.99 300.75L257.99 312.25M260.6 300.75L260.6 312.25M263.21 301.35L265.82 301.35M263.21 301.35L263.21 312.85M265.82 301.35L265.82 312.85M259.3 297.51L264.52 297.51M259.3 297.51L259.3 300.75M264.52 297.51L264.52 301.35M268.43 295.86L271.04 295.86M268.43 295.86L268.43 307.36M271.04 295.86L271.04 307.36M261.91 290L269.74 290M261.91 290L261.91 297.51M269.74 290L269.74 295.86M239.7 282L265.82 282M239.7 282L239.7 287M265.82 282L265.82 290M227.41 277.8L252.76 277.8M227.41 277.8L227.41 284.3M252.76 277.8L252.76 282M191.64 271.9L240.08 271.9M191.64 271.9L191.64 283.3M240.08 271.9L240.08 277.8M171.87 264.7L215.86 264.7M171.87 264.7L171.87 276.2M215.86 264.7L215.86 271.9M276.26 300.35L278.87 300.35M276.26 300.35L276.26 311.85M278.87 300.35L278.87 311.85M281.48 300.4L284.09 300.4M281.48 300.4L281.48 311.9M284.09 300.4L284.09 311.9M277.57 295.67L282.79 295.67M277.57 295.67L277.57 300.35M282.79 295.67L282.79 300.4M280.18 290L286.7 290M280.18 290L280.18 295.67M286.7 290L286.7 301.5M289.31 297.84L291.92 297.84M289.31 297.84L289.31 309.34M291.92 297.84L291.92 309.34M297.14 307.99L299.75 307.99M297.14 307.99L297.14 319.49M299.75 307.99L299.75 319.49M294.53 298.46L298.45 298.46M294.53 298.46L294.53 309.96M298.45 298.46L298.45 307.99M296.49 295.11L302.36 295.11M296.49 295.11L296.49 298.46M302.36 295.11L302.36 306.61M290.62 286L299.42 286M290.62 286L290.62 297.84M299.42 286L299.42 295.11M283.44 279.6L295.02 279.6M283.44 279.6L283.44 290M295.02 279.6L295.02 286M307.58 280.3L310.19 280.3M307.58 280.3L307.58 291.8M310.19 280.3L310.19 291.8M304.97 271.9L308.89 271.9M304.97 271.9L304.97 283.4M308.89 271.9L308.89 280.3M306.93 268.4L312.8 268.4M306.93 268.4L306.93 271.9M312.8 268.4L312.8 279.9M289.23 265.5L309.86 265.5M289.23 265.5L289.23 279.6M309.86 265.5L309.86 268.4M273.65 262.6L299.55 262.6M273.65 262.6L273.65 274.1M299.55 262.6L299.55 265.5M193.86 262.2L286.6 262.2M193.86 262.2L193.86 264.7M286.6 262.2L286.6 262.6M143.04 260.4L240.23 260.4M143.04 260.4L143.04 265.3M240.23 260.4L240.23 262.2M95.85 245.7L191.64 245.7M95.85 245.7L95.85 263.1M191.64 245.7L191.64 260.4M79.7 243.2L143.75 243.2M79.7 243.2L79.7 252.3M143.75 243.2L143.75 245.7M68.77 232.2L111.72 232.2M68.77 232.2L68.77 265.5M111.72 232.2L111.72 243.2M56.21 231.3L90.25 231.3M56.21 231.3L56.21 240.7M90.25 231.3L90.25 232.2M49.2 214.8L73.23 214.8M49.2 214.8L49.2 226.3M73.23 214.8L73.23 231.3" stroke="#1a1a1a" stroke-width="0.85" fill="none"/><g font-family="Liberation Sans" font-size="4.1" font-weight="bold" fill="#2a2a2a"><text transform="translate(53.16 288) rotate(-90)" text-anchor="end" textLength="24" lengthAdjust="spacingAndGlyphs">GSM3442503_Con</text><text transform="translate(55.77 288) rotate(-90)" text-anchor="end" textLength="28" lengthAdjust="spacingAndGlyphs">GSM3428784_Treat</text><text transform="translate(63.6 321.8) rotate(-90)" text-anchor="end" textLength="24" lengthAdjust="spacingAndGlyphs">GSM3423799_Con</text><text transform="translate(66.21 321.8) rotate(-90)" text-anchor="end" textLength="28" lengthAdjust="spacingAndGlyphs">GSM3449520_Treat</text><text transform="translate(60.99 292.9) rotate(-90)" text-anchor="end" textLength="28" lengthAdjust="spacingAndGlyphs">GSM3497543_Treat</text><text transform="translate(58.38 268.9) rotate(-90)" text-anchor="end" textLength="24" lengthAdjust="spacingAndGlyphs">GSM3406053_Con</text><text transform="translate(68.82 278) rotate(-90)" text-anchor="end" textLength="24" lengthAdjust="spacingAndGlyphs">GSM3466175_Con</text><text transform="translate(71.43 278) rotate(-90)" text-anchor="end" textLength="24" lengthAdjust="spacingAndGlyphs">GSM3407428_Con</text><text transform="translate(76.65 301.2) rotate(-90)" text-anchor="end" textLength="24" lengthAdjust="spacingAndGlyphs">GSM3401025_Con</text><text transform="translate(79.26 301.2) rotate(-90)" text-anchor="end" textLength="28" lengthAdjust="spacingAndGlyphs">GSM3408321_Treat</text><text transform="translate(74.04 283) rotate(-90)" text-anchor="end" textLength="28" lengthAdjust="spacingAndGlyphs">GSM3474310_Treat</text><text transform="translate(81.87 309.5) rotate(-90)" text-anchor="end" textLength="28" lengthAdjust="spacingAndGlyphs">GSM3493256_Treat</text><text transform="translate(84.48 309.5) rotate(-90)" text-anchor="end" textLength="28" lengthAdjust="spacingAndGlyphs">GSM3491322_Treat</text><text transform="translate(89.7 319.4) rotate(-90)" text-anchor="end" textLength="24" lengthAdjust="spacingAndGlyphs">GSM3497754_Con</text><text transform="translate(92.31 319.4) rotate(-90)" text-anchor="end" textLength="28" lengthAdjust="spacingAndGlyphs">GSM3450970_Treat</text><text transform="translate(87.09 292.1) rotate(-90)" text-anchor="end" textLength="28" lengthAdjust="spacingAndGlyphs">GSM3495177_Treat</text><text transform="translate(100.14 341.7) rotate(-90)" text-anchor="end" textLength="24" lengthAdjust="spacingAndGlyphs">GSM3438669_Con</text><text transform="translate(102.75 341.7) rotate(-90)" text-anchor="end" textLength="24" lengthAdjust="spacingAndGlyphs">GSM3472002_Con</text><text transform="translate(97.53 324.3) rotate(-90)" text-anchor="end" textLength="28" lengthAdjust="spacingAndGlyphs">GSM3475102_Treat</text><text transform="translate(94.92 275.6) rotate(-90)" text-anchor="end" textLength="28" lengthAdjust="spacingAndGlyphs">GSM3478797_Treat</text><text transform="translate(105.36 300.1) rotate(-90)" text-anchor="end" textLength="28" lengthAdjust="spacingAndGlyphs">GSM3477956_Treat</text><text transform="translate(107.97 300.1) rotate(-90)" text-anchor="end" textLength="24" lengthAdjust="spacingAndGlyphs">GSM3467744_Con</text><text transform="translate(110.58 302.5) rotate(-90)" text-anchor="end" textLength="28" lengthAdjust="spacingAndGlyphs">GSM3491677_Treat</text><text transform="translate(113.19 302.5) rotate(-90)" text-anchor="end" textLength="24" lengthAdjust="spacingAndGlyphs">GSM3499328_Con</text><text transform="translate(121.02 324) rotate(-90)" text-anchor="end" textLength="24" lengthAdjust="spacingAndGlyphs">GSM3408352_Con</text><text transform="translate(123.63 324) rotate(-90)" text-anchor="end" textLength="24" lengthAdjust="spacingAndGlyphs">GSM3442695_Con</text><text transform="translate(118.41 313) rotate(-90)" text-anchor="end" textLength="24" lengthAdjust="spacingAndGlyphs">GSM3446560_Con</text><text transform="translate(115.8 303) rotate(-90)" text-anchor="end" textLength="28" lengthAdjust="spacingAndGlyphs">GSM3486240_Treat</text><text transform="translate(126.24 310.13) rotate(-90)" text-anchor="end" textLength="24" lengthAdjust="spacingAndGlyphs">GSM3414104_Con</text><text transform="translate(128.85 310.13) rotate(-90)" text-anchor="end" textLength="24" lengthAdjust="spacingAndGlyphs">GSM3485421_Con</text><text transform="translate(131.46 310.07) rotate(-90)" text-anchor="end" textLength="28" lengthAdjust="spacingAndGlyphs">GSM3499603_Treat</text><text transform="translate(134.07 310.07) rotate(-90)" text-anchor="end" textLength="24" lengthAdjust="spacingAndGlyphs">GSM3466197_Con</text><text transform="translate(139.29 316.9) rotate(-90)" text-anchor="end" textLength="24" lengthAdjust="spacingAndGlyphs">GSM3402592_Con</text><text transform="translate(141.9 316.9) rotate(-90)" text-anchor="end" textLength="24" lengthAdjust="spacingAndGlyphs">GSM3492490_Con</text><text transform="translate(144.51 334.8) rotate(-90)" text-anchor="end" textLength="28" lengthAdjust="spacingAndGlyphs">GSM3467820_Treat</text><text transform="translate(147.12 334.8) rotate(-90)" text-anchor="end" textLength="24" lengthAdjust="spacingAndGlyphs">GSM3452627_Con</text><text transform="translate(152.34 346.2) rotate(-90)" text-anchor="end" textLength="28" lengthAdjust="spacingAndGlyphs">GSM3403270_Treat</text><text transform="translate(154.95 346.2) rotate(-90)" text-anchor="end" textLength="28" lengthAdjust="spacingAndGlyphs">GSM3456874_Treat</text><text transform="translate(149.73 316.9) rotate(-90)" text-anchor="end" textLength="28" lengthAdjust="spacingAndGlyphs">GSM3436121_Treat</text><text transform="translate(136.68 290.1) rotate(-90)" text-anchor="end" textLength="24" lengthAdjust="spacingAndGlyphs">GSM3453029_Con</text><text transform="translate(157.56 293) rotate(-90)" text-anchor="end" textLength="24" lengthAdjust="spacingAndGlyphs">GSM3459767_Con</text><text transform="translate(160.17 293) rotate(-90)" text-anchor="end" textLength="24" lengthAdjust="spacingAndGlyphs">GSM3452289_Con</text><text transform="translate(165.39 305.34) rotate(-90)" text-anchor="end" textLength="28" lengthAdjust="spacingAndGlyphs">GSM3463803_Treat</text><text transform="translate(168 305.34) rotate(-90)" text-anchor="end" textLength="28" lengthAdjust="spacingAndGlyphs">GSM3485764_Treat</text><text transform="translate(170.61 296.8) rotate(-90)" text-anchor="end" textLength="28" lengthAdjust="spacingAndGlyphs">GSM3462876_Treat</text><text transform="translate(162.78 286.8) rotate(-90)" text-anchor="end" textLength="28" lengthAdjust="spacingAndGlyphs">GSM3448893_Treat</text><text transform="translate(175.83 325.9) rotate(-90)" text-anchor="end" textLength="24" lengthAdjust="spacingAndGlyphs">GSM3428299_Con</text><text transform="translate(178.44 325.9) rotate(-90)" text-anchor="end" textLength="24" lengthAdjust="spacingAndGlyphs">GSM3482156_Con</text><text transform="translate(186.26 339.06) rotate(-90)" text-anchor="end" textLength="24" lengthAdjust="spacingAndGlyphs">GSM3481201_Con</text><text transform="translate(188.87 339.06) rotate(-90)" text-anchor="end" textLength="24" lengthAdjust="spacingAndGlyphs">GSM3479376_Con</text><text transform="translate(191.48 330.5) rotate(-90)" text-anchor="end" textLength="24" lengthAdjust="spacingAndGlyphs">GSM3489518_Con</text><text transform="translate(183.65 319.7) rotate(-90)" text-anchor="end" textLength="28" lengthAdjust="spacingAndGlyphs">GSM3463071_Treat</text><text transform="translate(181.05 310.5) rotate(-90)" text-anchor="end" textLength="24" lengthAdjust="spacingAndGlyphs">GSM3450587_Con</text><text transform="translate(196.7 332.13) rotate(-90)" text-anchor="end" textLength="28" lengthAdjust="spacingAndGlyphs">GSM3450049_Treat</text><text transform="translate(199.31 332.13) rotate(-90)" text-anchor="end" textLength="24" lengthAdjust="spacingAndGlyphs">GSM3493241_Con</text><text transform="translate(194.09 324) rotate(-90)" text-anchor="end" textLength="24" lengthAdjust="spacingAndGlyphs">GSM3400836_Con</text><text transform="translate(201.92 320.2) rotate(-90)" text-anchor="end" textLength="28" lengthAdjust="spacingAndGlyphs">GSM3426481_Treat</text><text transform="translate(204.53 320.2) rotate(-90)" text-anchor="end" textLength="28" lengthAdjust="spacingAndGlyphs">GSM3451278_Treat</text><text transform="translate(207.14 331.9) rotate(-90)" text-anchor="end" textLength="24" lengthAdjust="spacingAndGlyphs">GSM3411887_Con</text><text transform="translate(209.75 331.9) rotate(-90)" text-anchor="end" textLength="24" lengthAdjust="spacingAndGlyphs">GSM3410422_Con</text><text transform="translate(214.97 322.5) rotate(-90)" text-anchor="end" textLength="24" lengthAdjust="spacingAndGlyphs">GSM3481260_Con</text><text transform="translate(217.58 322.5) rotate(-90)" text-anchor="end" textLength="24" lengthAdjust="spacingAndGlyphs">GSM3497302_Con</text><text transform="translate(212.36 313) rotate(-90)" text-anchor="end" textLength="24" lengthAdjust="spacingAndGlyphs">GSM3414184_Con</text><text transform="translate(225.41 331.4) rotate(-90)" text-anchor="end" textLength="24" lengthAdjust="spacingAndGlyphs">GSM3421815_Con</text><text transform="translate(228.02 331.4) rotate(-90)" text-anchor="end" textLength="24" lengthAdjust="spacingAndGlyphs">GSM3426977_Con</text><text transform="translate(230.63 323.18) rotate(-90)" text-anchor="end" textLength="24" lengthAdjust="spacingAndGlyphs">GSM3448755_Con</text><text transform="translate(222.8 313.41) rotate(-90)" text-anchor="end" textLength="24" lengthAdjust="spacingAndGlyphs">GSM3489342_Con</text><text transform="translate(220.19 304.76) rotate(-90)" text-anchor="end" textLength="28" lengthAdjust="spacingAndGlyphs">GSM3410747_Treat</text><text transform="translate(233.24 302.31) rotate(-90)" text-anchor="end" textLength="24" lengthAdjust="spacingAndGlyphs">GSM3442219_Con</text><text transform="translate(235.85 302.31) rotate(-90)" text-anchor="end" textLength="24" lengthAdjust="spacingAndGlyphs">GSM3420107_Con</text><text transform="translate(254.12 317.5) rotate(-90)" text-anchor="end" textLength="24" lengthAdjust="spacingAndGlyphs">GSM3466459_Con</text><text transform="translate(256.73 317.5) rotate(-90)" text-anchor="end" textLength="28" lengthAdjust="spacingAndGlyphs">GSM3478377_Treat</text><text transform="translate(251.51 314.5) rotate(-90)" text-anchor="end" textLength="24" lengthAdjust="spacingAndGlyphs">GSM3493872_Con</text><text transform="translate(248.9 311.5) rotate(-90)" text-anchor="end" textLength="28" lengthAdjust="spacingAndGlyphs">GSM3451467_Treat</text><text transform="translate(246.29 308.5) rotate(-90)" text-anchor="end" textLength="28" lengthAdjust="spacingAndGlyphs">GSM3457262_Treat</text><text transform="translate(243.68 305.5) rotate(-90)" text-anchor="end" textLength="28" lengthAdjust="spacingAndGlyphs">GSM3487261_Treat</text><text transform="translate(241.07 302.5) rotate(-90)" text-anchor="end" textLength="28" lengthAdjust="spacingAndGlyphs">GSM3422851_Treat</text><text transform="translate(238.46 299.5) rotate(-90)" text-anchor="end" textLength="24" lengthAdjust="spacingAndGlyphs">GSM3481488_Con</text><text transform="translate(259.34 313.25) rotate(-90)" text-anchor="end" textLength="28" lengthAdjust="spacingAndGlyphs">GSM3424701_Treat</text><text transform="translate(261.95 313.25) rotate(-90)" text-anchor="end" textLength="24" lengthAdjust="spacingAndGlyphs">GSM3428205_Con</text><text transform="translate(264.56 313.85) rotate(-90)" text-anchor="end" textLength="28" lengthAdjust="spacingAndGlyphs">GSM3482504_Treat</text><text transform="translate(267.17 313.85) rotate(-90)" text-anchor="end" textLength="24" lengthAdjust="spacingAndGlyphs">GSM3492353_Con</text><text transform="translate(269.78 308.36) rotate(-90)" text-anchor="end" textLength="28" lengthAdjust="spacingAndGlyphs">GSM3409814_Treat</text><text transform="translate(272.39 308.36) rotate(-90)" text-anchor="end" textLength="24" lengthAdjust="spacingAndGlyphs">GSM3405147_Con</text><text transform="translate(173.22 277.2) rotate(-90)" text-anchor="end" textLength="28" lengthAdjust="spacingAndGlyphs">GSM3457833_Treat</text><text transform="translate(277.61 312.85) rotate(-90)" text-anchor="end" textLength="24" lengthAdjust="spacingAndGlyphs">GSM3431487_Con</text><text transform="translate(280.22 312.85) rotate(-90)" text-anchor="end" textLength="24" lengthAdjust="spacingAndGlyphs">GSM3471356_Con</text><text transform="translate(282.83 312.9) rotate(-90)" text-anchor="end" textLength="28" lengthAdjust="spacingAndGlyphs">GSM3440496_Treat</text><text transform="translate(285.44 312.9) rotate(-90)" text-anchor="end" textLength="28" lengthAdjust="spacingAndGlyphs">GSM3448571_Treat</text><text transform="translate(288.05 302.5) rotate(-90)" text-anchor="end" textLength="24" lengthAdjust="spacingAndGlyphs">GSM3448502_Con</text><text transform="translate(290.66 310.34) rotate(-90)" text-anchor="end" textLength="28" lengthAdjust="spacingAndGlyphs">GSM3474813_Treat</text><text transform="translate(293.27 310.34) rotate(-90)" text-anchor="end" textLength="24" lengthAdjust="spacingAndGlyphs">GSM3456644_Con</text><text transform="translate(298.49 320.49) rotate(-90)" text-anchor="end" textLength="24" lengthAdjust="spacingAndGlyphs">GSM3406443_Con</text><text transform="translate(301.1 320.49) rotate(-90)" text-anchor="end" textLength="28" lengthAdjust="spacingAndGlyphs">GSM3454675_Treat</text><text transform="translate(295.88 310.96) rotate(-90)" text-anchor="end" textLength="28" lengthAdjust="spacingAndGlyphs">GSM3472338_Treat</text><text transform="translate(303.71 307.61) rotate(-90)" text-anchor="end" textLength="28" lengthAdjust="spacingAndGlyphs">GSM3475351_Treat</text><text transform="translate(308.93 292.8) rotate(-90)" text-anchor="end" textLength="24" lengthAdjust="spacingAndGlyphs">GSM3476626_Con</text><text transform="translate(311.54 292.8) rotate(-90)" text-anchor="end" textLength="24" lengthAdjust="spacingAndGlyphs">GSM3402307_Con</text><text transform="translate(306.32 284.4) rotate(-90)" text-anchor="end" textLength="24" lengthAdjust="spacingAndGlyphs">GSM3409569_Con</text><text transform="translate(314.15 280.9) rotate(-90)" text-anchor="end" textLength="28" lengthAdjust="spacingAndGlyphs">GSM3497901_Treat</text><text transform="translate(275 275.1) rotate(-90)" text-anchor="end" textLength="24" lengthAdjust="spacingAndGlyphs">GSM3486256_Con</text><text transform="translate(50.55 227.3) rotate(-90)" text-anchor="end" textLength="28" lengthAdjust="spacingAndGlyphs">GSM3407817_Treat</text></g><line x1="47.9" y1="382.4" x2="315.2" y2="382.4" stroke="#aaa" stroke-width="0.8"/><rect x="55.2" y="382.8" width="2.8" height="27.3" fill="#ff3300" stroke="none" stroke-width="1"/><rect x="60.3" y="382.8" width="5" height="27.3" fill="#ff3300" stroke="none" stroke-width="1"/><rect x="93.3" y="382.8" width="2.5" height="27.3" fill="#ff3300" stroke="none" stroke-width="1"/><rect x="134.1" y="382.8" width="2.9" height="27.3" fill="#ff3300" stroke="none" stroke-width="1"/><rect x="139.2" y="382.8" width="2.6" height="27.3" fill="#ff3300" stroke="none" stroke-width="1"/><rect x="149.6" y="382.8" width="2.4" height="27.3" fill="#ff3300" stroke="none" stroke-width="1"/><rect x="162.3" y="382.8" width="2.6" height="27.3" fill="#ff3300" stroke="none" stroke-width="1"/><rect x="180.2" y="382.8" width="2.6" height="27.3" fill="#ff3300" stroke="none" stroke-width="1"/><rect x="188" y="382.8" width="7.2" height="27.3" fill="#ff3300" stroke="none" stroke-width="1"/><rect x="205.9" y="382.8" width="4.9" height="27.3" fill="#ff3300" stroke="none" stroke-width="1"/><rect x="218.3" y="382.8" width="4.9" height="27.3" fill="#ff3300" stroke="none" stroke-width="1"/><rect x="225.9" y="382.8" width="2.6" height="27.3" fill="#ff3300" stroke="none" stroke-width="1"/><rect x="231" y="382.8" width="2.6" height="27.3" fill="#ff3300" stroke="none" stroke-width="1"/><rect x="236" y="382.8" width="2.7" height="27.3" fill="#ff3300" stroke="none" stroke-width="1"/><rect x="241.2" y="382.8" width="5" height="27.3" fill="#ff3300" stroke="none" stroke-width="1"/><rect x="249" y="382.8" width="30.3" height="27.3" fill="#ff3300" stroke="none" stroke-width="1"/><rect x="282" y="382.8" width="2.5" height="27.3" fill="#ff3300" stroke="none" stroke-width="1"/><rect x="287" y="382.8" width="20.4" height="27.3" fill="#ff3300" stroke="none" stroke-width="1"/><rect x="310" y="382.8" width="2.7" height="27.3" fill="#ff3300" stroke="none" stroke-width="1"/><rect x="47.9" y="410.1" width="7.3" height="28.5" fill="#ff3300" stroke="none" stroke-width="1"/><rect x="58" y="410.1" width="2.3" height="28.5" fill="#ff3300" stroke="none" stroke-width="1"/><rect x="65.3" y="410.1" width="28" height="28.5" fill="#ff3300" stroke="none" stroke-width="1"/><rect x="95.8" y="410.1" width="38.3" height="28.5" fill="#ff3300" stroke="none" stroke-width="1"/><rect x="137" y="410.1" width="2.2" height="28.5" fill="#ff3300" stroke="none" stroke-width="1"/><rect x="141.8" y="410.1" width="7.8" height="28.5" fill="#ff3300" stroke="none" stroke-width="1"/><rect x="152" y="410.1" width="10.3" height="28.5" fill="#ff3300" stroke="none" stroke-width="1"/><rect x="164.9" y="410.1" width="15.3" height="28.5" fill="#ff3300" stroke="none" stroke-width="1"/><rect x="182.8" y="410.1" width="5.2" height="28.5" fill="#ff3300" stroke="none" stroke-width="1"/><rect x="195.2" y="410.1" width="10.7" height="28.5" fill="#ff3300" stroke="none" stroke-width="1"/><rect x="210.8" y="410.1" width="7.5" height="28.5" fill="#ff3300" stroke="none" stroke-width="1"/><rect x="223.2" y="410.1" width="2.7" height="28.5" fill="#ff3300" stroke="none" stroke-width="1"/><rect x="228.5" y="410.1" width="2.5" height="28.5" fill="#ff3300" stroke="none" stroke-width="1"/><rect x="233.6" y="410.1" width="2.4" height="28.5" fill="#ff3300" stroke="none" stroke-width="1"/><rect x="238.7" y="410.1" width="2.5" height="28.5" fill="#ff3300" stroke="none" stroke-width="1"/><rect x="246.2" y="410.1" width="2.8" height="28.5" fill="#ff3300" stroke="none" stroke-width="1"/><rect x="279.3" y="410.1" width="2.7" height="28.5" fill="#ff3300" stroke="none" stroke-width="1"/><rect x="284.5" y="410.1" width="2.5" height="28.5" fill="#ff3300" stroke="none" stroke-width="1"/><rect x="307.4" y="410.1" width="2.6" height="28.5" fill="#ff3300" stroke="none" stroke-width="1"/><rect x="312.7" y="410.1" width="2.5" height="28.5" fill="#ff3300" stroke="none" stroke-width="1"/><line x1="47.9" y1="410.1" x2="315.2" y2="410.1" stroke="#bbb" stroke-width="0.5"/><line x1="47.9" y1="438.6" x2="315.2" y2="438.6" stroke="#aaa" stroke-width="0.8"/><text x="26.3" y="399" font-family="Liberation Serif" font-size="6.3" text-anchor="start" font-weight="normal" fill="#222" stroke="#222" stroke-width="0.25">Con</text><text x="26" y="433.4" font-family="Liberation Serif" font-size="6" text-anchor="start" font-weight="normal" fill="#222" stroke="#222" stroke-width="0.25">Asthma</text><text x="327" y="217.2" font-family="Liberation Sans" font-size="17.5" text-anchor="start" font-weight="bold" fill="#000">E</text><line x1="374.8" y1="236.3" x2="374.8" y2="395.62" stroke="#111" stroke-width="1.2"/><line x1="371.8" y1="236.3" x2="374.8" y2="236.3" stroke="#111" stroke-width="1"/><text x="364.4" y="232.8" font-family="Liberation Sans" font-size="10.6" text-anchor="middle" font-weight="normal" fill="#000" transform="rotate(-90 364.4 232.8)" stroke="#000" stroke-width="0.25">1.0</text><line x1="371.8" y1="259.06" x2="374.8" y2="259.06" stroke="#111" stroke-width="1"/><text x="364.4" y="255.56" font-family="Liberation Sans" font-size="10.6" text-anchor="middle" font-weight="normal" fill="#000" transform="rotate(-90 364.4 255.56)" stroke="#000" stroke-width="0.25">0.9</text><line x1="371.8" y1="281.82" x2="374.8" y2="281.82" stroke="#111" stroke-width="1"/><text x="364.4" y="278.32" font-family="Liberation Sans" font-size="10.6" text-anchor="middle" font-weight="normal" fill="#000" transform="rotate(-90 364.4 278.32)" stroke="#000" stroke-width="0.25">0.8</text><line x1="371.8" y1="304.58" x2="374.8" y2="304.58" stroke="#111" stroke-width="1"/><text x="364.4" y="301.08" font-family="Liberation Sans" font-size="10.6" text-anchor="middle" font-weight="normal" fill="#000" transform="rotate(-90 364.4 301.08)" stroke="#000" stroke-width="0.25">0.7</text><line x1="371.8" y1="327.34" x2="374.8" y2="327.34" stroke="#111" stroke-width="1"/><text x="364.4" y="323.84" font-family="Liberation Sans" font-size="10.6" text-anchor="middle" font-weight="normal" fill="#000" transform="rotate(-90 364.4 323.84)" stroke="#000" stroke-width="0.25">0.6</text><line x1="371.8" y1="350.1" x2="374.8" y2="350.1" stroke="#111" stroke-width="1"/><text x="364.4" y="346.6" font-family="Liberation Sans" font-size="10.6" text-anchor="middle" font-weight="normal" fill="#000" transform="rotate(-90 364.4 346.6)" stroke="#000" stroke-width="0.25">0.5</text><line x1="371.8" y1="372.86" x2="374.8" y2="372.86" stroke="#111" stroke-width="1"/><text x="364.4" y="369.36" font-family="Liberation Sans" font-size="10.6" text-anchor="middle" font-weight="normal" fill="#000" transform="rotate(-90 364.4 369.36)" stroke="#000" stroke-width="0.25">0.4</text><line x1="371.8" y1="395.62" x2="374.8" y2="395.62" stroke="#111" stroke-width="1"/><text x="364.4" y="392.12" font-family="Liberation Sans" font-size="10.6" text-anchor="middle" font-weight="normal" fill="#000" transform="rotate(-90 364.4 392.12)" stroke="#000" stroke-width="0.25">0.3</text><text x="348.4" y="308.8" font-family="Liberation Sans" font-size="10.5" text-anchor="middle" font-weight="bold" fill="#000" transform="rotate(-90 348.4 308.8)">Height</text><path d="M391.6 243V399.5M397.49 243V399.5M403.37 243V399.5M409.25 243V399.5M415.14 243V399.5M421.02 243V399.5M426.91 243V399.5M432.79 243V399.5M438.68 243V399.5M444.56 243V399.5M450.45 243V399.5M456.33 243V399.5M462.22 243V399.5M468.1 243V399.5M473.99 243V399.5M479.87 243V399.5M485.76 243V399.5M491.64 243V399.5M497.53 243V399.5M503.41 243V399.5M509.3 243V399.5M515.18 243V399.5M521.07 243V399.5M526.95 243V399.5M532.84 243V399.5M538.72 243V399.5M544.61 243V399.5M550.49 243V399.5M556.38 243V399.5M562.26 243V399.5M568.15 243V399.5M574.03 243V399.5M579.92 243V399.5M585.8 243V399.5M591.69 243V399.5M597.57 243V399.5M603.46 243V399.5M609.34 243V399.5M615.23 243V399.5M621.11 243V399.5M627 243V399.5M632.88 243V399.5M638.77 243V399.5M644.65 243V399.5M650.54 243V399.5M656.42 243V399.5M662.31 243V399.5M668.19 243V399.5M674.08 243V399.5M679.96 243V399.5" stroke="#b8b8b8" stroke-width="0.6" stroke-dasharray="0.8 1.5" fill="none"/><path d="M386.3 236.6L386.8 236.6L387.3 236.6L387.8 236.6L388.3 236.6L388.8 236.6L389.3 236.6L389.8 236.6L390.3 236.6L390.8 236.6L391.3 236.6L391.8 236.6L392.3 236.6L392.8 236.6L393.3 236.6L393.8 236.6L394.3 236.6L394.8 236.6L395.3 236.6L395.8 236.6L396.3 236.6L396.8 236.6L397.3 236.6L397.8 236.6L398.3 236.6L398.8 236.6L399.3 236.6L399.8 236.6L400.3 236.6L400.8 236.6L401.3 236.6L401.8 236.6L402.3 236.6L402.8 236.6L403.3 236.6L403.8 236.6L404.3 236.6L404.8 236.6L405.3 236.6L405.8 236.6L406.3 236.6L406.8 236.6L407.3 236.6L407.8 236.6L408.3 236.6L408.8 236.6L409.3 236.6L409.8 236.6L410.3 236.6L410.8 236.6L411.3 236.6L411.8 236.6L412.3 236.6L412.8 236.6L413.3 236.6L413.8 236.6L414.3 236.6L414.8 236.6L415.3 236.6L415.8 236.6L416.3 236.6L416.8 236.6L417.3 236.6L417.8 236.6L418.3 236.6L418.8 236.6L419.3 236.6L419.8 236.6L420.3 236.6L420.8 236.6L421.3 236.6L421.8 236.6L422.3 236.6L422.8 236.6L423.3 236.6L423.8 236.6L424.3 236.6L424.8 236.6L425.3 236.6L425.8 236.6L426.3 236.6L426.8 236.6L427.3 236.6L427.8 236.6L428.3 236.6L428.8 236.6L429.3 236.6L429.8 236.6L430.3 236.6L430.8 236.6L431.3 236.6L431.8 236.6L432.3 236.6L432.8 236.6L433.3 236.6L433.8 236.6L434.3 236.6L434.8 236.6L435.3 236.6L435.8 236.6L436.3 236.6L436.8 236.6L437.3 236.8L437.8 237.2L438.3 237.7L438.8 238.5L439.3 240.2L439.3 248.9L438.8 248.6L438.3 248.4L437.8 246.2L437.3 245.6L436.8 245.7L436.3 246.1L435.8 245.7L435.3 243.6L434.8 244.9L434.3 244.2L433.8 244L433.3 243.2L432.8 243.7L432.3 242.7L431.8 241.9L431.3 242L430.8 242.3L430.3 242.9L429.8 241.6L429.3 243.2L428.8 242.7L428.3 242.6L427.8 242.1L427.3 242.7L426.8 242.1L426.3 242L425.8 242.1L425.3 243.1L424.8 242.7L424.3 242.5L423.8 242.5L423.3 243.2L422.8 242.1L422.3 243.2L421.8 242.7L421.3 241.6L420.8 242.7L420.3 242.6L419.8 242.8L419.3 243.1L418.8 242.2L418.3 242.7L417.8 241.8L417.3 241.6L416.8 242.7L416.3 241.7L415.8 241.8L415.3 241.7L414.8 242L414.3 241.6L413.8 243L413.3 242.6L412.8 242.9L412.3 242.5L411.8 241.9L411.3 243.3L410.8 243.2L410.3 242.9L409.8 242.8L409.3 242.1L408.8 242.8L408.3 243L407.8 242.3L407.3 242.9L406.8 242.3L406.3 242.1L405.8 242.7L405.3 242.3L404.8 242.5L404.3 242.4L403.8 243.4L403.3 241.9L402.8 242.7L402.3 241.8L401.8 243.2L401.3 243.1L400.8 242.6L400.3 243.4L399.8 241.7L399.3 242.6L398.8 243.3L398.3 241.8L397.8 243L397.3 243L396.8 243.3L396.3 242L395.8 241.6L395.3 241.6L394.8 241.6L394.3 242.9L393.8 243.1L393.3 241.6L392.8 241.7L392.3 242.1L391.8 242.8L391.3 242.6L390.8 243.2L390.3 243.2L389.8 241.8L389.3 243L388.8 241.6L388.3 242L387.8 242.8L387.3 241.7L386.8 243.3L386.3 242.7Z" fill="#000"/><path d="M446.9 236.6L447.4 236.6L447.9 236.6L448.4 236.6L448.9 236.6L449.4 236.6L449.9 236.6L450.4 236.6L450.9 236.6L451.4 236.6L451.9 236.6L452.4 236.6L452.9 236.6L453.4 236.6L453.9 236.6L454.4 236.6L454.9 236.6L455.4 236.6L455.9 236.6L456.4 236.6L456.9 236.6L457.4 236.6L457.9 236.6L458.4 236.6L458.9 236.8L459.4 237.2L459.9 237.7L460.4 238.5L460.9 240.2L461.4 236.6L461.9 236.6L462.4 236.6L462.9 236.6L463.4 236.6L463.9 236.6L464.4 236.6L464.9 236.6L465.4 236.6L465.9 236.6L466.4 236.6L466.9 236.6L467.4 236.6L467.9 236.6L468.4 236.6L468.9 236.6L469.4 236.6L469.9 236.6L470.4 236.6L470.9 236.6L471.4 236.6L471.9 236.6L472.4 236.6L472.9 236.6L473.4 236.6L473.9 236.6L474.4 236.6L474.9 236.6L475.4 236.6L475.9 236.6L476.4 236.6L476.9 236.6L477.4 236.6L477.9 236.6L478.4 236.6L478.9 236.6L479.4 236.6L479.9 236.6L480.4 236.6L480.9 236.6L481.4 236.6L481.9 236.6L482.4 236.6L482.9 236.6L483.4 236.6L483.9 236.6L484.4 236.6L484.9 236.6L485.4 236.6L485.9 236.6L486.4 236.6L486.9 236.6L487.4 236.6L487.9 236.6L488.4 236.6L488.9 236.6L489.4 236.6L489.9 236.6L490.4 236.6L490.9 236.6L491.4 236.6L491.9 236.6L492.4 236.6L492.9 236.6L493.4 236.6L493.9 236.6L494.4 236.6L494.9 236.6L495.4 236.6L495.9 236.6L496.4 236.6L496.9 236.6L497.4 236.6L497.9 236.6L498.4 236.6L498.9 236.6L499.4 236.6L499.9 236.6L500.4 236.6L500.9 236.6L501.4 236.6L501.9 236.6L502.4 236.6L502.9 236.6L503.4 236.6L503.9 236.6L504.4 236.6L504.9 236.6L505.4 236.6L505.9 236.6L506.4 236.6L506.9 236.6L507.4 236.6L507.9 236.6L508.4 236.6L508.9 236.6L509.4 236.6L509.9 236.6L510.4 236.6L510.9 236.6L511.4 236.6L511.9 236.6L512.4 236.6L512.9 236.6L513.4 236.6L513.9 236.6L514.4 236.6L514.9 236.6L515.4 236.6L515.9 236.6L516.4 236.6L516.9 236.6L517.4 236.6L517.9 236.6L518.4 236.6L518.9 236.6L519.4 236.6L519.9 236.6L520.4 236.6L520.9 236.6L521.4 236.6L521.9 236.6L522.4 236.6L522.9 236.6L523.4 236.6L523.9 236.6L524.4 236.6L524.9 236.6L525.4 236.6L525.9 236.6L526.4 236.6L526.9 236.6L527.4 236.6L527.9 236.8L528.4 237.2L528.9 237.7L529.4 238.5L529.9 240.2L530.4 236.6L530.9 236.6L531.4 236.6L531.9 236.6L532.4 236.6L532.9 236.6L533.4 236.6L533.9 236.6L534.4 236.6L534.9 236.6L535.4 236.6L535.9 236.6L536.4 236.6L536.9 236.6L537.4 236.6L537.9 236.6L538.4 236.6L538.9 236.6L539.4 236.6L539.9 236.6L540.4 236.6L540.9 236.6L541.4 236.6L541.9 236.6L542.4 236.6L542.9 236.6L543.4 236.6L543.9 236.6L544.4 236.6L544.9 236.6L545.4 236.6L545.9 236.6L546.4 236.6L546.9 236.6L547.4 236.6L547.9 236.6L548.4 236.6L548.9 236.6L549.4 236.7L549.9 236.8L550.4 237L550.9 237.2L551.4 237.5L551.9 237.8L552.4 238.2L552.9 238.6L553.4 239.1L553.9 239.7L554.4 240.4L554.9 241.2L555.4 242.2L555.9 243.3L556.4 244.7L556.9 246.8L556.9 262.7L556.4 261.4L555.9 261.1L555.4 258.9L554.9 258.8L554.4 257.4L553.9 255.7L553.4 255.2L552.9 254L552.4 253.2L551.9 253L551.4 252.1L550.9 251.4L550.4 249.6L549.9 248.2L549.4 248.8L548.9 248.4L548.4 247.1L547.9 245.7L547.4 246.4L546.9 244.6L546.4 244.2L545.9 244.1L545.4 244L544.9 244.5L544.4 243.3L543.9 243.6L543.4 243.8L542.9 242.6L542.4 242.6L541.9 243.4L541.4 241.9L540.9 242.4L540.4 241.9L539.9 242.4L539.4 242L538.9 242L538.4 242.5L537.9 242.1L537.4 243.1L536.9 243.2L536.4 241.8L535.9 241.8L535.4 242.7L534.9 241.8L534.4 242.5L533.9 241.6L533.4 241.7L532.9 242.4L532.4 242L531.9 242.7L531.4 242.9L530.9 242.1L530.4 242.2L529.9 250.3L529.4 249.3L528.9 248.7L528.4 248.3L527.9 246.8L527.4 247.8L526.9 246.6L526.4 246.4L525.9 244.8L525.4 243.9L524.9 244.5L524.4 243L523.9 242.9L523.4 242.9L522.9 243.2L522.4 243.1L521.9 243.6L521.4 242.4L520.9 242.4L520.4 243.3L519.9 243.3L519.4 243.2L518.9 242.4L518.4 242.1L517.9 242L517.4 242.4L516.9 250.5L516.4 250L515.9 249.4L515.4 248.6L514.9 247.7L514.4 246.6L513.9 247.7L513.4 246.4L512.9 245.3L512.4 245.2L511.9 244.4L511.4 244.3L510.9 244.7L510.4 243.7L509.9 243.6L509.4 244.5L508.9 244.2L508.4 243.2L507.9 243L507.4 243.5L506.9 243.8L506.4 242.6L505.9 242.5L505.4 243.1L504.9 242.1L504.4 243.4L503.9 243.3L503.4 243.1L502.9 241.8L502.4 241.9L501.9 243.1L501.4 242.8L500.9 243.3L500.4 242.9L499.9 242.7L499.4 242.6L498.9 243.3L498.4 243.2L497.9 242.4L497.4 243.1L496.9 242L496.4 241.9L495.9 242.1L495.4 242.3L494.9 242.8L494.4 243.2L493.9 241.9L493.4 242.6L492.9 243.2L492.4 242.7L491.9 242.8L491.4 242.8L490.9 242.1L490.4 242.9L489.9 242.2L489.4 242.5L488.9 242.3L488.4 242.8L487.9 243.1L487.4 242.5L486.9 242.2L486.4 242.5L485.9 249.4L485.4 248.1L484.9 248.2L484.4 247.1L483.9 246.4L483.4 246.6L482.9 245L482.4 245.2L481.9 244.4L481.4 243.4L480.9 243.8L480.4 243.8L479.9 244.1L479.4 243.1L478.9 243.5L478.4 242.2L477.9 243.3L477.4 242.3L476.9 243.3L476.4 241.8L475.9 243L475.4 242.1L474.9 242.3L474.4 242.9L473.9 242.8L473.4 243L472.9 242.6L472.4 241.8L471.9 241.7L471.4 242L470.9 241.8L470.4 242.2L469.9 241.8L469.4 243.1L468.9 242.9L468.4 242.5L467.9 242L467.4 243.3L466.9 241.8L466.4 241.9L465.9 241.7L465.4 241.7L464.9 241.7L464.4 241.7L463.9 243.4L463.4 243L462.9 242.4L462.4 242.8L461.9 242.9L461.4 242.3L460.9 253.6L460.4 253.1L459.9 250.7L459.4 250.5L458.9 248.9L458.4 248.1L457.9 246.8L457.4 246.2L456.9 244.9L456.4 245.7L455.9 244.4L455.4 243.4L454.9 243.9L454.4 243.2L453.9 243.2L453.4 242.4L452.9 242.3L452.4 242.8L451.9 242.8L451.4 241.7L450.9 243L450.4 242L449.9 241.8L449.4 242.8L448.9 242.9L448.4 242.5L447.9 242.1L447.4 243.2L446.9 241.9Z" fill="#000"/><path d="M558.3 236.6L558.8 236.6L559.3 236.6L559.8 236.6L560.3 236.6L560.8 236.6L561.3 236.6L561.8 236.6L562.3 236.6L562.8 236.6L563.3 236.6L563.8 236.6L564.3 236.6L564.8 236.6L565.3 236.6L565.8 236.6L566.3 236.6L566.8 236.6L567.3 236.6L567.8 236.6L568.3 236.6L568.8 236.6L569.3 236.6L569.8 236.6L570.3 236.6L570.8 236.6L571.3 236.6L571.8 236.6L572.3 236.6L572.8 236.6L573.3 236.6L573.8 236.6L574.3 236.6L574.8 236.6L575.3 236.6L575.8 236.6L576.3 236.6L576.8 236.7L577.3 236.9L577.8 237.3L578.3 237.8L578.8 238.4L579.3 239.4L579.8 241L580.3 236.6L580.8 236.6L581.3 236.6L581.8 236.6L582.3 236.6L582.8 236.6L583.3 236.6L583.8 236.6L584.3 236.6L584.8 236.6L585.3 236.6L585.8 236.6L586.3 236.6L586.8 236.6L587.3 236.6L587.8 236.6L588.3 236.6L588.8 236.6L589.3 236.6L589.8 236.6L590.3 236.6L590.8 236.7L591.3 236.8L591.8 236.9L592.3 237.1L592.8 237.4L593.3 237.7L593.8 238.1L594.3 238.6L594.8 239.2L595.3 239.8L595.8 240.6L596.3 241.5L596.8 242.7L597.3 244.2L597.8 246.6L597.8 259.5L597.3 258.5L596.8 257.6L596.3 256L595.8 253.7L595.3 252.4L594.8 251.7L594.3 250.5L593.8 248.8L593.3 248.1L592.8 248.3L592.3 247.2L591.8 246.3L591.3 245.3L590.8 245.1L590.3 245L589.8 244.5L589.3 242.7L588.8 242.9L588.3 243.3L587.8 243.6L587.3 243.4L586.8 242.1L586.3 242.4L585.8 242.4L585.3 243.2L584.8 241.8L584.3 243L583.8 242.3L583.3 242.7L582.8 241.7L582.3 243.1L581.8 242.6L581.3 242.4L580.8 243L580.3 241.6L579.8 253.5L579.3 252.5L578.8 250.6L578.3 249.8L577.8 249.5L577.3 248.3L576.8 246.9L576.3 246.5L575.8 246.2L575.3 245.2L574.8 244.8L574.3 243.7L573.8 244.1L573.3 242.9L572.8 242.7L572.3 242.4L571.8 242L571.3 241.6L570.8 242.9L570.3 242.7L569.8 241.6L569.3 243L568.8 243L568.3 243.1L567.8 242.4L567.3 242.3L566.8 242.4L566.3 242.6L565.8 242L565.3 242.8L564.8 243.1L564.3 242.5L563.8 243L563.3 241.9L562.8 242.9L562.3 242.2L561.8 242.4L561.3 242.2L560.8 242.9L560.3 241.8L559.8 241.8L559.3 242.1L558.8 242.5L558.3 242.2Z" fill="#000"/><path d="M598.8 236.6L599.3 236.6L599.8 236.6L600.3 236.6L600.8 236.6L601.3 236.6L601.8 236.6L602.3 236.6L602.8 236.6L603.3 236.6L603.8 236.6L604.3 236.6L604.8 236.6L605.3 236.6L605.8 236.6L606.3 236.6L606.8 236.6L607.3 236.6L607.8 236.6L608.3 236.6L608.8 236.6L609.3 236.6L609.8 236.6L610.3 236.6L610.8 236.6L611.3 236.6L611.8 236.6L612.3 236.6L612.8 236.6L613.3 236.6L613.8 236.6L614.3 236.6L614.8 236.6L615.3 236.6L615.8 236.6L616.3 236.6L616.8 236.6L617.3 236.6L617.8 236.6L618.3 236.6L618.8 236.6L619.3 236.6L619.8 236.6L620.3 236.6L620.8 236.6L621.3 236.6L621.8 236.6L622.3 236.6L622.8 236.6L623.3 236.6L623.8 236.6L624.3 236.6L624.8 236.6L625.3 236.6L625.8 236.6L626.3 236.6L626.8 236.6L627.3 236.6L627.8 236.6L628.3 236.6L628.8 236.6L629.3 236.6L629.8 236.6L630.3 236.6L630.8 236.6L631.3 236.6L631.8 236.6L632.3 236.6L632.8 236.6L633.3 236.6L633.8 236.6L634.3 236.6L634.8 236.6L635.3 236.6L635.8 236.6L636.3 236.6L636.8 236.6L637.3 236.6L637.8 236.6L638.3 236.6L638.8 236.6L639.3 236.6L639.8 236.6L640.3 236.6L640.8 236.6L641.3 236.6L641.8 236.6L642.3 236.6L642.8 236.6L643.3 236.6L643.8 236.6L644.3 236.6L644.8 236.6L645.3 236.6L645.8 236.6L646.3 236.6L646.8 236.6L647.3 236.6L647.8 236.6L648.3 236.6L648.8 236.6L649.3 236.6L649.8 236.6L650.3 236.6L650.8 236.6L651.3 236.6L651.8 236.6L652.3 236.6L652.8 236.6L653.3 236.6L653.8 236.6L654.3 236.6L654.8 236.6L655.3 236.6L655.8 236.6L656.3 236.6L656.8 236.6L657.3 236.6L657.8 236.6L658.3 236.6L658.8 236.6L659.3 236.6L659.8 236.6L660.3 236.6L660.8 236.6L661.3 236.6L661.8 236.6L662.3 236.6L662.8 236.6L663.3 236.6L663.8 236.6L664.3 236.6L664.8 236.6L665.3 236.6L665.8 236.6L666.3 236.6L666.8 236.6L667.3 236.6L667.8 236.6L668.3 236.6L668.8 236.6L669.3 236.6L669.8 236.6L670.3 236.6L670.8 236.6L671.3 236.6L671.8 236.6L672.3 236.6L672.8 236.6L673.3 236.6L673.8 236.6L674.3 236.6L674.8 236.6L675.3 236.7L675.8 236.8L676.3 237L676.8 237.3L677.3 237.7L677.8 238.2L678.3 238.8L678.8 239.5L679.3 240.4L679.8 241.7L680.3 243.7L680.3 251.5L679.8 249.9L679.3 250.5L678.8 250L678.3 250L677.8 249L677.3 249.4L676.8 249.7L676.3 249.4L675.8 249.1L675.3 247.9L674.8 247.9L674.3 247L673.8 246.7L673.3 247.5L672.8 247L672.3 247.5L671.8 245.7L671.3 246.7L670.8 245.8L670.3 246.3L669.8 245.6L669.3 245.4L668.8 245.4L668.3 245.5L667.8 244.7L667.3 244.5L666.8 245.3L666.3 245L665.8 245L665.3 244.8L664.8 244.6L664.3 244.3L663.8 244L663.3 244.3L662.8 243.8L662.3 243.9L661.8 243.7L661.3 243.7L660.8 243.6L660.3 243L659.8 242.8L659.3 243.5L658.8 242.7L658.3 242.4L657.8 243.7L657.3 243.2L656.8 242.5L656.3 242.1L655.8 243.2L655.3 243.5L654.8 242.6L654.3 242.8L653.8 242.8L653.3 243.3L652.8 242.5L652.3 242.3L651.8 241.7L651.3 242.4L650.8 243L650.3 241.8L649.8 243L649.3 242.3L648.8 242L648.3 241.7L647.8 242.8L647.3 243.3L646.8 242.2L646.3 242.5L645.8 241.8L645.3 243.2L644.8 241.7L644.3 243.1L643.8 243.3L643.3 242.1L642.8 241.8L642.3 242L641.8 242.2L641.3 242.3L640.8 242.3L640.3 242.8L639.8 243.4L639.3 242L638.8 242.5L638.3 242.4L637.8 242.1L637.3 241.9L636.8 242.4L636.3 242.9L635.8 242.1L635.3 241.7L634.8 242.6L634.3 241.8L633.8 242.1L633.3 242.5L632.8 242.2L632.3 242.2L631.8 242.3L631.3 243.2L630.8 242L630.3 243.3L629.8 242.2L629.3 242.6L628.8 242.5L628.3 243.2L627.8 242.6L627.3 243.3L626.8 243.1L626.3 242.9L625.8 243.1L625.3 242.8L624.8 243.3L624.3 243.4L623.8 242.4L623.3 242.5L622.8 241.7L622.3 242L621.8 242.9L621.3 242.7L620.8 242.2L620.3 241.7L619.8 243L619.3 242.9L618.8 242.5L618.3 243.2L617.8 242.7L617.3 241.7L616.8 242.1L616.3 241.6L615.8 242L615.3 241.8L614.8 242.4L614.3 242.7L613.8 243.1L613.3 242.2L612.8 242.4L612.3 242.7L611.8 242.9L611.3 242L610.8 242.7L610.3 242L609.8 242.7L609.3 243L608.8 242.2L608.3 242.9L607.8 243.3L607.3 241.8L606.8 242.1L606.3 243.2L605.8 243.1L605.3 242.5L604.8 242.1L604.3 243.1L603.8 243.4L603.3 242.2L602.8 241.7L602.3 243.4L601.8 242.1L601.3 241.9L600.8 242.2L600.3 242.5L599.8 242.8L599.3 242.4L598.8 242.7Z" fill="#000"/><path d="M386.3 242.2V244.1M386.8 242.8V244.6M387.3 241.2V242.3M387.8 242.3V245.1M388 242.3V243.4M388.3 241.5V242.8M388.8 241.1V241.9M389 241.1V244.1M389.3 242.5V243.2M389.8 241.3V243.2M390 241.3V241.9M390.3 242.7V243.5M390.5 242.7V247.2M390.8 242.7V243.8M391.3 242.1V244.8M391.5 242.1V245.9M391.8 242.3V250.2M392.3 241.6V243.2M392.5 241.6V242.4M392.8 241.2V242.6M393.3 241.1V244.7M393.5 241.1V242.2M393.8 242.6V245M394 242.6V244.2M394.3 242.4V243M394.8 241.1V246M395.3 241.1V246.7M395.5 241.1V243.3M395.8 241.1V241.8M396 241.1V247.9M396.3 241.5V246.8M396.8 242.8V244.8M397 242.8V244.9M397.3 242.5V243.4M397.8 242.5V250.1M398 242.5V249.4M398.3 241.3V243.3M398.8 242.8V244.8M399.3 242.1V243.9M399.5 242.1V243M399.8 241.2V242.3M400.3 242.9V244M400.5 242.9V252.5M400.8 242.1V244.4M401 242.1V244.4M401.3 242.6V245.2M401.5 242.6V243.2M401.8 242.7V243.4M402 242.7V246.9M402.3 241.3V246.1M402.8 242.2V247.7M403 242.2V243.8M403.3 241.4V247.6M403.5 241.4V243M403.8 242.9V249.2M404.3 241.9V244.4M404.8 242V243.5M405 242V242.7M405.3 241.8V254.9M405.8 242.2V244.7M406 242.2V242.9M406.3 241.6V246.3M406.8 241.8V246.5M407.3 242.4V245.8M407.8 241.8V245.6M408 241.8V243.4M408.3 242.5V246.3M408.5 242.5V247.8M408.8 242.3V245.2M409 242.3V244.1M409.3 241.6V245.3M409.5 241.6V245M409.8 242.3V247.5M410 242.3V244.6M410.3 242.4V248.2M410.5 242.4V246.3M410.8 242.7V246.8M411.3 242.8V245.7M411.8 241.4V247.9M412.3 242V246.5M412.8 242.4V243.6M413.3 242.1V246.6M413.5 242.1V244.8M413.8 242.5V246.8M414.3 241.1V242.3M414.5 241.1V244.1M414.8 241.5V246.5M415.3 241.2V244.2M415.5 241.2V241.8M415.8 241.3V243.4M416 241.3V242.4M416.3 241.2V244.2M416.5 241.2V244M416.8 242.2V243.8M417.3 241.1V243.8M417.5 241.1V242.9M417.8 241.3V249.3M418 241.3V241.9M418.3 242.2V243.1M418.8 241.7V245.8M419.3 242.6V245.3M419.8 242.3V244.6M420 242.3V245M420.3 242.1V255.1M420.8 242.2V244.4M421.3 241.1V242M421.8 242.2V243.2M422.3 242.7V244.8M422.5 242.7V243.7M422.8 241.6V253.7M423 241.6V248.4M423.3 242.7V246M423.5 242.7V250.5M423.8 242V244M424 242V249.6M424.3 242V243.4M424.5 242V242.7M424.8 242.2V244.1M425 242.2V244.9M425.3 242.6V243.1M425.8 241.6V247.6M426.3 241.5V242.6M426.5 241.5V246.9M426.8 241.6V243.6M427 241.6V243.2M427.3 242.2V244.6M427.5 242.2V244.1M427.8 241.6V243.1M428 241.6V242.5M428.3 242.1V243.2M428.5 242.1V243.9M428.8 242.2V242.7M429 242.2V243.3M429.3 242.7V245.4M429.8 241.1V243.1M430 241.1V242.5M430.3 242.4V243.9M430.5 242.4V245.3M430.8 241.8V242.8M431.3 241.5V242.4M431.8 241.4V243.7M432.3 242.2V243M432.8 243.2V243.9M433 243.2V244.5M433.3 242.7V243.6M433.5 242.7V244.1M433.8 243.5V244.1M434 243.5V245.7M434.3 243.7V245.3M434.5 243.7V245.5M434.8 244.4V251.3M435.3 243.1V245.5M435.5 243.1V244.7M435.8 245.2V247M436 245.2V246M436.3 245.6V246.3M436.8 245.2V245.9M437.3 245.1V245.8M437.5 245.1V245.7M437.8 245.7V247.7M438.3 247.9V248.6M438.5 247.9V248.7M438.8 248.1V250M439.3 248.4V249.1M446.9 241.4V243.9M447.4 242.7V244.8M447.9 241.6V243.6M448.1 241.6V243.7M448.4 242V242.8M448.6 242V243M448.9 242.4V243.3M449.4 242.3V242.9M449.9 241.3V242M450.4 241.5V245.4M450.6 241.5V242.4M450.9 242.5V243.1M451.4 241.2V241.9M451.9 242.3V243.2M452.1 242.3V246.4M452.4 242.3V245.4M452.6 242.3V243.8M452.9 241.8V242.7M453.1 241.8V243.3M453.4 241.9V243.2M453.6 241.9V244.2M453.9 242.7V245.9M454.1 242.7V245.1M454.4 242.7V244.8M454.9 243.4V244.9M455.1 243.4V244M455.4 242.9V243.4M455.9 243.9V247.6M456.1 243.9V245.1M456.4 245.2V248M456.6 245.2V246.5M456.9 244.4V245.4M457.1 244.4V245.6M457.4 245.7V252.4M457.6 245.7V246.6M457.9 246.3V247.4M458.1 246.3V247.2M458.4 247.6V248.2M458.9 248.4V259.4M459.4 250V253.2M459.9 250.2V255.6M460.1 250.2V253M460.4 252.6V254M460.6 252.6V253.2M460.9 253.1V254M461.1 253.1V261.8M461.4 241.8V243.7M461.6 241.8V243M461.9 242.4V248.1M462.1 242.4V243.6M462.4 242.3V254.7M462.9 241.9V258.6M463.1 241.9V242.5M463.4 242.5V245.4M463.6 242.5V245.1M463.9 242.9V246.7M464.1 242.9V243.7M464.4 241.2V252.4M464.6 241.2V249.4M464.9 241.2V243M465.1 241.2V243.1M465.4 241.2V243.1M465.6 241.2V242.8M465.9 241.2V241.9M466.4 241.4V245.3M466.6 241.4V244.1M466.9 241.3V243.5M467.1 241.3V244M467.4 242.8V247.6M467.9 241.5V242.1M468.4 242V246.3M468.6 242V245.2M468.9 242.4V253.8M469.1 242.4V244.5M469.4 242.6V244.2M469.6 242.6V244.1M469.9 241.3V248M470.4 241.7V242.7M470.6 241.7V242.8M470.9 241.3V243.9M471.4 241.5V242.3M471.9 241.2V242.5M472.1 241.2V242.7M472.4 241.3V243.6M472.6 241.3V244.6M472.9 242.1V249.8M473.4 242.5V245.5M473.6 242.5V246M473.9 242.3V251.5M474.4 242.4V243.7M474.9 241.8V242.6M475.1 241.8V242.6M475.4 241.6V244.7M475.6 241.6V242.2M475.9 242.5V244.8M476.1 242.5V243M476.4 241.3V242.8M476.9 242.8V245.2M477.1 242.8V244M477.4 241.8V243.1M477.6 241.8V243.3M477.9 242.8V245.7M478.1 242.8V244.1M478.4 241.7V244.4M478.6 241.7V245.2M478.9 243V243.7M479.1 243V246M479.4 242.6V244.1M479.6 242.6V244.6M479.9 243.6V245.5M480.4 243.3V244M480.9 243.3V243.9M481.4 242.9V245.1M481.6 242.9V245.7M481.9 243.9V244.9M482.1 243.9V244.7M482.4 244.7V246.1M482.9 244.5V246M483.1 244.5V249.7M483.4 246.1V251.2M483.9 245.9V246.8M484.4 246.6V247.2M484.6 246.6V247.2M484.9 247.7V254.6M485.1 247.7V250.2M485.4 247.6V251.5M485.9 248.9V254.3M486.1 248.9V249.4M486.4 242V244.5M486.6 242V243.2M486.9 241.7V242.2M487.1 241.7V242.8M487.4 242V245.3M487.6 242V248.1M487.9 242.6V249.1M488.4 242.3V244.6M488.9 241.8V244.3M489.4 242V243.3M489.6 242V242.7M489.9 241.7V244.1M490.4 242.4V243.7M490.9 241.6V244.6M491.1 241.6V243.8M491.4 242.3V248.9M491.9 242.3V246.2M492.4 242.2V243.1M492.9 242.7V243.6M493.4 242.1V243.3M493.6 242.1V243.1M493.9 241.4V243.3M494.4 242.7V244.3M494.6 242.7V243.4M494.9 242.3V243.7M495.4 241.8V244.5M495.6 241.8V242.6M495.9 241.6V243.1M496.4 241.4V242.9M496.9 241.5V242.1M497.4 242.6V245.2M497.9 241.9V242.9M498.4 242.7V243.6M498.6 242.7V244.2M498.9 242.8V243.5M499.1 242.8V243.5M499.4 242.1V243.5M499.6 242.1V242.8M499.9 242.2V243.7M500.4 242.4V243M500.6 242.4V244.7M500.9 242.8V243.7M501.4 242.3V245.4M501.6 242.3V244M501.9 242.6V243.8M502.1 242.6V243.3M502.4 241.4V242M502.6 241.4V242.8M502.9 241.3V243.2M503.4 242.6V244.7M503.9 242.8V246.4M504.4 242.9V243.5M504.6 242.9V243.5M504.9 241.6V242.7M505.1 241.6V243.2M505.4 242.6V243.2M505.6 242.6V243.9M505.9 242V242.7M506.4 242.1V244.9M506.6 242.1V246.5M506.9 243.3V243.9M507.4 243V244.4M507.6 243V244.4M507.9 242.5V246.6M508.4 242.7V244.2M508.6 242.7V245.2M508.9 243.7V246.8M509.1 243.7V244.9M509.4 244V246.9M509.6 244V245.5M509.9 243.1V247.5M510.1 243.1V244.3M510.4 243.2V246.1M510.9 244.2V246.6M511.4 243.8V246M511.9 243.9V250.5M512.1 243.9V244.5M512.4 244.7V247.9M512.6 244.7V246.9M512.9 244.8V246.4M513.4 245.9V249.2M513.6 245.9V247.2M513.9 247.2V253M514.4 246.1V248.9M514.9 247.2V251.9M515.4 248.1V253.4M515.6 248.1V248.7M515.9 248.9V251.9M516.4 249.5V261.7M516.6 249.5V266.4M516.9 250V261M517.1 250V254M517.4 241.9V255.8M517.9 241.5V244M518.1 241.5V243.4M518.4 241.6V246M518.6 241.6V242.5M518.9 241.9V242.7M519.1 241.9V247.2M519.4 242.7V243.9M519.6 242.7V246.8M519.9 242.8V246.3M520.1 242.8V243.9M520.4 242.8V252.1M520.6 242.8V243.7M520.9 241.9V243.4M521.4 241.9V246.9M521.6 241.9V243.7M521.9 243.1V247.2M522.1 243.1V243.8M522.4 242.6V244.5M522.6 242.6V244.3M522.9 242.7V253.1M523.1 242.7V244.6M523.4 242.4V245.2M523.9 242.4V244.8M524.4 242.5V247.4M524.6 242.5V244.2M524.9 244V249.2M525.1 244V245.6M525.4 243.4V245.4M525.6 243.4V243.9M525.9 244.3V246.7M526.4 245.9V248M526.9 246.1V256M527.4 247.3V249M527.6 247.3V252.6M527.9 246.3V249M528.4 247.8V250.2M528.9 248.2V251.9M529.4 248.8V251.1M529.6 248.8V250.9M529.9 249.8V252.9M530.1 249.8V250.5M530.4 241.7V242.8M530.9 241.6V243.2M531.4 242.4V244M531.9 242.2V244.5M532.4 241.5V243.2M532.9 241.9V251M533.1 241.9V242.7M533.4 241.2V246.8M533.9 241.1V241.8M534.4 242V250.2M534.6 242V244.5M534.9 241.3V246.6M535.4 242.2V243.6M535.9 241.3V242M536.4 241.3V242M536.6 241.3V244M536.9 242.7V247.5M537.1 242.7V245.3M537.4 242.6V243.5M537.9 241.6V243.2M538.1 241.6V244.7M538.4 242V249.4M538.6 242V242.8M538.9 241.5V242.8M539.4 241.5V242.2M539.6 241.5V242.1M539.9 241.9V244.7M540.4 241.4V242.3M540.6 241.4V243.5M540.9 241.9V244.2M541.4 241.4V242.5M541.6 241.4V242.8M541.9 242.9V244.7M542.4 242.1V244.8M542.9 242.1V242.7M543.1 242.1V243M543.4 243.3V244.2M543.9 243.1V246.7M544.1 243.1V245.1M544.4 242.8V243.4M544.9 244V245.4M545.1 244V248.1M545.4 243.5V245M545.9 243.6V244.7M546.1 243.6V244.2M546.4 243.7V245.5M546.6 243.7V246.2M546.9 244.1V245M547.1 244.1V247.5M547.4 245.9V248.7M547.9 245.2V246.3M548.1 245.2V245.8M548.4 246.6V247.5M548.6 246.6V247.8M548.9 247.9V251.3M549.1 247.9V248.5M549.4 248.3V248.9M549.9 247.7V252.6M550.4 249.1V250M550.9 250.9V252.1M551.1 250.9V252.1M551.4 251.6V252.8M551.9 252.5V253.7M552.4 252.7V253.5M552.6 252.7V256M552.9 253.5V255.4M553.4 254.7V257M553.6 254.7V256.6M553.9 255.2V257.5M554.4 256.9V257.9M554.6 256.9V258.6M554.9 258.3V259.2M555.4 258.4V259.6M555.6 258.4V259.6M555.9 260.6V268.9M556.1 260.6V262.4M556.4 260.9V265.2M556.6 260.9V262M556.9 262.2V268.5M557.1 262.2V264.5M558.3 241.7V244.3M558.8 242V247.6M559.3 241.6V243.1M559.8 241.3V243.2M560 241.3V247.6M560.3 241.3V244.6M560.8 242.4V242.9M561.3 241.7V247.1M561.8 241.9V247M562.3 241.7V245.5M562.8 242.4V245.3M563.3 241.4V243.6M563.5 241.4V244.2M563.8 242.5V247.3M564 242.5V244.1M564.3 242V242.8M564.5 242V247.6M564.8 242.6V243.8M565.3 242.3V243.9M565.8 241.5V242.7M566 241.5V243.4M566.3 242.1V245.5M566.8 241.9V243.1M567.3 241.8V244.1M567.8 241.9V244.7M568 241.9V242.8M568.3 242.6V243.4M568.5 242.6V243.1M568.8 242.5V243.2M569 242.5V243.7M569.3 242.5V244.4M569.8 241.1V244.9M570.3 242.2V246.5M570.8 242.4V247M571.3 241.1V246.5M571.8 241.5V242.2M572 241.5V242.2M572.3 241.9V242.7M572.5 241.9V242.4M572.8 242.2V243.7M573.3 242.4V243.4M573.8 243.6V247.6M574 243.6V245M574.3 243.2V245.4M574.5 243.2V244.8M574.8 244.3V248.8M575.3 244.7V250.4M575.8 245.7V252.3M576 245.7V248.5M576.3 246V255.3M576.8 246.4V247.9M577 246.4V247.6M577.3 247.8V255.1M577.5 247.8V250.1M577.8 249V251.8M578 249V251.8M578.3 249.3V250.6M578.5 249.3V249.8M578.8 250.1V253.6M579 250.1V250.6M579.3 252V270.5M579.8 253V268.8M580 253V254M580.3 241.1V241.9M580.8 242.5V246M581.3 241.9V254.3M581.8 242.1V243.5M582 242.1V244.2M582.3 242.6V244.3M582.5 242.6V247.9M582.8 241.2V245.3M583 241.2V244.8M583.3 242.2V243.1M583.8 241.8V244.1M584.3 242.5V244.7M584.8 241.3V245M585 241.3V244.5M585.3 242.7V247.5M585.5 242.7V245.1M585.8 241.9V244.8M586 241.9V243.2M586.3 241.9V242.7M586.8 241.6V243.4M587 241.6V242.9M587.3 242.9V244.6M587.5 242.9V244.3M587.8 243.1V243.9M588 243.1V244M588.3 242.8V245.3M588.5 242.8V247M588.8 242.4V246.4M589 242.4V246.5M589.3 242.2V243.5M589.5 242.2V243.2M589.8 244V246.4M590 244V245.6M590.3 244.5V247.2M590.5 244.5V246.5M590.8 244.6V246.4M591 244.6V245.3M591.3 244.8V250.3M591.5 244.8V245.9M591.8 245.8V248.3M592 245.8V246.9M592.3 246.7V247.3M592.5 246.7V248.7M592.8 247.8V248.5M593 247.8V249.3M593.3 247.6V250.4M593.5 247.6V248.7M593.8 248.3V249.7M594.3 250V254.8M594.8 251.2V256.1M595 251.2V252.4M595.3 251.9V254.8M595.5 251.9V254.5M595.8 253.2V257.6M596.3 255.5V257.4M596.8 257.1V258M597.3 258V260.5M597.5 258V258.7M597.8 259V268.5M598 259V259.8M598.8 242.2V243.5M599.3 241.9V242.9M599.5 241.9V244.1M599.8 242.3V243.2M600 242.3V243.7M600.3 242V246.3M600.8 241.7V242.9M601.3 241.4V246.8M601.5 241.4V242.6M601.8 241.6V243.5M602 241.6V242.4M602.3 242.9V246.4M602.5 242.9V244.1M602.8 241.2V241.9M603 241.2V246.6M603.3 241.7V242.7M603.5 241.7V242.3M603.8 242.9V246.1M604.3 242.6V246.3M604.5 242.6V243.3M604.8 241.6V242.2M605 241.6V243.7M605.3 242V242.5M605.5 242V244.8M605.8 242.6V245.8M606.3 242.7V244.9M606.5 242.7V244.3M606.8 241.6V242.2M607 241.6V242.8M607.3 241.3V242M607.5 241.3V242.3M607.8 242.8V244.5M608.3 242.4V244.5M608.5 242.4V243.5M608.8 241.7V243.8M609.3 242.5V243.6M609.5 242.5V243M609.8 242.2V243M610 242.2V243M610.3 241.5V242.3M610.8 242.2V243M611.3 241.5V244.7M611.5 241.5V242.9M611.8 242.4V244.2M612 242.4V244.9M612.3 242.2V243.9M612.5 242.2V242.9M612.8 241.9V243.2M613 241.9V243.8M613.3 241.7V242.9M613.8 242.6V243.5M614.3 242.2V243.8M614.5 242.2V243M614.8 241.9V243.4M615.3 241.3V242.4M615.8 241.5V242.1M616.3 241.1V242.3M616.5 241.1V241.7M616.8 241.6V242.3M617 241.6V244.5M617.3 241.2V242.2M617.8 242.2V242.7M618 242.2V243.1M618.3 242.7V243.8M618.5 242.7V243.9M618.8 242V242.6M619.3 242.4V243.6M619.8 242.5V247.1M620.3 241.2V242.7M620.8 241.7V244.1M621 241.7V243.2M621.3 242.2V244.8M621.8 242.4V245.4M622.3 241.5V244.2M622.8 241.2V245.2M623 241.2V242.7M623.3 242V246M623.8 241.9V250.6M624 241.9V243.9M624.3 242.9V244.6M624.8 242.8V243.6M625.3 242.3V245.5M625.8 242.6V243.7M626 242.6V245.3M626.3 242.4V255.1M626.8 242.6V243.4M627 242.6V248.9M627.3 242.8V249.1M627.5 242.8V246.9M627.8 242.1V247.2M628.3 242.7V248.5M628.8 242V245.5M629.3 242.1V242.8M629.8 241.7V245.2M630 241.7V242.7M630.3 242.8V244.7M630.5 242.8V247.7M630.8 241.5V246.9M631.3 242.7V246M631.5 242.7V244M631.8 241.8V242.3M632 241.8V242.7M632.3 241.7V248.4M632.8 241.7V243.4M633 241.7V244.7M633.3 242V243M633.8 241.6V242.7M634.3 241.3V244M634.8 242.1V250.2M635 242.1V249.1M635.3 241.2V249.8M635.5 241.2V241.7M635.8 241.6V257.6M636.3 242.4V248.5M636.5 242.4V243.7M636.8 241.9V250.2M637.3 241.4V255.4M637.8 241.6V242.4M638 241.6V243.5M638.3 241.9V243.5M638.8 242V243.5M639.3 241.5V243.6M639.5 241.5V242.5M639.8 242.9V246M640.3 242.3V245.8M640.8 241.8V242.7M641 241.8V242.5M641.3 241.8V242.4M641.8 241.7V242.9M642 241.7V243.3M642.3 241.5V247M642.5 241.5V242.1M642.8 241.3V247.6M643.3 241.6V245.5M643.5 241.6V245.7M643.8 242.8V246.3M644 242.8V244.2M644.3 242.6V245.6M644.5 242.6V243.6M644.8 241.2V243.8M645 241.2V242.7M645.3 242.7V250M645.5 242.7V245.9M645.8 241.3V250.6M646.3 242V249.1M646.5 242V249.7M646.8 241.7V250.2M647.3 242.8V247.4M647.5 242.8V243.9M647.8 242.3V250.5M648.3 241.2V243.1M648.5 241.2V242M648.8 241.5V244.4M649 241.5V242.6M649.3 241.8V252.1M649.8 242.5V251.9M650 242.5V247.2M650.3 241.3V242.5M650.8 242.5V246.1M651 242.5V245.5M651.3 241.9V243.1M651.5 241.9V242.6M651.8 241.2V251.3M652.3 241.8V243.9M652.5 241.8V245.1M652.8 242V243.1M653.3 242.8V243.5M653.5 242.8V243.8M653.8 242.3V244.1M654 242.3V243.4M654.3 242.3V244.6M654.5 242.3V244.6M654.8 242.1V249.8M655 242.1V244.9M655.3 243V245.7M655.8 242.7V245.9M656 242.7V243.9M656.3 241.6V242.2M656.8 242V243M657 242V242.5M657.3 242.7V243.9M657.5 242.7V244.3M657.8 243.2V245.3M658 243.2V248.2M658.3 241.9V243.5M658.8 242.2V245M659.3 243V243.7M659.8 242.3V243.8M660.3 242.5V243.3M660.5 242.5V246.8M660.8 243.1V244.3M661.3 243.2V244M661.5 243.2V243.9M661.8 243.2V244.6M662.3 243.4V245.8M662.8 243.3V244.3M663 243.3V244.2M663.3 243.8V245.2M663.5 243.8V247.4M663.8 243.5V245.4M664.3 243.8V245.1M664.5 243.8V244.4M664.8 244.1V245.1M665 244.1V246.3M665.3 244.3V246.3M665.5 244.3V245M665.8 244.5V245.2M666.3 244.5V245.3M666.5 244.5V245.9M666.8 244.8V246.2M667.3 244V245.8M667.5 244V245.3M667.8 244.2V245M668.3 245V248.3M668.8 244.9V246.9M669.3 244.9V245.9M669.8 245.1V245.6M670 245.1V246M670.3 245.8V248.4M670.5 245.8V248M670.8 245.3V246.8M671.3 246.2V248M671.8 245.2V247.7M672.3 247V248M672.8 246.5V254.9M673 246.5V248.6M673.3 247V261.7M673.5 247V248.2M673.8 246.2V250.4M674 246.2V249.7M674.3 246.5V247.7M674.8 247.4V252.7M675 247.4V248.4M675.3 247.4V262.4M675.5 247.4V252M675.8 248.6V253.2M676 248.6V251.4M676.3 248.9V252.7M676.5 248.9V251.1M676.8 249.2V253.1M677 249.2V250.1M677.3 248.9V249.6M677.5 248.9V250.3M677.8 248.5V251.6M678 248.5V250.5M678.3 249.5V251.5M678.8 249.5V256.1M679.3 250V253.7M679.8 249.4V250.3M680.3 251V251.5" stroke="#0a0a0a" stroke-width="0.45" fill="none"/><path d="M395.9 240V260M397.5 240V271.7M400.6 240V260M418.5 240V257.7M425.5 240V257.7M426.7 240V252.6M437.5 240V267M462.9 240V271.7M463.6 240V267M473.4 240V257.7M481.1 240V260M492.1 240V255M502.6 240V255M515 240V255M520.2 240V264.7M527.2 240V262.4M541.3 240V255.5M552.6 240V270.3M565.1 240V257.8M573 240V257.8M584.3 240V256.7M593.4 240V265.7M601.3 240V247.6M629.6 240V247.6M638.6 240V266.9M664.6 240V247.6" stroke="#333" stroke-width="0.8" fill="none"/><line x1="415.5" y1="240" x2="415.5" y2="389.5" stroke="#555" stroke-width="0.9"/><path d="M439 236.8L439.65 238.5L440.27 240.19L440.85 241.89L441.4 243.59L441.91 245.29L442.4 246.98L442.85 248.68L443.27 250.38L443.66 252.08L444.02 253.77L444.36 255.47L444.67 257.17L444.96 258.87L445.22 260.56L445.47 262.26L445.69 263.96L445.89 265.66L446.07 267.35L446.23 269.05L446.38 270.75L446.51 272.45L446.62 274.14L446.73 275.84L446.81 277.54L446.89 279.24L446.96 280.93L447.01 282.63L447.06 284.33L447.09 286.03L447.12 287.72L447.15 289.42L447.17 291.12L447.18 292.82L447.19 294.51L447.19 296.21L447.2 297.91L447.2 299.61L447.2 301.3L447.2 303" stroke="#000" stroke-width="1.7" fill="none"/><line x1="386.3" y1="236.4" x2="680.5" y2="236.4" stroke="#000" stroke-width="0.9"/><rect x="386.6" y="402.3" width="2" height="37.2" fill="#9a9ab8" stroke="none" stroke-width="1"/><rect x="388" y="402.3" width="1.7" height="37.2" fill="#708090" stroke="none" stroke-width="1"/><rect x="389.1" y="402.3" width="1.5" height="37.2" fill="#8a7fa0" stroke="none" stroke-width="1"/><rect x="390" y="402.3" width="1.3" height="37.2" fill="#a08a90" stroke="none" stroke-width="1"/><rect x="390.7" y="402.3" width="2.4" height="37.2" fill="#6a6ab0" stroke="none" stroke-width="1"/><rect x="392.5" y="402.3" width="2.4" height="37.2" fill="#8a8aa0" stroke="none" stroke-width="1"/><rect x="394.3" y="402.3" width="1.7" height="37.2" fill="#7a9a9a" stroke="none" stroke-width="1"/><rect x="395.4" y="402.3" width="2.4" height="37.2" fill="#b0a080" stroke="none" stroke-width="1"/><rect x="397.2" y="402.3" width="1.3" height="37.2" fill="#b0a080" stroke="none" stroke-width="1"/><rect x="397.9" y="402.3" width="2" height="37.2" fill="#8a7fa0" stroke="none" stroke-width="1"/><rect x="399.3" y="402.3" width="2" height="37.2" fill="#b0a080" stroke="none" stroke-width="1"/><rect x="400.7" y="402.3" width="2" height="37.2" fill="#8a7fa0" stroke="none" stroke-width="1"/><rect x="402.1" y="402.3" width="1.5" height="37.2" fill="#9090d0" stroke="none" stroke-width="1"/><rect x="403" y="402.3" width="1.3" height="37.2" fill="#8a8aa0" stroke="none" stroke-width="1"/><rect x="403.7" y="402.3" width="1.5" height="37.2" fill="#7a9a9a" stroke="none" stroke-width="1"/><rect x="404.6" y="402.3" width="2.4" height="37.2" fill="#8a8aa0" stroke="none" stroke-width="1"/><rect x="406.4" y="402.3" width="2" height="37.2" fill="#8878a8" stroke="none" stroke-width="1"/><rect x="407.8" y="402.3" width="1.3" height="37.2" fill="#708090" stroke="none" stroke-width="1"/><rect x="408.5" y="402.3" width="1.5" height="37.2" fill="#5f8f9f" stroke="none" stroke-width="1"/><rect x="409.4" y="402.3" width="1.5" height="37.2" fill="#b0a080" stroke="none" stroke-width="1"/><rect x="410.3" y="402.3" width="2" height="37.2" fill="#8a8aa0" stroke="none" stroke-width="1"/><rect x="411.7" y="402.3" width="1.7" height="37.2" fill="#9090d0" stroke="none" stroke-width="1"/><rect x="412.8" y="402.3" width="2" height="37.2" fill="#708090" stroke="none" stroke-width="1"/><rect x="414.2" y="402.3" width="1.7" height="37.2" fill="#8878a8" stroke="none" stroke-width="1"/><rect x="415.3" y="402.3" width="1.3" height="37.2" fill="#9090d0" stroke="none" stroke-width="1"/><rect x="416" y="402.3" width="1.3" height="37.2" fill="#80b080" stroke="none" stroke-width="1"/><rect x="416.7" y="402.3" width="1.3" height="37.2" fill="#80b080" stroke="none" stroke-width="1"/><rect x="417.4" y="402.3" width="2" height="37.2" fill="#8a7fa0" stroke="none" stroke-width="1"/><rect x="418.8" y="402.3" width="1.3" height="37.2" fill="#9090d0" stroke="none" stroke-width="1"/><rect x="419.5" y="402.3" width="2" height="37.2" fill="#b0a080" stroke="none" stroke-width="1"/><rect x="420.9" y="402.3" width="1.3" height="37.2" fill="#9a9ab8" stroke="none" stroke-width="1"/><rect x="421.6" y="402.3" width="1.3" height="37.2" fill="#8a8aa0" stroke="none" stroke-width="1"/><rect x="422.3" y="402.3" width="1.6" height="37.2" fill="#9090d0" stroke="none" stroke-width="1"/><rect x="423.9" y="402.3" width="2.9" height="37.2" fill="#a00000" stroke="none" stroke-width="1"/><rect x="426.5" y="402.3" width="1.5" height="37.2" fill="#708090" stroke="none" stroke-width="1"/><rect x="427.4" y="402.3" width="1.3" height="37.2" fill="#5f9ea0" stroke="none" stroke-width="1"/><rect x="428.1" y="402.3" width="1.5" height="37.2" fill="#5a9aa0" stroke="none" stroke-width="1"/><rect x="429" y="402.3" width="1.3" height="37.2" fill="#5a9aa0" stroke="none" stroke-width="1"/><rect x="429.7" y="402.3" width="1.3" height="37.2" fill="#5a9aa0" stroke="none" stroke-width="1"/><rect x="430.4" y="402.3" width="2" height="37.2" fill="#5a9aa0" stroke="none" stroke-width="1"/><rect x="431.8" y="402.3" width="1.3" height="37.2" fill="#6b8e6b" stroke="none" stroke-width="1"/><rect x="432.7" y="402.3" width="0.4" height="37.2" fill="#6b8e6b" stroke="none" stroke-width="1"/><rect x="433.1" y="402.3" width="1.2" height="37.2" fill="#b0b0c0" stroke="none" stroke-width="1"/><rect x="434" y="402.3" width="13.3" height="37.2" fill="#000000" stroke="none" stroke-width="1"/><rect x="447" y="402.3" width="1.5" height="37.2" fill="#6a8a9a" stroke="none" stroke-width="1"/><rect x="447.9" y="402.3" width="1.3" height="37.2" fill="#6a8a9a" stroke="none" stroke-width="1"/><rect x="448.6" y="402.3" width="2.4" height="37.2" fill="#5f9ea0" stroke="none" stroke-width="1"/><rect x="450.4" y="402.3" width="1.5" height="37.2" fill="#a08a8a" stroke="none" stroke-width="1"/><rect x="451.3" y="402.3" width="1.3" height="37.2" fill="#8a7a7a" stroke="none" stroke-width="1"/><rect x="452" y="402.3" width="1.7" height="37.2" fill="#a08a8a" stroke="none" stroke-width="1"/><rect x="453.1" y="402.3" width="2.4" height="37.2" fill="#7a7a8a" stroke="none" stroke-width="1"/><rect x="454.9" y="402.3" width="1.5" height="37.2" fill="#6a8a9a" stroke="none" stroke-width="1"/><rect x="455.8" y="402.3" width="1.7" height="37.2" fill="#6a8a9a" stroke="none" stroke-width="1"/><rect x="456.9" y="402.3" width="2.4" height="37.2" fill="#8a7a7a" stroke="none" stroke-width="1"/><rect x="458.7" y="402.3" width="1.3" height="37.2" fill="#7a7a8a" stroke="none" stroke-width="1"/><rect x="459.4" y="402.3" width="1.6" height="37.2" fill="#5f9ea0" stroke="none" stroke-width="1"/><rect x="460.8" y="402.3" width="0.2" height="37.2" fill="#a08a8a" stroke="none" stroke-width="1"/><rect x="461" y="402.3" width="3.8" height="37.2" fill="#4169e1" stroke="none" stroke-width="1"/><rect x="464.5" y="402.3" width="2.4" height="37.2" fill="#5f9ea0" stroke="none" stroke-width="1"/><rect x="466.3" y="402.3" width="1.7" height="37.2" fill="#66b0a0" stroke="none" stroke-width="1"/><rect x="467.4" y="402.3" width="2.4" height="37.2" fill="#4a9a8a" stroke="none" stroke-width="1"/><rect x="469.2" y="402.3" width="2.4" height="37.2" fill="#66b0a0" stroke="none" stroke-width="1"/><rect x="471" y="402.3" width="1.3" height="37.2" fill="#66b0a0" stroke="none" stroke-width="1"/><rect x="471.7" y="402.3" width="1.7" height="37.2" fill="#5f9ea0" stroke="none" stroke-width="1"/><rect x="472.8" y="402.3" width="2.4" height="37.2" fill="#8a9a9a" stroke="none" stroke-width="1"/><rect x="474.6" y="402.3" width="1.4" height="37.2" fill="#2e8b57" stroke="none" stroke-width="1"/><rect x="476" y="402.3" width="10.3" height="37.2" fill="#ff00ff" stroke="none" stroke-width="1"/><rect x="486" y="402.3" width="6" height="37.2" fill="#90ee90" stroke="none" stroke-width="1"/><rect x="491.7" y="402.3" width="2.9" height="37.2" fill="#5f8f8f" stroke="none" stroke-width="1"/><rect x="494.3" y="402.3" width="3.8" height="37.2" fill="#a020f0" stroke="none" stroke-width="1"/><rect x="497.8" y="402.3" width="6.5" height="37.2" fill="#90ee90" stroke="none" stroke-width="1"/><rect x="504" y="402.3" width="2.9" height="37.2" fill="#8b7060" stroke="none" stroke-width="1"/><rect x="506.6" y="402.3" width="2.9" height="37.2" fill="#2e8b57" stroke="none" stroke-width="1"/><rect x="509.2" y="402.3" width="1.1" height="37.2" fill="#9a9a9a" stroke="none" stroke-width="1"/><rect x="510" y="402.3" width="5.3" height="37.2" fill="#e0ffff" stroke="none" stroke-width="1"/><rect x="515" y="402.3" width="12.9" height="37.2" fill="#006400" stroke="none" stroke-width="1"/><rect x="527.6" y="402.3" width="2" height="37.2" fill="#708090" stroke="none" stroke-width="1"/><rect x="529" y="402.3" width="2.4" height="37.2" fill="#5f9ea0" stroke="none" stroke-width="1"/><rect x="530.8" y="402.3" width="2" height="37.2" fill="#6a9aa0" stroke="none" stroke-width="1"/><rect x="532.2" y="402.3" width="1.3" height="37.2" fill="#4a8aa0" stroke="none" stroke-width="1"/><rect x="532.9" y="402.3" width="1.3" height="37.2" fill="#708090" stroke="none" stroke-width="1"/><rect x="533.6" y="402.3" width="1" height="37.2" fill="#4a8aa0" stroke="none" stroke-width="1"/><rect x="534.5" y="402.3" width="0.1" height="37.2" fill="#6a9aa0" stroke="none" stroke-width="1"/><rect x="534.6" y="402.3" width="5.2" height="37.2" fill="#00ffff" stroke="none" stroke-width="1"/><rect x="539.5" y="402.3" width="2.1" height="37.2" fill="#fa8072" stroke="none" stroke-width="1"/><rect x="541.3" y="402.3" width="3.8" height="37.2" fill="#6a9ac0" stroke="none" stroke-width="1"/><rect x="544.8" y="402.3" width="2" height="37.2" fill="#b030e0" stroke="none" stroke-width="1"/><rect x="546.5" y="402.3" width="11.6" height="37.2" fill="#40e0d0" stroke="none" stroke-width="1"/><rect x="557.8" y="402.3" width="1.3" height="37.2" fill="#7a4a2a" stroke="none" stroke-width="1"/><rect x="558.5" y="402.3" width="1.7" height="37.2" fill="#a52a2a" stroke="none" stroke-width="1"/><rect x="559.6" y="402.3" width="2.4" height="37.2" fill="#a52a2a" stroke="none" stroke-width="1"/><rect x="561.4" y="402.3" width="1.3" height="37.2" fill="#8b3a2a" stroke="none" stroke-width="1"/><rect x="562.1" y="402.3" width="2.4" height="37.2" fill="#8b3a2a" stroke="none" stroke-width="1"/><rect x="563.9" y="402.3" width="2" height="37.2" fill="#7a4a2a" stroke="none" stroke-width="1"/><rect x="565.3" y="402.3" width="1.5" height="37.2" fill="#a52a2a" stroke="none" stroke-width="1"/><rect x="566.2" y="402.3" width="2" height="37.2" fill="#a52a2a" stroke="none" stroke-width="1"/><rect x="567.6" y="402.3" width="1.3" height="37.2" fill="#8b3a2a" stroke="none" stroke-width="1"/><rect x="568.3" y="402.3" width="1.9" height="37.2" fill="#7a4a2a" stroke="none" stroke-width="1"/><rect x="570.1" y="402.3" width="0.1" height="37.2" fill="#7a4a2a" stroke="none" stroke-width="1"/><rect x="570.2" y="402.3" width="1.6" height="37.2" fill="#a52a2a" stroke="none" stroke-width="1"/><rect x="571.5" y="402.3" width="2.8" height="37.2" fill="#e0ffff" stroke="none" stroke-width="1"/><rect x="574" y="402.3" width="2.2" height="37.2" fill="#00ffff" stroke="none" stroke-width="1"/><rect x="575.9" y="402.3" width="1.5" height="37.2" fill="#a52a2a" stroke="none" stroke-width="1"/><rect x="576.8" y="402.3" width="1.5" height="37.2" fill="#a52a2a" stroke="none" stroke-width="1"/><rect x="577.7" y="402.3" width="1.3" height="37.2" fill="#a52a2a" stroke="none" stroke-width="1"/><rect x="578.4" y="402.3" width="1.5" height="37.2" fill="#a52a2a" stroke="none" stroke-width="1"/><rect x="579.3" y="402.3" width="1.5" height="37.2" fill="#a52a2a" stroke="none" stroke-width="1"/><rect x="580.2" y="402.3" width="2.4" height="37.2" fill="#a52a2a" stroke="none" stroke-width="1"/><rect x="582" y="402.3" width="1.3" height="37.2" fill="#a52a2a" stroke="none" stroke-width="1"/><rect x="582.7" y="402.3" width="1.3" height="37.2" fill="#8b4513" stroke="none" stroke-width="1"/><rect x="583.4" y="402.3" width="1.5" height="37.2" fill="#8b4513" stroke="none" stroke-width="1"/><rect x="584.3" y="402.3" width="1.7" height="37.2" fill="#7a3a20" stroke="none" stroke-width="1"/><rect x="585.4" y="402.3" width="1.3" height="37.2" fill="#a52a2a" stroke="none" stroke-width="1"/><rect x="586.1" y="402.3" width="1.7" height="37.2" fill="#a52a2a" stroke="none" stroke-width="1"/><rect x="587.2" y="402.3" width="2" height="37.2" fill="#7a3a20" stroke="none" stroke-width="1"/><rect x="588.6" y="402.3" width="1.7" height="37.2" fill="#a52a2a" stroke="none" stroke-width="1"/><rect x="589.7" y="402.3" width="1.3" height="37.2" fill="#7a3a20" stroke="none" stroke-width="1"/><rect x="590.4" y="402.3" width="0.6" height="37.2" fill="#a52a2a" stroke="none" stroke-width="1"/><rect x="591" y="402.3" width="2.3" height="37.2" fill="#006400" stroke="none" stroke-width="1"/><rect x="593" y="402.3" width="6" height="37.2" fill="#a52a2a" stroke="none" stroke-width="1"/><rect x="598.7" y="402.3" width="1.3" height="37.2" fill="#5050e0" stroke="none" stroke-width="1"/><rect x="599.4" y="402.3" width="2" height="37.2" fill="#6a6ae0" stroke="none" stroke-width="1"/><rect x="600.8" y="402.3" width="2.4" height="37.2" fill="#5050e0" stroke="none" stroke-width="1"/><rect x="602.6" y="402.3" width="2.4" height="37.2" fill="#6a6ae0" stroke="none" stroke-width="1"/><rect x="604.4" y="402.3" width="1.7" height="37.2" fill="#7070f0" stroke="none" stroke-width="1"/><rect x="605.5" y="402.3" width="1.7" height="37.2" fill="#5050e0" stroke="none" stroke-width="1"/><rect x="607.2" y="402.3" width="23.1" height="37.2" fill="#ffff00" stroke="none" stroke-width="1"/><rect x="630" y="402.3" width="1.7" height="37.2" fill="#2020c0" stroke="none" stroke-width="1"/><rect x="631.1" y="402.3" width="1.3" height="37.2" fill="#2a2ad0" stroke="none" stroke-width="1"/><rect x="631.8" y="402.3" width="2.4" height="37.2" fill="#1a1ab0" stroke="none" stroke-width="1"/><rect x="633.6" y="402.3" width="1.5" height="37.2" fill="#0000ee" stroke="none" stroke-width="1"/><rect x="634.5" y="402.3" width="1.3" height="37.2" fill="#1a1ab0" stroke="none" stroke-width="1"/><rect x="635.2" y="402.3" width="1.5" height="37.2" fill="#0000ee" stroke="none" stroke-width="1"/><rect x="636.1" y="402.3" width="1.3" height="37.2" fill="#1a1ab0" stroke="none" stroke-width="1"/><rect x="636.8" y="402.3" width="1.5" height="37.2" fill="#0000cd" stroke="none" stroke-width="1"/><rect x="637.7" y="402.3" width="2" height="37.2" fill="#3030e0" stroke="none" stroke-width="1"/><rect x="639.1" y="402.3" width="2.4" height="37.2" fill="#3030e0" stroke="none" stroke-width="1"/><rect x="640.9" y="402.3" width="2" height="37.2" fill="#2020c0" stroke="none" stroke-width="1"/><rect x="642.3" y="402.3" width="1.5" height="37.2" fill="#3030e0" stroke="none" stroke-width="1"/><rect x="643.2" y="402.3" width="2" height="37.2" fill="#3030e0" stroke="none" stroke-width="1"/><rect x="644.6" y="402.3" width="1.7" height="37.2" fill="#3030e0" stroke="none" stroke-width="1"/><rect x="645.7" y="402.3" width="1.3" height="37.2" fill="#1818a0" stroke="none" stroke-width="1"/><rect x="646.4" y="402.3" width="1.3" height="37.2" fill="#3030e0" stroke="none" stroke-width="1"/><rect x="647.1" y="402.3" width="2.4" height="37.2" fill="#0000cd" stroke="none" stroke-width="1"/><rect x="648.9" y="402.3" width="2.4" height="37.2" fill="#2a2ad0" stroke="none" stroke-width="1"/><rect x="650.7" y="402.3" width="2.4" height="37.2" fill="#3030e0" stroke="none" stroke-width="1"/><rect x="652.5" y="402.3" width="2.4" height="37.2" fill="#1818a0" stroke="none" stroke-width="1"/><rect x="654.3" y="402.3" width="1.3" height="37.2" fill="#1818a0" stroke="none" stroke-width="1"/><rect x="655" y="402.3" width="2.4" height="37.2" fill="#3030e0" stroke="none" stroke-width="1"/><rect x="656.8" y="402.3" width="1.6" height="37.2" fill="#2020c0" stroke="none" stroke-width="1"/><rect x="657.9" y="402.3" width="0.5" height="37.2" fill="#1818a0" stroke="none" stroke-width="1"/><rect x="658.4" y="402.3" width="22.2" height="37.2" fill="#0000ff" stroke="none" stroke-width="1"/><rect x="637" y="402.3" width="0.9" height="37.2" fill="#206020" stroke="none" stroke-width="1"/><rect x="645.2" y="402.3" width="0.9" height="37.2" fill="#8020d0" stroke="none" stroke-width="1"/><rect x="386.5" y="402.3" width="293.7" height="37.2" fill="none" stroke="#555" stroke-width="0.7"/><text x="338.9" y="418.2" font-family="Liberation Sans" font-size="11.2" text-anchor="start" font-weight="normal" fill="#000" stroke="#000" stroke-width="0.3">Dynamic</text><text x="339.4" y="431.3" font-family="Liberation Sans" font-size="11.2" text-anchor="start" font-weight="normal" fill="#000" stroke="#000" stroke-width="0.3">Tree Cut</text></svg></body></html>
